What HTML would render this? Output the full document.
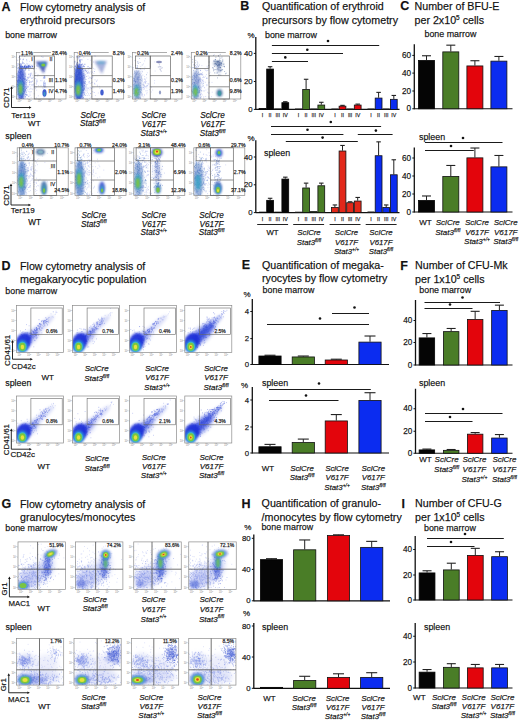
<!DOCTYPE html>
<html><head><meta charset="utf-8"><style>
html,body{margin:0;padding:0;background:#fff;width:520px;height:720px;overflow:hidden}
svg{display:block}
text{font-family:"Liberation Sans",sans-serif;stroke:#111;stroke-width:0.25px;stroke-opacity:0.75}
</style></head><body>
<svg width="520" height="720" viewBox="0 0 520 720">
<defs><filter id="bl" x="-50%" y="-50%" width="200%" height="200%"><feGaussianBlur stdDeviation="0.9"/></filter>
<filter id="f0_4" x="-50%" y="-50%" width="200%" height="200%"><feGaussianBlur stdDeviation="0.4"/></filter>
<filter id="f0_5" x="-50%" y="-50%" width="200%" height="200%"><feGaussianBlur stdDeviation="0.5"/></filter>
<filter id="f0_6" x="-50%" y="-50%" width="200%" height="200%"><feGaussianBlur stdDeviation="0.6"/></filter>
<filter id="f0_7" x="-50%" y="-50%" width="200%" height="200%"><feGaussianBlur stdDeviation="0.7"/></filter>
<filter id="f0_8" x="-50%" y="-50%" width="200%" height="200%"><feGaussianBlur stdDeviation="0.8"/></filter>
<filter id="f0_9" x="-50%" y="-50%" width="200%" height="200%"><feGaussianBlur stdDeviation="0.9"/></filter>
<filter id="f1" x="-50%" y="-50%" width="200%" height="200%"><feGaussianBlur stdDeviation="1"/></filter>
<filter id="f1_2" x="-50%" y="-50%" width="200%" height="200%"><feGaussianBlur stdDeviation="1.2"/></filter>
<filter id="f1_5" x="-50%" y="-50%" width="200%" height="200%"><feGaussianBlur stdDeviation="1.5"/></filter>
<filter id="f2" x="-50%" y="-50%" width="200%" height="200%"><feGaussianBlur stdDeviation="2"/></filter>
<filter id="f2_5" x="-50%" y="-50%" width="200%" height="200%"><feGaussianBlur stdDeviation="2.5"/></filter><clipPath id="c1"><rect x="16.5" y="52.5" width="49.5" height="46.5"/></clipPath>
<clipPath id="c2"><rect x="74.2" y="52.5" width="49.5" height="46.5"/></clipPath>
<clipPath id="c3"><rect x="132.5" y="52.5" width="49.5" height="46.5"/></clipPath>
<clipPath id="c4"><rect x="191.3" y="52.5" width="49.5" height="46.5"/></clipPath>
<clipPath id="c5"><rect x="17.2" y="147.8" width="51" height="47.7"/></clipPath>
<clipPath id="c6"><rect x="75" y="147.8" width="51" height="47.7"/></clipPath>
<clipPath id="c7"><rect x="133.8" y="147.8" width="51" height="47.7"/></clipPath>
<clipPath id="c8"><rect x="193.8" y="147.8" width="51" height="47.7"/></clipPath>
<clipPath id="c9"><rect x="16.4" y="305.5" width="47" height="47"/></clipPath>
<clipPath id="c10"><rect x="72.6" y="305.5" width="47" height="47"/></clipPath>
<clipPath id="c11"><rect x="129.5" y="305.5" width="47" height="47"/></clipPath>
<clipPath id="c12"><rect x="184.8" y="305.5" width="47" height="47"/></clipPath>
<clipPath id="c13"><rect x="16.4" y="396" width="47" height="47"/></clipPath>
<clipPath id="c14"><rect x="72.6" y="396" width="47" height="47"/></clipPath>
<clipPath id="c15"><rect x="129.5" y="396" width="47" height="47"/></clipPath>
<clipPath id="c16"><rect x="184.8" y="396" width="47" height="47"/></clipPath>
<clipPath id="c17"><rect x="18" y="541.9" width="47.5" height="47.7"/></clipPath>
<clipPath id="c18"><rect x="75.4" y="541.9" width="47.5" height="47.7"/></clipPath>
<clipPath id="c19"><rect x="133.75" y="541.9" width="47.5" height="47.7"/></clipPath>
<clipPath id="c20"><rect x="188.75" y="541.9" width="47.5" height="47.7"/></clipPath>
<clipPath id="c21"><rect x="16.5" y="638.5" width="47.2" height="46.6"/></clipPath>
<clipPath id="c22"><rect x="74" y="638.5" width="47.2" height="46.6"/></clipPath>
<clipPath id="c23"><rect x="131.5" y="638.5" width="47.2" height="46.6"/></clipPath>
<clipPath id="c24"><rect x="188.75" y="638.5" width="47.2" height="46.6"/></clipPath></defs>
<rect width="520" height="720" fill="#fff"/>
<text x="1.5" y="10.8" font-size="12.5" text-anchor="start" font-weight="bold" font-style="normal" fill="#111" >A</text>
<text x="20" y="10.5" font-size="10.7" text-anchor="start" font-weight="normal" font-style="normal" fill="#111" >Flow cytometry analysis of</text>
<text x="20" y="24" font-size="10.7" text-anchor="start" font-weight="normal" font-style="normal" fill="#111" >erythroid precursors</text>
<text x="5.2" y="38" font-size="8.9" text-anchor="start" font-weight="normal" font-style="normal" fill="#111" >bone marrow</text>
<g clip-path="url(#c1)"><path d="M20.2 88.4h0M20.3 78.0h0M18.3 79.3h0M24.3 87.3h0M24.0 85.1h0M22.2 84.3h0M16.1 92.8h0M22.5 88.3h0M16.0 60.0h0M18.4 76.1h0M21.9 81.4h0M22.5 73.9h0M21.9 87.0h0M19.1 103.6h0M22.6 97.1h0M19.2 72.7h0M20.0 80.7h0M22.9 85.1h0M19.7 69.9h0M19.5 97.4h0M18.6 85.1h0M22.3 63.2h0M21.1 98.5h0M15.1 77.9h0M20.7 71.7h0M22.5 81.2h0M16.7 92.4h0M23.0 93.9h0M25.2 86.6h0M21.4 65.6h0M22.8 74.3h0M19.7 66.1h0M18.2 75.3h0M24.8 56.4h0M16.7 85.0h0M25.2 89.3h0M15.4 50.3h0M22.1 72.7h0M17.7 94.3h0M24.2 84.0h0M21.7 87.5h0M25.7 89.8h0M22.5 88.9h0M16.4 98.1h0M23.8 88.7h0M15.2 74.0h0M23.5 59.2h0M20.5 94.8h0M17.1 102.3h0M22.6 80.1h0M22.0 90.2h0M21.4 96.4h0M19.1 76.8h0M24.1 82.3h0M18.4 93.9h0M25.3 76.4h0M16.9 80.3h0M20.6 78.2h0M25.1 69.1h0M24.7 66.0h0M18.7 90.0h0M24.3 92.8h0M22.0 83.8h0M21.4 89.2h0M20.5 85.5h0M22.7 82.0h0M23.2 89.1h0M26.9 86.1h0M19.7 77.3h0M21.0 93.6h0M20.0 86.9h0M26.4 49.7h0M17.7 85.1h0M22.2 85.0h0M19.7 90.3h0M21.8 75.4h0M28.1 86.5h0M19.4 80.7h0M20.3 81.2h0M13.0 75.9h0M24.0 67.3h0M20.8 94.0h0M23.5 100.8h0M16.0 77.5h0M20.0 89.9h0M24.2 48.2h0M24.2 63.8h0M23.0 63.2h0M21.5 97.1h0M20.6 84.4h0M23.3 83.8h0M20.7 101.3h0M24.1 78.3h0M29.1 67.5h0M23.7 78.7h0M21.4 90.9h0M21.7 90.0h0M16.5 63.0h0M22.8 69.9h0M18.0 63.5h0M24.7 91.4h0M25.3 70.2h0M21.0 67.6h0M23.3 102.0h0M18.4 101.7h0M23.9 79.8h0M15.2 99.7h0M20.7 74.4h0M22.2 87.2h0M25.4 69.1h0M24.3 100.7h0M25.3 79.7h0M18.8 94.8h0M21.3 83.6h0M25.2 78.7h0M14.2 77.1h0M15.5 92.3h0M21.9 74.3h0M21.0 92.5h0M21.2 98.7h0M20.8 95.1h0M25.4 102.3h0M19.0 93.1h0M15.5 68.3h0M15.2 95.5h0M17.4 81.8h0M20.4 81.6h0M19.3 84.9h0M26.3 82.6h0M22.6 94.6h0M20.4 66.1h0M19.4 95.5h0M16.2 74.5h0M24.0 92.0h0M21.0 92.1h0M21.5 67.1h0M16.4 73.9h0M23.7 74.9h0M18.3 72.3h0M16.5 80.5h0M17.5 86.6h0M14.1 86.1h0M19.1 57.5h0M23.1 78.5h0M14.4 71.0h0M21.9 76.2h0M23.3 91.4h0M23.0 86.1h0M24.9 90.3h0M22.3 55.7h0M23.6 98.5h0M20.1 76.1h0M26.7 59.8h0M22.4 112.5h0M18.3 90.7h0M26.5 80.5h0M22.6 93.4h0M18.3 80.9h0M21.9 92.4h0M20.9 79.5h0M18.0 77.5h0M23.6 83.3h0M18.5 71.4h0M28.8 96.4h0M22.9 49.3h0M22.8 88.1h0M26.0 87.4h0M20.8 88.6h0M15.3 95.0h0M22.0 73.2h0M24.9 104.8h0M16.9 73.6h0M21.9 84.3h0M19.8 69.7h0M27.2 95.1h0M17.5 65.1h0M26.0 94.5h0M26.4 92.2h0M18.4 85.3h0M14.6 72.6h0M20.8 88.6h0M18.9 80.4h0M22.3 86.7h0M22.9 84.6h0M20.0 91.9h0M21.1 71.6h0M19.2 82.0h0M20.7 84.0h0M21.0 84.2h0M20.6 66.1h0M22.2 95.3h0M22.3 79.6h0M22.3 69.8h0M15.4 82.8h0M18.3 91.3h0M17.8 48.9h0M17.9 101.9h0M19.9 64.7h0M18.8 88.6h0M22.5 84.2h0M25.4 90.9h0M20.9 89.5h0M25.9 94.2h0M24.0 68.4h0M20.6 91.2h0M20.1 95.5h0M22.8 93.4h0M20.4 114.1h0M24.6 79.3h0M21.3 114.7h0M20.0 93.0h0M23.9 82.1h0M17.6 84.4h0M22.1 96.2h0M23.3 82.3h0M23.5 88.8h0M21.6 82.7h0M20.3 90.6h0M17.9 74.1h0M21.0 63.6h0M19.7 56.7h0M19.0 89.2h0M22.7 81.3h0M20.3 64.1h0M26.4 88.5h0M24.2 70.9h0M20.5 59.1h0M23.3 93.8h0M15.4 81.3h0M22.9 59.8h0M15.6 68.6h0M19.2 64.3h0M21.1 85.1h0M22.9 90.8h0M25.4 96.7h0M17.1 75.6h0M17.9 68.4h0M20.8 82.1h0M22.4 62.0h0M17.4 81.7h0M20.4 78.1h0M20.8 72.4h0M23.1 86.5h0M20.7 73.5h0M20.5 47.7h0M18.1 82.5h0M16.6 84.5h0M21.4 64.6h0M20.3 78.0h0M22.4 89.7h0M20.9 71.3h0M20.6 81.2h0M23.2 85.7h0M18.9 64.9h0M19.9 72.7h0M17.7 80.5h0M19.6 83.3h0M22.5 76.8h0M27.8 77.9h0M24.2 83.5h0" stroke="#2f4ccc" stroke-width="0.9" stroke-linecap="round" stroke-opacity="0.55" fill="none"/><path d="M33.2 49.8h0M22.0 87.6h0M30.1 117.6h0M28.4 102.4h0M31.1 97.6h0M29.6 81.8h0M29.6 68.5h0M33.6 69.4h0M28.0 114.5h0M25.2 84.3h0M33.5 84.4h0M21.7 87.7h0M30.0 94.2h0M21.9 109.2h0M36.5 84.3h0M28.1 77.8h0M35.0 73.8h0M30.5 77.1h0M22.3 94.3h0M34.5 83.9h0M22.4 95.7h0M26.2 88.5h0M35.6 100.3h0M23.4 116.9h0M26.5 95.3h0M22.6 83.4h0M16.0 109.7h0M34.7 66.5h0M17.5 60.7h0M33.6 77.4h0M26.1 79.5h0M25.8 68.3h0M26.6 63.3h0M26.1 88.4h0M29.3 80.7h0M21.1 86.3h0M23.6 106.5h0M31.1 82.3h0M23.7 73.9h0M20.9 78.9h0M28.3 91.4h0M29.9 114.2h0M22.3 84.2h0M43.3 57.1h0M23.4 86.4h0M27.4 89.9h0M25.1 89.3h0M26.8 95.1h0M15.1 71.3h0M26.5 69.1h0M20.2 93.0h0M22.6 93.1h0M31.0 88.4h0M29.5 82.5h0M18.0 83.6h0M29.2 76.4h0M25.9 94.8h0M21.2 93.2h0M37.7 76.0h0M27.4 81.8h0M35.7 88.6h0M31.9 74.1h0M26.4 83.9h0M15.8 104.7h0M31.9 58.8h0M31.0 82.1h0M29.2 89.3h0M17.5 80.9h0M35.5 75.7h0M20.4 64.4h0M19.2 88.8h0M36.7 90.2h0M28.0 116.2h0M23.4 74.3h0M29.7 91.9h0M20.4 67.2h0M28.2 87.6h0M18.7 81.1h0M23.2 90.6h0M25.8 82.8h0M24.4 99.2h0M34.8 78.7h0M31.6 73.1h0M26.9 94.8h0M35.6 78.5h0M26.1 86.8h0M17.5 84.2h0M22.4 89.3h0M19.7 55.5h0M26.7 87.8h0M23.2 96.8h0M24.9 75.3h0M29.4 61.4h0M22.4 83.7h0M31.6 81.7h0M28.4 74.6h0M28.3 108.0h0M22.4 118.1h0M22.6 84.2h0M27.5 98.7h0M19.1 53.8h0M30.1 95.5h0M30.2 121.9h0M27.7 87.7h0M32.1 89.3h0M36.5 66.2h0M24.2 34.4h0M31.4 78.6h0M32.0 115.0h0M26.5 80.3h0M23.5 71.9h0M22.7 93.2h0M26.7 85.0h0M25.5 97.2h0M29.5 82.0h0M30.5 81.8h0M19.6 105.0h0M29.3 70.2h0M33.0 89.0h0M17.1 107.2h0" stroke="#8a98e6" stroke-width="0.9" stroke-linecap="round" stroke-opacity="0.45" fill="none"/><ellipse cx="21.1" cy="84" rx="4.2" ry="18" fill="#2f4ccc" fill-opacity="0.8" filter="url(#f1)"/><ellipse cx="20.8" cy="88" rx="2.52" ry="8" fill="#3aa2c6" fill-opacity="0.85" filter="url(#f1)"/><ellipse cx="20.5" cy="89" rx="1.68" ry="5" fill="#7cc63c" fill-opacity="0.95" filter="url(#f1)"/><path d="M27.7 67.5h0M27.0 66.7h0M18.3 67.6h0M26.2 66.6h0M27.8 66.9h0M29.4 66.5h0M25.8 65.1h0M23.9 67.3h0M32.7 66.5h0M25.4 68.1h0M24.4 67.4h0M34.4 66.8h0M32.1 66.2h0M27.0 66.7h0M26.6 67.7h0M37.9 66.3h0M23.1 67.2h0M20.7 67.2h0M28.9 66.6h0M28.7 65.6h0M29.8 65.6h0M22.5 66.4h0M24.0 67.5h0M26.4 66.5h0M28.7 68.1h0M26.0 67.1h0M32.2 67.0h0M19.6 68.8h0M37.0 65.2h0M25.8 67.1h0M30.8 67.3h0M24.6 66.0h0M26.5 67.6h0M20.6 66.0h0M25.9 65.3h0M24.7 66.5h0M28.3 66.2h0M21.6 66.5h0M25.8 66.3h0M26.1 67.4h0M31.9 68.2h0M22.1 66.5h0M13.6 68.3h0M22.4 66.8h0M28.6 65.7h0M28.3 66.8h0M16.9 67.0h0M32.0 65.3h0M30.0 67.0h0M28.4 67.2h0M32.5 66.6h0M30.4 66.5h0M29.6 66.1h0M25.5 68.2h0M28.2 66.7h0M20.3 66.2h0M27.0 67.6h0M28.1 67.2h0M25.8 67.9h0M24.0 66.4h0M30.4 66.9h0M24.6 66.3h0M24.7 67.3h0M27.8 65.8h0M28.1 66.9h0M21.0 67.4h0M24.6 66.5h0M30.0 67.9h0M22.6 67.2h0M21.6 68.7h0" stroke="#2f4ccc" stroke-width="0.9" stroke-linecap="round" stroke-opacity="0.6" fill="none"/><path d="M26.0 90.8h0M25.1 87.3h0M42.3 57.1h0M26.4 84.5h0M28.4 74.0h0M41.9 80.7h0M19.1 87.7h0M18.7 90.4h0M25.5 81.3h0M36.6 81.1h0M20.7 64.7h0M36.1 86.7h0M24.1 87.7h0M32.0 85.8h0M15.4 77.3h0M34.4 86.6h0M34.3 57.9h0M30.0 84.4h0M44.3 71.4h0M27.0 80.3h0M34.3 76.0h0M35.9 72.9h0M30.6 75.3h0M29.9 73.8h0M19.4 89.8h0M30.8 75.0h0M30.2 88.9h0M23.1 79.0h0M32.2 84.7h0M27.0 61.0h0M36.5 83.0h0M29.1 77.5h0M30.6 76.2h0M22.9 73.3h0M25.4 74.5h0M22.0 85.7h0M21.1 85.9h0M22.9 83.2h0M37.2 81.8h0M24.6 80.4h0M29.9 64.4h0M25.4 81.5h0M26.2 80.7h0M33.4 86.9h0M34.4 85.3h0M27.3 79.8h0M27.4 77.2h0M27.9 64.5h0M27.0 79.8h0M23.2 79.8h0M32.1 78.5h0M41.5 56.5h0M27.8 63.6h0M34.9 103.9h0M14.0 81.2h0M32.1 77.3h0M32.3 59.8h0M34.1 83.3h0M29.1 74.7h0M32.8 75.6h0M30.3 75.4h0M15.5 79.7h0M30.2 86.8h0M23.7 79.7h0M32.7 81.3h0M36.5 97.9h0M23.5 62.7h0M34.1 93.8h0M34.5 87.3h0M25.3 73.6h0M34.3 71.8h0M18.1 71.0h0M44.0 97.3h0M24.9 73.4h0M30.4 73.3h0M36.9 79.3h0M22.5 91.8h0M25.5 82.0h0M28.9 77.2h0M30.9 73.8h0M17.9 60.1h0M21.4 73.2h0M28.9 80.5h0M32.3 81.1h0M24.2 73.6h0M16.3 78.5h0M31.9 84.8h0M28.3 78.4h0M34.6 80.1h0M33.4 85.2h0M30.3 91.8h0M25.6 76.8h0M24.2 72.8h0M38.3 95.8h0M29.1 85.1h0M36.1 87.3h0M36.2 68.6h0M25.2 84.1h0M37.6 80.9h0M23.8 76.8h0M25.0 72.3h0M38.0 74.4h0M29.1 99.5h0M36.1 83.0h0M25.3 83.7h0M38.7 85.6h0M36.6 80.9h0M32.1 78.2h0M31.6 91.7h0M20.4 79.4h0M30.4 74.9h0M27.2 87.1h0M41.0 85.7h0M31.0 66.0h0M40.6 80.7h0M28.8 69.9h0M28.7 70.1h0M29.4 84.2h0M29.2 82.5h0M23.9 92.9h0" stroke="#8a98e6" stroke-width="0.9" stroke-linecap="round" stroke-opacity="0.5" fill="none"/><polygon points="35.5,61.5 47.5,61.5 43.6,73.5" fill="#2a3fa8" fill-opacity="0.8" filter="url(#f0_9)"/><ellipse cx="43" cy="64.5" rx="3.5" ry="2.2" fill="#3aa2c6" fill-opacity="0.8" filter="url(#f0_9)"/><ellipse cx="43.3" cy="65" rx="2" ry="1.6" fill="#7cc63c" fill-opacity="1" filter="url(#f0_6)"/><path d="M45.1 83.0h0M43.3 78.2h0M43.8 85.2h0M44.9 83.2h0M45.1 86.5h0M44.0 76.1h0M43.6 86.2h0M44.3 81.0h0M43.9 82.1h0M43.0 88.0h0M44.9 83.4h0M43.7 84.1h0M43.9 77.5h0M44.6 87.0h0M44.7 76.1h0M44.3 76.9h0M43.5 83.1h0M45.3 85.0h0M44.8 78.4h0M45.9 87.2h0M44.8 86.8h0M44.3 77.8h0M44.9 85.0h0M44.0 85.2h0M45.1 77.1h0" stroke="#2f4ccc" stroke-width="0.9" stroke-linecap="round" stroke-opacity="0.5" fill="none"/><ellipse cx="44.5" cy="93" rx="2.1" ry="3.8" fill="#2f4ccc" fill-opacity="0.9" filter="url(#f0_7)"/><ellipse cx="44.5" cy="94" rx="1" ry="2" fill="#3aa2c6" fill-opacity="0.8" filter="url(#f0_7)"/></g>
<rect x="16.5" y="52.5" width="49.5" height="46.5" fill="none" stroke="#8a8a8a" stroke-width="0.7" />
<text x="15.3" y="98" font-size="2.6" text-anchor="end" fill="#888" style="stroke:none">10<tspan font-size="1.8" dy="-1">1</tspan></text>
<line x1="15.7" y1="97" x2="16.5" y2="97" stroke="#888" stroke-width="0.4"/>
<text x="15.3" y="88.12" font-size="2.6" text-anchor="end" fill="#888" style="stroke:none">10<tspan font-size="1.8" dy="-1">2</tspan></text>
<line x1="15.7" y1="87.12" x2="16.5" y2="87.12" stroke="#888" stroke-width="0.4"/>
<text x="15.3" y="78.23" font-size="2.6" text-anchor="end" fill="#888" style="stroke:none">10<tspan font-size="1.8" dy="-1">3</tspan></text>
<line x1="15.7" y1="77.23" x2="16.5" y2="77.23" stroke="#888" stroke-width="0.4"/>
<text x="15.3" y="68.35" font-size="2.6" text-anchor="end" fill="#888" style="stroke:none">10<tspan font-size="1.8" dy="-1">4</tspan></text>
<line x1="15.7" y1="67.35" x2="16.5" y2="67.35" stroke="#888" stroke-width="0.4"/>
<text x="15.3" y="58.47" font-size="2.6" text-anchor="end" fill="#888" style="stroke:none">10<tspan font-size="1.8" dy="-1">5</tspan></text>
<line x1="15.7" y1="57.47" x2="16.5" y2="57.47" stroke="#888" stroke-width="0.4"/>
<text x="19.5" y="102.4" font-size="2.6" text-anchor="middle" fill="#888" style="stroke:none">10<tspan font-size="1.8" dy="-1">1</tspan></text>
<line x1="19.5" y1="99" x2="19.5" y2="99.8" stroke="#888" stroke-width="0.4"/>
<text x="29.62" y="102.4" font-size="2.6" text-anchor="middle" fill="#888" style="stroke:none">10<tspan font-size="1.8" dy="-1">2</tspan></text>
<line x1="29.62" y1="99" x2="29.62" y2="99.8" stroke="#888" stroke-width="0.4"/>
<text x="39.73" y="102.4" font-size="2.6" text-anchor="middle" fill="#888" style="stroke:none">10<tspan font-size="1.8" dy="-1">3</tspan></text>
<line x1="39.73" y1="99" x2="39.73" y2="99.8" stroke="#888" stroke-width="0.4"/>
<text x="49.85" y="102.4" font-size="2.6" text-anchor="middle" fill="#888" style="stroke:none">10<tspan font-size="1.8" dy="-1">4</tspan></text>
<line x1="49.85" y1="99" x2="49.85" y2="99.8" stroke="#888" stroke-width="0.4"/>
<text x="59.97" y="102.4" font-size="2.6" text-anchor="middle" fill="#888" style="stroke:none">10<tspan font-size="1.8" dy="-1">5</tspan></text>
<line x1="59.97" y1="99" x2="59.97" y2="99.8" stroke="#888" stroke-width="0.4"/>
<rect x="19.5" y="56" width="14.7" height="12.6" fill="none" stroke="#5a5a5a" stroke-width="0.65" />
<rect x="34.2" y="56" width="20.3" height="43" fill="none" stroke="#5a5a5a" stroke-width="0.65" />
<line x1="34.2" y1="75.6" x2="54.5" y2="75.6" stroke="#5a5a5a" stroke-width="0.65"/>
<line x1="34.2" y1="86.8" x2="54.5" y2="86.8" stroke="#5a5a5a" stroke-width="0.65"/>
<rect x="20.3" y="50" width="13" height="5" fill="#fff" stroke="none" stroke-width="1" />
<rect x="51" y="50" width="16.5" height="5" fill="#fff" stroke="none" stroke-width="1" />
<text x="21" y="54.5" font-size="5.2" text-anchor="start" font-weight="normal" font-style="normal" fill="#222" >1.1%</text>
<text x="66.8" y="54.5" font-size="5.2" text-anchor="end" font-weight="normal" font-style="normal" fill="#222" >28.4%</text>
<text x="66.8" y="81.9" font-size="5.2" text-anchor="end" font-weight="normal" font-style="normal" fill="#222" >1.1%</text>
<text x="66.8" y="93.1" font-size="5.2" text-anchor="end" font-weight="normal" font-style="normal" fill="#222" >4.7%</text>
<text x="32.7" y="60.8" font-size="5.2" text-anchor="end" font-weight="normal" font-style="normal" fill="#333" >I</text>
<text x="52.5" y="60.8" font-size="5.2" text-anchor="end" font-weight="normal" font-style="normal" fill="#333" >II</text>
<text x="53" y="81.9" font-size="5.2" text-anchor="end" font-weight="normal" font-style="normal" fill="#333" >III</text>
<text x="53.5" y="93.3" font-size="5.2" text-anchor="end" font-weight="normal" font-style="normal" fill="#333" >IV</text>
<g clip-path="url(#c2)"><path d="M79.6 92.2h0M78.0 82.3h0M78.6 91.8h0M78.0 68.6h0M74.7 112.0h0M71.6 80.4h0M78.0 78.7h0M75.4 88.4h0M79.2 68.9h0M77.4 65.1h0M80.2 106.9h0M84.4 94.3h0M78.8 81.6h0M80.5 102.5h0M79.0 80.8h0M74.5 81.9h0M79.4 72.9h0M75.3 81.4h0M80.1 72.0h0M81.5 77.2h0M79.9 101.1h0M76.9 81.1h0M77.7 76.9h0M80.0 61.0h0M79.9 62.8h0M76.4 91.6h0M72.7 98.2h0M85.2 95.4h0M81.1 82.4h0M78.1 109.5h0M75.1 80.9h0M80.7 74.5h0M74.4 85.0h0M78.9 58.8h0M76.7 71.2h0M77.7 87.8h0M81.7 64.7h0M78.6 72.9h0M72.9 89.6h0M77.0 77.7h0M71.3 87.5h0M78.9 89.6h0M76.9 100.7h0M79.9 74.6h0M80.2 89.3h0M76.7 95.3h0M80.4 91.1h0M82.4 114.6h0M78.5 74.9h0M80.3 79.6h0M70.9 106.4h0M80.3 60.2h0M76.5 84.5h0M77.6 76.2h0M79.7 93.7h0M82.3 83.8h0M80.1 61.2h0M73.6 80.9h0M76.7 82.7h0M75.8 72.8h0M78.2 52.0h0M74.4 88.4h0M78.7 67.1h0M79.5 102.1h0M83.3 65.3h0M76.5 56.3h0M76.5 63.8h0M75.7 84.3h0M77.6 76.6h0M73.1 92.2h0M77.5 62.8h0M78.7 95.0h0M73.8 86.2h0M74.1 91.8h0M80.8 77.4h0M75.1 62.0h0M75.5 90.9h0M79.7 80.4h0M76.6 78.9h0M80.4 50.0h0M77.0 80.3h0M74.6 73.5h0M77.8 65.4h0M74.3 61.8h0M75.0 79.1h0M81.1 78.1h0M77.2 68.8h0M78.8 74.2h0M82.1 79.8h0M81.4 84.7h0M78.2 82.3h0M75.4 87.8h0M77.6 69.3h0M78.5 90.4h0M78.2 49.5h0M76.2 79.4h0M79.9 68.4h0M79.2 87.8h0M79.8 57.1h0M76.0 69.8h0M76.3 77.4h0M82.0 78.2h0M74.4 62.2h0M80.4 67.3h0M77.4 97.1h0M83.6 98.8h0M74.4 101.5h0M78.3 93.8h0M78.6 95.0h0M78.8 81.9h0M78.2 70.4h0M78.8 92.3h0M74.9 82.8h0M75.2 66.2h0M73.3 104.3h0M79.5 77.4h0M82.4 55.5h0M79.1 73.9h0M81.2 64.6h0M79.3 81.2h0M83.8 75.2h0M78.7 87.2h0M80.4 88.6h0M79.3 68.9h0M83.2 104.6h0M79.3 73.2h0M82.6 69.5h0M79.8 61.6h0M83.7 66.5h0M80.0 73.5h0M77.1 65.7h0M78.5 66.7h0M82.1 69.6h0M78.5 90.7h0M81.4 92.9h0M82.5 86.4h0M81.3 93.2h0M74.2 81.2h0M79.0 79.8h0M80.9 68.4h0M73.7 73.5h0M80.6 70.1h0M70.6 97.5h0M83.3 89.6h0M78.1 78.6h0M74.4 68.2h0M81.7 76.0h0M83.0 79.2h0M71.0 83.7h0M84.4 85.5h0M76.4 72.4h0M80.9 71.3h0M74.3 83.6h0M79.0 71.9h0M75.2 86.5h0M72.3 72.7h0M76.9 105.0h0M75.2 90.0h0M78.1 96.7h0M83.9 78.0h0M79.6 69.5h0M77.4 91.2h0M74.3 71.2h0M78.9 77.3h0M77.4 53.7h0M77.6 79.8h0M78.6 82.4h0M81.7 108.9h0M74.6 68.7h0M80.6 52.7h0M74.9 69.1h0M74.8 66.3h0M74.2 69.6h0M80.0 100.2h0M72.7 86.9h0M80.6 86.0h0M84.8 86.3h0M83.3 71.0h0M74.1 99.2h0M79.8 64.4h0M78.5 92.3h0M75.9 86.5h0M74.0 89.0h0M79.8 79.2h0M77.8 79.4h0M83.6 97.5h0M71.4 67.4h0M78.1 81.7h0M75.0 92.6h0M88.2 66.7h0M75.0 83.1h0M82.9 92.4h0M79.2 88.4h0M79.1 81.1h0M78.0 74.8h0M80.2 79.8h0M80.0 75.9h0M84.5 83.4h0M79.0 102.6h0M79.1 84.9h0M79.6 60.2h0M82.3 64.0h0M83.1 90.5h0M77.7 66.7h0M81.2 76.8h0M84.3 76.3h0M79.3 81.2h0M74.8 61.1h0M81.5 86.5h0M78.4 73.1h0M81.4 69.2h0M81.9 85.7h0M75.2 74.5h0M77.8 74.3h0M79.7 68.9h0M75.6 66.2h0M75.6 87.5h0M80.7 49.8h0M79.7 64.2h0M78.4 85.5h0M84.3 77.6h0M80.2 70.4h0M70.8 58.4h0M81.1 65.3h0M77.3 94.1h0M81.4 72.6h0M76.7 64.4h0M83.9 66.3h0M78.7 81.8h0M78.4 94.9h0M73.0 68.3h0M79.5 78.5h0M82.0 59.9h0M81.9 68.2h0M77.6 106.7h0M80.6 62.1h0M81.6 74.7h0M82.7 89.6h0M79.4 72.5h0M78.7 50.2h0M79.2 99.1h0M76.9 67.6h0M79.5 90.8h0M78.7 57.4h0M77.2 82.4h0M80.9 59.6h0M79.2 98.4h0M84.7 64.3h0M74.6 78.9h0M76.7 76.4h0M79.5 88.9h0M77.7 69.0h0M75.3 75.7h0M76.6 80.2h0M90.7 93.6h0M77.5 85.5h0M74.4 63.7h0M81.4 95.9h0M76.2 94.3h0M79.6 81.4h0M86.0 79.4h0M74.0 82.5h0M78.2 104.1h0M70.8 95.4h0M79.4 56.6h0M81.4 78.7h0M81.1 83.1h0M79.3 86.0h0M83.1 86.3h0M81.5 70.3h0M86.3 71.5h0M83.2 88.0h0M77.2 85.0h0M81.4 78.4h0M73.9 73.5h0M83.9 75.6h0M75.6 90.0h0M83.8 110.1h0M81.3 80.5h0M81.4 83.5h0M74.0 104.0h0M84.4 66.7h0M84.8 87.8h0M77.4 62.4h0M79.9 80.6h0M82.4 98.6h0M83.8 73.6h0M77.2 98.0h0M78.8 74.7h0M77.4 90.2h0M81.7 91.7h0M80.0 89.6h0M82.1 96.7h0M84.5 82.7h0M79.0 84.4h0M81.0 76.9h0M85.4 70.2h0M80.2 76.3h0M77.1 83.0h0M85.0 69.9h0M75.9 70.5h0M75.1 101.9h0M73.6 83.6h0M80.3 88.4h0M84.1 88.3h0M76.8 78.6h0M80.7 73.4h0M76.9 85.1h0M77.8 106.2h0M77.6 88.0h0M75.5 81.7h0M80.2 77.3h0M79.9 80.4h0M83.0 68.9h0M79.7 95.7h0M78.1 91.0h0M79.7 93.1h0M91.6 78.3h0M80.2 78.3h0M76.8 108.4h0M84.2 88.6h0M76.0 116.5h0M85.3 83.4h0M77.6 87.1h0M85.6 81.3h0M76.4 79.6h0M71.3 92.6h0M79.6 98.0h0M80.2 87.4h0M79.4 60.2h0M79.2 86.1h0M83.0 90.5h0M75.8 81.3h0M80.1 98.6h0M77.0 57.6h0M76.6 76.5h0M84.1 89.7h0M73.8 92.6h0" stroke="#2f4ccc" stroke-width="0.9" stroke-linecap="round" stroke-opacity="0.55" fill="none"/><path d="M94.5 92.5h0M78.3 108.1h0M88.8 69.7h0M97.3 86.2h0M72.2 87.5h0M83.8 92.7h0M87.0 70.3h0M87.2 95.5h0M83.7 82.2h0M77.7 80.9h0M81.2 82.2h0M81.8 55.7h0M87.7 73.0h0M82.8 68.5h0M84.2 77.6h0M94.6 56.0h0M77.0 83.6h0M76.9 79.4h0M99.8 88.2h0M84.8 92.5h0M87.8 89.9h0M84.8 79.6h0M91.8 96.4h0M84.6 85.7h0M77.8 71.3h0M75.0 79.6h0M93.9 101.5h0M83.8 78.5h0M89.2 95.4h0M79.3 82.9h0M88.6 93.8h0M89.4 98.4h0M86.4 76.4h0M75.3 71.9h0M90.0 107.4h0M89.7 77.2h0M74.1 96.9h0M78.3 80.6h0M93.9 73.5h0M81.9 92.6h0M80.9 97.0h0M95.0 79.8h0M93.6 68.4h0M85.3 78.9h0M69.2 78.8h0M88.4 78.4h0M76.7 93.1h0M79.3 97.1h0M90.0 89.8h0M83.0 82.9h0M94.4 113.9h0M86.5 47.8h0M76.9 62.5h0M93.5 62.0h0M92.6 87.7h0M83.3 105.8h0M83.1 101.8h0M91.6 73.3h0M84.2 101.4h0M70.7 98.1h0M83.0 95.6h0M82.4 76.8h0M71.8 61.8h0M79.5 82.0h0M77.0 86.9h0M86.0 89.3h0M87.6 92.3h0M80.1 89.9h0M84.3 89.5h0M73.2 74.7h0M78.2 70.4h0M81.8 74.7h0M82.6 66.6h0M76.3 76.8h0M79.1 85.5h0M84.4 93.7h0M78.3 81.8h0M83.4 81.8h0M77.0 107.2h0M84.8 102.3h0M79.3 83.7h0M89.2 82.0h0M84.7 74.2h0M95.3 95.5h0M82.2 85.0h0M79.3 93.6h0M83.9 75.7h0M86.6 121.0h0M84.0 74.2h0M81.3 95.1h0M80.4 64.2h0M90.7 60.2h0M74.4 80.2h0M83.8 57.4h0M73.8 87.1h0M80.8 50.4h0M92.7 105.1h0M94.4 83.7h0M78.2 73.8h0M91.8 78.4h0M75.1 96.1h0M89.9 68.1h0M79.4 94.5h0M74.9 89.4h0M82.6 97.6h0M78.6 77.9h0M79.6 107.0h0M88.3 68.5h0M80.6 86.3h0M83.1 91.0h0M77.2 73.8h0M95.7 100.9h0M79.0 109.2h0M92.2 50.4h0M86.0 98.4h0M84.9 81.8h0M91.6 88.8h0M70.7 83.6h0M85.3 64.3h0M91.4 82.8h0M75.1 80.5h0M79.9 92.2h0M79.6 75.1h0M92.7 75.7h0M81.5 81.9h0M79.9 93.9h0M76.9 75.5h0M95.5 56.1h0M77.8 84.4h0M70.0 47.3h0M80.1 98.6h0M85.7 74.5h0M77.3 121.3h0M87.5 66.8h0M94.0 103.6h0M80.1 56.8h0M96.7 81.1h0M81.1 87.2h0M82.4 100.6h0M80.3 82.7h0M87.7 102.5h0M79.7 74.4h0M92.7 82.2h0M90.2 87.1h0M85.4 70.4h0M84.0 81.7h0M80.3 110.5h0M76.6 71.4h0M86.5 99.8h0M79.7 79.1h0M79.7 68.1h0M92.0 82.6h0M81.6 87.1h0M89.8 104.4h0M86.4 87.3h0M87.7 99.2h0" stroke="#8a98e6" stroke-width="0.9" stroke-linecap="round" stroke-opacity="0.45" fill="none"/><ellipse cx="78.8" cy="83" rx="5.2" ry="19" fill="#2f4ccc" fill-opacity="0.9" filter="url(#f1)"/><ellipse cx="78.5" cy="89" rx="3.12" ry="8" fill="#3aa2c6" fill-opacity="0.85" filter="url(#f1)"/><ellipse cx="78.2" cy="90" rx="2.08" ry="5" fill="#7cc63c" fill-opacity="0.95" filter="url(#f1)"/><path d="M89.7 67.7h0M86.7 76.6h0M96.3 81.3h0M81.8 94.2h0M83.8 84.8h0M85.7 84.6h0M92.5 72.5h0M82.2 88.9h0M84.5 82.2h0M92.1 71.6h0M92.3 77.3h0M82.7 74.8h0M99.3 86.3h0M89.2 73.1h0M94.9 69.1h0M83.3 92.8h0M92.8 77.1h0M90.3 77.7h0M78.6 90.2h0M86.9 88.5h0M90.9 71.9h0M87.2 72.8h0M88.6 88.4h0M92.2 104.6h0M84.1 92.4h0M91.6 88.2h0M81.4 86.7h0M88.8 82.1h0M88.6 71.7h0M86.1 86.5h0M85.1 87.2h0M94.7 83.2h0M84.1 84.9h0M85.3 75.8h0M84.6 98.8h0M90.5 87.8h0M91.6 64.5h0M89.0 87.9h0M85.0 70.4h0M90.0 78.2h0M92.8 76.4h0M86.9 90.9h0M92.4 91.5h0M85.1 101.4h0M81.1 75.0h0M86.2 93.7h0M88.8 99.7h0M91.2 88.4h0M81.4 77.9h0M86.8 70.2h0M81.7 69.2h0M83.8 89.2h0M89.2 83.2h0M89.1 72.9h0M84.5 75.9h0M80.7 76.4h0M81.0 80.0h0M90.7 83.5h0M86.5 85.1h0M85.0 72.0h0M75.2 92.5h0M87.9 59.5h0M88.1 75.9h0M85.8 82.4h0M82.2 66.7h0M82.3 88.3h0M81.0 67.0h0M86.1 99.4h0M80.9 91.3h0M87.2 84.5h0M94.3 71.5h0M85.6 77.2h0M89.5 81.5h0M87.6 88.0h0M84.8 81.9h0M82.8 93.2h0M90.9 97.3h0M77.4 73.2h0M85.8 90.7h0M83.8 71.5h0M97.4 80.1h0M86.8 71.9h0M97.3 85.2h0M84.5 78.1h0M86.1 84.9h0M87.1 73.4h0M94.6 71.5h0M93.9 87.9h0M78.2 90.3h0M88.3 72.8h0M98.3 93.0h0M73.7 90.6h0M82.5 64.7h0M90.1 67.7h0M84.1 81.0h0M84.0 70.0h0M72.3 78.3h0M93.1 92.2h0M95.0 84.2h0M87.6 72.7h0" stroke="#8a98e6" stroke-width="0.9" stroke-linecap="round" stroke-opacity="0.45" fill="none"/><polygon points="94,61 107,61 102,74" fill="#2a3fa8" fill-opacity="0.4" filter="url(#f1)"/><ellipse cx="101" cy="62.5" rx="4" ry="1.5" fill="#3aa2c6" fill-opacity="0.5" filter="url(#f0_8)"/><ellipse cx="102" cy="92.5" rx="1.7" ry="3" fill="#2f4ccc" fill-opacity="0.9" filter="url(#f0_7)"/></g>
<rect x="74.2" y="52.5" width="49.5" height="46.5" fill="none" stroke="#8a8a8a" stroke-width="0.7" />
<text x="73" y="98" font-size="2.6" text-anchor="end" fill="#888" style="stroke:none">10<tspan font-size="1.8" dy="-1">1</tspan></text>
<line x1="73.4" y1="97" x2="74.2" y2="97" stroke="#888" stroke-width="0.4"/>
<text x="73" y="88.12" font-size="2.6" text-anchor="end" fill="#888" style="stroke:none">10<tspan font-size="1.8" dy="-1">2</tspan></text>
<line x1="73.4" y1="87.12" x2="74.2" y2="87.12" stroke="#888" stroke-width="0.4"/>
<text x="73" y="78.23" font-size="2.6" text-anchor="end" fill="#888" style="stroke:none">10<tspan font-size="1.8" dy="-1">3</tspan></text>
<line x1="73.4" y1="77.23" x2="74.2" y2="77.23" stroke="#888" stroke-width="0.4"/>
<text x="73" y="68.35" font-size="2.6" text-anchor="end" fill="#888" style="stroke:none">10<tspan font-size="1.8" dy="-1">4</tspan></text>
<line x1="73.4" y1="67.35" x2="74.2" y2="67.35" stroke="#888" stroke-width="0.4"/>
<text x="73" y="58.47" font-size="2.6" text-anchor="end" fill="#888" style="stroke:none">10<tspan font-size="1.8" dy="-1">5</tspan></text>
<line x1="73.4" y1="57.47" x2="74.2" y2="57.47" stroke="#888" stroke-width="0.4"/>
<text x="77.2" y="102.4" font-size="2.6" text-anchor="middle" fill="#888" style="stroke:none">10<tspan font-size="1.8" dy="-1">1</tspan></text>
<line x1="77.2" y1="99" x2="77.2" y2="99.8" stroke="#888" stroke-width="0.4"/>
<text x="87.32" y="102.4" font-size="2.6" text-anchor="middle" fill="#888" style="stroke:none">10<tspan font-size="1.8" dy="-1">2</tspan></text>
<line x1="87.32" y1="99" x2="87.32" y2="99.8" stroke="#888" stroke-width="0.4"/>
<text x="97.43" y="102.4" font-size="2.6" text-anchor="middle" fill="#888" style="stroke:none">10<tspan font-size="1.8" dy="-1">3</tspan></text>
<line x1="97.43" y1="99" x2="97.43" y2="99.8" stroke="#888" stroke-width="0.4"/>
<text x="107.55" y="102.4" font-size="2.6" text-anchor="middle" fill="#888" style="stroke:none">10<tspan font-size="1.8" dy="-1">4</tspan></text>
<line x1="107.55" y1="99" x2="107.55" y2="99.8" stroke="#888" stroke-width="0.4"/>
<text x="117.67" y="102.4" font-size="2.6" text-anchor="middle" fill="#888" style="stroke:none">10<tspan font-size="1.8" dy="-1">5</tspan></text>
<line x1="117.67" y1="99" x2="117.67" y2="99.8" stroke="#888" stroke-width="0.4"/>
<rect x="77.2" y="56" width="14.7" height="12.6" fill="none" stroke="#5a5a5a" stroke-width="0.65" />
<rect x="91.9" y="56" width="20.3" height="43" fill="none" stroke="#5a5a5a" stroke-width="0.65" />
<line x1="91.9" y1="75.6" x2="112.2" y2="75.6" stroke="#5a5a5a" stroke-width="0.65"/>
<line x1="91.9" y1="86.8" x2="112.2" y2="86.8" stroke="#5a5a5a" stroke-width="0.65"/>
<rect x="78" y="50" width="13" height="5" fill="#fff" stroke="none" stroke-width="1" />
<rect x="108.7" y="50" width="16.5" height="5" fill="#fff" stroke="none" stroke-width="1" />
<text x="78.7" y="54.5" font-size="5.2" text-anchor="start" font-weight="normal" font-style="normal" fill="#222" >0.4%</text>
<text x="124.5" y="54.5" font-size="5.2" text-anchor="end" font-weight="normal" font-style="normal" fill="#222" >8.2%</text>
<text x="124.5" y="81.9" font-size="5.2" text-anchor="end" font-weight="normal" font-style="normal" fill="#222" >0.2%</text>
<text x="124.5" y="93.1" font-size="5.2" text-anchor="end" font-weight="normal" font-style="normal" fill="#222" >1.4%</text>
<g clip-path="url(#c3)"><path d="M129.0 75.5h0M134.4 73.3h0M137.0 87.9h0M135.0 93.0h0M137.8 93.2h0M140.2 97.3h0M135.9 76.8h0M137.2 97.5h0M130.1 92.9h0M135.4 91.6h0M138.3 79.9h0M134.4 80.1h0M138.6 71.1h0M137.1 77.2h0M134.9 70.9h0M131.8 88.6h0M137.8 79.2h0M136.3 94.3h0M137.3 87.8h0M136.6 91.3h0M136.0 72.3h0M139.1 90.5h0M134.1 86.1h0M137.6 87.8h0M146.8 86.4h0M137.0 79.3h0M135.2 53.3h0M135.6 81.9h0M133.6 84.8h0M138.5 97.0h0M144.1 85.3h0M134.3 71.6h0M141.2 77.6h0M137.0 92.4h0M137.5 86.0h0M137.9 62.8h0M136.4 90.9h0M133.1 67.5h0M138.7 81.0h0M138.3 63.4h0M136.9 74.1h0M139.4 103.2h0M135.7 93.7h0M134.1 80.6h0M138.1 76.8h0M140.9 87.7h0M133.0 69.0h0M135.1 60.6h0M140.5 79.6h0M135.2 84.0h0M135.7 98.1h0M141.2 92.3h0M138.8 94.4h0M138.3 83.1h0M140.3 87.0h0M138.8 100.7h0M143.0 84.4h0M140.4 68.5h0M134.7 88.1h0M135.0 72.6h0M134.5 88.8h0M132.7 90.2h0M140.1 62.5h0M138.4 92.1h0M133.2 89.0h0M135.8 90.0h0M139.4 89.0h0M128.9 91.3h0M142.3 71.8h0M144.9 79.4h0M132.8 70.0h0M141.4 90.2h0M135.0 78.0h0M130.0 72.0h0M132.5 86.0h0M136.1 93.8h0M137.6 82.2h0M138.8 99.6h0M135.7 85.5h0M135.4 74.9h0M134.1 78.4h0M133.0 81.3h0M135.8 87.3h0M139.8 105.3h0M135.5 82.4h0M138.6 77.5h0M140.2 91.7h0M137.0 97.0h0M134.9 81.3h0M135.6 81.6h0M132.8 82.8h0M139.8 89.5h0M140.0 89.4h0M139.6 73.3h0M135.8 65.6h0M144.2 106.6h0M136.7 78.9h0M138.5 74.2h0M140.8 109.0h0M132.0 76.5h0M140.6 98.7h0M139.2 86.9h0M136.6 85.4h0M135.2 79.7h0M135.5 100.7h0M131.1 94.5h0M132.4 68.3h0M130.5 74.4h0M138.3 79.1h0M136.9 73.8h0M137.4 67.1h0M137.7 78.9h0M133.4 97.1h0M141.8 78.3h0M141.1 88.1h0M140.2 92.3h0M137.5 78.8h0M141.2 76.4h0M136.9 91.3h0M131.3 91.0h0M135.7 81.3h0M138.5 84.7h0M137.6 77.2h0M134.5 80.9h0M135.8 73.9h0M141.0 102.0h0M132.3 79.9h0M139.7 58.5h0M139.9 84.9h0M139.2 94.7h0M140.9 69.6h0M138.9 85.6h0M139.0 68.6h0M134.2 92.0h0M140.3 102.1h0M132.0 98.1h0M136.0 81.1h0M135.9 90.9h0M140.3 74.8h0M138.8 85.9h0M134.7 93.6h0M134.2 78.8h0M136.8 85.0h0M134.5 79.2h0M140.5 85.6h0M138.0 83.7h0M139.9 97.2h0M136.6 92.9h0M134.5 84.0h0M133.5 78.2h0M146.5 74.7h0M140.9 87.1h0M137.8 61.5h0M137.7 68.3h0M135.0 76.0h0M135.9 103.6h0M142.2 65.0h0M135.9 75.3h0M137.4 65.7h0M132.5 83.1h0M134.6 95.4h0M136.1 86.2h0M135.5 92.4h0M140.6 83.1h0M135.4 90.2h0M137.3 94.3h0M137.2 85.0h0M139.4 75.1h0M133.2 88.9h0M136.4 90.4h0M139.4 87.8h0M135.2 100.8h0M130.0 75.7h0M133.2 105.3h0M135.9 81.7h0M138.8 97.3h0M140.0 83.2h0M137.5 72.3h0M137.8 80.9h0M130.3 86.3h0M136.6 92.5h0M138.9 85.0h0M136.4 101.4h0M137.6 95.1h0M138.3 98.5h0M140.0 71.8h0M138.7 101.2h0M141.2 80.5h0M142.0 93.7h0M139.0 76.8h0M138.3 89.5h0M130.7 78.7h0M132.5 64.5h0M137.7 93.7h0M137.0 67.8h0M133.1 93.5h0M136.4 87.3h0M136.2 85.8h0M135.0 76.8h0M132.8 84.5h0M136.8 96.5h0M144.1 86.2h0M128.4 71.0h0M141.1 89.3h0M136.5 74.1h0M138.5 87.6h0M140.4 98.9h0M141.9 95.0h0" stroke="#5a78c0" stroke-width="0.9" stroke-linecap="round" stroke-opacity="0.55" fill="none"/><path d="M135.9 93.4h0M136.0 77.4h0M138.0 71.5h0M137.7 104.4h0M142.0 106.2h0M143.4 63.9h0M138.7 106.5h0M149.0 84.0h0M141.2 101.3h0M145.5 83.5h0M149.3 86.8h0M136.7 67.7h0M130.7 115.4h0M143.9 107.3h0M143.7 87.6h0M143.9 89.4h0M134.9 85.8h0M148.4 113.6h0M140.2 91.4h0M146.8 104.8h0M145.6 82.4h0M152.7 90.0h0M143.3 122.3h0M134.0 86.1h0M136.5 105.1h0M137.4 88.8h0M144.9 82.5h0M142.3 81.3h0M138.8 75.7h0M143.9 82.6h0M136.8 80.8h0M155.1 71.0h0M139.5 79.5h0M142.4 96.0h0M138.5 89.8h0M145.4 106.7h0M139.3 77.6h0M146.7 85.7h0M139.3 82.8h0M150.4 66.4h0M141.4 107.2h0M144.7 76.6h0M139.1 98.9h0M145.3 81.2h0M139.2 70.2h0M134.9 90.9h0M145.6 80.1h0M146.7 77.9h0M144.7 60.9h0M147.4 109.3h0M147.5 85.7h0M145.4 87.0h0M143.3 85.7h0M145.4 82.1h0M142.3 80.2h0M146.9 102.9h0M147.1 92.3h0M150.8 76.0h0M154.8 61.9h0M146.8 87.9h0M144.9 67.1h0M149.4 89.6h0M143.2 99.5h0M143.5 87.6h0M147.7 85.4h0M144.7 81.5h0M139.3 86.5h0M139.1 89.5h0M141.2 79.3h0M142.0 71.0h0M146.8 93.8h0M129.1 86.7h0M140.1 93.2h0M154.7 80.6h0M141.9 75.8h0M144.6 95.0h0M144.1 87.6h0M136.4 85.3h0M137.2 81.8h0M151.6 87.3h0M138.2 72.8h0M133.7 80.1h0M154.6 83.1h0M141.3 73.3h0M139.9 98.1h0M148.4 83.9h0M137.9 94.7h0M155.9 121.9h0M150.7 86.6h0M146.6 81.6h0M138.0 78.0h0M142.7 94.5h0M151.1 102.4h0M145.3 58.6h0M151.3 92.0h0M138.6 102.5h0" stroke="#8a98e6" stroke-width="0.9" stroke-linecap="round" stroke-opacity="0.45" fill="none"/><ellipse cx="137.1" cy="86" rx="4.5" ry="16" fill="#5a78c0" fill-opacity="0.5" filter="url(#f1)"/><ellipse cx="136.8" cy="91" rx="2.7" ry="6.4" fill="#3aa2c6" fill-opacity="0.85" filter="url(#f1)"/><ellipse cx="136.5" cy="92" rx="1.8" ry="4" fill="#7cc63c" fill-opacity="0.95" filter="url(#f1)"/><path d="M137.7 81.6h0M141.2 83.9h0M140.8 66.4h0M135.7 83.2h0M143.9 83.8h0M136.5 73.2h0M136.4 93.8h0M137.2 90.8h0M136.4 75.2h0M138.5 95.4h0M138.3 82.3h0M138.6 79.4h0M144.8 78.5h0M140.1 73.2h0M138.2 84.9h0M146.7 100.1h0M136.2 82.0h0M133.8 81.2h0M141.2 89.5h0M142.9 75.0h0M136.2 71.0h0M147.3 72.8h0M144.8 86.4h0M144.6 69.6h0M142.7 87.6h0M141.0 88.2h0M136.5 96.7h0M136.6 82.7h0M144.4 88.7h0M147.2 83.7h0M136.7 87.2h0M143.0 69.5h0M144.6 95.0h0M137.7 92.1h0M141.3 92.6h0M138.9 91.4h0M143.7 84.7h0M139.8 82.7h0M143.8 96.9h0M140.5 91.9h0M141.4 101.0h0M145.8 90.9h0M142.7 79.3h0M134.7 91.4h0M138.2 78.1h0M145.2 86.6h0M136.8 94.5h0M139.9 92.8h0M136.6 70.8h0M138.6 91.1h0M133.0 74.3h0M144.8 106.4h0M140.1 75.6h0M139.2 77.1h0M147.1 90.5h0M137.5 91.6h0M132.4 84.4h0M141.0 82.0h0M137.3 78.5h0M133.6 88.1h0" stroke="#8a98e6" stroke-width="0.9" stroke-linecap="round" stroke-opacity="0.4" fill="none"/><ellipse cx="159" cy="62" rx="3" ry="1.2" fill="#404890" fill-opacity="0.6" filter="url(#f0_7)"/><path d="M158.2 67.0h0M158.9 67.0h0M160.0 69.3h0M161.0 66.9h0M160.3 66.6h0M159.3 64.4h0M160.9 70.6h0M160.3 69.7h0M160.1 68.2h0M158.8 62.7h0M161.6 68.2h0M161.2 71.4h0M162.4 67.8h0M159.5 66.2h0" stroke="#5060a8" stroke-width="0.9" stroke-linecap="round" stroke-opacity="0.4" fill="none"/><ellipse cx="160" cy="92.5" rx="1.1" ry="2" fill="#5060a0" fill-opacity="0.6" filter="url(#f0_6)"/></g>
<rect x="132.5" y="52.5" width="49.5" height="46.5" fill="none" stroke="#8a8a8a" stroke-width="0.7" />
<text x="131.3" y="98" font-size="2.6" text-anchor="end" fill="#888" style="stroke:none">10<tspan font-size="1.8" dy="-1">1</tspan></text>
<line x1="131.7" y1="97" x2="132.5" y2="97" stroke="#888" stroke-width="0.4"/>
<text x="131.3" y="88.12" font-size="2.6" text-anchor="end" fill="#888" style="stroke:none">10<tspan font-size="1.8" dy="-1">2</tspan></text>
<line x1="131.7" y1="87.12" x2="132.5" y2="87.12" stroke="#888" stroke-width="0.4"/>
<text x="131.3" y="78.23" font-size="2.6" text-anchor="end" fill="#888" style="stroke:none">10<tspan font-size="1.8" dy="-1">3</tspan></text>
<line x1="131.7" y1="77.23" x2="132.5" y2="77.23" stroke="#888" stroke-width="0.4"/>
<text x="131.3" y="68.35" font-size="2.6" text-anchor="end" fill="#888" style="stroke:none">10<tspan font-size="1.8" dy="-1">4</tspan></text>
<line x1="131.7" y1="67.35" x2="132.5" y2="67.35" stroke="#888" stroke-width="0.4"/>
<text x="131.3" y="58.47" font-size="2.6" text-anchor="end" fill="#888" style="stroke:none">10<tspan font-size="1.8" dy="-1">5</tspan></text>
<line x1="131.7" y1="57.47" x2="132.5" y2="57.47" stroke="#888" stroke-width="0.4"/>
<text x="135.5" y="102.4" font-size="2.6" text-anchor="middle" fill="#888" style="stroke:none">10<tspan font-size="1.8" dy="-1">1</tspan></text>
<line x1="135.5" y1="99" x2="135.5" y2="99.8" stroke="#888" stroke-width="0.4"/>
<text x="145.62" y="102.4" font-size="2.6" text-anchor="middle" fill="#888" style="stroke:none">10<tspan font-size="1.8" dy="-1">2</tspan></text>
<line x1="145.62" y1="99" x2="145.62" y2="99.8" stroke="#888" stroke-width="0.4"/>
<text x="155.73" y="102.4" font-size="2.6" text-anchor="middle" fill="#888" style="stroke:none">10<tspan font-size="1.8" dy="-1">3</tspan></text>
<line x1="155.73" y1="99" x2="155.73" y2="99.8" stroke="#888" stroke-width="0.4"/>
<text x="165.85" y="102.4" font-size="2.6" text-anchor="middle" fill="#888" style="stroke:none">10<tspan font-size="1.8" dy="-1">4</tspan></text>
<line x1="165.85" y1="99" x2="165.85" y2="99.8" stroke="#888" stroke-width="0.4"/>
<text x="175.97" y="102.4" font-size="2.6" text-anchor="middle" fill="#888" style="stroke:none">10<tspan font-size="1.8" dy="-1">5</tspan></text>
<line x1="175.97" y1="99" x2="175.97" y2="99.8" stroke="#888" stroke-width="0.4"/>
<rect x="135.5" y="56" width="14.7" height="12.6" fill="none" stroke="#5a5a5a" stroke-width="0.65" />
<rect x="150.2" y="56" width="20.3" height="43" fill="none" stroke="#5a5a5a" stroke-width="0.65" />
<line x1="150.2" y1="75.6" x2="170.5" y2="75.6" stroke="#5a5a5a" stroke-width="0.65"/>
<line x1="150.2" y1="86.8" x2="170.5" y2="86.8" stroke="#5a5a5a" stroke-width="0.65"/>
<rect x="136.3" y="50" width="13" height="5" fill="#fff" stroke="none" stroke-width="1" />
<rect x="167" y="50" width="16.5" height="5" fill="#fff" stroke="none" stroke-width="1" />
<text x="137" y="54.5" font-size="5.2" text-anchor="start" font-weight="normal" font-style="normal" fill="#222" >0.2%</text>
<text x="182.8" y="54.5" font-size="5.2" text-anchor="end" font-weight="normal" font-style="normal" fill="#222" >2.4%</text>
<text x="182.8" y="81.9" font-size="5.2" text-anchor="end" font-weight="normal" font-style="normal" fill="#222" >0.2%</text>
<text x="182.8" y="93.1" font-size="5.2" text-anchor="end" font-weight="normal" font-style="normal" fill="#222" >1.3%</text>
<g clip-path="url(#c4)"><path d="M195.6 106.2h0M192.3 79.4h0M194.9 85.7h0M193.7 105.2h0M197.8 63.1h0M195.7 91.5h0M199.5 88.5h0M193.3 92.9h0M191.6 85.0h0M192.0 99.0h0M198.0 107.9h0M194.8 82.7h0M194.3 96.7h0M192.4 91.8h0M194.7 92.0h0M196.5 75.1h0M194.4 64.4h0M192.9 77.3h0M198.9 79.2h0M196.6 81.3h0M191.7 90.5h0M201.8 90.8h0M199.6 90.6h0M198.8 106.9h0M190.6 76.5h0M191.1 84.2h0M194.6 75.7h0M197.3 104.7h0M200.1 103.9h0M196.2 89.0h0M200.4 95.0h0M198.9 80.5h0M194.5 76.7h0M199.8 74.5h0M196.4 87.2h0M195.5 80.9h0M197.2 76.0h0M196.3 98.7h0M194.1 97.0h0M199.7 104.3h0M193.1 103.2h0M199.1 100.4h0M198.9 82.6h0M198.8 86.3h0M194.4 77.8h0M194.5 82.6h0M190.8 88.0h0M191.5 91.2h0M200.3 97.8h0M200.9 101.6h0M203.3 83.4h0M193.2 82.5h0M192.8 99.2h0M188.5 84.6h0M198.8 91.1h0M198.6 72.6h0M194.5 82.8h0M197.4 90.9h0M200.6 70.5h0M196.8 109.2h0M200.0 87.1h0M198.6 81.9h0M200.1 78.4h0M198.5 87.1h0M193.5 86.6h0M195.7 77.0h0M196.4 74.8h0M199.5 90.1h0M199.1 92.0h0M196.8 69.4h0M195.0 84.7h0M194.4 83.6h0M194.8 79.3h0M193.2 79.1h0M192.5 95.7h0M196.8 89.9h0M198.4 80.4h0M199.3 65.0h0M194.0 84.8h0M201.2 96.8h0M198.5 92.8h0M194.3 82.7h0M194.0 85.3h0M192.1 81.1h0M194.4 89.5h0M194.1 88.3h0M197.4 89.9h0M198.4 74.4h0M196.2 82.8h0M199.2 79.5h0M196.8 69.9h0M194.9 76.5h0M195.8 77.5h0M195.7 86.8h0M192.8 92.4h0M194.1 106.7h0M199.4 91.4h0M196.2 99.0h0M196.9 66.8h0M198.0 87.2h0M188.5 65.3h0M200.0 88.0h0M193.7 64.8h0M192.7 101.1h0M188.9 90.0h0M203.3 85.8h0M193.1 90.0h0M197.8 88.4h0M195.3 67.2h0M197.5 92.4h0M197.1 89.7h0M196.3 93.9h0M206.5 78.2h0M196.7 71.6h0M190.3 84.3h0M200.2 73.8h0M194.4 78.4h0M191.5 68.7h0M196.1 79.2h0M195.2 73.8h0M200.1 108.8h0M193.4 67.6h0M199.7 99.8h0M202.1 74.7h0M195.6 62.8h0M197.2 69.8h0M190.4 92.3h0M197.2 61.9h0M193.4 111.2h0M188.3 78.7h0M202.0 103.6h0M196.4 75.7h0M197.0 77.1h0M196.9 95.7h0M196.1 97.0h0M199.8 74.7h0M195.0 73.2h0M197.0 64.6h0M192.7 59.6h0M197.3 73.8h0M199.7 92.5h0M197.3 75.3h0M190.8 72.0h0M195.9 83.0h0M195.2 84.1h0M200.2 97.1h0M192.1 91.5h0M193.1 86.7h0M196.5 94.2h0M198.3 71.1h0M195.4 88.6h0M195.2 101.3h0M191.5 89.9h0M196.4 78.7h0M195.4 81.0h0M196.7 77.6h0M194.7 111.9h0M194.3 90.1h0M199.1 74.2h0M198.3 77.1h0M187.9 84.1h0M186.4 82.6h0M198.0 103.6h0M197.8 95.7h0M197.8 84.0h0M199.1 79.8h0M196.7 76.1h0M194.9 88.1h0M189.9 76.8h0M192.7 83.1h0M201.8 73.7h0M195.2 80.2h0M193.4 75.5h0M198.7 81.2h0M193.4 70.6h0M193.1 93.6h0M192.7 62.1h0M192.8 84.1h0M196.9 83.4h0M198.2 69.4h0M192.6 79.7h0M195.8 60.4h0M195.1 65.5h0M198.5 86.2h0M200.9 105.0h0M197.2 80.1h0M192.3 76.3h0M198.8 87.2h0M195.7 68.0h0M194.8 102.6h0M194.8 97.6h0M188.1 98.8h0M192.4 67.7h0M194.4 74.2h0M200.6 79.9h0M194.9 75.6h0M198.0 96.5h0M198.4 66.3h0M194.8 89.0h0M189.4 81.7h0M198.5 99.6h0M197.1 92.5h0M198.3 87.1h0M189.7 103.6h0M197.8 82.3h0M193.0 109.0h0M196.7 93.3h0M194.4 86.0h0" stroke="#5a78c0" stroke-width="0.9" stroke-linecap="round" stroke-opacity="0.55" fill="none"/><path d="M200.9 98.8h0M189.7 107.7h0M200.9 94.6h0M206.8 78.4h0M205.7 70.4h0M202.2 75.1h0M207.1 103.6h0M193.8 89.0h0M196.5 67.2h0M200.4 98.0h0M207.7 78.2h0M199.3 103.5h0M200.7 107.9h0M212.2 92.2h0M196.2 81.1h0M205.7 82.3h0M201.4 90.9h0M191.7 79.6h0M198.6 74.1h0M202.3 80.2h0M198.3 103.2h0M209.6 82.3h0M197.6 65.4h0M190.1 104.7h0M201.0 74.3h0M192.8 100.5h0M199.0 92.6h0M206.4 74.6h0M192.5 83.5h0M203.9 82.0h0M200.1 90.0h0M195.2 93.8h0M206.6 70.8h0M195.9 79.9h0M197.0 81.4h0M207.2 67.3h0M203.1 79.8h0M196.5 67.1h0M188.5 85.9h0M209.3 73.5h0M205.0 69.3h0M203.6 81.3h0M198.6 66.9h0M197.6 79.3h0M208.7 93.1h0M203.5 76.9h0M202.3 94.9h0M208.8 96.7h0M212.0 82.4h0M195.4 101.3h0M211.6 96.7h0M201.1 86.9h0M199.0 80.9h0M201.0 90.4h0M194.1 91.4h0M201.9 82.6h0M202.7 80.5h0M202.7 103.8h0M198.4 95.7h0M197.5 82.3h0M202.4 77.6h0M207.1 66.3h0M199.8 85.3h0M201.6 83.0h0M195.0 85.6h0M209.1 93.0h0M200.0 69.2h0M195.5 95.0h0M197.7 81.1h0M214.6 54.8h0M206.4 55.2h0M192.9 118.9h0M207.5 92.3h0M205.7 96.5h0M197.4 67.7h0M196.0 89.3h0M203.5 98.1h0M200.5 94.2h0M200.7 70.6h0M197.6 89.2h0M200.2 77.9h0M200.5 102.3h0M196.4 53.2h0M201.1 54.8h0M209.7 76.1h0M200.9 81.5h0M201.6 88.0h0M207.6 70.5h0M198.1 78.7h0M199.1 92.0h0M188.8 56.8h0M200.7 89.6h0M203.8 96.7h0M210.0 72.3h0M198.6 87.7h0M204.0 90.6h0" stroke="#8a98e6" stroke-width="0.9" stroke-linecap="round" stroke-opacity="0.45" fill="none"/><ellipse cx="195.9" cy="86" rx="4.5" ry="16" fill="#5a78c0" fill-opacity="0.5" filter="url(#f1)"/><ellipse cx="195.6" cy="91" rx="2.7" ry="6.4" fill="#3aa2c6" fill-opacity="0.85" filter="url(#f1)"/><ellipse cx="195.3" cy="92" rx="1.8" ry="4" fill="#7cc63c" fill-opacity="0.95" filter="url(#f1)"/><path d="M200.8 74.0h0M208.8 82.8h0M201.3 74.2h0M200.9 79.8h0M204.0 91.3h0M197.3 83.7h0M200.0 85.9h0M205.3 76.3h0M210.6 75.5h0M194.0 89.7h0M194.5 94.9h0M201.2 79.9h0M202.8 84.5h0M196.6 79.5h0M207.5 85.0h0M201.0 74.2h0M208.1 89.1h0M198.5 83.3h0M197.5 95.3h0M203.5 77.2h0M198.3 79.3h0M200.4 103.5h0M198.6 86.8h0M198.3 81.5h0M201.4 93.4h0M195.1 77.4h0M198.9 74.7h0M205.9 90.0h0M204.3 87.4h0M195.2 91.9h0M199.3 77.5h0M196.4 72.8h0M197.8 84.9h0M204.5 77.4h0M202.7 86.6h0M202.9 83.5h0M194.5 93.9h0M202.5 72.6h0M199.9 81.5h0M209.1 97.7h0M200.4 81.6h0M202.8 86.0h0M202.6 81.3h0M195.6 65.7h0M194.2 68.6h0M199.8 89.2h0M206.7 85.7h0M208.6 98.7h0M199.4 78.4h0M200.8 79.0h0M198.1 83.7h0M201.9 65.6h0M200.2 83.7h0M203.0 74.8h0M202.0 74.4h0M196.1 75.7h0M200.5 80.6h0M204.7 87.8h0M199.0 92.8h0M206.6 84.7h0" stroke="#8a98e6" stroke-width="0.9" stroke-linecap="round" stroke-opacity="0.4" fill="none"/><path d="M224.5 66.4h0M219.5 59.9h0M221.6 70.0h0M219.0 70.1h0M225.4 73.8h0M214.9 63.7h0M222.7 69.5h0M222.0 57.1h0M220.7 67.8h0M216.1 73.0h0M220.9 70.5h0M223.9 63.9h0M219.4 65.1h0M222.1 70.0h0M214.5 61.5h0M214.6 66.4h0M214.1 60.4h0M222.9 60.9h0M220.2 54.4h0M220.9 58.2h0M223.2 66.4h0M220.2 60.7h0M219.6 62.8h0M221.5 63.1h0M217.3 61.3h0M217.0 69.4h0M217.3 67.0h0M208.8 69.9h0M213.4 55.4h0M218.5 55.5h0M223.8 64.7h0M217.6 68.7h0M217.4 65.5h0M218.9 75.4h0M220.7 62.9h0M218.8 56.4h0M222.8 59.3h0M216.4 64.5h0M219.4 61.1h0M215.7 61.6h0M209.2 62.0h0M220.3 70.2h0M215.4 60.0h0M221.3 63.1h0M222.6 61.1h0M219.5 64.6h0M218.7 69.0h0M218.5 64.5h0M217.6 72.9h0M220.2 64.8h0M213.1 67.9h0M215.9 57.3h0M218.1 61.2h0M218.0 66.2h0M217.1 61.8h0M217.5 77.9h0M215.1 59.8h0M215.4 59.4h0M217.0 61.0h0M219.2 65.7h0M221.3 65.4h0M219.1 66.9h0M208.8 65.5h0M216.9 61.3h0M218.3 61.9h0M220.4 67.5h0M213.5 69.1h0M212.7 67.7h0M224.7 71.5h0M214.4 72.9h0M224.5 66.8h0M219.0 74.7h0M219.7 58.0h0M217.9 65.7h0M220.8 75.1h0M220.8 71.1h0M213.6 61.2h0M218.8 67.5h0M226.2 73.2h0M214.2 69.9h0M215.7 63.5h0M218.6 65.3h0M219.1 62.9h0M221.2 63.9h0M217.7 62.3h0M218.6 61.3h0M215.2 69.5h0M220.0 67.4h0M218.8 61.1h0M213.6 70.8h0" stroke="#2a4a8a" stroke-width="0.9" stroke-linecap="round" stroke-opacity="0.5" fill="none"/><ellipse cx="218" cy="63.5" rx="4.5" ry="2.5" fill="#2a4a8a" fill-opacity="0.55" filter="url(#f0_9)"/><ellipse cx="219" cy="69" rx="2" ry="4" fill="#3a5a9a" fill-opacity="0.4" filter="url(#f0_9)"/><ellipse cx="219.5" cy="93" rx="3" ry="3.8" fill="#2a5a90" fill-opacity="0.8" filter="url(#f0_8)"/><ellipse cx="219.5" cy="93.5" rx="1.8" ry="2.4" fill="#3a9aa0" fill-opacity="0.8" filter="url(#f0_6)"/></g>
<rect x="191.3" y="52.5" width="49.5" height="46.5" fill="none" stroke="#8a8a8a" stroke-width="0.7" />
<text x="190.1" y="98" font-size="2.6" text-anchor="end" fill="#888" style="stroke:none">10<tspan font-size="1.8" dy="-1">1</tspan></text>
<line x1="190.5" y1="97" x2="191.3" y2="97" stroke="#888" stroke-width="0.4"/>
<text x="190.1" y="88.12" font-size="2.6" text-anchor="end" fill="#888" style="stroke:none">10<tspan font-size="1.8" dy="-1">2</tspan></text>
<line x1="190.5" y1="87.12" x2="191.3" y2="87.12" stroke="#888" stroke-width="0.4"/>
<text x="190.1" y="78.23" font-size="2.6" text-anchor="end" fill="#888" style="stroke:none">10<tspan font-size="1.8" dy="-1">3</tspan></text>
<line x1="190.5" y1="77.23" x2="191.3" y2="77.23" stroke="#888" stroke-width="0.4"/>
<text x="190.1" y="68.35" font-size="2.6" text-anchor="end" fill="#888" style="stroke:none">10<tspan font-size="1.8" dy="-1">4</tspan></text>
<line x1="190.5" y1="67.35" x2="191.3" y2="67.35" stroke="#888" stroke-width="0.4"/>
<text x="190.1" y="58.47" font-size="2.6" text-anchor="end" fill="#888" style="stroke:none">10<tspan font-size="1.8" dy="-1">5</tspan></text>
<line x1="190.5" y1="57.47" x2="191.3" y2="57.47" stroke="#888" stroke-width="0.4"/>
<text x="194.3" y="102.4" font-size="2.6" text-anchor="middle" fill="#888" style="stroke:none">10<tspan font-size="1.8" dy="-1">1</tspan></text>
<line x1="194.3" y1="99" x2="194.3" y2="99.8" stroke="#888" stroke-width="0.4"/>
<text x="204.42" y="102.4" font-size="2.6" text-anchor="middle" fill="#888" style="stroke:none">10<tspan font-size="1.8" dy="-1">2</tspan></text>
<line x1="204.42" y1="99" x2="204.42" y2="99.8" stroke="#888" stroke-width="0.4"/>
<text x="214.53" y="102.4" font-size="2.6" text-anchor="middle" fill="#888" style="stroke:none">10<tspan font-size="1.8" dy="-1">3</tspan></text>
<line x1="214.53" y1="99" x2="214.53" y2="99.8" stroke="#888" stroke-width="0.4"/>
<text x="224.65" y="102.4" font-size="2.6" text-anchor="middle" fill="#888" style="stroke:none">10<tspan font-size="1.8" dy="-1">4</tspan></text>
<line x1="224.65" y1="99" x2="224.65" y2="99.8" stroke="#888" stroke-width="0.4"/>
<text x="234.77" y="102.4" font-size="2.6" text-anchor="middle" fill="#888" style="stroke:none">10<tspan font-size="1.8" dy="-1">5</tspan></text>
<line x1="234.77" y1="99" x2="234.77" y2="99.8" stroke="#888" stroke-width="0.4"/>
<rect x="194.3" y="56" width="14.7" height="12.6" fill="none" stroke="#5a5a5a" stroke-width="0.65" />
<rect x="209" y="56" width="20.3" height="43" fill="none" stroke="#5a5a5a" stroke-width="0.65" />
<line x1="209" y1="75.6" x2="229.3" y2="75.6" stroke="#5a5a5a" stroke-width="0.65"/>
<line x1="209" y1="86.8" x2="229.3" y2="86.8" stroke="#5a5a5a" stroke-width="0.65"/>
<rect x="195.1" y="50" width="13" height="5" fill="#fff" stroke="none" stroke-width="1" />
<rect x="225.8" y="50" width="16.5" height="5" fill="#fff" stroke="none" stroke-width="1" />
<text x="195.8" y="54.5" font-size="5.2" text-anchor="start" font-weight="normal" font-style="normal" fill="#222" >0.2%</text>
<text x="241.6" y="54.5" font-size="5.2" text-anchor="end" font-weight="normal" font-style="normal" fill="#222" >8.2%</text>
<text x="241.6" y="81.9" font-size="5.2" text-anchor="end" font-weight="normal" font-style="normal" fill="#222" >0.6%</text>
<text x="241.6" y="93.1" font-size="5.2" text-anchor="end" font-weight="normal" font-style="normal" fill="#222" >9.8%</text>
<text x="0" y="0" font-size="8" text-anchor="middle" fill="#111" transform="translate(9.3,97.7) rotate(-90)">CD71</text>
<line x1="11.5" y1="88.2" x2="11.5" y2="107.5" stroke="#111" stroke-width="0.9"/>
<line x1="11.5" y1="107.5" x2="29.5" y2="107.5" stroke="#111" stroke-width="0.9"/>
<path d="M10.2,88.7 L11.5,86.2 L12.8,88.7 Z" fill="#111"/>
<path d="M29,106.2 L31.5,107.5 L29,108.8 Z" fill="#111"/>
<text x="11.3" y="117.8" font-size="8" text-anchor="start" font-weight="normal" font-style="normal" fill="#111" >Ter119</text>
<text x="34.3" y="125.6" font-size="8" text-anchor="middle" font-weight="normal" font-style="normal" fill="#111" >WT</text>
<text x="92.8" y="117.8" font-size="8.2" text-anchor="middle" font-weight="normal" font-style="italic" fill="#111" >SclCre</text>
<text x="92.8" y="126.4" font-size="8.2" text-anchor="middle" font-style="italic" fill="#111">Stat3<tspan font-size="5.08" dy="-3.12">fl/fl</tspan></text>
<text x="153.8" y="118" font-size="8.2" text-anchor="middle" font-weight="normal" font-style="italic" fill="#111" >SclCre</text>
<text x="153.8" y="127" font-size="8.2" text-anchor="middle" font-weight="normal" font-style="italic" fill="#111" >V617F</text>
<text x="153.8" y="136" font-size="8.2" text-anchor="middle" font-style="italic" fill="#111">Stat3<tspan font-size="5.08" dy="-3.12">+/+</tspan></text>
<text x="212.5" y="118" font-size="8.2" text-anchor="middle" font-weight="normal" font-style="italic" fill="#111" >SclCre</text>
<text x="212.5" y="127" font-size="8.2" text-anchor="middle" font-weight="normal" font-style="italic" fill="#111" >V617F</text>
<text x="212.5" y="136" font-size="8.2" text-anchor="middle" font-style="italic" fill="#111">Stat3<tspan font-size="5.08" dy="-3.12">fl/fl</tspan></text>
<text x="5.3" y="138.8" font-size="8.9" text-anchor="start" font-weight="normal" font-style="normal" fill="#111" >spleen</text>
<g clip-path="url(#c5)"><path d="M22.0 185.6h0M22.3 189.8h0M18.7 191.3h0M15.4 181.7h0M26.1 183.1h0M22.9 168.7h0M25.0 179.6h0M24.3 186.8h0M21.4 171.3h0M24.4 187.2h0M22.8 185.6h0M20.2 179.4h0M24.4 182.2h0M14.4 183.0h0M20.6 175.3h0M22.6 198.6h0M15.8 166.7h0M27.8 170.9h0M27.5 197.3h0M19.4 175.5h0M24.7 200.4h0M22.0 182.4h0M21.0 207.1h0M16.7 182.2h0M24.8 183.6h0M20.8 185.2h0M20.1 166.2h0M28.3 203.2h0M19.7 178.0h0M26.3 178.3h0M21.0 176.7h0M16.6 181.1h0M19.5 174.8h0M17.4 177.1h0M20.7 170.9h0M24.2 146.7h0M21.3 150.8h0M17.1 198.2h0M22.6 185.7h0M16.2 160.5h0M23.6 181.6h0M25.0 180.2h0M23.0 183.7h0M21.7 159.4h0M24.7 172.0h0M21.5 175.1h0M23.9 173.9h0M18.0 179.3h0M25.2 172.1h0M26.1 176.1h0M23.0 201.6h0M25.4 227.1h0M19.5 179.6h0M24.4 174.2h0M19.3 183.7h0M21.4 174.5h0M20.4 182.6h0M21.7 176.8h0M19.8 170.6h0M17.8 181.9h0M21.3 170.0h0M21.8 183.7h0M23.4 175.1h0M24.2 189.3h0M16.0 163.4h0M23.9 180.4h0M23.8 192.3h0M18.6 181.0h0M25.2 164.4h0M26.7 151.3h0M20.8 208.5h0M20.8 179.4h0M23.0 173.8h0M24.3 178.2h0M19.7 210.7h0M24.0 166.9h0M15.7 172.3h0M23.3 158.9h0M20.1 176.5h0M21.9 196.5h0M16.9 164.7h0M28.2 156.8h0M22.1 181.9h0M25.0 166.6h0M23.7 195.6h0M21.6 186.8h0M19.1 189.1h0M21.2 172.3h0M21.5 158.4h0M17.1 180.5h0M21.8 175.2h0M17.0 180.1h0M20.5 158.4h0M25.1 207.4h0M22.2 167.6h0M14.5 191.1h0M22.6 190.2h0M28.3 170.2h0M22.3 198.6h0M18.7 192.1h0M21.9 170.1h0M22.1 186.1h0M21.6 180.6h0M23.8 187.2h0M20.6 179.6h0M15.2 161.3h0M19.1 171.2h0M20.7 163.3h0M23.3 190.6h0M26.4 179.2h0M23.3 187.8h0M26.9 171.7h0M24.0 160.6h0M18.4 161.4h0M23.7 175.2h0M22.0 165.8h0M21.5 201.7h0M16.8 161.6h0M24.7 164.5h0M21.9 179.2h0M16.8 172.4h0M21.5 182.0h0M23.6 177.2h0M21.6 175.9h0M22.0 187.4h0M19.4 138.9h0M23.2 177.8h0M29.3 162.9h0M23.4 186.7h0M19.0 175.4h0M18.6 184.5h0M21.6 181.5h0M23.3 181.0h0M25.4 187.1h0M20.9 167.2h0M23.0 156.2h0M19.7 190.0h0M24.4 205.3h0M20.8 175.4h0M24.4 193.8h0M17.9 191.0h0M22.4 200.6h0M22.1 171.4h0M19.9 172.5h0M20.2 153.8h0M22.3 167.7h0M25.6 187.9h0M20.1 174.1h0M23.2 193.5h0M25.2 188.8h0M21.8 187.3h0M18.3 184.6h0M21.6 173.7h0M21.3 167.7h0M20.6 195.4h0M20.1 159.9h0M23.4 171.8h0M20.0 195.2h0M21.6 184.8h0M22.5 199.6h0M24.0 158.3h0M27.1 170.9h0M20.7 187.8h0M21.5 172.6h0M20.6 173.4h0M25.3 181.8h0M25.9 202.1h0M24.2 166.7h0M22.2 183.4h0M17.9 176.3h0M18.4 193.0h0M16.3 172.8h0M22.6 180.1h0M19.0 187.0h0M21.6 196.8h0M22.2 188.5h0M16.8 180.0h0M22.1 164.3h0M14.9 187.0h0M25.7 169.5h0M24.4 186.0h0M20.0 168.9h0M30.3 185.7h0M23.1 173.2h0M17.4 180.9h0M21.3 181.8h0M21.7 154.2h0M20.5 179.2h0M20.6 180.7h0M22.7 176.0h0M20.4 199.1h0M22.7 181.7h0M23.4 180.4h0M15.9 172.0h0M22.6 184.2h0M22.0 163.1h0M20.9 182.8h0M22.1 212.5h0M23.5 183.9h0M21.3 149.0h0M24.6 168.5h0M25.8 172.1h0M20.9 191.4h0M20.6 155.8h0M23.1 183.3h0M23.1 175.4h0M22.8 165.8h0M21.7 187.2h0M12.3 184.8h0M25.4 198.0h0M20.9 184.4h0M21.6 164.8h0M23.0 189.8h0M24.4 153.1h0M21.3 176.1h0M22.1 158.9h0M28.0 157.6h0M18.9 199.9h0M22.7 167.5h0M19.7 186.6h0M19.9 187.4h0M23.4 183.1h0M24.4 169.6h0M17.4 156.1h0M21.8 167.0h0M26.7 165.4h0M26.8 175.7h0M21.9 152.7h0M21.6 196.4h0M17.3 194.3h0M24.3 189.3h0M18.7 198.1h0M18.3 198.2h0M25.4 154.7h0M26.5 201.1h0M21.5 157.0h0M21.1 173.6h0M24.4 164.8h0M18.9 180.3h0M22.8 154.3h0M23.2 170.3h0M20.4 185.5h0M24.0 184.0h0M27.2 180.9h0M21.9 182.0h0M26.4 186.0h0M22.8 191.0h0M17.1 190.9h0M24.3 173.7h0M17.2 156.2h0M15.1 182.3h0M21.4 165.6h0M24.6 164.6h0M25.0 187.9h0M23.5 162.9h0M18.4 178.4h0M25.1 163.6h0M22.5 189.2h0M16.5 202.4h0M21.2 170.5h0" stroke="#4a78c0" stroke-width="0.9" stroke-linecap="round" stroke-opacity="0.55" fill="none"/><path d="M28.6 176.9h0M21.8 170.3h0M25.9 163.2h0M33.3 189.1h0M31.7 154.8h0M24.6 187.4h0M26.8 151.7h0M29.6 209.9h0M33.6 178.2h0M20.3 195.3h0M30.8 174.6h0M25.5 191.9h0M26.8 169.3h0M20.4 173.8h0M25.6 171.6h0M53.2 160.6h0M17.3 168.9h0M32.6 209.5h0M17.6 170.9h0M31.1 168.4h0M30.8 174.2h0M34.2 181.6h0M37.6 159.6h0M34.1 173.9h0M34.2 171.0h0M32.4 195.9h0M29.3 163.9h0M23.5 172.0h0M26.2 194.7h0M20.5 177.6h0M27.7 179.9h0M22.1 199.4h0M27.2 167.8h0M26.9 197.3h0M30.9 197.4h0M30.5 173.2h0M19.0 166.6h0M27.2 155.0h0M26.0 167.2h0M34.4 149.6h0M40.8 190.8h0M24.8 181.3h0M36.9 190.5h0M25.7 171.4h0M18.9 184.4h0M32.6 178.8h0M27.7 167.7h0M28.3 187.6h0M20.2 190.3h0M26.0 187.5h0M27.7 185.3h0M29.0 191.4h0M23.4 178.7h0M20.8 181.1h0M34.0 176.0h0M33.6 173.2h0M29.8 198.3h0M29.4 186.3h0M35.6 189.5h0M33.2 175.8h0M23.4 191.7h0M21.7 197.7h0M24.5 184.5h0M32.3 164.1h0M38.9 180.2h0M26.4 164.9h0M18.0 154.1h0M22.0 188.4h0M24.9 197.4h0M22.1 157.9h0M30.4 176.3h0M19.4 201.2h0M29.2 159.4h0M24.8 166.6h0M34.3 172.5h0M24.1 184.5h0M36.8 200.5h0M27.6 175.6h0M24.2 194.6h0M21.5 179.4h0M31.6 170.4h0M13.7 172.0h0M22.8 165.7h0M24.3 192.1h0M19.0 162.1h0M26.8 193.6h0M22.9 188.4h0M33.6 169.2h0M26.3 192.5h0M28.7 170.9h0M26.7 176.0h0M27.9 184.0h0M28.4 170.9h0M27.5 184.2h0M26.4 203.6h0M24.7 146.2h0M34.4 172.7h0M29.5 175.9h0M32.9 171.6h0M30.7 202.6h0M30.9 167.4h0M37.4 196.1h0M27.4 158.5h0M28.9 178.4h0M30.1 181.7h0M36.5 182.3h0M25.2 173.6h0M29.2 187.2h0M20.3 164.6h0M32.8 176.3h0M33.6 176.9h0M23.6 186.4h0M29.0 220.0h0M36.6 178.2h0M28.9 187.5h0M30.4 190.6h0M27.0 173.7h0M18.3 174.7h0M33.5 182.4h0M29.2 159.8h0" stroke="#8a98e6" stroke-width="0.9" stroke-linecap="round" stroke-opacity="0.45" fill="none"/><ellipse cx="21.8" cy="179" rx="4.5" ry="19" fill="#4a78c0" fill-opacity="0.7" filter="url(#f1)"/><ellipse cx="21.5" cy="181" rx="2.7" ry="8" fill="#3aa2c6" fill-opacity="0.85" filter="url(#f1)"/><ellipse cx="21.2" cy="182" rx="1.8" ry="5" fill="#7cc63c" fill-opacity="0.95" filter="url(#f1)"/><path d="M14.2 177.4h0M22.9 163.5h0M14.7 187.5h0M37.9 149.4h0M24.4 167.5h0M31.1 180.5h0M27.8 168.9h0M31.9 150.0h0M27.3 169.9h0M30.2 158.2h0M23.6 156.4h0M27.0 157.8h0M44.9 162.5h0M36.7 162.8h0M25.2 180.7h0M26.2 195.8h0M31.2 149.6h0M37.3 136.9h0M25.7 160.3h0M28.3 160.7h0M24.8 165.5h0M33.1 159.2h0M25.5 196.8h0M42.0 183.8h0M28.2 163.2h0M28.6 154.4h0M35.8 161.2h0M13.4 182.3h0M38.4 180.8h0M32.5 175.8h0M38.7 185.9h0M17.5 176.9h0M27.5 189.4h0M26.1 165.6h0M16.8 170.7h0M30.3 187.1h0M26.8 181.4h0M42.7 156.2h0M35.4 169.8h0M16.5 160.5h0M28.4 156.8h0M32.6 160.8h0M35.5 165.8h0M36.6 183.5h0M34.5 184.3h0M47.7 181.8h0M16.9 165.0h0M34.8 182.5h0M24.2 176.4h0M28.7 167.1h0M25.0 170.7h0M36.8 149.6h0M35.6 172.9h0M17.1 173.7h0M27.2 159.1h0M32.1 166.9h0M36.4 186.7h0M31.3 175.3h0M21.7 170.0h0M36.3 193.7h0M15.9 173.4h0M28.0 196.5h0M30.7 195.7h0M13.9 149.2h0M29.3 153.2h0M14.5 165.2h0M25.0 171.9h0M38.9 158.8h0M23.2 152.0h0M28.9 183.3h0M35.9 142.5h0M31.7 166.7h0M24.4 156.0h0M24.5 174.1h0M33.1 180.3h0M22.5 170.4h0M22.0 181.3h0M28.7 154.0h0M35.7 191.3h0M16.0 192.5h0M31.8 169.2h0M12.1 154.5h0M21.4 180.0h0M27.3 172.7h0M29.0 175.9h0M25.9 186.5h0M12.3 158.7h0M25.4 159.5h0M37.4 164.7h0M14.6 163.6h0M24.8 160.1h0M23.3 163.8h0M33.1 168.3h0M30.5 169.3h0M36.9 170.9h0M30.3 183.7h0M37.8 185.4h0M22.8 154.1h0M47.5 153.4h0M23.2 152.9h0M30.2 170.0h0M11.5 184.1h0M24.5 184.4h0M35.2 170.7h0M35.6 160.8h0M28.5 168.3h0M29.3 177.2h0M29.6 165.2h0M33.0 166.1h0M34.2 160.1h0M19.9 198.0h0M19.0 180.4h0M40.0 179.3h0M31.4 169.3h0M27.9 160.5h0M32.0 179.2h0M18.9 144.7h0M50.2 168.5h0M20.7 157.8h0M34.0 186.4h0" stroke="#8a98e6" stroke-width="0.9" stroke-linecap="round" stroke-opacity="0.45" fill="none"/><ellipse cx="40.5" cy="152" rx="4.5" ry="3" fill="#2e5a90" fill-opacity="0.8" filter="url(#f0_9)"/><ellipse cx="40.5" cy="152" rx="2.5" ry="1.8" fill="#8ab8c8" fill-opacity="0.9" filter="url(#f0_7)"/><ellipse cx="44" cy="188" rx="3" ry="7" fill="#3a6aa8" fill-opacity="0.85" filter="url(#f0_9)"/><ellipse cx="44" cy="189.5" rx="2" ry="4.5" fill="#3a9ab0" fill-opacity="0.9" filter="url(#f0_8)"/><ellipse cx="44" cy="190.5" rx="1.2" ry="2.2" fill="#7cc63c" fill-opacity="0.9" filter="url(#f0_6)"/></g>
<rect x="17.2" y="147.8" width="51" height="47.7" fill="none" stroke="#8a8a8a" stroke-width="0.7" />
<text x="16" y="194.5" font-size="2.6" text-anchor="end" fill="#888" style="stroke:none">10<tspan font-size="1.8" dy="-1">1</tspan></text>
<line x1="16.4" y1="193.5" x2="17.2" y2="193.5" stroke="#888" stroke-width="0.4"/>
<text x="16" y="184.34" font-size="2.6" text-anchor="end" fill="#888" style="stroke:none">10<tspan font-size="1.8" dy="-1">2</tspan></text>
<line x1="16.4" y1="183.34" x2="17.2" y2="183.34" stroke="#888" stroke-width="0.4"/>
<text x="16" y="174.17" font-size="2.6" text-anchor="end" fill="#888" style="stroke:none">10<tspan font-size="1.8" dy="-1">3</tspan></text>
<line x1="16.4" y1="173.17" x2="17.2" y2="173.17" stroke="#888" stroke-width="0.4"/>
<text x="16" y="164.01" font-size="2.6" text-anchor="end" fill="#888" style="stroke:none">10<tspan font-size="1.8" dy="-1">4</tspan></text>
<line x1="16.4" y1="163.01" x2="17.2" y2="163.01" stroke="#888" stroke-width="0.4"/>
<text x="16" y="153.85" font-size="2.6" text-anchor="end" fill="#888" style="stroke:none">10<tspan font-size="1.8" dy="-1">5</tspan></text>
<line x1="16.4" y1="152.85" x2="17.2" y2="152.85" stroke="#888" stroke-width="0.4"/>
<text x="20.2" y="198.9" font-size="2.6" text-anchor="middle" fill="#888" style="stroke:none">10<tspan font-size="1.8" dy="-1">1</tspan></text>
<line x1="20.2" y1="195.5" x2="20.2" y2="196.3" stroke="#888" stroke-width="0.4"/>
<text x="30.67" y="198.9" font-size="2.6" text-anchor="middle" fill="#888" style="stroke:none">10<tspan font-size="1.8" dy="-1">2</tspan></text>
<line x1="30.67" y1="195.5" x2="30.67" y2="196.3" stroke="#888" stroke-width="0.4"/>
<text x="41.13" y="198.9" font-size="2.6" text-anchor="middle" fill="#888" style="stroke:none">10<tspan font-size="1.8" dy="-1">3</tspan></text>
<line x1="41.13" y1="195.5" x2="41.13" y2="196.3" stroke="#888" stroke-width="0.4"/>
<text x="51.6" y="198.9" font-size="2.6" text-anchor="middle" fill="#888" style="stroke:none">10<tspan font-size="1.8" dy="-1">4</tspan></text>
<line x1="51.6" y1="195.5" x2="51.6" y2="196.3" stroke="#888" stroke-width="0.4"/>
<text x="62.06" y="198.9" font-size="2.6" text-anchor="middle" fill="#888" style="stroke:none">10<tspan font-size="1.8" dy="-1">5</tspan></text>
<line x1="62.06" y1="195.5" x2="62.06" y2="196.3" stroke="#888" stroke-width="0.4"/>
<rect x="19.5" y="147.8" width="14.4" height="13" fill="none" stroke="#5a5a5a" stroke-width="0.65" />
<rect x="33.9" y="147.8" width="22.8" height="47.7" fill="none" stroke="#5a5a5a" stroke-width="0.65" />
<line x1="33.9" y1="161" x2="56.7" y2="161" stroke="#5a5a5a" stroke-width="0.65"/>
<line x1="33.9" y1="180" x2="56.7" y2="180" stroke="#5a5a5a" stroke-width="0.65"/>
<text x="21.7" y="146.6" font-size="5.2" text-anchor="start" font-weight="normal" font-style="normal" fill="#222" >0.4%</text>
<text x="69" y="146.6" font-size="5.2" text-anchor="end" font-weight="normal" font-style="normal" fill="#222" >10.7%</text>
<text x="69" y="173.8" font-size="5.2" text-anchor="end" font-weight="normal" font-style="normal" fill="#222" >1.1%</text>
<text x="69" y="191.8" font-size="5.2" text-anchor="end" font-weight="normal" font-style="normal" fill="#222" >24.5%</text>
<text x="33.4" y="154.3" font-size="5.2" text-anchor="end" font-weight="normal" font-style="normal" fill="#333" >I</text>
<text x="54.2" y="154.3" font-size="5.2" text-anchor="end" font-weight="normal" font-style="normal" fill="#333" >II</text>
<text x="55.2" y="167.8" font-size="5.2" text-anchor="end" font-weight="normal" font-style="normal" fill="#333" >III</text>
<text x="55.2" y="186.3" font-size="5.2" text-anchor="end" font-weight="normal" font-style="normal" fill="#333" >IV</text>
<g clip-path="url(#c6)"><path d="M76.5 173.0h0M81.6 171.0h0M80.7 183.1h0M82.1 191.3h0M80.1 169.5h0M75.1 176.7h0M76.3 171.9h0M78.9 176.4h0M82.8 182.0h0M80.0 199.3h0M79.8 201.8h0M79.6 182.9h0M76.2 178.9h0M76.6 196.4h0M80.4 196.5h0M81.4 164.4h0M71.9 176.4h0M77.8 171.9h0M80.8 179.3h0M78.8 182.0h0M77.4 165.8h0M78.1 191.9h0M81.8 173.1h0M81.1 186.4h0M76.2 203.1h0M78.5 163.5h0M80.0 180.5h0M84.2 194.9h0M78.3 170.8h0M78.7 173.7h0M76.5 176.5h0M83.9 190.1h0M78.7 161.4h0M82.0 194.2h0M75.0 185.0h0M85.6 192.6h0M81.9 177.2h0M77.7 182.3h0M83.9 187.6h0M82.5 176.5h0M79.0 196.7h0M80.1 190.3h0M78.2 163.9h0M80.2 181.2h0M69.6 166.2h0M80.9 174.1h0M75.6 176.8h0M81.2 195.6h0M73.4 177.7h0M77.5 206.9h0M81.0 163.2h0M81.9 188.9h0M83.1 191.5h0M78.1 160.5h0M80.5 176.4h0M78.2 153.7h0M81.7 184.6h0M83.7 182.8h0M79.0 164.9h0M78.4 165.0h0M78.9 166.6h0M83.1 175.0h0M81.0 177.1h0M78.5 150.7h0M78.2 171.1h0M83.2 161.8h0M82.0 185.6h0M79.4 176.0h0M82.5 180.3h0M87.4 145.4h0M76.4 203.5h0M81.0 151.1h0M72.0 158.5h0M74.5 151.6h0M77.5 173.5h0M75.7 175.2h0M77.8 188.0h0M75.0 175.8h0M80.0 187.6h0M75.5 176.7h0M75.2 186.6h0M81.1 192.1h0M78.6 199.5h0M77.8 154.8h0M77.0 175.9h0M83.1 169.8h0M77.5 184.8h0M75.2 189.1h0M81.1 163.1h0M79.2 167.9h0M76.5 180.7h0M78.4 188.8h0M79.7 155.4h0M80.1 186.4h0M80.6 158.1h0M77.4 160.1h0M78.6 167.0h0M82.4 181.7h0M87.9 183.9h0M74.6 173.9h0M85.4 172.0h0M79.9 189.0h0M84.1 191.9h0M79.2 161.7h0M77.7 184.7h0M74.2 178.7h0M84.7 161.2h0M81.9 166.4h0M76.9 182.5h0M81.6 175.6h0M81.0 186.0h0M85.3 164.8h0M76.3 199.7h0M82.2 168.1h0M81.6 198.4h0M78.3 181.8h0M82.5 168.8h0M75.9 187.7h0M79.5 179.7h0M77.0 185.3h0M82.7 177.9h0M79.7 165.1h0M77.5 160.2h0M79.8 179.5h0M77.4 160.8h0M78.9 185.6h0M84.0 154.0h0M80.0 194.6h0M76.9 171.7h0M82.4 179.7h0M76.7 162.8h0M77.8 176.6h0M80.2 188.2h0M76.7 183.3h0M80.9 173.2h0M82.0 176.2h0M81.1 169.2h0M76.7 170.3h0M85.3 182.6h0M80.5 167.2h0M80.1 162.0h0M80.6 176.6h0M77.7 183.5h0M75.4 160.7h0M81.8 163.0h0M74.9 192.5h0M81.6 183.3h0M79.6 162.7h0M81.0 176.7h0M77.2 179.2h0M81.0 177.1h0M82.2 183.9h0M75.9 183.5h0M78.2 197.1h0M70.0 173.2h0M81.5 190.9h0M76.3 177.5h0M81.0 170.0h0M81.8 168.3h0M77.1 192.8h0M77.0 172.8h0M86.7 193.8h0M78.4 181.8h0M77.2 163.4h0M78.1 187.5h0M81.2 167.0h0M72.2 193.5h0M77.3 187.3h0M82.1 193.7h0M77.6 164.6h0M77.5 182.4h0M80.4 162.8h0M81.1 165.8h0M79.4 173.8h0M81.1 210.2h0M77.4 158.8h0M75.7 177.3h0M80.2 184.8h0M76.3 160.8h0M79.2 196.1h0M82.5 190.8h0M81.4 191.0h0M77.8 192.5h0M82.1 188.4h0M78.2 172.2h0M77.7 195.7h0M75.0 171.7h0M80.3 160.0h0M80.1 191.2h0M81.6 161.9h0M79.6 164.3h0M71.1 188.2h0M81.6 159.6h0M83.1 188.4h0M87.2 183.4h0M84.8 173.3h0M78.8 202.6h0M82.3 199.4h0M78.9 176.7h0M82.3 167.9h0M82.0 159.2h0M72.9 171.6h0M81.6 204.2h0M79.1 179.6h0M78.9 181.2h0M83.7 185.1h0M80.9 182.4h0M78.8 187.4h0M85.9 163.1h0M86.5 147.6h0M73.9 185.7h0M78.0 206.8h0M81.5 157.0h0M79.7 182.8h0M83.3 169.4h0M74.4 159.8h0M82.7 193.2h0M73.7 182.2h0M77.4 179.4h0M82.1 174.1h0M79.3 151.9h0M79.6 197.5h0M77.6 182.8h0M81.2 209.3h0M76.8 188.7h0M78.7 177.0h0M79.6 155.0h0M81.7 168.2h0M80.3 188.9h0M79.0 157.6h0M76.1 186.0h0M83.8 201.5h0M75.6 179.8h0M80.0 168.4h0M79.0 164.8h0M80.1 171.5h0M78.7 195.6h0M76.3 178.4h0M77.4 172.6h0M79.3 177.3h0M80.3 167.3h0M81.6 162.3h0M75.7 165.9h0M83.6 193.3h0M77.8 202.6h0M80.6 157.5h0M80.9 163.9h0M75.7 147.9h0M80.1 182.7h0M76.1 185.3h0M80.9 184.6h0M81.7 167.2h0M80.8 183.8h0M77.6 173.0h0M75.4 179.6h0M75.8 182.8h0M79.8 174.9h0M81.5 173.2h0M85.1 182.4h0M75.7 170.0h0" stroke="#4a78c0" stroke-width="0.9" stroke-linecap="round" stroke-opacity="0.55" fill="none"/><path d="M87.1 204.9h0M81.6 202.0h0M86.1 198.6h0M81.5 167.2h0M82.8 179.7h0M79.3 160.7h0M89.3 194.8h0M84.7 172.0h0M91.4 152.9h0M89.3 182.6h0M89.0 184.8h0M91.0 188.1h0M85.0 191.8h0M79.4 182.5h0M87.3 155.4h0M88.2 186.1h0M90.4 179.7h0M92.2 193.8h0M88.8 129.6h0M85.4 183.0h0M85.3 163.4h0M90.4 172.6h0M84.1 184.5h0M91.8 173.1h0M79.0 184.9h0M86.3 150.5h0M81.3 180.4h0M74.5 196.8h0M77.6 191.2h0M78.8 172.8h0M81.0 173.8h0M73.8 168.3h0M90.0 186.0h0M97.1 150.3h0M93.4 180.8h0M77.2 157.4h0M81.9 180.5h0M82.1 201.8h0M84.4 168.8h0M79.5 161.6h0M84.3 176.3h0M80.0 183.8h0M80.5 171.1h0M91.2 195.3h0M82.6 205.2h0M82.4 196.9h0M86.1 172.0h0M84.7 173.3h0M86.2 177.7h0M84.1 164.6h0M87.6 192.8h0M78.8 178.9h0M90.2 191.9h0M80.1 216.8h0M80.2 189.9h0M87.2 218.6h0M81.2 198.7h0M88.0 165.8h0M85.2 166.7h0M86.4 181.8h0M73.4 188.8h0M86.9 194.7h0M85.4 166.8h0M89.2 194.1h0M72.4 195.2h0M88.5 172.3h0M79.2 173.1h0M91.4 182.5h0M89.4 172.5h0M76.9 166.7h0M97.6 192.3h0M88.9 187.2h0M84.7 176.1h0M82.8 184.6h0M83.9 179.5h0M87.5 187.8h0M87.3 182.2h0M87.5 196.2h0M92.3 200.4h0M81.0 184.8h0M85.7 208.0h0M94.5 186.3h0M96.8 200.0h0M78.2 190.2h0M86.8 173.7h0M93.5 188.2h0M76.8 166.3h0M83.8 196.5h0M87.5 194.0h0M83.4 198.8h0M83.5 190.6h0M83.4 174.0h0M87.2 162.1h0M85.4 186.4h0M77.9 178.0h0M83.9 164.6h0M74.2 195.8h0M82.5 221.3h0M99.2 150.1h0M89.3 174.9h0M88.2 159.8h0M90.9 229.5h0M78.4 156.8h0M82.7 176.8h0M87.4 171.9h0M84.5 200.0h0M87.3 194.9h0M84.4 172.3h0M83.5 173.0h0M76.4 182.4h0M84.3 174.8h0M90.5 215.0h0M80.1 189.1h0M78.5 195.6h0M84.5 157.0h0M78.6 190.4h0M81.1 178.1h0M99.8 166.7h0M88.2 132.1h0M73.8 185.2h0" stroke="#8a98e6" stroke-width="0.9" stroke-linecap="round" stroke-opacity="0.45" fill="none"/><ellipse cx="79.6" cy="179" rx="4.8" ry="19" fill="#4a78c0" fill-opacity="0.7" filter="url(#f1)"/><ellipse cx="79.3" cy="178" rx="2.88" ry="9.6" fill="#3aa2c6" fill-opacity="0.85" filter="url(#f1)"/><ellipse cx="79" cy="179" rx="1.92" ry="6" fill="#7cc63c" fill-opacity="0.95" filter="url(#f1)"/><path d="M86.7 189.7h0M82.4 142.3h0M93.2 148.6h0M84.6 191.0h0M80.0 171.6h0M77.5 185.8h0M93.4 150.7h0M83.9 163.6h0M91.1 182.9h0M87.5 180.6h0M89.2 174.2h0M85.0 161.6h0M89.6 161.2h0M89.5 161.7h0M85.2 182.0h0M93.5 171.0h0M85.2 171.3h0M90.4 161.1h0M103.8 170.1h0M86.7 179.1h0M89.2 170.8h0M83.7 154.7h0M80.7 169.8h0M81.8 200.9h0M71.3 196.0h0M88.7 166.0h0M86.8 168.0h0M82.9 148.8h0M83.0 155.7h0M87.6 163.6h0M80.7 167.7h0M82.3 174.6h0M83.6 154.9h0M87.8 153.4h0M73.2 154.2h0M89.5 155.7h0M78.6 194.4h0M83.8 174.0h0M80.5 186.3h0M95.2 162.8h0M77.4 145.9h0M87.3 157.2h0M74.5 174.8h0M84.6 175.3h0M76.7 155.1h0M86.1 188.2h0M88.9 166.1h0M91.4 180.5h0M77.4 195.3h0M93.6 169.7h0M88.6 153.7h0M94.7 198.4h0M87.3 174.2h0M84.7 170.7h0M78.8 171.5h0M92.9 166.5h0M93.1 153.1h0M81.6 165.4h0M83.3 183.1h0M78.0 180.6h0M79.8 169.6h0M67.5 144.9h0M87.9 180.4h0M89.1 170.4h0M92.9 174.3h0M91.6 154.1h0M99.0 165.2h0M78.1 161.9h0M92.9 170.9h0M85.3 186.7h0M94.0 176.0h0M80.2 179.8h0M83.3 173.1h0M84.5 148.6h0M83.2 166.6h0M74.5 155.8h0M97.8 168.3h0M99.8 177.0h0M83.1 161.7h0M97.5 159.2h0M90.2 164.5h0M80.0 164.6h0M82.6 189.5h0M81.3 162.8h0M70.5 162.6h0M71.9 159.2h0M66.0 154.9h0M93.6 172.4h0M75.3 163.8h0M95.6 166.7h0M76.2 172.3h0M75.3 166.1h0M87.1 169.3h0M79.9 192.2h0M97.5 177.8h0M95.9 173.3h0M87.6 161.6h0M82.3 175.8h0M83.6 155.9h0M81.1 163.4h0M71.1 154.5h0M89.1 140.9h0M86.1 184.5h0M81.1 177.3h0M87.4 163.0h0M74.7 162.6h0M87.2 169.1h0M84.9 183.9h0M89.8 167.2h0M89.8 159.8h0M70.7 161.9h0M91.8 174.2h0M88.1 175.3h0M82.4 187.6h0M82.9 167.0h0M88.6 156.5h0M94.1 187.4h0M88.1 162.4h0M97.9 161.9h0M86.0 170.5h0" stroke="#8a98e6" stroke-width="0.9" stroke-linecap="round" stroke-opacity="0.45" fill="none"/><ellipse cx="99" cy="150" rx="4.5" ry="3" fill="#2f4ccc" fill-opacity="0.85" filter="url(#f0_9)"/><ellipse cx="99" cy="150" rx="3" ry="2" fill="#3aa2c6" fill-opacity="0.9" filter="url(#f0_7)"/><ellipse cx="99" cy="150" rx="1.8" ry="1.2" fill="#7cc63c" fill-opacity="1" filter="url(#f0_5)"/><ellipse cx="102" cy="188" rx="3" ry="6.5" fill="#2f4ccc" fill-opacity="0.85" filter="url(#f0_9)"/><ellipse cx="102" cy="189.5" rx="1.8" ry="3.8" fill="#3aa2c6" fill-opacity="0.9" filter="url(#f0_8)"/><ellipse cx="102" cy="190.5" rx="1.1" ry="2" fill="#7cc63c" fill-opacity="0.9" filter="url(#f0_6)"/></g>
<rect x="75" y="147.8" width="51" height="47.7" fill="none" stroke="#8a8a8a" stroke-width="0.7" />
<text x="73.8" y="194.5" font-size="2.6" text-anchor="end" fill="#888" style="stroke:none">10<tspan font-size="1.8" dy="-1">1</tspan></text>
<line x1="74.2" y1="193.5" x2="75" y2="193.5" stroke="#888" stroke-width="0.4"/>
<text x="73.8" y="184.34" font-size="2.6" text-anchor="end" fill="#888" style="stroke:none">10<tspan font-size="1.8" dy="-1">2</tspan></text>
<line x1="74.2" y1="183.34" x2="75" y2="183.34" stroke="#888" stroke-width="0.4"/>
<text x="73.8" y="174.17" font-size="2.6" text-anchor="end" fill="#888" style="stroke:none">10<tspan font-size="1.8" dy="-1">3</tspan></text>
<line x1="74.2" y1="173.17" x2="75" y2="173.17" stroke="#888" stroke-width="0.4"/>
<text x="73.8" y="164.01" font-size="2.6" text-anchor="end" fill="#888" style="stroke:none">10<tspan font-size="1.8" dy="-1">4</tspan></text>
<line x1="74.2" y1="163.01" x2="75" y2="163.01" stroke="#888" stroke-width="0.4"/>
<text x="73.8" y="153.85" font-size="2.6" text-anchor="end" fill="#888" style="stroke:none">10<tspan font-size="1.8" dy="-1">5</tspan></text>
<line x1="74.2" y1="152.85" x2="75" y2="152.85" stroke="#888" stroke-width="0.4"/>
<text x="78" y="198.9" font-size="2.6" text-anchor="middle" fill="#888" style="stroke:none">10<tspan font-size="1.8" dy="-1">1</tspan></text>
<line x1="78" y1="195.5" x2="78" y2="196.3" stroke="#888" stroke-width="0.4"/>
<text x="88.47" y="198.9" font-size="2.6" text-anchor="middle" fill="#888" style="stroke:none">10<tspan font-size="1.8" dy="-1">2</tspan></text>
<line x1="88.47" y1="195.5" x2="88.47" y2="196.3" stroke="#888" stroke-width="0.4"/>
<text x="98.93" y="198.9" font-size="2.6" text-anchor="middle" fill="#888" style="stroke:none">10<tspan font-size="1.8" dy="-1">3</tspan></text>
<line x1="98.93" y1="195.5" x2="98.93" y2="196.3" stroke="#888" stroke-width="0.4"/>
<text x="109.4" y="198.9" font-size="2.6" text-anchor="middle" fill="#888" style="stroke:none">10<tspan font-size="1.8" dy="-1">4</tspan></text>
<line x1="109.4" y1="195.5" x2="109.4" y2="196.3" stroke="#888" stroke-width="0.4"/>
<text x="119.86" y="198.9" font-size="2.6" text-anchor="middle" fill="#888" style="stroke:none">10<tspan font-size="1.8" dy="-1">5</tspan></text>
<line x1="119.86" y1="195.5" x2="119.86" y2="196.3" stroke="#888" stroke-width="0.4"/>
<rect x="77.3" y="147.8" width="14.4" height="13" fill="none" stroke="#5a5a5a" stroke-width="0.65" />
<rect x="91.7" y="147.8" width="22.8" height="47.7" fill="none" stroke="#5a5a5a" stroke-width="0.65" />
<line x1="91.7" y1="161" x2="114.5" y2="161" stroke="#5a5a5a" stroke-width="0.65"/>
<line x1="91.7" y1="180" x2="114.5" y2="180" stroke="#5a5a5a" stroke-width="0.65"/>
<text x="79.5" y="146.6" font-size="5.2" text-anchor="start" font-weight="normal" font-style="normal" fill="#222" >0.7%</text>
<text x="126.8" y="146.6" font-size="5.2" text-anchor="end" font-weight="normal" font-style="normal" fill="#222" >24.0%</text>
<text x="126.8" y="173.8" font-size="5.2" text-anchor="end" font-weight="normal" font-style="normal" fill="#222" >2.0%</text>
<text x="126.8" y="191.8" font-size="5.2" text-anchor="end" font-weight="normal" font-style="normal" fill="#222" >18.8%</text>
<g clip-path="url(#c7)"><path d="M142.7 160.6h0M143.2 190.4h0M139.0 160.3h0M143.3 146.3h0M135.2 199.1h0M141.0 172.8h0M136.1 160.5h0M140.9 164.7h0M137.9 187.5h0M136.5 176.2h0M143.0 157.6h0M138.6 197.5h0M137.5 172.3h0M139.4 156.9h0M137.7 183.4h0M137.1 199.2h0M132.0 182.8h0M139.2 183.0h0M134.1 199.1h0M139.0 182.2h0M138.3 172.5h0M137.6 173.4h0M138.4 196.6h0M140.8 168.8h0M137.5 179.0h0M136.9 185.9h0M139.6 158.6h0M139.2 162.8h0M137.7 171.8h0M136.1 184.9h0M137.1 198.2h0M139.0 188.9h0M136.9 202.6h0M135.7 167.0h0M132.5 197.5h0M141.9 172.9h0M131.9 167.8h0M138.2 187.7h0M141.6 187.0h0M138.5 170.7h0M128.6 193.9h0M134.9 179.5h0M142.2 155.5h0M137.0 182.5h0M134.5 162.3h0M142.9 169.4h0M136.8 192.2h0M137.4 191.3h0M130.7 183.5h0M144.9 162.0h0M129.3 182.5h0M143.4 199.8h0M133.8 158.3h0M129.1 198.0h0M145.0 181.8h0M139.7 166.9h0M139.5 170.3h0M138.4 163.8h0M136.3 182.4h0M140.1 158.6h0M146.5 196.5h0M138.9 190.0h0M134.4 186.4h0M144.8 158.7h0M136.1 169.1h0M139.3 181.0h0M133.7 176.0h0M128.9 189.7h0M135.5 184.1h0M136.4 181.8h0M142.6 171.7h0M134.7 174.5h0M138.3 189.0h0M134.5 178.6h0M142.8 175.9h0M138.6 182.0h0M140.0 187.8h0M139.8 152.1h0M138.8 199.9h0M134.2 183.6h0M137.3 177.2h0M143.1 185.6h0M137.0 166.6h0M144.0 166.6h0M137.9 182.4h0M133.5 172.0h0M138.5 181.7h0M137.4 178.3h0M137.9 160.4h0M137.6 191.5h0M138.5 186.0h0M141.0 199.1h0M133.0 183.8h0M134.6 196.7h0M134.1 167.6h0M134.8 188.1h0M141.7 209.7h0M136.3 164.3h0M137.3 173.6h0M137.0 185.9h0M138.6 176.3h0M131.7 186.7h0M139.4 158.3h0M137.5 186.7h0M137.5 167.8h0M137.8 166.5h0M138.6 161.6h0M142.4 144.4h0M130.9 203.6h0M145.5 179.6h0M142.6 180.9h0M133.7 191.9h0M137.3 185.9h0M139.2 162.4h0M138.4 163.4h0M144.2 182.9h0M139.1 192.0h0M141.0 178.0h0M135.3 159.5h0M135.8 167.7h0M137.7 159.4h0M139.5 193.0h0M133.7 166.3h0M139.3 188.3h0M137.4 182.7h0M135.0 194.6h0M136.4 174.4h0M138.1 171.8h0M138.3 170.9h0M140.5 183.5h0M135.5 177.1h0M144.5 158.2h0M137.1 198.5h0M136.8 162.8h0M138.0 208.8h0M138.8 177.4h0M136.8 187.7h0M139.5 190.7h0M138.9 176.3h0M139.8 168.7h0M145.8 180.3h0M138.0 186.6h0M140.8 186.1h0M139.9 183.4h0M138.3 194.6h0M135.5 181.6h0M132.3 174.5h0M137.8 166.6h0M143.7 167.0h0M134.6 172.6h0M137.4 183.9h0M141.9 166.6h0M144.8 194.7h0M139.0 175.9h0M137.5 169.1h0M131.8 172.7h0M135.9 189.9h0M137.1 170.9h0M135.7 168.5h0M140.5 177.1h0M138.1 174.5h0M138.0 184.2h0M140.8 190.4h0M141.1 197.9h0M142.3 188.0h0M139.5 173.0h0M139.5 199.0h0M130.3 183.4h0M136.4 188.8h0M141.4 175.0h0M145.5 172.4h0M139.7 193.1h0M139.9 175.7h0M141.8 160.3h0M138.3 160.9h0M145.4 196.7h0M143.2 191.2h0M137.8 167.1h0M136.9 166.1h0M138.3 174.2h0M141.5 173.0h0M139.6 164.6h0M139.4 168.1h0M137.5 177.2h0M136.9 178.3h0M141.6 163.3h0M129.9 193.5h0M146.6 167.6h0M143.0 187.7h0M137.6 161.0h0M146.2 180.8h0M133.9 184.4h0M139.4 168.7h0M146.1 183.2h0M138.2 181.6h0M145.7 208.9h0M138.1 169.4h0M142.8 199.4h0M135.9 163.7h0M140.8 187.6h0M138.6 177.7h0M137.3 180.1h0M139.9 177.9h0M144.7 171.1h0M138.2 174.3h0M136.9 164.2h0M136.3 178.4h0M132.0 176.3h0M143.1 196.9h0M135.9 182.8h0M138.6 192.0h0M135.6 164.9h0M141.5 168.4h0M127.8 175.0h0M138.4 180.2h0M136.9 187.6h0M140.9 187.2h0M146.0 184.1h0M131.1 180.5h0M136.5 158.7h0M138.5 167.3h0M138.0 169.5h0M133.9 172.3h0M138.6 170.5h0M134.7 197.5h0M141.5 145.2h0M140.1 183.9h0M142.7 190.5h0M138.2 159.8h0M139.1 163.1h0M131.0 167.2h0M135.3 163.2h0M134.8 170.2h0M138.5 161.6h0M140.8 187.6h0M135.0 184.4h0M135.2 173.5h0M135.4 186.4h0M131.8 202.3h0M138.8 179.3h0M137.7 165.6h0M133.9 183.3h0M136.6 184.9h0M145.4 180.5h0M141.0 174.1h0M135.3 180.4h0M145.2 187.5h0M139.6 170.0h0M138.1 197.5h0M139.4 164.4h0M136.4 184.0h0M140.4 154.0h0M139.4 173.2h0M129.9 157.7h0M137.5 164.4h0M139.1 181.5h0M138.1 173.3h0M140.2 160.6h0M131.0 182.4h0M142.7 170.8h0" stroke="#4a78c0" stroke-width="0.9" stroke-linecap="round" stroke-opacity="0.55" fill="none"/><path d="M150.3 191.2h0M139.8 185.2h0M152.6 169.9h0M146.9 187.2h0M139.5 195.7h0M140.9 193.8h0M145.3 171.6h0M142.8 167.3h0M157.7 167.9h0M140.0 197.4h0M148.5 189.5h0M137.7 165.6h0M142.9 183.2h0M149.3 193.0h0M146.2 190.8h0M134.3 159.0h0M139.2 178.9h0M139.7 174.1h0M144.5 171.8h0M143.3 195.4h0M146.8 175.3h0M144.9 187.2h0M145.0 192.6h0M135.8 194.9h0M138.2 189.3h0M135.6 195.0h0M149.0 171.3h0M147.8 174.8h0M151.1 177.6h0M141.4 167.2h0M143.4 187.7h0M148.1 171.0h0M141.7 164.8h0M139.8 178.4h0M146.2 191.7h0M140.7 163.6h0M153.2 180.3h0M141.7 182.2h0M143.5 189.9h0M147.2 163.7h0M141.7 189.6h0M142.6 191.3h0M137.8 200.9h0M146.0 158.4h0M150.4 166.1h0M145.2 182.8h0M146.2 189.6h0M132.8 175.3h0M138.3 172.2h0M144.6 220.7h0M143.9 166.8h0M160.1 191.6h0M143.4 207.9h0M150.3 194.1h0M136.0 203.7h0M143.0 186.3h0M147.2 204.7h0M152.3 177.2h0M141.8 169.3h0M143.4 186.1h0M145.6 179.6h0M139.6 171.3h0M146.3 194.2h0M147.9 175.4h0M148.1 197.4h0M139.8 165.6h0M149.0 206.5h0M146.6 185.7h0M144.2 197.3h0M136.3 182.7h0M142.0 149.8h0M142.1 180.8h0M144.4 177.6h0M142.4 187.3h0M135.4 164.9h0M147.3 188.7h0M149.2 162.3h0M150.9 193.8h0M145.5 165.8h0M148.7 197.5h0M142.4 187.0h0M146.9 192.6h0M147.9 190.2h0M136.6 174.2h0M134.9 194.7h0M148.4 186.8h0M154.8 168.3h0M152.8 168.3h0M133.5 174.4h0M141.1 176.8h0M143.7 186.5h0M147.5 171.0h0M137.6 189.8h0M151.4 193.3h0M146.8 155.4h0M147.6 171.4h0M150.0 199.3h0M141.8 167.0h0M141.9 186.9h0M147.1 166.1h0M145.9 167.9h0M140.7 195.6h0M143.5 150.2h0M138.2 197.6h0M134.0 196.3h0M144.3 161.7h0M140.7 188.8h0M151.9 162.9h0M142.9 185.7h0M149.0 215.0h0M154.4 186.4h0M136.3 176.7h0M137.8 176.4h0M141.4 177.8h0M146.2 176.8h0M149.6 196.5h0M136.9 159.8h0M138.9 148.9h0M144.6 180.7h0M144.7 204.9h0" stroke="#8a98e6" stroke-width="0.9" stroke-linecap="round" stroke-opacity="0.45" fill="none"/><ellipse cx="138.4" cy="180" rx="5" ry="18" fill="#4a78c0" fill-opacity="0.55" filter="url(#f1)"/><ellipse cx="138.1" cy="182" rx="3" ry="8" fill="#3aa2c6" fill-opacity="0.85" filter="url(#f1)"/><ellipse cx="137.8" cy="183" rx="2" ry="5" fill="#7cc63c" fill-opacity="0.95" filter="url(#f1)"/><path d="M147.9 168.1h0M143.5 155.4h0M128.2 157.0h0M142.9 151.9h0M137.4 160.9h0M154.9 156.6h0M140.5 153.8h0M142.1 150.8h0M145.0 152.7h0M150.8 151.8h0M134.4 163.1h0M145.9 150.8h0M143.8 159.8h0M151.8 152.4h0M129.4 161.0h0M146.8 165.8h0M140.1 145.5h0M127.3 178.4h0M141.7 158.0h0M145.0 162.2h0M137.4 157.0h0M142.5 168.7h0M156.5 168.3h0M147.7 151.3h0M137.4 162.4h0M137.8 155.6h0M160.3 156.9h0M141.1 145.2h0M146.2 161.9h0M140.9 163.4h0M124.9 170.9h0M151.9 142.6h0M143.9 165.6h0M148.5 160.9h0M151.0 163.4h0M139.7 171.4h0M134.2 156.0h0M139.5 172.4h0M138.9 148.3h0M135.3 161.6h0M142.6 162.2h0M133.5 162.3h0M148.4 174.6h0M152.9 149.2h0M146.3 151.5h0M145.5 165.7h0M141.4 137.0h0M143.6 160.6h0M139.1 165.9h0M140.2 157.8h0M146.5 154.0h0M148.3 156.1h0M141.5 164.7h0M152.1 157.7h0M144.2 157.4h0M132.0 156.5h0M159.4 158.1h0M148.4 164.7h0M151.7 159.9h0M148.2 158.4h0M159.7 163.1h0M142.2 170.2h0M137.1 168.1h0M158.5 152.2h0M146.9 155.7h0M143.6 158.6h0M128.5 169.6h0M142.8 167.7h0M138.5 157.1h0M140.4 148.8h0M156.0 170.1h0M152.7 165.4h0M140.7 163.6h0M164.6 173.1h0M145.4 151.6h0M148.1 139.7h0M150.7 155.6h0M141.7 169.6h0M154.3 158.5h0M136.5 146.5h0M135.5 165.5h0M145.7 155.7h0M144.0 158.6h0M134.1 157.6h0M152.6 174.4h0M138.8 161.9h0M135.0 165.6h0M142.5 160.3h0M152.3 166.9h0M146.6 164.5h0" stroke="#8a98e6" stroke-width="0.9" stroke-linecap="round" stroke-opacity="0.5" fill="none"/><path d="M160.2 180.4h0M160.2 161.2h0M157.4 176.2h0M157.6 172.5h0M158.2 190.0h0M158.7 180.1h0M159.0 170.2h0M156.3 166.2h0M156.9 167.6h0M158.1 183.6h0M153.8 178.1h0M157.0 156.0h0M159.1 169.7h0M155.8 181.9h0M156.2 177.8h0M155.0 162.0h0M160.2 186.3h0M157.8 169.0h0M157.8 183.6h0M154.7 192.7h0M155.4 167.3h0M154.3 166.4h0M156.4 159.2h0M154.9 178.0h0M158.4 178.4h0M156.7 156.5h0M156.7 172.5h0M153.9 187.3h0M155.7 166.0h0M157.3 164.0h0M155.6 167.1h0M159.0 172.9h0M157.9 175.5h0M156.1 183.7h0M152.3 171.8h0M160.5 185.7h0M158.0 179.9h0M156.6 181.8h0M156.9 170.0h0M159.2 173.8h0M161.9 169.3h0M158.0 186.5h0M159.6 171.5h0M158.6 180.2h0M157.9 159.3h0M158.9 182.6h0M157.8 162.5h0M162.5 166.4h0M157.8 166.3h0M160.7 175.1h0M158.7 187.3h0M158.0 182.8h0M158.0 166.9h0M161.7 174.7h0M156.8 170.3h0M156.8 183.4h0M156.6 177.5h0M159.0 163.4h0M155.6 176.3h0M158.4 158.6h0M159.8 160.2h0M156.8 179.8h0M158.9 178.0h0M155.6 162.2h0M159.4 167.3h0M158.6 176.7h0M156.6 164.2h0M155.3 165.1h0M155.6 185.6h0M158.0 173.8h0M160.2 154.6h0M158.1 160.3h0M157.9 178.3h0M158.9 172.3h0M157.4 168.5h0M157.3 165.7h0M156.4 170.7h0M158.6 153.2h0M158.8 172.3h0M156.7 186.8h0M158.5 183.1h0M156.7 172.2h0M155.3 164.4h0M156.4 175.8h0M160.5 157.8h0M158.5 184.9h0M158.6 183.4h0M159.3 159.4h0M154.7 187.0h0M154.9 162.9h0M156.6 163.7h0M158.2 183.8h0M155.6 162.8h0M159.3 171.0h0M156.1 162.1h0M157.7 164.0h0M159.3 165.5h0M157.6 160.4h0M158.3 173.7h0M157.0 174.4h0M157.9 184.4h0M155.2 177.2h0M155.4 169.9h0M160.9 184.1h0M157.0 171.3h0M160.9 188.0h0M155.5 161.8h0M157.5 161.8h0M155.8 180.0h0M156.8 174.4h0M158.4 188.6h0M153.4 178.5h0M157.2 171.0h0M156.0 171.1h0M156.4 158.8h0M155.6 161.6h0M155.7 172.2h0M159.4 159.9h0M157.6 190.6h0M157.2 164.1h0M158.8 182.9h0M156.0 163.5h0M159.3 168.1h0M160.1 174.6h0M158.4 174.4h0M159.2 155.7h0M160.3 176.6h0M156.5 166.9h0M156.9 188.2h0M158.1 187.7h0M158.4 171.9h0M157.4 161.7h0M158.0 166.7h0M160.6 185.3h0M158.2 165.6h0M156.5 186.4h0M156.6 160.3h0M158.8 159.1h0M159.1 186.9h0M158.6 172.3h0M157.6 185.1h0M160.5 172.9h0M161.1 176.9h0M157.2 161.7h0M155.8 171.9h0M159.3 173.7h0M156.3 177.0h0M162.5 185.4h0M155.6 158.7h0M157.1 160.1h0M152.4 159.7h0M157.1 186.4h0M154.3 170.6h0M156.2 166.6h0M156.4 154.9h0M154.1 183.2h0M158.2 161.9h0M157.7 157.0h0M159.0 168.3h0M159.8 180.5h0" stroke="#4a68c0" stroke-width="0.9" stroke-linecap="round" stroke-opacity="0.55" fill="none"/><ellipse cx="157.5" cy="172" rx="3" ry="12" fill="#6a80c8" fill-opacity="0.35" filter="url(#f1_5)"/><ellipse cx="157" cy="152.5" rx="5.5" ry="4.5" fill="#3a5ab8" fill-opacity="0.9" filter="url(#f0_9)"/><ellipse cx="157" cy="152" rx="4" ry="3.2" fill="#7cc63c" fill-opacity="1" filter="url(#f0_7)"/><ellipse cx="157" cy="152" rx="2.4" ry="2" fill="#e8e23a" fill-opacity="1" filter="url(#f0_5)"/><ellipse cx="157" cy="151.5" rx="1.2" ry="1" fill="#e2401c" fill-opacity="1" filter="url(#f0_4)"/><ellipse cx="158" cy="189" rx="3" ry="5" fill="#3a7ab8" fill-opacity="0.8" filter="url(#f0_8)"/><ellipse cx="158" cy="190" rx="1.8" ry="2.8" fill="#7cc63c" fill-opacity="0.9" filter="url(#f0_6)"/></g>
<rect x="133.8" y="147.8" width="51" height="47.7" fill="none" stroke="#8a8a8a" stroke-width="0.7" />
<text x="132.6" y="194.5" font-size="2.6" text-anchor="end" fill="#888" style="stroke:none">10<tspan font-size="1.8" dy="-1">1</tspan></text>
<line x1="133" y1="193.5" x2="133.8" y2="193.5" stroke="#888" stroke-width="0.4"/>
<text x="132.6" y="184.34" font-size="2.6" text-anchor="end" fill="#888" style="stroke:none">10<tspan font-size="1.8" dy="-1">2</tspan></text>
<line x1="133" y1="183.34" x2="133.8" y2="183.34" stroke="#888" stroke-width="0.4"/>
<text x="132.6" y="174.17" font-size="2.6" text-anchor="end" fill="#888" style="stroke:none">10<tspan font-size="1.8" dy="-1">3</tspan></text>
<line x1="133" y1="173.17" x2="133.8" y2="173.17" stroke="#888" stroke-width="0.4"/>
<text x="132.6" y="164.01" font-size="2.6" text-anchor="end" fill="#888" style="stroke:none">10<tspan font-size="1.8" dy="-1">4</tspan></text>
<line x1="133" y1="163.01" x2="133.8" y2="163.01" stroke="#888" stroke-width="0.4"/>
<text x="132.6" y="153.85" font-size="2.6" text-anchor="end" fill="#888" style="stroke:none">10<tspan font-size="1.8" dy="-1">5</tspan></text>
<line x1="133" y1="152.85" x2="133.8" y2="152.85" stroke="#888" stroke-width="0.4"/>
<text x="136.8" y="198.9" font-size="2.6" text-anchor="middle" fill="#888" style="stroke:none">10<tspan font-size="1.8" dy="-1">1</tspan></text>
<line x1="136.8" y1="195.5" x2="136.8" y2="196.3" stroke="#888" stroke-width="0.4"/>
<text x="147.27" y="198.9" font-size="2.6" text-anchor="middle" fill="#888" style="stroke:none">10<tspan font-size="1.8" dy="-1">2</tspan></text>
<line x1="147.27" y1="195.5" x2="147.27" y2="196.3" stroke="#888" stroke-width="0.4"/>
<text x="157.73" y="198.9" font-size="2.6" text-anchor="middle" fill="#888" style="stroke:none">10<tspan font-size="1.8" dy="-1">3</tspan></text>
<line x1="157.73" y1="195.5" x2="157.73" y2="196.3" stroke="#888" stroke-width="0.4"/>
<text x="168.2" y="198.9" font-size="2.6" text-anchor="middle" fill="#888" style="stroke:none">10<tspan font-size="1.8" dy="-1">4</tspan></text>
<line x1="168.2" y1="195.5" x2="168.2" y2="196.3" stroke="#888" stroke-width="0.4"/>
<text x="178.66" y="198.9" font-size="2.6" text-anchor="middle" fill="#888" style="stroke:none">10<tspan font-size="1.8" dy="-1">5</tspan></text>
<line x1="178.66" y1="195.5" x2="178.66" y2="196.3" stroke="#888" stroke-width="0.4"/>
<rect x="136.1" y="147.8" width="14.4" height="13" fill="none" stroke="#5a5a5a" stroke-width="0.65" />
<rect x="150.5" y="147.8" width="22.8" height="47.7" fill="none" stroke="#5a5a5a" stroke-width="0.65" />
<line x1="150.5" y1="161" x2="173.3" y2="161" stroke="#5a5a5a" stroke-width="0.65"/>
<line x1="150.5" y1="180" x2="173.3" y2="180" stroke="#5a5a5a" stroke-width="0.65"/>
<text x="138.3" y="146.6" font-size="5.2" text-anchor="start" font-weight="normal" font-style="normal" fill="#222" >3.1%</text>
<text x="185.6" y="146.6" font-size="5.2" text-anchor="end" font-weight="normal" font-style="normal" fill="#222" >48.4%</text>
<text x="185.6" y="173.8" font-size="5.2" text-anchor="end" font-weight="normal" font-style="normal" fill="#222" >6.9%</text>
<text x="185.6" y="191.8" font-size="5.2" text-anchor="end" font-weight="normal" font-style="normal" fill="#222" >12.3%</text>
<g clip-path="url(#c8)"><path d="M196.8 176.6h0M195.0 171.4h0M195.2 199.0h0M197.7 172.0h0M199.2 180.6h0M197.9 195.9h0M207.3 171.5h0M199.5 173.1h0M199.8 157.4h0M186.9 185.1h0M196.9 174.3h0M198.7 184.5h0M194.5 166.7h0M198.6 176.6h0M207.7 180.1h0M198.1 187.8h0M199.4 173.5h0M200.3 152.1h0M193.9 171.4h0M203.1 178.6h0M193.8 163.8h0M196.6 177.3h0M199.2 196.1h0M199.8 180.9h0M198.3 200.5h0M195.2 174.6h0M202.8 174.3h0M198.6 194.2h0M200.4 168.5h0M194.1 184.6h0M203.3 176.6h0M200.2 193.1h0M196.6 190.9h0M198.1 175.5h0M195.3 177.5h0M193.0 164.4h0M193.5 181.6h0M197.7 187.4h0M194.0 177.0h0M199.3 199.1h0M195.0 178.0h0M198.1 202.0h0M205.0 160.8h0M198.3 182.8h0M197.8 175.9h0M201.6 163.1h0M196.3 189.6h0M197.5 171.2h0M194.2 194.6h0M196.3 162.8h0M200.3 183.3h0M198.3 181.2h0M195.4 165.3h0M202.3 170.7h0M201.7 171.0h0M195.5 176.9h0M190.3 184.6h0M198.1 178.1h0M196.9 184.7h0M195.3 167.5h0M190.4 182.4h0M198.4 172.6h0M203.6 181.7h0M194.1 167.5h0M197.4 178.0h0M192.0 185.2h0M197.5 175.7h0M203.7 197.3h0M196.3 175.9h0M196.2 150.4h0M201.6 164.4h0M198.8 173.0h0M192.1 183.2h0M197.2 183.9h0M201.9 163.3h0M199.6 178.2h0M190.2 167.0h0M193.0 160.6h0M201.9 188.1h0M199.6 188.3h0M200.6 189.3h0M203.2 183.3h0M193.7 156.3h0M198.5 173.0h0M201.3 166.4h0M202.1 172.3h0M203.1 187.6h0M203.0 210.1h0M191.0 171.4h0M195.2 178.5h0M195.4 161.1h0M195.6 180.5h0M193.4 187.6h0M198.6 185.3h0M193.2 179.9h0M200.8 182.1h0M201.0 176.2h0M198.7 167.3h0M201.8 185.5h0M202.4 162.0h0M203.5 183.8h0M195.4 168.0h0M196.1 164.8h0M200.5 195.7h0M200.4 185.9h0M201.0 164.9h0M192.8 176.6h0M194.9 178.6h0M197.6 177.1h0M197.7 180.9h0M205.9 177.3h0M197.1 171.9h0M200.1 169.9h0M200.0 160.8h0M193.8 165.3h0M197.6 201.7h0M192.6 172.4h0M199.7 169.8h0M195.5 184.4h0M204.6 190.0h0M196.7 164.6h0M191.4 170.7h0M201.3 183.0h0M196.6 163.6h0M195.6 178.2h0M199.2 196.5h0M193.8 203.0h0M205.9 158.7h0M197.6 192.9h0M200.9 185.2h0M202.0 184.7h0M204.0 172.3h0M196.5 185.6h0M199.3 176.3h0M202.2 157.5h0M206.1 191.0h0M196.2 168.1h0M194.0 185.8h0M191.4 173.7h0M200.8 171.1h0M204.4 179.2h0M195.2 163.3h0M199.5 180.3h0M201.0 170.9h0M189.0 183.8h0M200.0 194.8h0M202.5 184.1h0M198.2 170.6h0M198.9 144.9h0M201.1 158.2h0M203.6 171.5h0M192.1 171.1h0M200.0 161.4h0M197.2 171.1h0M196.7 187.5h0M202.2 161.0h0M195.5 216.9h0M199.5 179.6h0M197.6 182.5h0M201.4 174.3h0M193.0 194.0h0M193.5 174.3h0M194.7 183.2h0M201.0 175.3h0M194.4 175.7h0M199.5 183.5h0M192.0 177.1h0M197.2 179.8h0M200.0 175.3h0M199.1 175.5h0M197.1 172.3h0M198.1 191.2h0M198.4 164.5h0M195.2 184.3h0M195.5 176.7h0M200.5 175.6h0M201.3 189.8h0M195.0 194.2h0M203.4 182.7h0M193.0 199.7h0M197.1 190.8h0M196.5 192.2h0M197.3 196.4h0M193.6 188.4h0M197.3 191.4h0M193.1 171.0h0M196.2 167.1h0M199.8 181.2h0M199.6 184.4h0M200.4 195.0h0M194.2 201.2h0M198.6 187.4h0M199.1 184.4h0M196.4 162.9h0M198.2 201.0h0M196.6 166.1h0M194.3 166.5h0M196.9 180.0h0M192.7 200.9h0M194.8 190.8h0M203.4 189.5h0M200.5 168.8h0M195.4 188.9h0M198.3 186.6h0M202.0 191.9h0M189.6 176.1h0M205.2 172.0h0M204.6 169.8h0M200.1 179.0h0M205.3 174.1h0M194.7 166.3h0M194.9 183.2h0M201.0 190.6h0M198.0 184.3h0M201.4 166.0h0M200.4 170.6h0M195.8 173.3h0M199.5 170.5h0M195.6 165.2h0M197.6 182.6h0M194.1 179.3h0M199.3 170.3h0M199.5 187.9h0M199.1 169.3h0M197.7 175.6h0M203.1 187.8h0M196.6 178.1h0M190.1 183.1h0M194.8 188.2h0M194.7 185.2h0M205.3 185.0h0M195.5 172.4h0M197.8 185.9h0M204.4 168.2h0M194.9 189.8h0M196.1 175.3h0M203.9 182.3h0M200.7 191.9h0M199.0 178.3h0M200.9 193.7h0M190.1 152.8h0M196.0 165.1h0M207.1 180.6h0M191.4 179.7h0M204.7 184.2h0M195.9 179.3h0M197.2 180.8h0M196.1 173.7h0M197.7 170.6h0M196.5 161.8h0M196.3 148.0h0M196.8 196.3h0M192.4 194.1h0M201.0 158.9h0M196.1 172.2h0M206.0 159.8h0M201.3 174.5h0M200.6 160.9h0M201.7 158.8h0M194.9 181.6h0" stroke="#4a78c0" stroke-width="0.9" stroke-linecap="round" stroke-opacity="0.55" fill="none"/><path d="M206.3 159.9h0M192.0 172.8h0M204.8 180.5h0M201.2 181.4h0M205.2 174.8h0M207.0 173.1h0M210.5 198.0h0M201.1 166.7h0M197.5 169.6h0M210.6 174.6h0M197.3 176.0h0M196.0 191.6h0M210.8 194.3h0M212.9 169.4h0M198.4 176.4h0M206.0 183.6h0M191.8 172.8h0M206.3 173.2h0M203.7 153.9h0M192.0 183.6h0M205.9 192.0h0M194.2 177.9h0M199.0 183.9h0M207.8 169.3h0M200.1 185.0h0M194.5 182.4h0M198.1 196.2h0M202.9 180.1h0M208.6 177.2h0M189.3 169.7h0M204.4 185.0h0M204.8 188.0h0M208.1 166.0h0M208.4 183.0h0M200.1 179.4h0M199.3 209.3h0M199.7 183.6h0M201.4 175.9h0M195.2 177.4h0M210.2 189.6h0M200.2 202.2h0M194.0 159.0h0M200.8 174.3h0M207.5 200.6h0M204.6 175.2h0M199.6 185.9h0M191.9 185.9h0M194.6 171.3h0M204.3 168.4h0M199.5 170.5h0M196.5 182.9h0M202.0 172.4h0M205.7 172.7h0M199.3 205.8h0M209.5 178.7h0M205.4 178.8h0M207.7 177.3h0M213.7 185.3h0M209.1 200.4h0M206.9 180.3h0M202.2 184.7h0M198.4 182.4h0M203.3 163.3h0M215.1 174.0h0M210.2 208.3h0M209.9 168.6h0M200.2 178.5h0M202.0 189.2h0M206.6 198.7h0M199.2 202.0h0M193.7 168.0h0M213.7 194.6h0M195.3 179.0h0M204.5 202.2h0M195.8 192.8h0M201.0 176.0h0M200.7 202.8h0M212.2 182.0h0M194.7 173.6h0M200.5 194.4h0M193.9 183.5h0M210.2 187.6h0M203.3 199.2h0M203.6 189.8h0M205.3 210.4h0M195.7 202.4h0M203.4 168.7h0M203.1 179.4h0M211.5 171.7h0M209.3 191.3h0M194.9 180.7h0M200.6 210.6h0M202.1 176.1h0M209.0 152.8h0M200.6 201.4h0M211.7 157.1h0M214.1 191.7h0M203.9 205.9h0M201.2 165.1h0M212.6 165.0h0M218.9 178.7h0M195.0 169.6h0M200.9 167.2h0M196.7 180.1h0M204.8 190.9h0M210.3 156.9h0M200.8 159.2h0M196.0 178.8h0M203.4 178.5h0M188.9 193.2h0M205.7 195.5h0M207.9 185.2h0M204.5 176.7h0M207.0 155.4h0M206.9 171.8h0M209.1 174.2h0M189.8 190.8h0M195.1 174.0h0M204.3 180.9h0M203.5 186.8h0" stroke="#8a98e6" stroke-width="0.9" stroke-linecap="round" stroke-opacity="0.45" fill="none"/><ellipse cx="198.4" cy="180" rx="5" ry="18" fill="#4a78c0" fill-opacity="0.55" filter="url(#f1)"/><ellipse cx="198.1" cy="182" rx="3" ry="8" fill="#3aa2c6" fill-opacity="0.85" filter="url(#f1)"/><path d="M206.4 161.9h0M214.2 165.2h0M207.9 187.6h0M200.5 183.4h0M215.8 180.4h0M206.1 154.6h0M201.7 159.8h0M208.3 177.7h0M203.4 154.6h0M207.4 176.7h0M202.8 170.3h0M211.4 173.6h0M213.8 188.8h0M212.0 184.4h0M205.7 160.0h0M183.0 160.3h0M198.9 162.0h0M209.4 168.6h0M209.8 167.1h0M198.6 174.9h0M195.6 149.7h0M202.3 162.9h0M215.2 168.8h0M190.4 169.1h0M211.4 180.1h0M206.7 149.7h0M202.8 166.2h0M198.5 171.3h0M198.5 162.4h0M195.6 174.1h0M191.5 156.7h0M202.9 179.4h0M205.4 175.4h0M213.2 148.1h0M208.7 178.1h0M215.5 156.4h0M225.7 164.9h0M203.1 174.2h0M204.0 184.2h0M209.3 170.9h0M193.6 173.1h0M206.0 175.1h0M202.5 174.6h0M206.3 173.9h0M208.4 146.5h0M216.2 175.7h0M209.6 155.5h0M200.0 191.1h0M205.9 171.8h0M208.8 167.6h0M214.1 159.8h0M207.0 171.6h0M201.6 164.6h0M198.7 154.5h0M204.9 183.6h0M207.4 193.6h0M196.7 156.5h0M202.2 167.1h0M213.2 156.3h0M194.7 168.5h0M192.3 171.0h0M198.5 168.0h0M199.2 169.2h0M212.5 170.5h0M211.7 156.1h0M206.1 183.8h0M196.0 162.1h0M195.9 173.6h0M198.5 147.1h0M191.8 167.9h0M202.5 164.5h0M203.7 180.4h0M199.0 181.1h0M197.2 210.4h0M203.3 158.5h0M199.1 144.1h0M209.3 184.2h0M210.6 167.0h0M213.1 154.9h0M202.3 176.1h0M206.5 158.3h0M199.4 180.8h0M202.0 144.8h0M214.3 159.8h0M207.0 180.3h0M208.7 170.3h0M201.7 176.3h0M200.3 171.0h0M199.9 159.9h0M204.2 188.3h0" stroke="#8a98e6" stroke-width="0.9" stroke-linecap="round" stroke-opacity="0.45" fill="none"/><path d="M220.7 166.7h0M218.8 177.1h0M216.9 163.4h0M216.7 182.2h0M216.7 160.3h0M219.5 186.4h0M220.0 158.6h0M217.8 178.6h0M219.5 164.3h0M217.5 160.3h0M218.3 181.3h0M218.5 185.0h0M217.7 166.9h0M214.7 178.2h0M218.1 166.6h0M214.7 177.1h0M217.0 163.8h0M217.5 179.8h0M219.7 177.8h0M217.5 161.3h0M217.9 176.7h0M217.6 174.7h0M219.2 179.5h0M215.1 168.2h0M214.6 174.9h0M219.7 171.2h0M216.5 170.1h0M216.1 166.0h0M214.5 182.7h0M214.2 160.2h0M217.0 179.6h0M215.9 182.2h0M219.1 168.2h0M219.5 166.6h0M215.0 176.9h0M219.5 160.7h0M217.9 174.5h0M217.3 174.1h0M214.2 164.4h0M218.3 174.5h0M220.3 178.9h0M219.2 172.8h0M218.2 175.2h0M217.8 170.4h0M219.4 181.4h0M218.0 163.9h0M216.3 164.7h0M219.4 172.1h0M219.5 175.4h0M219.2 160.1h0M216.4 162.3h0M218.4 171.9h0M217.0 176.4h0M212.6 175.5h0M217.3 159.0h0M220.6 171.7h0M215.5 159.7h0M217.3 182.0h0M215.2 165.0h0M216.7 167.3h0M219.2 168.6h0M217.6 167.9h0M215.7 179.5h0M217.0 162.4h0M218.0 163.9h0M221.4 178.1h0M221.3 158.2h0M219.9 170.6h0M217.7 169.2h0M215.9 176.4h0M219.0 162.3h0M217.2 172.9h0M218.9 172.6h0M220.4 179.3h0M215.7 170.3h0M218.4 161.2h0M218.6 160.9h0M214.3 180.0h0M217.4 180.2h0M215.8 163.2h0M220.3 180.9h0M215.4 167.6h0M219.7 184.4h0M220.1 183.2h0M218.6 175.8h0M217.8 166.5h0M216.9 172.3h0M216.5 160.8h0M218.9 161.8h0M216.6 161.0h0" stroke="#4a68c0" stroke-width="0.9" stroke-linecap="round" stroke-opacity="0.5" fill="none"/><ellipse cx="219" cy="153" rx="3.5" ry="4" fill="#2f4ccc" fill-opacity="0.85" filter="url(#f0_9)"/><ellipse cx="219" cy="153" rx="2.2" ry="2.5" fill="#3aa2c6" fill-opacity="0.9" filter="url(#f0_7)"/><ellipse cx="219" cy="152.5" rx="1.3" ry="1.5" fill="#7cc63c" fill-opacity="1" filter="url(#f0_5)"/><ellipse cx="218" cy="188" rx="4" ry="6.5" fill="#3a5ab8" fill-opacity="0.85" filter="url(#f0_9)"/><ellipse cx="218" cy="189" rx="3" ry="4.5" fill="#3aa2c6" fill-opacity="0.9" filter="url(#f0_8)"/><ellipse cx="218" cy="190" rx="2" ry="3" fill="#7cc63c" fill-opacity="0.95" filter="url(#f0_6)"/><ellipse cx="218" cy="190.5" rx="1" ry="1.5" fill="#e8e23a" fill-opacity="1" filter="url(#f0_4)"/></g>
<rect x="193.8" y="147.8" width="51" height="47.7" fill="none" stroke="#8a8a8a" stroke-width="0.7" />
<text x="192.6" y="194.5" font-size="2.6" text-anchor="end" fill="#888" style="stroke:none">10<tspan font-size="1.8" dy="-1">1</tspan></text>
<line x1="193" y1="193.5" x2="193.8" y2="193.5" stroke="#888" stroke-width="0.4"/>
<text x="192.6" y="184.34" font-size="2.6" text-anchor="end" fill="#888" style="stroke:none">10<tspan font-size="1.8" dy="-1">2</tspan></text>
<line x1="193" y1="183.34" x2="193.8" y2="183.34" stroke="#888" stroke-width="0.4"/>
<text x="192.6" y="174.17" font-size="2.6" text-anchor="end" fill="#888" style="stroke:none">10<tspan font-size="1.8" dy="-1">3</tspan></text>
<line x1="193" y1="173.17" x2="193.8" y2="173.17" stroke="#888" stroke-width="0.4"/>
<text x="192.6" y="164.01" font-size="2.6" text-anchor="end" fill="#888" style="stroke:none">10<tspan font-size="1.8" dy="-1">4</tspan></text>
<line x1="193" y1="163.01" x2="193.8" y2="163.01" stroke="#888" stroke-width="0.4"/>
<text x="192.6" y="153.85" font-size="2.6" text-anchor="end" fill="#888" style="stroke:none">10<tspan font-size="1.8" dy="-1">5</tspan></text>
<line x1="193" y1="152.85" x2="193.8" y2="152.85" stroke="#888" stroke-width="0.4"/>
<text x="196.8" y="198.9" font-size="2.6" text-anchor="middle" fill="#888" style="stroke:none">10<tspan font-size="1.8" dy="-1">1</tspan></text>
<line x1="196.8" y1="195.5" x2="196.8" y2="196.3" stroke="#888" stroke-width="0.4"/>
<text x="207.27" y="198.9" font-size="2.6" text-anchor="middle" fill="#888" style="stroke:none">10<tspan font-size="1.8" dy="-1">2</tspan></text>
<line x1="207.27" y1="195.5" x2="207.27" y2="196.3" stroke="#888" stroke-width="0.4"/>
<text x="217.73" y="198.9" font-size="2.6" text-anchor="middle" fill="#888" style="stroke:none">10<tspan font-size="1.8" dy="-1">3</tspan></text>
<line x1="217.73" y1="195.5" x2="217.73" y2="196.3" stroke="#888" stroke-width="0.4"/>
<text x="228.2" y="198.9" font-size="2.6" text-anchor="middle" fill="#888" style="stroke:none">10<tspan font-size="1.8" dy="-1">4</tspan></text>
<line x1="228.2" y1="195.5" x2="228.2" y2="196.3" stroke="#888" stroke-width="0.4"/>
<text x="238.66" y="198.9" font-size="2.6" text-anchor="middle" fill="#888" style="stroke:none">10<tspan font-size="1.8" dy="-1">5</tspan></text>
<line x1="238.66" y1="195.5" x2="238.66" y2="196.3" stroke="#888" stroke-width="0.4"/>
<rect x="196.1" y="147.8" width="14.4" height="13" fill="none" stroke="#5a5a5a" stroke-width="0.65" />
<rect x="210.5" y="147.8" width="22.8" height="47.7" fill="none" stroke="#5a5a5a" stroke-width="0.65" />
<line x1="210.5" y1="161" x2="233.3" y2="161" stroke="#5a5a5a" stroke-width="0.65"/>
<line x1="210.5" y1="180" x2="233.3" y2="180" stroke="#5a5a5a" stroke-width="0.65"/>
<text x="198.3" y="146.6" font-size="5.2" text-anchor="start" font-weight="normal" font-style="normal" fill="#222" >0.6%</text>
<text x="245.6" y="146.6" font-size="5.2" text-anchor="end" font-weight="normal" font-style="normal" fill="#222" >29.7%</text>
<text x="245.6" y="173.8" font-size="5.2" text-anchor="end" font-weight="normal" font-style="normal" fill="#222" >2.7%</text>
<text x="245.6" y="191.8" font-size="5.2" text-anchor="end" font-weight="normal" font-style="normal" fill="#222" >37.1%</text>
<text x="0" y="0" font-size="8" text-anchor="middle" fill="#111" transform="translate(9.3,195.6) rotate(-90)">CD71</text>
<line x1="11" y1="185.5" x2="11" y2="205" stroke="#111" stroke-width="0.9"/>
<line x1="11" y1="205" x2="29" y2="205" stroke="#111" stroke-width="0.9"/>
<path d="M9.7,186 L11,183.5 L12.3,186 Z" fill="#111"/>
<path d="M28.5,203.7 L31,205 L28.5,206.3 Z" fill="#111"/>
<text x="10.8" y="212.5" font-size="8" text-anchor="start" font-weight="normal" font-style="normal" fill="#111" >Ter119</text>
<text x="34.6" y="225" font-size="8.2" text-anchor="middle" font-weight="normal" font-style="normal" fill="#111" >WT</text>
<text x="93.8" y="218" font-size="8.2" text-anchor="middle" font-weight="normal" font-style="italic" fill="#111" >SclCre</text>
<text x="93.8" y="226.5" font-size="8.2" text-anchor="middle" font-style="italic" fill="#111">Stat3<tspan font-size="5.08" dy="-3.12">fl/fl</tspan></text>
<text x="153.8" y="218" font-size="8.2" text-anchor="middle" font-weight="normal" font-style="italic" fill="#111" >SclCre</text>
<text x="153.8" y="226.6" font-size="8.2" text-anchor="middle" font-weight="normal" font-style="italic" fill="#111" >V617F</text>
<text x="153.8" y="235.2" font-size="8.2" text-anchor="middle" font-style="italic" fill="#111">Stat3<tspan font-size="5.08" dy="-3.12">+/+</tspan></text>
<text x="211.5" y="218" font-size="8.2" text-anchor="middle" font-weight="normal" font-style="italic" fill="#111" >SclCre</text>
<text x="211.5" y="226.6" font-size="8.2" text-anchor="middle" font-weight="normal" font-style="italic" fill="#111" >V617F</text>
<text x="211.5" y="235.2" font-size="8.2" text-anchor="middle" font-style="italic" fill="#111">Stat3<tspan font-size="5.08" dy="-3.12">fl/fl</tspan></text>
<text x="240.3" y="10.3" font-size="12.5" text-anchor="start" font-weight="bold" font-style="normal" fill="#111" >B</text>
<text x="262" y="10" font-size="10.7" text-anchor="start" font-weight="normal" font-style="normal" fill="#111" >Quantification of erythroid</text>
<text x="262" y="23.5" font-size="10.7" text-anchor="start" font-weight="normal" font-style="normal" fill="#111" >precursors by flow cytometry</text>
<text x="247.6" y="37.6" font-size="8" text-anchor="start" font-weight="normal" font-style="normal" fill="#111" >%</text>
<text x="265" y="37.6" font-size="8.9" text-anchor="start" font-weight="normal" font-style="normal" fill="#111" >bone marrow</text>
<line x1="255.8" y1="37" x2="255.8" y2="109.9" stroke="#111" stroke-width="1.3"/>
<line x1="253.8" y1="53.4" x2="255.8" y2="53.4" stroke="#111" stroke-width="1"/>
<text x="252.6" y="55.9" font-size="7.8" text-anchor="end" font-weight="normal" font-style="normal" fill="#111" >40</text>
<line x1="253.8" y1="81.5" x2="255.8" y2="81.5" stroke="#111" stroke-width="1"/>
<text x="252.6" y="84" font-size="7.8" text-anchor="end" font-weight="normal" font-style="normal" fill="#111" >20</text>
<line x1="253.8" y1="109.4" x2="255.8" y2="109.4" stroke="#111" stroke-width="1"/>
<text x="252.6" y="111.9" font-size="7.8" text-anchor="end" font-weight="normal" font-style="normal" fill="#111" >0</text>
<line x1="255.8" y1="109.4" x2="399.5" y2="109.4" stroke="#111" stroke-width="1.2"/>
<rect x="259.1" y="108.41" width="6.8" height="0.99" fill="#050505" stroke="#050505" stroke-width="0.8" />
<line x1="270.1" y1="66.71" x2="270.1" y2="68.67" stroke="#222" stroke-width="1"/>
<line x1="267.85" y1="66.71" x2="272.35" y2="66.71" stroke="#222" stroke-width="1.1"/>
<rect x="266.7" y="69.07" width="6.8" height="40.33" fill="#050505" stroke="#050505" stroke-width="0.8" />
<rect x="274.2" y="108.5" width="7" height="0.9" fill="#050505" stroke="none" stroke-width="1" />
<line x1="285.3" y1="101.73" x2="285.3" y2="102.29" stroke="#222" stroke-width="1"/>
<line x1="283.05" y1="101.73" x2="287.55" y2="101.73" stroke="#222" stroke-width="1.1"/>
<rect x="281.9" y="102.69" width="6.8" height="6.71" fill="#050505" stroke="#050505" stroke-width="0.8" />
<text x="262.5" y="117.3" font-size="5.3" text-anchor="middle" font-weight="normal" font-style="normal" fill="#333" >I</text>
<text x="270.1" y="117.3" font-size="5.3" text-anchor="middle" font-weight="normal" font-style="normal" fill="#333" >II</text>
<text x="277.7" y="117.3" font-size="5.3" text-anchor="middle" font-weight="normal" font-style="normal" fill="#333" >III</text>
<text x="285.3" y="117.3" font-size="5.3" text-anchor="middle" font-weight="normal" font-style="normal" fill="#333" >IV</text>
<rect x="295" y="108.5" width="7" height="0.9" fill="#222" stroke="none" stroke-width="1" />
<line x1="306.1" y1="79.27" x2="306.1" y2="89.03" stroke="#222" stroke-width="1"/>
<line x1="303.85" y1="79.27" x2="308.35" y2="79.27" stroke="#222" stroke-width="1.1"/>
<rect x="302.7" y="89.43" width="6.8" height="19.97" fill="#4a7d27" stroke="#111" stroke-width="0.8" />
<rect x="310.2" y="108.5" width="7" height="0.9" fill="#222" stroke="none" stroke-width="1" />
<line x1="321.3" y1="102.29" x2="321.3" y2="104.66" stroke="#222" stroke-width="1"/>
<line x1="319.05" y1="102.29" x2="323.55" y2="102.29" stroke="#222" stroke-width="1.1"/>
<rect x="317.9" y="105.06" width="6.8" height="4.34" fill="#4a7d27" stroke="#111" stroke-width="0.8" />
<text x="298.5" y="117.3" font-size="5.3" text-anchor="middle" font-weight="normal" font-style="normal" fill="#333" >I</text>
<text x="306.1" y="117.3" font-size="5.3" text-anchor="middle" font-weight="normal" font-style="normal" fill="#333" >II</text>
<text x="313.7" y="117.3" font-size="5.3" text-anchor="middle" font-weight="normal" font-style="normal" fill="#333" >III</text>
<text x="321.3" y="117.3" font-size="5.3" text-anchor="middle" font-weight="normal" font-style="normal" fill="#333" >IV</text>
<rect x="331.4" y="108.5" width="7" height="0.9" fill="#222" stroke="none" stroke-width="1" />
<line x1="342.5" y1="105.35" x2="342.5" y2="105.77" stroke="#222" stroke-width="1"/>
<line x1="340.25" y1="105.35" x2="344.75" y2="105.35" stroke="#222" stroke-width="1.1"/>
<rect x="339.1" y="106.17" width="6.8" height="3.23" fill="#e3050c" stroke="#111" stroke-width="0.8" />
<rect x="346.6" y="108.5" width="7" height="0.9" fill="#222" stroke="none" stroke-width="1" />
<line x1="357.7" y1="104.1" x2="357.7" y2="104.66" stroke="#222" stroke-width="1"/>
<line x1="355.45" y1="104.1" x2="359.95" y2="104.1" stroke="#222" stroke-width="1.1"/>
<rect x="354.3" y="105.06" width="6.8" height="4.34" fill="#e3050c" stroke="#111" stroke-width="0.8" />
<text x="334.9" y="117.3" font-size="5.3" text-anchor="middle" font-weight="normal" font-style="normal" fill="#333" >I</text>
<text x="342.5" y="117.3" font-size="5.3" text-anchor="middle" font-weight="normal" font-style="normal" fill="#333" >II</text>
<text x="350.1" y="117.3" font-size="5.3" text-anchor="middle" font-weight="normal" font-style="normal" fill="#333" >III</text>
<text x="357.7" y="117.3" font-size="5.3" text-anchor="middle" font-weight="normal" font-style="normal" fill="#333" >IV</text>
<rect x="367.5" y="108.5" width="7" height="0.9" fill="#222" stroke="none" stroke-width="1" />
<line x1="378.6" y1="92.38" x2="378.6" y2="97.68" stroke="#222" stroke-width="1"/>
<line x1="376.35" y1="92.38" x2="380.85" y2="92.38" stroke="#222" stroke-width="1.1"/>
<rect x="375.2" y="98.08" width="6.8" height="11.32" fill="#0b2cf0" stroke="#111" stroke-width="0.8" />
<rect x="382.7" y="108.5" width="7" height="0.9" fill="#222" stroke="none" stroke-width="1" />
<line x1="393.8" y1="95.45" x2="393.8" y2="98.94" stroke="#222" stroke-width="1"/>
<line x1="391.55" y1="95.45" x2="396.05" y2="95.45" stroke="#222" stroke-width="1.1"/>
<rect x="390.4" y="99.34" width="6.8" height="10.06" fill="#0b2cf0" stroke="#111" stroke-width="0.8" />
<text x="371" y="117.3" font-size="5.3" text-anchor="middle" font-weight="normal" font-style="normal" fill="#333" >I</text>
<text x="378.6" y="117.3" font-size="5.3" text-anchor="middle" font-weight="normal" font-style="normal" fill="#333" >II</text>
<text x="386.2" y="117.3" font-size="5.3" text-anchor="middle" font-weight="normal" font-style="normal" fill="#333" >III</text>
<text x="393.8" y="117.3" font-size="5.3" text-anchor="middle" font-weight="normal" font-style="normal" fill="#333" >IV</text>
<line x1="271.9" y1="61.5" x2="308" y2="61.5" stroke="#1a1a1a" stroke-width="1.1"/>
<circle cx="285.3" cy="57.4" r="1.3" fill="#111"/>
<line x1="271.9" y1="53.5" x2="343" y2="53.5" stroke="#1a1a1a" stroke-width="1.1"/>
<circle cx="307.3" cy="49.7" r="1.3" fill="#111"/>
<line x1="271.9" y1="45.5" x2="379.2" y2="45.5" stroke="#1a1a1a" stroke-width="1.1"/>
<circle cx="328" cy="41" r="1.3" fill="#111"/>
<text x="247.4" y="140.7" font-size="8" text-anchor="start" font-weight="normal" font-style="normal" fill="#111" >%</text>
<text x="264" y="155.9" font-size="8.9" text-anchor="start" font-weight="normal" font-style="normal" fill="#111" >spleen</text>
<line x1="255.8" y1="140.2" x2="255.8" y2="213.1" stroke="#111" stroke-width="1.3"/>
<line x1="253.8" y1="157" x2="255.8" y2="157" stroke="#111" stroke-width="1"/>
<text x="252.6" y="159.5" font-size="7.8" text-anchor="end" font-weight="normal" font-style="normal" fill="#111" >40</text>
<line x1="253.8" y1="184.8" x2="255.8" y2="184.8" stroke="#111" stroke-width="1"/>
<text x="252.6" y="187.3" font-size="7.8" text-anchor="end" font-weight="normal" font-style="normal" fill="#111" >20</text>
<line x1="253.8" y1="212.6" x2="255.8" y2="212.6" stroke="#111" stroke-width="1"/>
<text x="252.6" y="215.1" font-size="7.8" text-anchor="end" font-weight="normal" font-style="normal" fill="#111" >0</text>
<line x1="255.8" y1="212.6" x2="399.5" y2="212.6" stroke="#111" stroke-width="1.2"/>
<rect x="259" y="211.7" width="7" height="0.9" fill="#050505" stroke="none" stroke-width="1" />
<line x1="270.1" y1="198.28" x2="270.1" y2="199.95" stroke="#222" stroke-width="1"/>
<line x1="267.85" y1="198.28" x2="272.35" y2="198.28" stroke="#222" stroke-width="1.1"/>
<rect x="266.7" y="200.35" width="6.8" height="12.25" fill="#050505" stroke="#050505" stroke-width="0.8" />
<rect x="274.2" y="211.7" width="7" height="0.9" fill="#050505" stroke="none" stroke-width="1" />
<line x1="285.3" y1="177.16" x2="285.3" y2="178.68" stroke="#222" stroke-width="1"/>
<line x1="283.05" y1="177.16" x2="287.55" y2="177.16" stroke="#222" stroke-width="1.1"/>
<rect x="281.9" y="179.08" width="6.8" height="33.52" fill="#050505" stroke="#050505" stroke-width="0.8" />
<text x="262.5" y="221.3" font-size="5.3" text-anchor="middle" font-weight="normal" font-style="normal" fill="#333" >I</text>
<text x="270.1" y="221.3" font-size="5.3" text-anchor="middle" font-weight="normal" font-style="normal" fill="#333" >II</text>
<text x="277.7" y="221.3" font-size="5.3" text-anchor="middle" font-weight="normal" font-style="normal" fill="#333" >III</text>
<text x="285.3" y="221.3" font-size="5.3" text-anchor="middle" font-weight="normal" font-style="normal" fill="#333" >IV</text>
<line x1="257.2" y1="224.5" x2="288.1" y2="224.5" stroke="#222" stroke-width="1"/>
<rect x="295" y="211.7" width="7" height="0.9" fill="#222" stroke="none" stroke-width="1" />
<line x1="306.1" y1="183.13" x2="306.1" y2="187.58" stroke="#222" stroke-width="1"/>
<line x1="303.85" y1="183.13" x2="308.35" y2="183.13" stroke="#222" stroke-width="1.1"/>
<rect x="302.7" y="187.98" width="6.8" height="24.62" fill="#4a7d27" stroke="#111" stroke-width="0.8" />
<rect x="310.3" y="211.61" width="6.8" height="0.99" fill="#4a7d27" stroke="#111" stroke-width="0.8" />
<line x1="321.3" y1="183.13" x2="321.3" y2="185.36" stroke="#222" stroke-width="1"/>
<line x1="319.05" y1="183.13" x2="323.55" y2="183.13" stroke="#222" stroke-width="1.1"/>
<rect x="317.9" y="185.76" width="6.8" height="26.84" fill="#4a7d27" stroke="#111" stroke-width="0.8" />
<text x="298.5" y="221.3" font-size="5.3" text-anchor="middle" font-weight="normal" font-style="normal" fill="#333" >I</text>
<text x="306.1" y="221.3" font-size="5.3" text-anchor="middle" font-weight="normal" font-style="normal" fill="#333" >II</text>
<text x="313.7" y="221.3" font-size="5.3" text-anchor="middle" font-weight="normal" font-style="normal" fill="#333" >III</text>
<text x="321.3" y="221.3" font-size="5.3" text-anchor="middle" font-weight="normal" font-style="normal" fill="#333" >IV</text>
<line x1="293.2" y1="224.5" x2="324.1" y2="224.5" stroke="#222" stroke-width="1"/>
<line x1="334.9" y1="204.95" x2="334.9" y2="207.04" stroke="#222" stroke-width="1"/>
<line x1="332.65" y1="204.95" x2="337.15" y2="204.95" stroke="#222" stroke-width="1.1"/>
<rect x="331.5" y="207.44" width="6.8" height="5.16" fill="#e2281a" stroke="#111" stroke-width="0.8" />
<line x1="342.5" y1="145.46" x2="342.5" y2="150.61" stroke="#222" stroke-width="1"/>
<line x1="340.25" y1="145.46" x2="344.75" y2="145.46" stroke="#222" stroke-width="1.1"/>
<rect x="339.1" y="151.01" width="6.8" height="61.59" fill="#e2281a" stroke="#111" stroke-width="0.8" />
<line x1="350.1" y1="201.76" x2="350.1" y2="202.31" stroke="#222" stroke-width="1"/>
<line x1="347.85" y1="201.76" x2="352.35" y2="201.76" stroke="#222" stroke-width="1.1"/>
<rect x="346.7" y="202.71" width="6.8" height="9.89" fill="#e2281a" stroke="#111" stroke-width="0.8" />
<line x1="357.7" y1="197.45" x2="357.7" y2="200.65" stroke="#222" stroke-width="1"/>
<line x1="355.45" y1="197.45" x2="359.95" y2="197.45" stroke="#222" stroke-width="1.1"/>
<rect x="354.3" y="201.05" width="6.8" height="11.55" fill="#e2281a" stroke="#111" stroke-width="0.8" />
<text x="334.9" y="221.3" font-size="5.3" text-anchor="middle" font-weight="normal" font-style="normal" fill="#333" >I</text>
<text x="342.5" y="221.3" font-size="5.3" text-anchor="middle" font-weight="normal" font-style="normal" fill="#333" >II</text>
<text x="350.1" y="221.3" font-size="5.3" text-anchor="middle" font-weight="normal" font-style="normal" fill="#333" >III</text>
<text x="357.7" y="221.3" font-size="5.3" text-anchor="middle" font-weight="normal" font-style="normal" fill="#333" >IV</text>
<line x1="329.6" y1="224.5" x2="360.5" y2="224.5" stroke="#222" stroke-width="1"/>
<rect x="367.5" y="211.49" width="7" height="1.11" fill="#222" stroke="none" stroke-width="1" />
<line x1="378.6" y1="141.85" x2="378.6" y2="155.33" stroke="#222" stroke-width="1"/>
<line x1="376.35" y1="141.85" x2="380.85" y2="141.85" stroke="#222" stroke-width="1.1"/>
<rect x="375.2" y="155.73" width="6.8" height="56.87" fill="#0b2cf0" stroke="#111" stroke-width="0.8" />
<line x1="386.2" y1="204.95" x2="386.2" y2="207.04" stroke="#222" stroke-width="1"/>
<line x1="383.95" y1="204.95" x2="388.45" y2="204.95" stroke="#222" stroke-width="1.1"/>
<rect x="382.8" y="207.44" width="6.8" height="5.16" fill="#0b2cf0" stroke="#111" stroke-width="0.8" />
<line x1="393.8" y1="159.78" x2="393.8" y2="174.38" stroke="#222" stroke-width="1"/>
<line x1="391.55" y1="159.78" x2="396.05" y2="159.78" stroke="#222" stroke-width="1.1"/>
<rect x="390.4" y="174.78" width="6.8" height="37.82" fill="#0b2cf0" stroke="#111" stroke-width="0.8" />
<text x="371" y="221.3" font-size="5.3" text-anchor="middle" font-weight="normal" font-style="normal" fill="#333" >I</text>
<text x="378.6" y="221.3" font-size="5.3" text-anchor="middle" font-weight="normal" font-style="normal" fill="#333" >II</text>
<text x="386.2" y="221.3" font-size="5.3" text-anchor="middle" font-weight="normal" font-style="normal" fill="#333" >III</text>
<text x="393.8" y="221.3" font-size="5.3" text-anchor="middle" font-weight="normal" font-style="normal" fill="#333" >IV</text>
<line x1="365.7" y1="224.5" x2="396.6" y2="224.5" stroke="#222" stroke-width="1"/>
<line x1="271" y1="126.5" x2="381.1" y2="126.5" stroke="#1a1a1a" stroke-width="1.1"/>
<circle cx="330.8" cy="122" r="1.3" fill="#111"/>
<line x1="271" y1="134.5" x2="343.4" y2="134.5" stroke="#1a1a1a" stroke-width="1.1"/>
<circle cx="307.5" cy="129.8" r="1.3" fill="#111"/>
<line x1="285.8" y1="141.5" x2="357.8" y2="141.5" stroke="#1a1a1a" stroke-width="1.1"/>
<circle cx="322.6" cy="137.6" r="1.3" fill="#111"/>
<line x1="357.8" y1="134.5" x2="392.6" y2="134.5" stroke="#1a1a1a" stroke-width="1.1"/>
<circle cx="375.9" cy="130.6" r="1.3" fill="#111"/>
<text x="272.5" y="235.2" font-size="7.8" text-anchor="middle" font-weight="normal" font-style="normal" fill="#111" >WT</text>
<text x="309" y="235.2" font-size="7.8" text-anchor="middle" font-weight="normal" font-style="italic" fill="#111" >SclCre</text>
<text x="309" y="244.5" font-size="7.8" text-anchor="middle" font-style="italic" fill="#111">Stat3<tspan font-size="4.84" dy="-2.96">fl/fl</tspan></text>
<text x="346.5" y="235.2" font-size="7.8" text-anchor="middle" font-weight="normal" font-style="italic" fill="#111" >SclCre</text>
<text x="346.5" y="244.5" font-size="7.8" text-anchor="middle" font-weight="normal" font-style="italic" fill="#111" >V617F</text>
<text x="346.5" y="253.8" font-size="7.8" text-anchor="middle" font-style="italic" fill="#111">Stat3<tspan font-size="4.84" dy="-2.96">+/+</tspan></text>
<text x="381" y="235.2" font-size="7.8" text-anchor="middle" font-weight="normal" font-style="italic" fill="#111" >SclCre</text>
<text x="381" y="244.5" font-size="7.8" text-anchor="middle" font-weight="normal" font-style="italic" fill="#111" >V617F</text>
<text x="381" y="253.8" font-size="7.8" text-anchor="middle" font-style="italic" fill="#111">Stat3<tspan font-size="4.84" dy="-2.96">fl/fl</tspan></text>
<text x="400.3" y="10.3" font-size="12.5" text-anchor="start" font-weight="bold" font-style="normal" fill="#111" >C</text>
<text x="414.5" y="10" font-size="10.7" text-anchor="start" font-weight="normal" font-style="normal" fill="#111" >Number of BFU-E</text>
<text x="414.5" y="23.5" font-size="10.7" text-anchor="start" font-weight="normal" font-style="normal" fill="#111" >per 2x10<tspan font-size="6.5" dy="-4">5</tspan><tspan dy="4"> cells</tspan></text>
<text x="424.5" y="37" font-size="8.9" text-anchor="start" font-weight="normal" font-style="normal" fill="#111" >bone marrow</text>
<line x1="414.3" y1="44.2" x2="414.3" y2="109.25" stroke="#111" stroke-width="1.3"/>
<line x1="412.3" y1="55.4" x2="414.3" y2="55.4" stroke="#111" stroke-width="1"/>
<text x="411.1" y="57.9" font-size="8.2" text-anchor="end" font-weight="normal" font-style="normal" fill="#111" >60</text>
<line x1="412.3" y1="73.1" x2="414.3" y2="73.1" stroke="#111" stroke-width="1"/>
<text x="411.1" y="75.6" font-size="8.2" text-anchor="end" font-weight="normal" font-style="normal" fill="#111" >40</text>
<line x1="412.3" y1="91" x2="414.3" y2="91" stroke="#111" stroke-width="1"/>
<text x="411.1" y="93.5" font-size="8.2" text-anchor="end" font-weight="normal" font-style="normal" fill="#111" >20</text>
<line x1="412.3" y1="108.75" x2="414.3" y2="108.75" stroke="#111" stroke-width="1"/>
<text x="411.1" y="111.25" font-size="8.2" text-anchor="end" font-weight="normal" font-style="normal" fill="#111" >0</text>
<line x1="414.3" y1="108.75" x2="512.5" y2="108.75" stroke="#111" stroke-width="1.2"/>
<line x1="426.5" y1="55.76" x2="426.5" y2="60.02" stroke="#222" stroke-width="1"/>
<line x1="422" y1="55.76" x2="431" y2="55.76" stroke="#222" stroke-width="1.1"/>
<rect x="418.5" y="60.42" width="16" height="48.33" fill="#050505" stroke="#050505" stroke-width="0.8" />
<line x1="450.8" y1="45.17" x2="450.8" y2="51.49" stroke="#222" stroke-width="1"/>
<line x1="446.3" y1="45.17" x2="455.3" y2="45.17" stroke="#222" stroke-width="1.1"/>
<rect x="442.8" y="51.89" width="16" height="56.86" fill="#4a7d27" stroke="#111" stroke-width="0.8" />
<line x1="474.9" y1="60.73" x2="474.9" y2="65.54" stroke="#222" stroke-width="1"/>
<line x1="470.4" y1="60.73" x2="479.4" y2="60.73" stroke="#222" stroke-width="1.1"/>
<rect x="466.9" y="65.94" width="16" height="42.81" fill="#e3050c" stroke="#111" stroke-width="0.8" />
<line x1="498.9" y1="56.47" x2="498.9" y2="60.73" stroke="#222" stroke-width="1"/>
<line x1="494.4" y1="56.47" x2="503.4" y2="56.47" stroke="#222" stroke-width="1.1"/>
<rect x="490.9" y="61.13" width="16" height="47.62" fill="#0b2cf0" stroke="#111" stroke-width="0.8" />
<text x="419" y="139.5" font-size="8.9" text-anchor="start" font-weight="normal" font-style="normal" fill="#111" >spleen</text>
<line x1="414.3" y1="147.5" x2="414.3" y2="212.5" stroke="#111" stroke-width="1.3"/>
<line x1="412.3" y1="158" x2="414.3" y2="158" stroke="#111" stroke-width="1"/>
<text x="411.1" y="160.5" font-size="8.2" text-anchor="end" font-weight="normal" font-style="normal" fill="#111" >60</text>
<line x1="412.3" y1="176" x2="414.3" y2="176" stroke="#111" stroke-width="1"/>
<text x="411.1" y="178.5" font-size="8.2" text-anchor="end" font-weight="normal" font-style="normal" fill="#111" >40</text>
<line x1="412.3" y1="194" x2="414.3" y2="194" stroke="#111" stroke-width="1"/>
<text x="411.1" y="196.5" font-size="8.2" text-anchor="end" font-weight="normal" font-style="normal" fill="#111" >20</text>
<line x1="412.3" y1="212" x2="414.3" y2="212" stroke="#111" stroke-width="1"/>
<text x="411.1" y="214.5" font-size="8.2" text-anchor="end" font-weight="normal" font-style="normal" fill="#111" >0</text>
<line x1="414.3" y1="212" x2="512.5" y2="212" stroke="#111" stroke-width="1.2"/>
<line x1="426.5" y1="195.98" x2="426.5" y2="200.03" stroke="#222" stroke-width="1"/>
<line x1="422" y1="195.98" x2="431" y2="195.98" stroke="#222" stroke-width="1.1"/>
<rect x="418.5" y="200.43" width="16" height="11.57" fill="#050505" stroke="#050505" stroke-width="0.8" />
<line x1="450.8" y1="165.47" x2="450.8" y2="176" stroke="#222" stroke-width="1"/>
<line x1="446.3" y1="165.47" x2="455.3" y2="165.47" stroke="#222" stroke-width="1.1"/>
<rect x="442.8" y="176.4" width="16" height="35.6" fill="#4a7d27" stroke="#111" stroke-width="0.8" />
<line x1="474.9" y1="148.01" x2="474.9" y2="157.46" stroke="#222" stroke-width="1"/>
<line x1="470.4" y1="148.01" x2="479.4" y2="148.01" stroke="#222" stroke-width="1.1"/>
<rect x="466.9" y="157.86" width="16" height="54.14" fill="#e3050c" stroke="#111" stroke-width="0.8" />
<line x1="498.9" y1="155.48" x2="498.9" y2="166.46" stroke="#222" stroke-width="1"/>
<line x1="494.4" y1="155.48" x2="503.4" y2="155.48" stroke="#222" stroke-width="1.1"/>
<rect x="490.9" y="166.86" width="16" height="45.14" fill="#0b2cf0" stroke="#111" stroke-width="0.8" />
<line x1="425" y1="142.5" x2="502.5" y2="142.5" stroke="#1a1a1a" stroke-width="1.1"/>
<circle cx="463" cy="138" r="1.3" fill="#111"/>
<line x1="425" y1="150.5" x2="473.8" y2="150.5" stroke="#1a1a1a" stroke-width="1.1"/>
<circle cx="451" cy="146" r="1.3" fill="#111"/>
<text x="425.5" y="225.2" font-size="8" text-anchor="middle" font-weight="normal" font-style="normal" fill="#111" >WT</text>
<text x="447.8" y="225.2" font-size="8" text-anchor="middle" font-weight="normal" font-style="italic" fill="#111" >SclCre</text>
<text x="447.8" y="234.6" font-size="8" text-anchor="middle" font-style="italic" fill="#111">Stat3<tspan font-size="4.96" dy="-3.04">fl/fl</tspan></text>
<text x="477" y="225.2" font-size="8" text-anchor="middle" font-weight="normal" font-style="italic" fill="#111" >SclCre</text>
<text x="477" y="234.6" font-size="8" text-anchor="middle" font-weight="normal" font-style="italic" fill="#111" >V617F</text>
<text x="477" y="244" font-size="8" text-anchor="middle" font-style="italic" fill="#111">Stat3<tspan font-size="4.96" dy="-3.04">+/+</tspan></text>
<text x="505.7" y="225.2" font-size="8" text-anchor="middle" font-weight="normal" font-style="italic" fill="#111" >SclCre</text>
<text x="505.7" y="234.6" font-size="8" text-anchor="middle" font-weight="normal" font-style="italic" fill="#111" >V617F</text>
<text x="505.7" y="244" font-size="8" text-anchor="middle" font-style="italic" fill="#111">Stat3<tspan font-size="4.96" dy="-3.04">fl/fl</tspan></text>
<text x="1.5" y="269.8" font-size="12.5" text-anchor="start" font-weight="bold" font-style="normal" fill="#111" >D</text>
<text x="20" y="269.5" font-size="10.7" text-anchor="start" font-weight="normal" font-style="normal" fill="#111" >Flow cytometry analysis of</text>
<text x="20" y="283" font-size="10.7" text-anchor="start" font-weight="normal" font-style="normal" fill="#111" >megakaryocytic population</text>
<text x="5.3" y="293.7" font-size="8.9" text-anchor="start" font-weight="normal" font-style="normal" fill="#111" >bone marrow</text>
<g clip-path="url(#c9)"><ellipse cx="40.4" cy="327.5" rx="18" ry="3.6" fill="#8e9cec" fill-opacity="0.35" filter="url(#f1_5)" transform="rotate(-42 40.4 327.5)"/><path d="M44.3 324.2h0M45.3 322.3h0M46.3 319.3h0M39.7 328.9h0M39.5 329.4h0M37.3 329.3h0M48.5 317.7h0M52.2 316.8h0M24.4 341.2h0M56.2 312.3h0M42.5 328.0h0M42.8 328.2h0M27.2 341.6h0M57.0 312.4h0M48.4 320.3h0M26.1 342.1h0M53.3 317.2h0M55.2 314.5h0M26.1 340.1h0M29.3 340.0h0M44.0 325.0h0M29.4 338.5h0M43.5 326.5h0M31.8 336.1h0M43.6 321.8h0M48.3 318.1h0M46.5 321.3h0M41.8 328.6h0M39.8 326.9h0M53.6 311.9h0M56.0 311.2h0M29.0 338.2h0M55.8 313.0h0M53.1 311.7h0M44.0 324.1h0M47.8 319.4h0M42.6 325.7h0M51.0 313.8h0M49.4 317.5h0M37.4 330.3h0" stroke="#5a6ee0" stroke-width="0.9" stroke-linecap="round" stroke-opacity="0.3" fill="none"/><path d="M31.5 334.7h0M27.6 334.1h0M36.0 337.9h0M29.1 333.1h0M36.4 337.2h0M24.8 345.1h0M29.9 335.2h0M32.9 334.7h0M27.7 342.3h0M22.4 336.4h0M27.9 339.2h0M23.0 331.7h0M26.7 332.8h0M29.0 336.8h0M29.1 338.2h0M22.7 335.5h0M29.3 343.5h0M29.8 337.5h0M38.5 335.1h0M35.0 340.6h0M22.2 337.2h0M32.3 331.5h0M35.5 334.8h0M30.5 336.2h0M30.3 333.6h0M36.2 333.3h0M36.6 335.7h0M23.7 341.4h0M28.8 335.8h0M22.1 335.9h0M27.5 333.0h0M22.0 332.5h0M22.8 342.6h0M32.3 334.8h0M22.7 336.6h0M30.5 334.1h0M27.3 342.4h0M26.7 335.1h0M34.3 336.7h0M27.8 332.4h0M33.3 338.3h0M26.4 336.6h0M35.0 336.7h0M27.2 337.8h0M28.5 342.0h0M26.6 335.0h0M24.4 337.9h0M21.4 334.5h0M20.1 336.6h0M26.9 336.0h0M25.2 332.7h0M29.1 325.8h0M22.6 345.3h0M29.3 344.7h0M37.7 337.8h0M23.2 339.3h0M23.6 337.6h0M29.4 345.1h0M27.2 336.3h0M26.9 349.0h0M27.5 341.6h0M24.1 335.2h0M41.9 332.9h0M30.9 340.1h0M31.0 342.3h0M26.8 344.8h0M29.8 336.2h0M30.8 337.9h0M27.4 340.0h0M24.1 339.5h0M26.5 324.6h0M33.6 336.8h0M26.7 335.4h0M20.4 330.9h0M30.5 335.7h0M33.8 346.8h0M25.6 329.5h0M34.7 340.3h0M36.5 338.7h0M29.6 333.3h0" stroke="#5a6ee0" stroke-width="0.9" stroke-linecap="round" stroke-opacity="0.45" fill="none"/><ellipse cx="30.6" cy="337.3" rx="10.4" ry="4.6" fill="#3048dc" fill-opacity="0.45" filter="url(#f2)" transform="rotate(-42 30.6 337.3)"/><path d="M23.8 337.7h0M37.1 329.7h0M43.8 323.7h0M31.0 338.2h0M33.2 335.3h0M42.9 320.5h0M30.7 335.2h0M45.8 317.7h0M46.1 321.7h0M36.0 330.9h0M36.0 330.9h0M44.9 323.1h0M23.0 345.3h0M38.3 325.7h0M27.7 338.9h0M32.2 330.9h0M33.5 331.9h0M40.5 324.4h0M39.8 326.6h0M35.8 332.2h0M40.4 325.8h0M33.6 332.8h0M36.9 330.2h0M39.0 319.7h0M39.8 323.5h0M36.0 335.5h0M43.5 321.3h0M33.9 331.4h0M30.8 332.9h0M41.7 327.9h0M28.5 337.7h0M35.1 328.1h0M30.3 334.9h0M39.3 324.8h0M46.3 319.7h0M41.8 321.6h0M43.9 322.6h0M44.1 321.4h0M41.6 324.8h0M31.6 336.1h0M47.5 324.9h0M39.7 323.7h0M31.3 333.1h0M31.7 334.3h0M31.3 335.6h0M33.6 332.0h0M23.2 345.0h0M27.1 338.7h0M30.1 335.7h0M40.7 324.1h0M26.2 341.0h0M36.4 327.7h0M48.6 322.0h0M35.0 330.6h0M43.9 321.9h0M36.3 329.6h0M44.8 325.8h0M31.2 336.5h0M26.5 342.9h0M45.7 322.1h0M31.7 333.4h0M39.4 327.8h0M37.0 328.7h0M25.2 341.8h0M44.4 320.4h0M34.1 333.9h0M34.7 332.6h0M39.6 323.8h0M34.6 329.7h0M33.9 332.8h0M31.6 330.0h0M30.5 335.9h0M27.3 340.7h0M27.2 339.2h0M37.2 328.8h0M36.0 334.0h0M39.5 328.4h0M29.5 339.2h0M44.0 321.0h0M35.0 334.2h0M46.7 321.5h0M29.5 337.7h0M37.4 332.6h0M36.5 328.7h0M40.7 326.9h0M41.1 330.3h0M38.7 326.3h0M23.5 340.7h0M29.0 342.1h0M35.2 330.6h0M47.0 318.9h0M34.7 329.7h0M41.6 321.0h0M28.0 337.4h0M40.1 329.8h0M36.0 335.4h0M36.5 327.5h0M38.6 328.3h0M32.9 337.5h0M30.1 338.4h0M26.5 338.9h0M36.6 332.5h0M30.4 337.7h0M26.9 340.4h0M35.9 334.6h0M43.4 323.0h0M47.6 321.5h0M37.7 325.7h0M27.0 336.5h0M45.1 320.6h0M36.6 329.9h0M31.1 337.6h0M28.7 339.5h0M34.6 334.7h0M35.1 334.0h0M32.4 336.0h0M45.7 320.6h0M46.7 323.2h0M36.9 332.2h0M35.9 333.0h0" stroke="#3a50d8" stroke-width="0.9" stroke-linecap="round" stroke-opacity="0.5" fill="none"/><ellipse cx="23.4" cy="342" rx="7.5" ry="9.5" fill="#1b2fd8" fill-opacity="0.95" filter="url(#f1)" transform="rotate(25 23.4 342)"/><ellipse cx="22.4" cy="346.5" rx="5.6" ry="6.4" fill="#2a8ee0" fill-opacity="0.95" filter="url(#f0_8)"/><ellipse cx="22.4" cy="346.8" rx="4.2" ry="5" fill="#3cc0c0" fill-opacity="0.95" filter="url(#f0_7)"/><ellipse cx="22.4" cy="346.8" rx="3.2" ry="4" fill="#7cc63c" fill-opacity="1" filter="url(#f0_6)"/><ellipse cx="22.4" cy="347" rx="1.7" ry="2.3" fill="#e8e23a" fill-opacity="1" filter="url(#f0_5)"/></g>
<rect x="16.4" y="305.5" width="47" height="47" fill="none" stroke="#8a8a8a" stroke-width="0.7" />
<text x="15.2" y="351.5" font-size="2.6" text-anchor="end" fill="#888" style="stroke:none">10<tspan font-size="1.8" dy="-1">1</tspan></text>
<line x1="15.6" y1="350.5" x2="16.4" y2="350.5" stroke="#888" stroke-width="0.4"/>
<text x="15.2" y="341.5" font-size="2.6" text-anchor="end" fill="#888" style="stroke:none">10<tspan font-size="1.8" dy="-1">2</tspan></text>
<line x1="15.6" y1="340.5" x2="16.4" y2="340.5" stroke="#888" stroke-width="0.4"/>
<text x="15.2" y="331.5" font-size="2.6" text-anchor="end" fill="#888" style="stroke:none">10<tspan font-size="1.8" dy="-1">3</tspan></text>
<line x1="15.6" y1="330.5" x2="16.4" y2="330.5" stroke="#888" stroke-width="0.4"/>
<text x="15.2" y="321.5" font-size="2.6" text-anchor="end" fill="#888" style="stroke:none">10<tspan font-size="1.8" dy="-1">4</tspan></text>
<line x1="15.6" y1="320.5" x2="16.4" y2="320.5" stroke="#888" stroke-width="0.4"/>
<text x="15.2" y="311.5" font-size="2.6" text-anchor="end" fill="#888" style="stroke:none">10<tspan font-size="1.8" dy="-1">5</tspan></text>
<line x1="15.6" y1="310.5" x2="16.4" y2="310.5" stroke="#888" stroke-width="0.4"/>
<text x="19.4" y="355.9" font-size="2.6" text-anchor="middle" fill="#888" style="stroke:none">10<tspan font-size="1.8" dy="-1">1</tspan></text>
<line x1="19.4" y1="352.5" x2="19.4" y2="353.3" stroke="#888" stroke-width="0.4"/>
<text x="28.93" y="355.9" font-size="2.6" text-anchor="middle" fill="#888" style="stroke:none">10<tspan font-size="1.8" dy="-1">2</tspan></text>
<line x1="28.93" y1="352.5" x2="28.93" y2="353.3" stroke="#888" stroke-width="0.4"/>
<text x="38.47" y="355.9" font-size="2.6" text-anchor="middle" fill="#888" style="stroke:none">10<tspan font-size="1.8" dy="-1">3</tspan></text>
<line x1="38.47" y1="352.5" x2="38.47" y2="353.3" stroke="#888" stroke-width="0.4"/>
<text x="48" y="355.9" font-size="2.6" text-anchor="middle" fill="#888" style="stroke:none">10<tspan font-size="1.8" dy="-1">4</tspan></text>
<line x1="48" y1="352.5" x2="48" y2="353.3" stroke="#888" stroke-width="0.4"/>
<text x="57.54" y="355.9" font-size="2.6" text-anchor="middle" fill="#888" style="stroke:none">10<tspan font-size="1.8" dy="-1">5</tspan></text>
<line x1="57.54" y1="352.5" x2="57.54" y2="353.3" stroke="#888" stroke-width="0.4"/>
<rect x="30.9" y="308" width="31.3" height="26.3" fill="none" stroke="#666" stroke-width="0.6" />
<text x="57.4" y="332.8" font-size="5" text-anchor="end" font-weight="normal" font-style="normal" fill="#222" >0.6%</text>
<g clip-path="url(#c10)"><ellipse cx="96.6" cy="327.5" rx="18" ry="3.6" fill="#8e9cec" fill-opacity="0.35" filter="url(#f1_5)" transform="rotate(-42 96.6 327.5)"/><path d="M112.0 312.7h0M102.8 318.9h0M81.5 338.8h0M88.0 336.0h0M100.5 326.7h0M96.6 329.0h0M95.4 329.9h0M102.2 321.2h0M93.6 332.0h0M101.5 319.0h0M105.1 315.4h0M87.3 337.1h0M85.4 340.3h0M92.1 331.9h0M93.6 326.9h0M92.6 331.1h0M101.8 323.5h0M104.5 318.9h0M88.1 334.4h0M100.8 323.3h0M108.3 315.0h0M91.8 327.3h0M109.9 313.4h0M110.2 314.6h0M102.7 323.8h0M104.3 323.4h0M110.5 308.5h0M104.0 317.9h0M110.5 312.8h0M92.8 329.1h0M86.1 336.7h0M98.0 328.5h0M88.8 334.9h0M100.6 321.9h0M99.3 322.1h0M84.9 336.3h0M100.8 324.1h0M110.3 315.6h0M97.4 326.1h0M85.7 337.1h0M90.2 332.9h0M85.2 337.1h0M87.5 336.1h0M89.3 331.7h0M100.0 322.5h0M99.9 324.7h0M104.4 323.4h0M87.3 341.3h0M92.6 328.7h0M84.6 339.0h0" stroke="#5a6ee0" stroke-width="0.9" stroke-linecap="round" stroke-opacity="0.3" fill="none"/><path d="M83.9 328.8h0M83.5 334.5h0M73.8 340.2h0M86.7 341.6h0M72.4 326.6h0M92.2 338.7h0M78.6 339.0h0M85.8 335.6h0M81.0 335.0h0M84.9 329.6h0M82.1 338.9h0M85.3 329.8h0M77.0 334.3h0M88.2 336.3h0M81.2 329.1h0M83.5 348.2h0M79.7 349.0h0M72.9 330.9h0M91.1 331.7h0M80.8 341.5h0M76.9 332.8h0M75.3 342.9h0M85.9 343.4h0M86.5 339.9h0M84.2 339.0h0M78.3 334.5h0M77.5 342.9h0M77.3 335.3h0M88.4 339.8h0M87.5 337.9h0M86.2 335.3h0M80.6 334.7h0M79.9 328.5h0M90.8 326.1h0M89.5 336.4h0M93.1 336.9h0M83.8 341.9h0M75.0 336.1h0M93.2 343.6h0M81.4 331.6h0M80.5 340.2h0M78.0 341.9h0M77.2 340.3h0M86.1 336.0h0M96.4 338.9h0M87.8 346.1h0M81.7 339.5h0M89.9 337.9h0M83.2 336.5h0M88.7 337.8h0M90.7 331.8h0M84.4 342.6h0M77.8 341.4h0M83.6 342.1h0M80.9 337.4h0M77.1 341.1h0M82.9 337.5h0M80.8 342.8h0M85.2 342.4h0M80.2 335.8h0M88.8 346.8h0M94.6 341.9h0M89.9 341.1h0M79.7 336.1h0M77.3 330.1h0M83.9 339.1h0M87.8 347.3h0M77.8 332.6h0M81.2 340.3h0M82.2 331.5h0M87.1 336.0h0M80.4 343.9h0M89.3 334.4h0M85.2 335.2h0M81.7 334.1h0M83.1 333.6h0M86.1 341.2h0M83.3 329.7h0M89.0 334.8h0M92.9 341.1h0" stroke="#5a6ee0" stroke-width="0.9" stroke-linecap="round" stroke-opacity="0.45" fill="none"/><ellipse cx="86.8" cy="337.3" rx="10.4" ry="4.6" fill="#3048dc" fill-opacity="0.45" filter="url(#f2)" transform="rotate(-42 86.8 337.3)"/><path d="M85.9 335.5h0M91.5 333.1h0M93.9 326.4h0M93.9 323.2h0M79.0 344.6h0M82.4 341.5h0M93.2 331.1h0M90.6 333.3h0M94.8 327.0h0M102.9 320.9h0M85.6 338.1h0M102.2 323.1h0M94.3 330.0h0M92.5 331.0h0M92.5 332.6h0M97.1 324.5h0M96.9 328.7h0M96.9 328.1h0M99.3 324.9h0M86.7 334.7h0M90.4 334.1h0M101.7 321.1h0M89.7 333.6h0M96.4 329.0h0M87.8 336.2h0M100.2 320.0h0M95.0 329.2h0M96.7 322.8h0M84.8 338.1h0M94.0 330.5h0M90.1 335.3h0M96.3 322.2h0M92.9 329.4h0M99.7 320.3h0M94.8 332.4h0M97.4 322.6h0M99.9 324.4h0M84.9 336.5h0M95.3 327.9h0M86.2 341.0h0M90.5 332.4h0M86.3 341.0h0M80.9 344.0h0M93.6 332.0h0M95.4 328.1h0M88.2 337.2h0M88.1 338.9h0M86.6 334.0h0M100.2 324.7h0M97.9 321.5h0M90.8 331.5h0M86.5 335.1h0M83.3 336.3h0M96.6 327.9h0M98.7 326.5h0M94.2 326.8h0M80.7 342.2h0M91.3 328.7h0M85.7 340.4h0M100.8 324.9h0M88.2 332.1h0M91.2 333.1h0M90.7 331.4h0M98.7 324.9h0M85.3 341.5h0M84.9 338.1h0M96.3 323.7h0M85.6 340.9h0M82.0 339.6h0M102.1 319.0h0M97.5 323.6h0M81.3 339.8h0M92.8 328.2h0M100.2 322.1h0M101.8 317.3h0M101.4 320.2h0M89.9 331.8h0M97.9 328.9h0M84.6 341.4h0M85.5 336.6h0M88.4 333.9h0M102.1 322.4h0M85.8 340.0h0M93.0 324.5h0M101.8 318.7h0M90.9 334.5h0M96.7 326.4h0M94.3 329.2h0M82.0 341.3h0M97.0 324.9h0M99.4 324.1h0M101.5 321.8h0M93.7 329.9h0M90.9 331.6h0M94.4 325.0h0M90.1 335.4h0M90.5 335.9h0M89.7 331.2h0M83.9 343.7h0M82.8 341.1h0M102.9 319.0h0M85.7 336.4h0M89.8 327.6h0M94.4 325.3h0M90.0 330.8h0M103.2 320.9h0M94.5 331.3h0M101.2 324.0h0M85.9 336.1h0M93.8 328.8h0M97.9 323.2h0M84.9 335.2h0M85.6 339.7h0M92.3 329.8h0M95.2 327.6h0M82.0 338.5h0M85.4 337.1h0M98.5 319.1h0M95.9 330.0h0M92.3 330.5h0" stroke="#3a50d8" stroke-width="0.9" stroke-linecap="round" stroke-opacity="0.5" fill="none"/><ellipse cx="79.6" cy="342" rx="7.5" ry="9.5" fill="#1b2fd8" fill-opacity="0.95" filter="url(#f1)" transform="rotate(25 79.6 342)"/><ellipse cx="78.6" cy="346.5" rx="5.6" ry="6.4" fill="#2a8ee0" fill-opacity="0.95" filter="url(#f0_8)"/><ellipse cx="78.6" cy="346.8" rx="4.2" ry="5" fill="#3cc0c0" fill-opacity="0.95" filter="url(#f0_7)"/><ellipse cx="78.6" cy="346.8" rx="3.2" ry="4" fill="#7cc63c" fill-opacity="1" filter="url(#f0_6)"/><ellipse cx="78.6" cy="347" rx="1.7" ry="2.3" fill="#e8e23a" fill-opacity="1" filter="url(#f0_5)"/></g>
<rect x="72.6" y="305.5" width="47" height="47" fill="none" stroke="#8a8a8a" stroke-width="0.7" />
<text x="71.4" y="351.5" font-size="2.6" text-anchor="end" fill="#888" style="stroke:none">10<tspan font-size="1.8" dy="-1">1</tspan></text>
<line x1="71.8" y1="350.5" x2="72.6" y2="350.5" stroke="#888" stroke-width="0.4"/>
<text x="71.4" y="341.5" font-size="2.6" text-anchor="end" fill="#888" style="stroke:none">10<tspan font-size="1.8" dy="-1">2</tspan></text>
<line x1="71.8" y1="340.5" x2="72.6" y2="340.5" stroke="#888" stroke-width="0.4"/>
<text x="71.4" y="331.5" font-size="2.6" text-anchor="end" fill="#888" style="stroke:none">10<tspan font-size="1.8" dy="-1">3</tspan></text>
<line x1="71.8" y1="330.5" x2="72.6" y2="330.5" stroke="#888" stroke-width="0.4"/>
<text x="71.4" y="321.5" font-size="2.6" text-anchor="end" fill="#888" style="stroke:none">10<tspan font-size="1.8" dy="-1">4</tspan></text>
<line x1="71.8" y1="320.5" x2="72.6" y2="320.5" stroke="#888" stroke-width="0.4"/>
<text x="71.4" y="311.5" font-size="2.6" text-anchor="end" fill="#888" style="stroke:none">10<tspan font-size="1.8" dy="-1">5</tspan></text>
<line x1="71.8" y1="310.5" x2="72.6" y2="310.5" stroke="#888" stroke-width="0.4"/>
<text x="75.6" y="355.9" font-size="2.6" text-anchor="middle" fill="#888" style="stroke:none">10<tspan font-size="1.8" dy="-1">1</tspan></text>
<line x1="75.6" y1="352.5" x2="75.6" y2="353.3" stroke="#888" stroke-width="0.4"/>
<text x="85.13" y="355.9" font-size="2.6" text-anchor="middle" fill="#888" style="stroke:none">10<tspan font-size="1.8" dy="-1">2</tspan></text>
<line x1="85.13" y1="352.5" x2="85.13" y2="353.3" stroke="#888" stroke-width="0.4"/>
<text x="94.67" y="355.9" font-size="2.6" text-anchor="middle" fill="#888" style="stroke:none">10<tspan font-size="1.8" dy="-1">3</tspan></text>
<line x1="94.67" y1="352.5" x2="94.67" y2="353.3" stroke="#888" stroke-width="0.4"/>
<text x="104.2" y="355.9" font-size="2.6" text-anchor="middle" fill="#888" style="stroke:none">10<tspan font-size="1.8" dy="-1">4</tspan></text>
<line x1="104.2" y1="352.5" x2="104.2" y2="353.3" stroke="#888" stroke-width="0.4"/>
<text x="113.74" y="355.9" font-size="2.6" text-anchor="middle" fill="#888" style="stroke:none">10<tspan font-size="1.8" dy="-1">5</tspan></text>
<line x1="113.74" y1="352.5" x2="113.74" y2="353.3" stroke="#888" stroke-width="0.4"/>
<rect x="87.1" y="308" width="31.3" height="26.3" fill="none" stroke="#666" stroke-width="0.6" />
<text x="113.6" y="332.8" font-size="5" text-anchor="end" font-weight="normal" font-style="normal" fill="#222" >0.7%</text>
<g clip-path="url(#c11)"><ellipse cx="153.5" cy="327.5" rx="18" ry="3.6" fill="#8e9cec" fill-opacity="0.32" filter="url(#f1_5)" transform="rotate(-42 153.5 327.5)"/><path d="M161.7 317.9h0M169.6 311.8h0M168.4 313.6h0M144.5 337.3h0M143.1 339.3h0M138.1 340.1h0M160.4 321.7h0M147.7 335.4h0M149.0 333.4h0M149.3 330.2h0M153.0 327.4h0M164.7 316.5h0M141.4 341.3h0M154.0 326.6h0M144.3 334.1h0M143.0 336.5h0M163.4 316.1h0M152.8 328.6h0M158.9 321.8h0M149.8 331.2h0M161.5 318.9h0M166.1 316.1h0M141.3 336.0h0M141.3 339.6h0M163.0 317.2h0M141.2 341.3h0M149.3 331.5h0M167.9 314.9h0M164.0 317.4h0M137.5 340.5h0M145.0 337.0h0M144.4 333.7h0M152.7 330.1h0M149.3 333.9h0M155.7 325.7h0" stroke="#5a6ee0" stroke-width="0.9" stroke-linecap="round" stroke-opacity="0.25" fill="none"/><path d="M139.7 326.5h0M137.5 342.8h0M142.5 343.0h0M137.8 335.4h0M136.6 333.7h0M143.9 338.2h0M139.1 339.0h0M135.1 335.6h0M134.1 330.1h0M134.8 332.1h0M149.1 344.2h0M147.5 334.6h0M144.5 331.9h0M138.8 338.7h0M133.7 338.5h0M144.4 327.3h0M129.5 336.1h0M140.8 338.2h0M135.9 340.3h0M142.0 333.9h0M149.4 338.8h0M145.0 346.6h0M139.0 336.4h0M133.0 336.4h0M143.6 349.8h0M144.2 338.5h0M135.3 333.3h0M132.4 330.7h0M142.0 339.0h0M137.0 336.4h0M137.5 340.5h0M144.5 334.7h0M139.2 331.5h0M139.1 348.3h0M141.4 341.7h0M144.2 344.8h0M139.8 333.0h0M146.5 342.0h0M138.2 342.9h0M141.4 337.3h0M150.4 340.1h0M142.9 335.9h0M142.4 342.7h0M143.6 333.8h0M143.6 336.9h0M142.9 336.5h0M130.8 329.5h0M139.5 326.6h0M134.1 347.5h0M144.8 335.2h0M143.0 326.4h0M142.6 342.4h0M142.3 331.0h0M146.1 334.9h0M138.6 338.5h0M139.9 347.6h0M140.7 348.1h0M143.6 331.4h0M141.4 337.8h0M148.4 343.8h0M153.9 334.2h0M139.3 349.0h0M137.0 339.3h0M149.3 332.5h0M139.7 333.8h0M144.0 339.5h0M141.2 340.8h0M137.6 335.6h0M143.7 347.5h0M141.2 337.8h0M147.8 337.9h0M147.8 338.7h0M147.1 338.4h0M136.9 333.3h0M143.5 346.8h0M150.5 335.9h0M153.6 332.0h0M137.3 342.1h0M134.0 342.0h0M143.3 340.6h0" stroke="#5a6ee0" stroke-width="0.9" stroke-linecap="round" stroke-opacity="0.45" fill="none"/><ellipse cx="143.3" cy="337.7" rx="9.6" ry="4.4" fill="#3048dc" fill-opacity="0.4" filter="url(#f2)" transform="rotate(-42 143.3 337.7)"/><path d="M143.3 331.5h0M146.3 335.5h0M158.2 323.4h0M151.4 328.1h0M154.4 327.8h0M148.9 331.7h0M152.7 324.1h0M145.7 333.0h0M144.1 339.0h0M141.0 340.6h0M142.4 336.5h0M147.7 330.4h0M150.2 328.8h0M148.2 331.9h0M143.2 339.0h0M136.8 343.4h0M140.1 339.2h0M149.0 329.6h0M153.7 328.4h0M143.3 335.8h0M146.4 339.0h0M140.1 343.9h0M137.4 343.1h0M153.2 323.5h0M145.4 336.3h0M137.4 345.3h0M158.1 322.7h0M155.9 321.4h0M140.0 342.1h0M152.6 329.3h0M156.6 323.9h0M144.8 332.1h0M151.3 327.7h0M148.2 329.3h0M147.4 329.7h0M146.0 332.0h0M151.9 329.1h0M150.9 331.2h0M149.4 331.0h0M145.3 334.2h0M141.3 337.6h0M138.6 339.2h0M141.8 339.2h0M147.2 330.9h0M150.1 329.1h0M135.5 342.1h0M152.0 326.9h0M139.0 338.4h0M147.1 334.6h0M153.2 325.1h0M156.8 322.4h0M143.7 337.2h0M139.1 342.8h0M151.2 332.5h0M149.2 331.1h0M152.1 328.9h0M157.8 321.4h0M138.1 343.8h0M146.8 334.0h0M156.0 321.7h0M148.4 331.7h0M151.7 331.4h0M156.4 323.8h0M148.1 332.5h0M162.9 319.8h0M155.4 321.8h0M154.6 323.0h0M154.8 325.7h0M153.2 327.9h0M144.2 340.8h0M160.2 318.1h0M153.3 324.2h0M149.7 331.8h0M143.8 336.9h0M143.0 340.5h0M156.9 323.7h0M139.1 339.0h0M155.5 325.7h0M151.5 329.4h0M153.1 324.4h0M148.8 329.6h0M139.3 339.0h0M147.4 330.5h0M154.0 323.5h0M139.8 342.0h0M154.6 324.2h0M152.3 330.6h0M144.2 336.2h0M154.6 323.2h0M154.8 328.0h0M151.0 327.1h0M158.7 318.4h0M149.4 328.9h0M145.0 333.7h0M158.1 318.8h0M145.6 332.1h0M158.2 319.5h0M146.0 337.5h0M146.5 333.5h0M149.3 330.9h0" stroke="#3a50d8" stroke-width="0.9" stroke-linecap="round" stroke-opacity="0.5" fill="none"/><ellipse cx="136.5" cy="342" rx="7.5" ry="9.5" fill="#1b2fd8" fill-opacity="0.95" filter="url(#f1)" transform="rotate(25 136.5 342)"/><ellipse cx="135.5" cy="346.5" rx="5.6" ry="6.4" fill="#2a8ee0" fill-opacity="0.95" filter="url(#f0_8)"/><ellipse cx="135.5" cy="346.8" rx="4.2" ry="5" fill="#3cc0c0" fill-opacity="0.95" filter="url(#f0_7)"/><ellipse cx="135.5" cy="346.8" rx="3.2" ry="4" fill="#7cc63c" fill-opacity="1" filter="url(#f0_6)"/><ellipse cx="135.5" cy="347" rx="1.7" ry="2.3" fill="#e8e23a" fill-opacity="1" filter="url(#f0_5)"/></g>
<rect x="129.5" y="305.5" width="47" height="47" fill="none" stroke="#8a8a8a" stroke-width="0.7" />
<text x="128.3" y="351.5" font-size="2.6" text-anchor="end" fill="#888" style="stroke:none">10<tspan font-size="1.8" dy="-1">1</tspan></text>
<line x1="128.7" y1="350.5" x2="129.5" y2="350.5" stroke="#888" stroke-width="0.4"/>
<text x="128.3" y="341.5" font-size="2.6" text-anchor="end" fill="#888" style="stroke:none">10<tspan font-size="1.8" dy="-1">2</tspan></text>
<line x1="128.7" y1="340.5" x2="129.5" y2="340.5" stroke="#888" stroke-width="0.4"/>
<text x="128.3" y="331.5" font-size="2.6" text-anchor="end" fill="#888" style="stroke:none">10<tspan font-size="1.8" dy="-1">3</tspan></text>
<line x1="128.7" y1="330.5" x2="129.5" y2="330.5" stroke="#888" stroke-width="0.4"/>
<text x="128.3" y="321.5" font-size="2.6" text-anchor="end" fill="#888" style="stroke:none">10<tspan font-size="1.8" dy="-1">4</tspan></text>
<line x1="128.7" y1="320.5" x2="129.5" y2="320.5" stroke="#888" stroke-width="0.4"/>
<text x="128.3" y="311.5" font-size="2.6" text-anchor="end" fill="#888" style="stroke:none">10<tspan font-size="1.8" dy="-1">5</tspan></text>
<line x1="128.7" y1="310.5" x2="129.5" y2="310.5" stroke="#888" stroke-width="0.4"/>
<text x="132.5" y="355.9" font-size="2.6" text-anchor="middle" fill="#888" style="stroke:none">10<tspan font-size="1.8" dy="-1">1</tspan></text>
<line x1="132.5" y1="352.5" x2="132.5" y2="353.3" stroke="#888" stroke-width="0.4"/>
<text x="142.03" y="355.9" font-size="2.6" text-anchor="middle" fill="#888" style="stroke:none">10<tspan font-size="1.8" dy="-1">2</tspan></text>
<line x1="142.03" y1="352.5" x2="142.03" y2="353.3" stroke="#888" stroke-width="0.4"/>
<text x="151.57" y="355.9" font-size="2.6" text-anchor="middle" fill="#888" style="stroke:none">10<tspan font-size="1.8" dy="-1">3</tspan></text>
<line x1="151.57" y1="352.5" x2="151.57" y2="353.3" stroke="#888" stroke-width="0.4"/>
<text x="161.1" y="355.9" font-size="2.6" text-anchor="middle" fill="#888" style="stroke:none">10<tspan font-size="1.8" dy="-1">4</tspan></text>
<line x1="161.1" y1="352.5" x2="161.1" y2="353.3" stroke="#888" stroke-width="0.4"/>
<text x="170.64" y="355.9" font-size="2.6" text-anchor="middle" fill="#888" style="stroke:none">10<tspan font-size="1.8" dy="-1">5</tspan></text>
<line x1="170.64" y1="352.5" x2="170.64" y2="353.3" stroke="#888" stroke-width="0.4"/>
<rect x="144" y="308" width="31.3" height="26.3" fill="none" stroke="#666" stroke-width="0.6" />
<text x="170.5" y="332.8" font-size="5" text-anchor="end" font-weight="normal" font-style="normal" fill="#222" >0.4%</text>
<g clip-path="url(#c12)"><ellipse cx="208.8" cy="327.5" rx="18" ry="3.6" fill="#8e9cec" fill-opacity="0.6" filter="url(#f1_5)" transform="rotate(-42 208.8 327.5)"/><path d="M217.0 317.3h0M212.3 325.6h0M213.5 323.6h0M206.3 329.9h0M203.9 330.7h0M200.7 334.9h0M219.0 318.9h0M201.7 332.7h0M205.3 330.3h0M199.9 334.1h0M196.0 339.3h0M223.4 312.7h0M223.7 310.9h0M206.3 330.3h0M208.1 326.9h0M209.4 328.8h0M203.3 329.2h0M206.0 329.7h0M198.7 333.5h0M200.9 336.9h0M203.3 330.1h0M202.6 333.2h0M207.3 327.6h0M196.3 338.2h0M197.0 336.2h0M208.2 325.7h0M207.8 328.7h0M192.2 340.4h0M204.7 330.7h0M202.0 331.7h0M201.1 332.6h0M197.7 336.0h0M226.9 310.3h0M203.7 335.2h0M196.8 337.5h0M216.2 320.5h0M219.3 315.3h0M224.1 311.4h0M214.6 321.3h0M203.7 333.2h0M203.2 335.8h0M203.3 329.2h0M216.6 323.8h0M223.3 312.6h0M219.3 316.3h0M205.0 328.6h0M223.8 310.7h0M222.6 314.5h0M194.0 340.9h0M208.8 326.7h0M213.7 321.5h0M201.6 332.6h0M193.3 343.9h0M202.0 334.6h0M221.7 313.7h0M214.9 321.6h0M204.9 329.8h0M195.6 339.5h0M195.9 340.1h0M201.0 332.0h0M201.5 332.8h0M213.2 325.3h0M194.6 341.1h0M211.5 326.2h0M200.6 331.8h0M221.4 315.9h0M210.2 325.9h0M210.0 326.2h0M216.2 320.7h0M201.7 332.0h0M203.3 332.2h0M197.3 338.3h0M206.0 329.3h0M223.6 316.8h0M205.7 327.6h0M194.4 338.7h0M218.1 315.9h0M196.5 338.5h0M195.1 339.7h0M211.2 325.3h0M221.8 311.5h0M210.2 322.3h0M195.1 340.2h0M210.0 325.4h0M200.7 337.4h0M215.0 320.4h0M217.8 321.2h0M201.0 334.2h0M222.3 313.9h0M200.8 335.5h0M203.4 331.1h0M200.9 332.8h0M199.4 335.6h0M199.6 335.1h0M205.2 332.0h0M224.1 313.5h0M212.8 326.6h0M193.6 340.7h0M201.2 336.4h0M225.8 311.4h0M221.5 314.1h0M221.2 318.0h0M199.2 336.6h0M210.4 327.4h0M213.9 317.5h0M210.9 325.1h0M214.5 317.8h0M201.9 332.0h0M200.0 335.6h0M213.7 322.1h0M216.7 319.1h0M207.4 331.8h0M220.4 317.2h0M195.0 338.7h0M193.4 342.1h0M198.8 338.2h0M196.8 338.5h0M200.4 337.2h0M204.0 331.0h0M204.3 330.8h0" stroke="#5a6ee0" stroke-width="0.9" stroke-linecap="round" stroke-opacity="0.45" fill="none"/><path d="M187.2 337.4h0M194.6 336.1h0M195.4 336.0h0M197.2 338.0h0M193.7 336.9h0M196.3 340.0h0M199.0 335.8h0M192.7 329.4h0M190.5 339.6h0M192.2 345.5h0M196.0 335.6h0M196.0 334.9h0M193.6 337.9h0M189.5 338.2h0M196.3 333.1h0M202.0 339.3h0M202.2 334.3h0M190.6 331.7h0M188.9 328.2h0M204.7 335.2h0M197.8 334.9h0M196.1 345.3h0M188.1 332.7h0M197.5 333.1h0M200.3 343.9h0M201.3 341.3h0M196.0 342.5h0M192.8 331.7h0M195.5 336.3h0M202.9 332.7h0M202.5 333.7h0M190.5 329.2h0M196.6 330.4h0M197.9 337.8h0M194.8 328.0h0M194.2 339.7h0M187.9 341.0h0M196.9 334.9h0M197.8 340.8h0M196.7 333.7h0M200.7 334.2h0M198.6 342.4h0M203.4 345.4h0M201.9 338.3h0M195.8 338.5h0M199.4 352.3h0M200.1 333.5h0M204.4 329.7h0M201.8 331.2h0M191.3 335.1h0M195.4 330.9h0M199.9 337.0h0M203.5 332.5h0M187.7 340.9h0M195.7 342.4h0M185.1 331.4h0M197.3 347.2h0M190.6 328.1h0M194.5 344.5h0M204.7 330.8h0M193.7 328.4h0M192.6 332.8h0M198.9 343.2h0M208.8 335.8h0M200.9 338.6h0M197.4 347.1h0M200.3 345.3h0M198.3 341.8h0M199.3 337.1h0M193.3 335.5h0M196.9 335.6h0M195.1 334.0h0M201.1 336.3h0M196.2 336.4h0M203.4 334.9h0M203.9 333.3h0M204.5 340.5h0M194.3 339.8h0M202.5 332.8h0M195.7 339.1h0" stroke="#5a6ee0" stroke-width="0.9" stroke-linecap="round" stroke-opacity="0.45" fill="none"/><ellipse cx="201.8" cy="334.5" rx="16" ry="6" fill="#3048dc" fill-opacity="0.8" filter="url(#f2)" transform="rotate(-42 201.8 334.5)"/><path d="M209.1 328.7h0M196.2 346.7h0M201.1 336.9h0M210.0 320.0h0M209.7 333.3h0M211.2 321.0h0M194.4 349.5h0M199.1 339.5h0M194.8 337.6h0M205.9 337.3h0M210.8 322.0h0M213.3 320.0h0M213.8 318.1h0M208.9 319.7h0M194.6 348.0h0M193.5 344.2h0M209.0 333.5h0M204.1 326.2h0M215.2 322.8h0M206.8 330.6h0M198.6 333.8h0M208.1 329.2h0M209.5 324.7h0M197.8 344.3h0M206.5 322.0h0M197.6 337.9h0M198.7 333.7h0M211.0 327.6h0M208.6 331.4h0M203.0 334.3h0M209.1 323.8h0M209.2 318.3h0M208.2 321.3h0M196.5 340.9h0M193.3 342.4h0M206.3 327.9h0M213.5 320.3h0M206.1 330.4h0M197.8 338.6h0M195.5 337.3h0M212.4 323.1h0M209.7 324.9h0M205.6 326.2h0M199.7 343.0h0M214.8 322.3h0M204.0 334.4h0M203.7 332.9h0M202.6 331.9h0M206.1 327.0h0M205.1 332.9h0M213.7 322.9h0M205.0 329.2h0M198.6 329.7h0M201.8 336.4h0M204.9 342.3h0M206.0 327.0h0M205.2 337.2h0M197.9 336.2h0M215.3 322.6h0M203.6 330.5h0M194.7 339.0h0M198.9 334.6h0M206.1 329.9h0M210.7 320.1h0M207.8 332.0h0M212.0 319.6h0M207.2 329.2h0M213.7 323.5h0M200.2 329.5h0M214.0 321.7h0M200.2 339.4h0M198.9 340.1h0M209.8 334.1h0M198.4 335.6h0M201.2 339.8h0M194.8 334.6h0M200.2 340.7h0M198.9 334.8h0M199.9 342.9h0M205.1 324.3h0M206.3 337.5h0M202.3 331.3h0M204.1 334.1h0M213.4 327.1h0M199.0 339.5h0M199.6 331.6h0M215.1 327.7h0M203.2 330.1h0M201.8 334.7h0M204.0 325.5h0M213.4 312.7h0M198.6 341.1h0M213.6 321.4h0M203.8 332.9h0M197.7 341.8h0M199.5 335.7h0M191.6 345.6h0M187.5 343.0h0M212.8 325.8h0M204.7 331.8h0M207.0 327.4h0M195.9 336.6h0M205.7 335.0h0M203.8 323.5h0M195.8 339.4h0M198.9 338.1h0M205.6 334.4h0M197.0 340.0h0M201.1 334.4h0M198.9 338.0h0M207.2 318.0h0M207.3 327.5h0M197.2 335.7h0M201.6 340.0h0M213.4 331.4h0M205.0 332.5h0M210.3 325.5h0M199.3 339.4h0M195.8 339.2h0M207.5 329.9h0M202.5 334.3h0M199.3 341.5h0M187.6 343.1h0M205.3 331.6h0M201.8 334.1h0M197.5 341.3h0M203.4 338.1h0M192.6 338.4h0M203.4 326.4h0M202.9 333.6h0M206.4 328.7h0M197.3 347.2h0M206.5 327.4h0M199.2 343.7h0M192.3 333.7h0M196.3 335.8h0M216.0 320.7h0M198.3 338.3h0M207.1 319.7h0M214.5 328.4h0M199.9 339.1h0M217.3 318.6h0M205.8 327.1h0M211.1 323.6h0M207.9 329.5h0M213.2 325.9h0M208.2 319.2h0M206.3 325.7h0M204.6 328.2h0M217.1 318.1h0M199.2 331.3h0M211.7 326.4h0M200.0 332.9h0M194.2 344.4h0M206.2 326.6h0M191.0 339.5h0M201.9 335.9h0M199.0 335.2h0M206.4 325.7h0M196.1 331.5h0M214.3 323.4h0M196.1 343.9h0M212.1 324.2h0M194.8 341.2h0M195.8 335.2h0M195.5 345.7h0M204.5 326.8h0M199.4 335.8h0M211.3 326.7h0M199.0 343.5h0M193.0 341.1h0M206.6 331.7h0M209.9 322.2h0M211.1 323.8h0M214.7 313.9h0M197.3 335.7h0M191.4 346.8h0M196.8 342.8h0M214.5 317.1h0M211.3 323.9h0M193.1 343.9h0M206.2 324.8h0M201.6 333.8h0M186.8 344.4h0M215.4 319.6h0M203.4 331.4h0M194.6 343.1h0M207.0 317.0h0M192.4 337.2h0M204.1 343.2h0M211.9 325.3h0M208.8 330.5h0M199.0 341.8h0M204.9 330.3h0M204.0 336.6h0M192.6 346.4h0M205.1 324.3h0M194.1 331.4h0M196.2 339.0h0M193.9 333.8h0M197.6 342.8h0M188.2 338.2h0M191.6 343.8h0M190.3 335.7h0M198.8 330.6h0M214.3 322.3h0M200.2 337.2h0M215.4 326.5h0M196.4 341.8h0M197.0 337.0h0M209.9 322.7h0M200.1 335.2h0M192.7 348.2h0M209.1 321.3h0M202.7 335.7h0M212.1 318.0h0M202.1 330.8h0M196.2 336.2h0M211.6 325.3h0M199.2 337.7h0M206.7 332.2h0M204.6 332.6h0M201.3 331.9h0M192.7 344.7h0M193.4 339.8h0M204.4 330.2h0M199.6 326.7h0M210.3 323.2h0M199.7 333.5h0M204.4 331.4h0M210.4 324.6h0M212.1 327.4h0M200.4 344.8h0M196.3 338.9h0M207.4 320.9h0M196.6 337.5h0M204.7 325.6h0M202.9 336.4h0M195.5 346.9h0M215.5 318.3h0M209.8 321.9h0M202.5 323.8h0M210.0 327.7h0M199.0 334.3h0M203.8 337.4h0M201.6 332.5h0M195.3 336.4h0M191.7 343.5h0M218.2 322.0h0M209.7 335.4h0M203.7 328.1h0M195.8 340.5h0M194.2 338.7h0M210.8 326.8h0M203.3 328.5h0M199.4 340.6h0M201.8 332.3h0M200.2 333.3h0M200.2 341.4h0M199.1 339.2h0" stroke="#3a50d8" stroke-width="0.9" stroke-linecap="round" stroke-opacity="0.5" fill="none"/><ellipse cx="191.8" cy="342" rx="7.5" ry="9.5" fill="#1b2fd8" fill-opacity="0.95" filter="url(#f1)" transform="rotate(25 191.8 342)"/><ellipse cx="190.8" cy="346.5" rx="5.6" ry="6.4" fill="#2a8ee0" fill-opacity="0.95" filter="url(#f0_8)"/><ellipse cx="190.8" cy="346.8" rx="4.2" ry="5" fill="#3cc0c0" fill-opacity="0.95" filter="url(#f0_7)"/><ellipse cx="190.8" cy="346.8" rx="3.2" ry="4" fill="#7cc63c" fill-opacity="1" filter="url(#f0_6)"/><ellipse cx="190.8" cy="347" rx="1.7" ry="2.3" fill="#e8e23a" fill-opacity="1" filter="url(#f0_5)"/><ellipse cx="190.8" cy="347" rx="0.8" ry="1.1" fill="#e2401c" fill-opacity="1" filter="url(#f0_4)"/></g>
<rect x="184.8" y="305.5" width="47" height="47" fill="none" stroke="#8a8a8a" stroke-width="0.7" />
<text x="183.6" y="351.5" font-size="2.6" text-anchor="end" fill="#888" style="stroke:none">10<tspan font-size="1.8" dy="-1">1</tspan></text>
<line x1="184" y1="350.5" x2="184.8" y2="350.5" stroke="#888" stroke-width="0.4"/>
<text x="183.6" y="341.5" font-size="2.6" text-anchor="end" fill="#888" style="stroke:none">10<tspan font-size="1.8" dy="-1">2</tspan></text>
<line x1="184" y1="340.5" x2="184.8" y2="340.5" stroke="#888" stroke-width="0.4"/>
<text x="183.6" y="331.5" font-size="2.6" text-anchor="end" fill="#888" style="stroke:none">10<tspan font-size="1.8" dy="-1">3</tspan></text>
<line x1="184" y1="330.5" x2="184.8" y2="330.5" stroke="#888" stroke-width="0.4"/>
<text x="183.6" y="321.5" font-size="2.6" text-anchor="end" fill="#888" style="stroke:none">10<tspan font-size="1.8" dy="-1">4</tspan></text>
<line x1="184" y1="320.5" x2="184.8" y2="320.5" stroke="#888" stroke-width="0.4"/>
<text x="183.6" y="311.5" font-size="2.6" text-anchor="end" fill="#888" style="stroke:none">10<tspan font-size="1.8" dy="-1">5</tspan></text>
<line x1="184" y1="310.5" x2="184.8" y2="310.5" stroke="#888" stroke-width="0.4"/>
<text x="187.8" y="355.9" font-size="2.6" text-anchor="middle" fill="#888" style="stroke:none">10<tspan font-size="1.8" dy="-1">1</tspan></text>
<line x1="187.8" y1="352.5" x2="187.8" y2="353.3" stroke="#888" stroke-width="0.4"/>
<text x="197.33" y="355.9" font-size="2.6" text-anchor="middle" fill="#888" style="stroke:none">10<tspan font-size="1.8" dy="-1">2</tspan></text>
<line x1="197.33" y1="352.5" x2="197.33" y2="353.3" stroke="#888" stroke-width="0.4"/>
<text x="206.87" y="355.9" font-size="2.6" text-anchor="middle" fill="#888" style="stroke:none">10<tspan font-size="1.8" dy="-1">3</tspan></text>
<line x1="206.87" y1="352.5" x2="206.87" y2="353.3" stroke="#888" stroke-width="0.4"/>
<text x="216.4" y="355.9" font-size="2.6" text-anchor="middle" fill="#888" style="stroke:none">10<tspan font-size="1.8" dy="-1">4</tspan></text>
<line x1="216.4" y1="352.5" x2="216.4" y2="353.3" stroke="#888" stroke-width="0.4"/>
<text x="225.94" y="355.9" font-size="2.6" text-anchor="middle" fill="#888" style="stroke:none">10<tspan font-size="1.8" dy="-1">5</tspan></text>
<line x1="225.94" y1="352.5" x2="225.94" y2="353.3" stroke="#888" stroke-width="0.4"/>
<rect x="199.3" y="308" width="31.3" height="26.3" fill="none" stroke="#666" stroke-width="0.6" />
<text x="225.8" y="332.8" font-size="5" text-anchor="end" font-weight="normal" font-style="normal" fill="#222" >2.5%</text>
<text x="0" y="0" font-size="7.9" text-anchor="middle" fill="#111" transform="translate(9.5,350.4) rotate(-90)">CD41/61</text>
<line x1="12.5" y1="341.9" x2="12.5" y2="359.2" stroke="#111" stroke-width="0.9"/>
<line x1="12.5" y1="359.2" x2="30.8" y2="359.2" stroke="#111" stroke-width="0.9"/>
<path d="M11.2,342.4 L12.5,339.9 L13.8,342.4 Z" fill="#111"/>
<path d="M30.3,357.9 L32.8,359.2 L30.3,360.5 Z" fill="#111"/>
<text x="11.5" y="369.2" font-size="7.9" text-anchor="start" font-weight="normal" font-style="normal" fill="#111" >CD42c</text>
<text x="47.7" y="380" font-size="8" text-anchor="middle" font-weight="normal" font-style="normal" fill="#111" >WT</text>
<text x="96.7" y="370.8" font-size="8" text-anchor="middle" font-weight="normal" font-style="italic" fill="#111" >SclCre</text>
<text x="96.7" y="380.7" font-size="8" text-anchor="middle" font-style="italic" fill="#111">Stat3<tspan font-size="4.96" dy="-3.04">fl/fl</tspan></text>
<text x="157" y="370.7" font-size="8" text-anchor="middle" font-weight="normal" font-style="italic" fill="#111" >SclCre</text>
<text x="157" y="380.2" font-size="8" text-anchor="middle" font-weight="normal" font-style="italic" fill="#111" >V617F</text>
<text x="157" y="389.7" font-size="8" text-anchor="middle" font-style="italic" fill="#111">Stat3<tspan font-size="4.96" dy="-3.04">+/+</tspan></text>
<text x="216" y="370.7" font-size="8" text-anchor="middle" font-weight="normal" font-style="italic" fill="#111" >SclCre</text>
<text x="216" y="380.2" font-size="8" text-anchor="middle" font-weight="normal" font-style="italic" fill="#111" >V617F</text>
<text x="216" y="389.7" font-size="8" text-anchor="middle" font-style="italic" fill="#111">Stat3<tspan font-size="4.96" dy="-3.04">fl/fl</tspan></text>
<text x="5.2" y="386.3" font-size="8.9" text-anchor="start" font-weight="normal" font-style="normal" fill="#111" >spleen</text>
<g clip-path="url(#c13)"><ellipse cx="40.4" cy="418" rx="18" ry="3.6" fill="#8e9cec" fill-opacity="0.34" filter="url(#f1_5)" transform="rotate(-42 40.4 418)"/><path d="M32.5 423.1h0M45.5 412.1h0M55.2 405.7h0M33.1 426.6h0M38.0 418.6h0M26.9 430.0h0M40.6 416.9h0M34.0 425.6h0M41.8 416.3h0M38.6 418.4h0M30.0 427.5h0M30.7 427.6h0M53.3 403.9h0M25.3 430.8h0M27.2 428.8h0M36.1 419.6h0M28.9 430.6h0M43.3 413.5h0M35.8 420.4h0M42.0 417.9h0M42.4 417.7h0M53.4 407.7h0M46.2 411.1h0M46.2 411.5h0M27.4 427.2h0M49.8 409.6h0M47.0 414.9h0M53.5 403.4h0M43.0 413.9h0M43.2 410.8h0M48.7 407.3h0M51.4 404.1h0M36.3 423.7h0M33.2 425.2h0M52.7 405.9h0M41.5 418.4h0M45.4 414.1h0M27.3 428.7h0M34.5 421.3h0M50.4 406.5h0" stroke="#5a6ee0" stroke-width="0.9" stroke-linecap="round" stroke-opacity="0.3" fill="none"/><path d="M29.0 426.9h0M28.5 429.2h0M34.3 426.1h0M36.6 415.2h0M37.4 433.8h0M36.1 429.0h0M29.7 423.3h0M35.0 422.6h0M24.3 428.1h0M29.5 429.7h0M22.5 426.4h0M30.7 433.7h0M32.1 430.0h0M27.0 425.5h0M25.7 427.6h0M30.9 425.7h0M38.6 423.3h0M32.4 427.1h0M27.6 426.3h0M36.0 426.7h0M31.1 428.6h0M32.0 430.8h0M36.5 424.6h0M24.2 436.1h0M34.7 428.4h0M26.9 429.3h0M34.8 424.4h0M35.5 427.8h0M26.5 426.2h0M17.9 429.6h0M21.7 425.4h0M23.8 429.2h0M31.9 428.3h0M29.3 430.0h0M36.3 430.8h0M36.1 427.8h0M30.1 425.0h0M31.3 424.0h0M30.7 425.1h0M26.5 433.8h0M29.0 431.8h0M27.1 419.3h0M35.6 427.2h0M25.1 432.5h0M22.7 424.6h0M34.0 424.8h0M33.9 426.6h0M27.3 428.4h0M25.8 433.1h0M33.8 428.4h0M31.3 430.6h0M36.7 420.6h0M33.4 432.4h0M26.7 428.1h0M26.6 433.9h0M22.6 430.9h0M34.7 430.8h0M25.9 425.9h0M17.8 423.2h0M33.8 423.6h0M20.1 426.9h0M20.9 430.2h0M24.0 432.6h0M27.7 421.4h0M24.5 425.0h0M24.1 433.9h0M23.3 429.8h0M25.4 430.9h0M21.2 420.7h0M30.9 434.8h0M21.4 426.6h0M25.8 423.7h0M33.1 428.3h0M21.4 427.1h0M35.0 424.7h0M25.7 424.2h0M29.1 425.5h0M32.8 424.2h0M21.1 430.2h0M12.5 423.6h0" stroke="#5a6ee0" stroke-width="0.9" stroke-linecap="round" stroke-opacity="0.45" fill="none"/><ellipse cx="30.4" cy="428" rx="10" ry="4.5" fill="#3048dc" fill-opacity="0.42" filter="url(#f2)" transform="rotate(-42 30.4 428)"/><path d="M28.9 431.9h0M30.1 433.9h0M35.7 422.7h0M29.4 429.4h0M45.7 409.2h0M29.9 430.9h0M27.8 430.3h0M44.6 410.9h0M23.6 433.3h0M44.3 415.9h0M32.6 423.8h0M43.7 411.0h0M30.3 428.4h0M29.8 429.4h0M22.8 433.8h0M27.5 429.2h0M42.2 418.9h0M32.0 427.0h0M29.8 430.1h0M44.7 411.8h0M41.5 416.2h0M43.1 413.9h0M28.3 425.5h0M32.8 422.8h0M28.3 430.4h0M30.1 427.4h0M32.9 424.3h0M44.0 409.4h0M29.5 432.1h0M48.6 410.9h0M30.6 430.1h0M28.1 429.3h0M31.8 428.6h0M43.2 416.6h0M26.5 431.7h0M24.9 431.8h0M46.4 410.8h0M34.8 420.6h0M33.2 422.3h0M36.9 419.7h0M41.4 415.3h0M26.3 434.0h0M40.9 412.3h0M41.4 415.8h0M33.6 425.1h0M41.8 411.6h0M38.8 416.4h0M45.9 409.3h0M47.6 412.4h0M36.2 421.5h0M37.8 419.4h0M45.1 412.4h0M35.2 420.9h0M26.6 434.7h0M44.6 413.3h0M36.8 422.6h0M37.7 420.0h0M42.7 419.4h0M28.1 427.2h0M27.4 429.4h0M27.9 430.0h0M41.8 416.7h0M32.4 424.3h0M40.4 415.6h0M34.4 426.6h0M25.1 433.2h0M43.4 415.7h0M42.9 415.8h0M27.4 428.8h0M24.6 430.8h0M24.2 431.8h0M42.7 413.0h0M44.9 415.0h0M31.7 427.3h0M45.0 416.4h0M28.1 430.2h0M36.9 417.7h0M45.4 416.5h0M37.3 419.3h0M46.0 408.4h0M30.6 427.5h0M48.0 408.6h0M41.7 419.1h0M40.6 417.2h0M27.1 434.1h0M40.8 414.2h0M45.7 412.4h0M33.9 425.9h0M42.7 412.6h0M36.4 421.8h0M37.7 423.6h0M42.4 413.9h0M29.5 425.7h0M39.4 418.5h0M28.1 428.8h0M33.0 423.6h0M39.8 416.7h0M37.1 420.1h0M40.0 409.8h0M24.4 433.5h0M40.4 418.0h0M40.9 418.5h0M31.6 428.3h0M38.8 421.1h0M29.0 433.3h0M49.4 410.1h0M39.0 415.4h0M39.8 419.8h0M34.5 425.3h0M34.9 420.7h0" stroke="#3a50d8" stroke-width="0.9" stroke-linecap="round" stroke-opacity="0.5" fill="none"/><ellipse cx="23.4" cy="432.5" rx="7.5" ry="9.5" fill="#1b2fd8" fill-opacity="0.95" filter="url(#f1)" transform="rotate(25 23.4 432.5)"/><ellipse cx="22.4" cy="437" rx="5.6" ry="6.4" fill="#2a8ee0" fill-opacity="0.95" filter="url(#f0_8)"/><ellipse cx="22.4" cy="437.3" rx="4.2" ry="5" fill="#3cc0c0" fill-opacity="0.95" filter="url(#f0_7)"/><ellipse cx="22.4" cy="437.3" rx="3.2" ry="4" fill="#7cc63c" fill-opacity="1" filter="url(#f0_6)"/><ellipse cx="22.4" cy="437.5" rx="1.7" ry="2.3" fill="#e8e23a" fill-opacity="1" filter="url(#f0_5)"/></g>
<rect x="16.4" y="396" width="47" height="47" fill="none" stroke="#8a8a8a" stroke-width="0.7" />
<text x="15.2" y="442" font-size="2.6" text-anchor="end" fill="#888" style="stroke:none">10<tspan font-size="1.8" dy="-1">1</tspan></text>
<line x1="15.6" y1="441" x2="16.4" y2="441" stroke="#888" stroke-width="0.4"/>
<text x="15.2" y="432" font-size="2.6" text-anchor="end" fill="#888" style="stroke:none">10<tspan font-size="1.8" dy="-1">2</tspan></text>
<line x1="15.6" y1="431" x2="16.4" y2="431" stroke="#888" stroke-width="0.4"/>
<text x="15.2" y="422" font-size="2.6" text-anchor="end" fill="#888" style="stroke:none">10<tspan font-size="1.8" dy="-1">3</tspan></text>
<line x1="15.6" y1="421" x2="16.4" y2="421" stroke="#888" stroke-width="0.4"/>
<text x="15.2" y="412" font-size="2.6" text-anchor="end" fill="#888" style="stroke:none">10<tspan font-size="1.8" dy="-1">4</tspan></text>
<line x1="15.6" y1="411" x2="16.4" y2="411" stroke="#888" stroke-width="0.4"/>
<text x="15.2" y="402" font-size="2.6" text-anchor="end" fill="#888" style="stroke:none">10<tspan font-size="1.8" dy="-1">5</tspan></text>
<line x1="15.6" y1="401" x2="16.4" y2="401" stroke="#888" stroke-width="0.4"/>
<text x="19.4" y="446.4" font-size="2.6" text-anchor="middle" fill="#888" style="stroke:none">10<tspan font-size="1.8" dy="-1">1</tspan></text>
<line x1="19.4" y1="443" x2="19.4" y2="443.8" stroke="#888" stroke-width="0.4"/>
<text x="28.93" y="446.4" font-size="2.6" text-anchor="middle" fill="#888" style="stroke:none">10<tspan font-size="1.8" dy="-1">2</tspan></text>
<line x1="28.93" y1="443" x2="28.93" y2="443.8" stroke="#888" stroke-width="0.4"/>
<text x="38.47" y="446.4" font-size="2.6" text-anchor="middle" fill="#888" style="stroke:none">10<tspan font-size="1.8" dy="-1">3</tspan></text>
<line x1="38.47" y1="443" x2="38.47" y2="443.8" stroke="#888" stroke-width="0.4"/>
<text x="48" y="446.4" font-size="2.6" text-anchor="middle" fill="#888" style="stroke:none">10<tspan font-size="1.8" dy="-1">4</tspan></text>
<line x1="48" y1="443" x2="48" y2="443.8" stroke="#888" stroke-width="0.4"/>
<text x="57.54" y="446.4" font-size="2.6" text-anchor="middle" fill="#888" style="stroke:none">10<tspan font-size="1.8" dy="-1">5</tspan></text>
<line x1="57.54" y1="443" x2="57.54" y2="443.8" stroke="#888" stroke-width="0.4"/>
<rect x="30.9" y="398.5" width="31.3" height="26.3" fill="none" stroke="#666" stroke-width="0.6" />
<text x="57.4" y="423.3" font-size="5" text-anchor="end" font-weight="normal" font-style="normal" fill="#222" >0.8%</text>
<g clip-path="url(#c14)"><ellipse cx="96.6" cy="418" rx="18" ry="3.6" fill="#8e9cec" fill-opacity="0.35" filter="url(#f1_5)" transform="rotate(-42 96.6 418)"/><path d="M102.2 414.2h0M83.2 427.6h0M101.7 412.0h0M111.5 403.0h0M82.6 429.3h0M93.2 420.8h0M85.0 426.5h0M95.0 417.5h0M86.4 428.8h0M100.8 410.4h0M92.9 419.6h0M90.8 425.7h0M110.1 405.9h0M106.3 406.8h0M91.5 422.3h0M96.4 417.4h0M85.8 430.9h0M106.6 408.8h0M113.4 404.4h0M101.3 412.9h0M84.9 427.0h0M83.9 430.4h0M94.4 417.8h0M101.6 415.9h0M99.1 417.2h0M85.6 427.2h0M105.5 410.3h0M111.0 402.3h0M100.5 414.2h0M102.6 412.7h0M103.1 411.6h0M105.1 409.9h0M84.2 431.8h0M110.5 404.8h0M82.1 431.2h0M87.8 425.7h0M102.4 414.5h0M86.9 431.8h0M88.0 424.6h0M112.0 401.8h0M101.6 410.4h0M93.7 420.0h0M95.7 414.8h0M105.8 409.9h0M99.7 414.4h0M111.7 402.4h0M89.2 427.7h0M83.1 426.6h0M104.5 408.4h0M102.8 411.0h0" stroke="#5a6ee0" stroke-width="0.9" stroke-linecap="round" stroke-opacity="0.3" fill="none"/><path d="M85.3 433.1h0M76.0 421.9h0M81.3 425.9h0M84.2 425.2h0M85.1 428.4h0M78.8 425.0h0M78.4 429.4h0M85.9 431.2h0M80.2 425.4h0M73.5 428.1h0M76.5 429.7h0M90.0 430.2h0M87.7 429.1h0M86.5 432.6h0M90.9 437.8h0M83.3 432.0h0M88.9 430.1h0M85.9 421.9h0M90.0 423.7h0M81.3 423.9h0M87.4 423.3h0M86.9 430.7h0M85.1 426.3h0M87.6 434.4h0M82.3 422.9h0M81.6 423.7h0M83.4 427.2h0M73.1 435.1h0M80.5 425.9h0M74.8 418.4h0M79.5 429.1h0M88.8 419.2h0M85.7 435.3h0M83.2 432.5h0M86.2 423.5h0M89.6 425.0h0M86.4 426.1h0M83.5 428.7h0M91.2 419.8h0M79.0 428.5h0M89.5 427.1h0M83.7 430.6h0M92.5 423.6h0M76.6 426.6h0M88.4 421.6h0M90.2 432.6h0M88.5 423.9h0M78.1 431.2h0M85.9 431.3h0M77.9 413.7h0M90.2 432.8h0M83.2 428.0h0M86.9 431.6h0M83.7 425.5h0M79.7 433.0h0M85.1 411.5h0M86.3 425.2h0M78.2 425.5h0M78.2 425.8h0M81.9 430.5h0M79.5 419.2h0M81.6 421.3h0M88.3 427.0h0M76.3 423.8h0M84.5 427.8h0M75.4 427.4h0M86.1 432.8h0M90.1 427.4h0M78.1 426.2h0M87.8 423.5h0M90.9 423.3h0M79.0 432.0h0M84.1 429.5h0M83.1 428.1h0M81.7 437.2h0M87.9 427.4h0M87.0 432.0h0M82.0 428.8h0M85.6 425.3h0M80.7 427.0h0" stroke="#5a6ee0" stroke-width="0.9" stroke-linecap="round" stroke-opacity="0.45" fill="none"/><ellipse cx="86.8" cy="427.8" rx="10.4" ry="4.6" fill="#3048dc" fill-opacity="0.45" filter="url(#f2)" transform="rotate(-42 86.8 427.8)"/><path d="M96.2 419.7h0M100.3 413.8h0M83.4 430.2h0M86.7 427.6h0M91.1 420.1h0M83.0 432.7h0M102.5 410.5h0M80.9 432.1h0M102.7 411.2h0M98.2 412.4h0M88.9 424.6h0M91.5 418.9h0M95.5 415.9h0M93.3 419.8h0M85.4 431.1h0M98.9 410.1h0M95.3 419.7h0M93.4 418.4h0M95.2 418.5h0M82.5 431.0h0M83.2 431.3h0M94.5 419.5h0M89.3 427.5h0M89.9 422.8h0M89.0 421.4h0M88.6 428.3h0M94.0 420.6h0M91.7 424.7h0M88.5 427.1h0M98.8 417.2h0M98.8 407.3h0M86.0 429.8h0M86.4 429.4h0M92.7 419.4h0M81.7 430.8h0M89.6 427.8h0M83.5 432.1h0M101.5 413.7h0M100.3 412.1h0M81.9 433.5h0M84.1 432.3h0M80.8 435.8h0M82.8 428.0h0M80.7 431.6h0M83.5 431.5h0M84.9 431.1h0M94.7 419.1h0M95.9 416.1h0M80.1 432.6h0M89.6 424.2h0M82.4 428.7h0M94.8 419.8h0M96.2 418.9h0M85.5 427.6h0M82.9 430.7h0M85.8 427.8h0M88.8 423.7h0M90.2 427.3h0M101.2 414.0h0M92.3 419.8h0M96.5 412.5h0M100.5 409.1h0M86.9 428.4h0M97.4 413.8h0M96.0 411.9h0M94.8 416.9h0M100.0 410.5h0M88.5 424.2h0M86.4 426.5h0M84.8 432.4h0M91.3 422.4h0M91.6 421.0h0M86.8 425.4h0M81.7 434.4h0M100.3 414.3h0M92.1 418.4h0M87.3 426.8h0M97.1 415.9h0M84.2 429.1h0M88.6 426.8h0M91.8 422.0h0M101.3 413.7h0M88.3 427.4h0M89.8 422.3h0M90.8 423.6h0M91.1 426.0h0M101.3 414.8h0M88.5 425.1h0M86.0 429.3h0M100.1 413.8h0M97.6 416.8h0M86.5 428.3h0M94.1 418.0h0M90.9 420.5h0M93.0 421.0h0M87.6 428.3h0M81.8 435.5h0M95.3 421.5h0M83.7 428.0h0M98.5 415.6h0M93.3 416.3h0M97.0 415.5h0M94.7 412.6h0M85.4 424.1h0M97.0 414.9h0M83.1 432.4h0M80.9 432.5h0M84.5 431.3h0M97.5 416.4h0M83.8 430.3h0M100.6 411.1h0M88.9 427.0h0M89.1 424.5h0M88.9 429.5h0M91.8 422.0h0M95.3 418.1h0M96.5 417.1h0M84.1 434.2h0M86.9 425.0h0M96.1 417.6h0" stroke="#3a50d8" stroke-width="0.9" stroke-linecap="round" stroke-opacity="0.5" fill="none"/><ellipse cx="79.6" cy="432.5" rx="7.5" ry="9.5" fill="#1b2fd8" fill-opacity="0.95" filter="url(#f1)" transform="rotate(25 79.6 432.5)"/><ellipse cx="78.6" cy="437" rx="5.6" ry="6.4" fill="#2a8ee0" fill-opacity="0.95" filter="url(#f0_8)"/><ellipse cx="78.6" cy="437.3" rx="4.2" ry="5" fill="#3cc0c0" fill-opacity="0.95" filter="url(#f0_7)"/><ellipse cx="78.6" cy="437.3" rx="3.2" ry="4" fill="#7cc63c" fill-opacity="1" filter="url(#f0_6)"/><ellipse cx="78.6" cy="437.5" rx="1.7" ry="2.3" fill="#e8e23a" fill-opacity="1" filter="url(#f0_5)"/></g>
<rect x="72.6" y="396" width="47" height="47" fill="none" stroke="#8a8a8a" stroke-width="0.7" />
<text x="71.4" y="442" font-size="2.6" text-anchor="end" fill="#888" style="stroke:none">10<tspan font-size="1.8" dy="-1">1</tspan></text>
<line x1="71.8" y1="441" x2="72.6" y2="441" stroke="#888" stroke-width="0.4"/>
<text x="71.4" y="432" font-size="2.6" text-anchor="end" fill="#888" style="stroke:none">10<tspan font-size="1.8" dy="-1">2</tspan></text>
<line x1="71.8" y1="431" x2="72.6" y2="431" stroke="#888" stroke-width="0.4"/>
<text x="71.4" y="422" font-size="2.6" text-anchor="end" fill="#888" style="stroke:none">10<tspan font-size="1.8" dy="-1">3</tspan></text>
<line x1="71.8" y1="421" x2="72.6" y2="421" stroke="#888" stroke-width="0.4"/>
<text x="71.4" y="412" font-size="2.6" text-anchor="end" fill="#888" style="stroke:none">10<tspan font-size="1.8" dy="-1">4</tspan></text>
<line x1="71.8" y1="411" x2="72.6" y2="411" stroke="#888" stroke-width="0.4"/>
<text x="71.4" y="402" font-size="2.6" text-anchor="end" fill="#888" style="stroke:none">10<tspan font-size="1.8" dy="-1">5</tspan></text>
<line x1="71.8" y1="401" x2="72.6" y2="401" stroke="#888" stroke-width="0.4"/>
<text x="75.6" y="446.4" font-size="2.6" text-anchor="middle" fill="#888" style="stroke:none">10<tspan font-size="1.8" dy="-1">1</tspan></text>
<line x1="75.6" y1="443" x2="75.6" y2="443.8" stroke="#888" stroke-width="0.4"/>
<text x="85.13" y="446.4" font-size="2.6" text-anchor="middle" fill="#888" style="stroke:none">10<tspan font-size="1.8" dy="-1">2</tspan></text>
<line x1="85.13" y1="443" x2="85.13" y2="443.8" stroke="#888" stroke-width="0.4"/>
<text x="94.67" y="446.4" font-size="2.6" text-anchor="middle" fill="#888" style="stroke:none">10<tspan font-size="1.8" dy="-1">3</tspan></text>
<line x1="94.67" y1="443" x2="94.67" y2="443.8" stroke="#888" stroke-width="0.4"/>
<text x="104.2" y="446.4" font-size="2.6" text-anchor="middle" fill="#888" style="stroke:none">10<tspan font-size="1.8" dy="-1">4</tspan></text>
<line x1="104.2" y1="443" x2="104.2" y2="443.8" stroke="#888" stroke-width="0.4"/>
<text x="113.74" y="446.4" font-size="2.6" text-anchor="middle" fill="#888" style="stroke:none">10<tspan font-size="1.8" dy="-1">5</tspan></text>
<line x1="113.74" y1="443" x2="113.74" y2="443.8" stroke="#888" stroke-width="0.4"/>
<rect x="87.1" y="398.5" width="31.3" height="26.3" fill="none" stroke="#666" stroke-width="0.6" />
<text x="113.6" y="423.3" font-size="5" text-anchor="end" font-weight="normal" font-style="normal" fill="#222" >0.6%</text>
<g clip-path="url(#c15)"><ellipse cx="153.5" cy="418" rx="18" ry="3.6" fill="#8e9cec" fill-opacity="0.41" filter="url(#f1_5)" transform="rotate(-42 153.5 418)"/><path d="M159.2 412.9h0M150.1 418.2h0M158.8 411.6h0M157.8 414.8h0M158.9 413.2h0M147.3 425.2h0M145.2 425.6h0M162.6 411.5h0M161.0 408.8h0M147.7 425.1h0M136.7 431.3h0M141.4 428.4h0M143.7 429.2h0M144.4 427.5h0M168.0 403.5h0M156.0 415.0h0M146.1 424.3h0M167.9 404.4h0M168.4 404.1h0M152.7 418.9h0M157.8 414.1h0M138.1 432.5h0M152.8 419.4h0M144.9 426.1h0M159.2 411.5h0M144.2 425.2h0M163.8 410.1h0M140.4 428.9h0M165.3 405.6h0M163.6 409.3h0M157.7 411.8h0M160.6 412.6h0M142.8 430.5h0M152.5 422.3h0M146.0 422.9h0M146.4 426.4h0M165.3 408.0h0M167.5 404.4h0M143.8 427.6h0M161.6 411.4h0M149.5 421.0h0M161.9 410.1h0M150.9 418.8h0M165.7 406.6h0M154.1 419.2h0M152.8 419.8h0M170.2 400.0h0M150.0 420.0h0M152.5 419.8h0M142.5 426.8h0M156.9 412.8h0M163.6 406.3h0M162.4 410.1h0M156.9 413.4h0M140.7 428.8h0M162.0 408.7h0M163.7 403.3h0M156.0 415.0h0M141.8 426.4h0M152.9 421.6h0M141.4 429.2h0M159.6 410.3h0M148.8 423.7h0M146.1 423.4h0M141.9 427.4h0M167.1 404.1h0M161.8 409.7h0M159.2 413.6h0M147.9 423.0h0M154.6 415.0h0" stroke="#5a6ee0" stroke-width="0.9" stroke-linecap="round" stroke-opacity="0.4" fill="none"/><path d="M137.1 430.6h0M139.4 430.5h0M134.4 426.0h0M151.7 429.7h0M141.2 433.7h0M143.0 435.3h0M136.0 431.7h0M136.5 431.3h0M153.6 435.3h0M137.5 430.0h0M143.9 424.6h0M142.8 422.9h0M146.4 432.4h0M140.9 431.3h0M153.2 427.2h0M132.6 429.6h0M139.5 424.3h0M146.0 432.8h0M144.5 435.8h0M138.6 426.0h0M143.7 415.1h0M128.4 429.7h0M140.6 428.3h0M137.0 429.1h0M146.8 425.0h0M144.4 427.3h0M140.9 428.6h0M149.0 430.5h0M145.0 428.7h0M131.2 432.5h0M141.5 428.5h0M139.2 420.6h0M148.9 436.8h0M149.3 419.2h0M144.3 422.4h0M140.7 425.5h0M138.6 424.3h0M139.3 431.7h0M149.5 432.4h0M141.6 427.3h0M140.4 427.9h0M138.6 427.2h0M145.7 426.9h0M137.6 427.4h0M142.0 427.6h0M140.3 431.4h0M141.4 423.2h0M144.4 424.6h0M145.4 431.9h0M144.0 429.5h0M135.0 427.1h0M142.2 431.1h0M136.1 427.3h0M134.1 428.9h0M142.0 428.6h0M149.7 431.5h0M140.7 425.2h0M139.4 431.8h0M146.1 425.6h0M141.0 425.9h0M145.0 428.9h0M138.1 423.8h0M148.0 421.3h0M132.7 413.3h0M151.5 425.4h0M145.8 430.7h0M145.7 433.4h0M139.3 427.9h0M146.4 430.7h0M137.9 424.4h0M134.5 429.3h0M139.0 420.6h0M138.9 429.6h0M142.5 426.9h0M142.4 431.1h0M135.7 424.1h0M146.4 431.5h0M134.7 424.5h0M148.7 431.6h0M140.9 432.9h0" stroke="#5a6ee0" stroke-width="0.9" stroke-linecap="round" stroke-opacity="0.45" fill="none"/><ellipse cx="144.3" cy="427.2" rx="11.6" ry="4.9" fill="#3048dc" fill-opacity="0.53" filter="url(#f2)" transform="rotate(-42 144.3 427.2)"/><path d="M141.7 428.8h0M154.5 414.4h0M147.1 424.8h0M157.1 414.6h0M138.9 427.2h0M134.8 437.1h0M141.0 433.2h0M155.6 413.7h0M154.9 415.0h0M144.0 420.4h0M145.6 424.4h0M155.0 420.0h0M158.7 411.1h0M146.4 429.0h0M152.3 411.8h0M143.1 430.3h0M148.8 427.2h0M153.7 417.3h0M141.5 428.9h0M155.3 415.1h0M138.4 432.5h0M146.9 419.5h0M145.3 425.2h0M153.1 418.6h0M154.7 411.4h0M148.2 417.2h0M138.9 434.2h0M156.8 417.4h0M138.2 433.6h0M149.6 416.3h0M151.0 418.9h0M147.2 423.5h0M141.5 431.1h0M154.8 413.3h0M150.6 420.9h0M143.0 428.4h0M157.4 414.3h0M136.6 429.2h0M154.5 413.8h0M146.3 427.0h0M140.9 430.9h0M145.0 430.5h0M138.6 429.9h0M150.0 420.4h0M158.0 415.8h0M156.3 415.0h0M155.2 414.7h0M158.3 413.4h0M155.9 413.0h0M147.1 421.5h0M144.9 427.4h0M150.9 419.6h0M142.0 427.7h0M144.4 426.1h0M143.3 427.9h0M151.6 419.7h0M144.5 427.5h0M157.2 409.6h0M156.5 412.9h0M136.9 433.7h0M138.7 432.3h0M139.6 428.0h0M157.6 412.6h0M139.0 433.0h0M139.3 435.5h0M149.4 421.8h0M141.2 434.3h0M159.1 409.1h0M143.2 426.5h0M144.0 427.6h0M162.1 412.1h0M145.4 423.7h0M141.7 431.3h0M153.7 414.6h0M146.9 422.1h0M149.2 422.4h0M159.1 409.3h0M157.0 410.0h0M141.0 428.4h0M148.8 424.5h0M156.9 409.5h0M149.6 417.0h0M144.4 429.7h0M159.5 410.1h0M143.5 426.6h0M149.5 417.2h0M140.2 433.9h0M151.8 419.2h0M137.0 431.2h0M135.9 435.4h0M147.1 424.6h0M151.9 415.6h0M152.7 415.7h0M146.2 424.9h0M152.3 415.9h0M144.5 427.4h0M148.3 427.8h0M156.8 414.4h0M146.0 427.5h0M155.7 411.4h0M158.5 412.1h0M141.6 426.3h0M135.3 431.2h0M154.1 410.3h0M145.3 422.4h0M140.1 427.9h0M142.9 426.9h0M153.2 419.9h0M137.9 432.5h0M159.0 414.6h0M145.7 426.3h0M140.0 429.3h0M153.9 414.7h0M150.8 421.3h0M139.4 433.4h0M139.2 431.2h0M147.9 418.8h0M147.3 420.0h0M140.6 430.9h0M158.9 410.8h0M152.0 412.1h0M156.6 413.7h0M148.7 423.4h0M147.3 425.6h0M154.9 413.4h0M160.1 411.3h0M147.0 426.4h0M155.2 414.0h0M151.4 417.5h0M143.3 426.6h0M141.1 433.1h0M138.3 431.8h0M143.6 429.0h0M150.2 417.7h0M150.1 415.3h0M153.6 416.1h0M147.9 427.9h0M142.7 429.3h0M140.5 429.2h0M143.0 426.3h0M147.2 418.7h0M157.3 409.4h0M146.3 425.0h0M148.4 417.6h0M154.4 415.9h0M154.5 415.8h0M155.4 415.4h0M151.6 412.0h0M150.6 420.6h0M157.2 413.6h0" stroke="#3a50d8" stroke-width="0.9" stroke-linecap="round" stroke-opacity="0.5" fill="none"/><ellipse cx="136.5" cy="432.5" rx="7.5" ry="9.5" fill="#1b2fd8" fill-opacity="0.95" filter="url(#f1)" transform="rotate(25 136.5 432.5)"/><ellipse cx="135.5" cy="437" rx="5.6" ry="6.4" fill="#2a8ee0" fill-opacity="0.95" filter="url(#f0_8)"/><ellipse cx="135.5" cy="437.3" rx="4.2" ry="5" fill="#3cc0c0" fill-opacity="0.95" filter="url(#f0_7)"/><ellipse cx="135.5" cy="437.3" rx="3.2" ry="4" fill="#7cc63c" fill-opacity="1" filter="url(#f0_6)"/><ellipse cx="135.5" cy="437.5" rx="1.7" ry="2.3" fill="#e8e23a" fill-opacity="1" filter="url(#f0_5)"/></g>
<rect x="129.5" y="396" width="47" height="47" fill="none" stroke="#8a8a8a" stroke-width="0.7" />
<text x="128.3" y="442" font-size="2.6" text-anchor="end" fill="#888" style="stroke:none">10<tspan font-size="1.8" dy="-1">1</tspan></text>
<line x1="128.7" y1="441" x2="129.5" y2="441" stroke="#888" stroke-width="0.4"/>
<text x="128.3" y="432" font-size="2.6" text-anchor="end" fill="#888" style="stroke:none">10<tspan font-size="1.8" dy="-1">2</tspan></text>
<line x1="128.7" y1="431" x2="129.5" y2="431" stroke="#888" stroke-width="0.4"/>
<text x="128.3" y="422" font-size="2.6" text-anchor="end" fill="#888" style="stroke:none">10<tspan font-size="1.8" dy="-1">3</tspan></text>
<line x1="128.7" y1="421" x2="129.5" y2="421" stroke="#888" stroke-width="0.4"/>
<text x="128.3" y="412" font-size="2.6" text-anchor="end" fill="#888" style="stroke:none">10<tspan font-size="1.8" dy="-1">4</tspan></text>
<line x1="128.7" y1="411" x2="129.5" y2="411" stroke="#888" stroke-width="0.4"/>
<text x="128.3" y="402" font-size="2.6" text-anchor="end" fill="#888" style="stroke:none">10<tspan font-size="1.8" dy="-1">5</tspan></text>
<line x1="128.7" y1="401" x2="129.5" y2="401" stroke="#888" stroke-width="0.4"/>
<text x="132.5" y="446.4" font-size="2.6" text-anchor="middle" fill="#888" style="stroke:none">10<tspan font-size="1.8" dy="-1">1</tspan></text>
<line x1="132.5" y1="443" x2="132.5" y2="443.8" stroke="#888" stroke-width="0.4"/>
<text x="142.03" y="446.4" font-size="2.6" text-anchor="middle" fill="#888" style="stroke:none">10<tspan font-size="1.8" dy="-1">2</tspan></text>
<line x1="142.03" y1="443" x2="142.03" y2="443.8" stroke="#888" stroke-width="0.4"/>
<text x="151.57" y="446.4" font-size="2.6" text-anchor="middle" fill="#888" style="stroke:none">10<tspan font-size="1.8" dy="-1">3</tspan></text>
<line x1="151.57" y1="443" x2="151.57" y2="443.8" stroke="#888" stroke-width="0.4"/>
<text x="161.1" y="446.4" font-size="2.6" text-anchor="middle" fill="#888" style="stroke:none">10<tspan font-size="1.8" dy="-1">4</tspan></text>
<line x1="161.1" y1="443" x2="161.1" y2="443.8" stroke="#888" stroke-width="0.4"/>
<text x="170.64" y="446.4" font-size="2.6" text-anchor="middle" fill="#888" style="stroke:none">10<tspan font-size="1.8" dy="-1">5</tspan></text>
<line x1="170.64" y1="443" x2="170.64" y2="443.8" stroke="#888" stroke-width="0.4"/>
<rect x="144" y="398.5" width="31.3" height="26.3" fill="none" stroke="#666" stroke-width="0.6" />
<text x="170.5" y="423.3" font-size="5" text-anchor="end" font-weight="normal" font-style="normal" fill="#222" >2.1%</text>
<g clip-path="url(#c16)"><ellipse cx="208.8" cy="418" rx="18" ry="3.6" fill="#8e9cec" fill-opacity="0.56" filter="url(#f1_5)" transform="rotate(-42 208.8 418)"/><path d="M209.8 414.5h0M195.7 428.7h0M205.2 421.5h0M218.5 409.6h0M216.4 407.5h0M217.8 411.6h0M195.1 431.9h0M210.4 417.8h0M197.5 428.8h0M197.4 428.3h0M201.1 425.1h0M222.6 405.1h0M206.9 418.4h0M206.7 418.5h0M206.3 419.1h0M192.5 430.3h0M207.8 418.0h0M197.8 427.4h0M220.9 404.8h0M216.3 407.9h0M201.5 423.0h0M224.6 403.4h0M217.8 410.8h0M221.2 408.3h0M202.6 424.5h0M217.1 407.7h0M215.3 410.7h0M218.8 405.8h0M220.8 407.6h0M217.1 410.8h0M209.1 416.2h0M221.3 408.3h0M203.8 424.3h0M197.0 428.3h0M210.4 421.9h0M198.6 426.3h0M216.4 413.6h0M206.5 421.5h0M211.7 414.9h0M204.7 419.9h0M220.4 408.0h0M209.7 416.6h0M212.6 414.9h0M208.0 419.4h0M222.9 401.4h0M220.3 403.5h0M209.2 415.3h0M194.1 431.8h0M215.6 413.8h0M208.9 420.9h0M202.5 423.8h0M209.0 416.0h0M203.9 421.3h0M205.0 422.5h0M202.1 423.0h0M200.4 427.1h0M197.9 427.8h0M214.3 413.3h0M198.7 427.9h0M205.8 417.3h0M196.5 430.1h0M207.2 420.2h0M194.5 430.2h0M200.3 426.1h0M203.2 424.3h0M210.2 413.5h0M204.1 423.9h0M203.8 423.9h0M221.5 402.4h0M193.2 430.1h0M220.6 405.6h0M226.6 402.6h0M211.2 416.5h0M218.6 410.5h0M196.8 428.8h0M204.7 423.5h0M196.7 431.5h0M200.6 422.0h0M214.8 410.2h0M203.0 428.5h0M221.0 407.1h0M196.8 432.0h0M197.6 428.2h0M218.7 410.0h0M209.2 413.8h0M194.2 428.5h0M210.2 418.7h0M207.0 421.3h0M218.2 407.7h0M195.9 431.8h0M194.4 430.4h0M219.8 409.0h0M202.2 425.3h0M210.4 415.6h0M223.8 403.2h0M201.3 424.9h0M197.7 428.7h0M217.3 409.6h0M215.6 410.8h0M207.5 422.5h0M208.9 417.0h0M212.4 412.8h0M203.7 424.9h0M206.9 420.8h0M204.9 423.7h0M198.9 428.6h0M224.2 401.5h0M221.1 406.2h0M217.4 406.9h0M220.9 403.2h0M222.3 404.1h0M193.8 430.3h0M221.9 405.5h0M199.7 425.9h0M197.9 429.5h0M208.1 420.6h0M218.1 407.8h0M217.8 407.4h0M201.5 421.4h0M201.3 424.8h0M213.5 414.9h0M201.6 428.2h0M206.1 421.6h0M210.1 414.6h0M219.5 409.2h0M202.5 424.8h0M219.5 407.8h0M199.7 427.8h0M206.5 419.8h0M208.5 416.7h0M204.8 421.1h0M201.7 422.1h0M203.6 424.8h0M201.9 427.4h0M217.5 409.6h0M218.8 407.4h0M194.7 432.2h0M206.6 418.5h0M202.0 425.5h0M197.5 428.7h0M220.1 408.3h0M213.3 415.1h0M218.8 409.8h0M215.1 409.8h0M209.0 415.4h0M216.6 407.7h0M207.7 419.6h0M202.6 422.9h0M204.4 424.0h0M200.2 425.5h0M204.8 418.8h0M208.4 419.3h0M210.8 415.9h0M216.9 412.0h0M201.6 426.8h0M206.6 420.5h0M216.6 409.8h0M214.1 413.5h0M212.4 414.7h0M223.9 403.7h0M208.4 418.7h0M193.6 429.4h0M220.3 407.5h0M208.4 418.4h0M199.5 428.1h0M198.5 428.1h0M214.9 410.0h0M220.0 408.2h0M223.4 404.3h0M208.4 418.0h0M220.3 405.1h0M205.3 419.0h0M210.4 417.1h0M210.1 418.1h0M216.8 408.7h0M210.4 414.9h0M220.1 406.1h0M209.9 415.6h0M199.3 426.5h0M207.9 419.6h0M206.5 419.9h0M201.5 422.4h0M192.0 432.7h0M219.1 407.7h0M208.7 417.5h0M217.7 408.0h0M218.5 408.0h0M211.2 416.9h0M200.0 424.4h0M195.7 426.7h0M219.2 407.4h0M207.2 417.8h0M224.6 402.9h0M198.2 428.4h0M200.8 423.4h0M201.1 425.6h0M194.5 431.0h0M217.5 408.2h0M198.8 425.7h0M199.2 423.1h0" stroke="#5a6ee0" stroke-width="0.9" stroke-linecap="round" stroke-opacity="0.55" fill="none"/><path d="M194.5 430.8h0M196.6 421.0h0M196.4 428.3h0M193.3 435.0h0M199.0 433.3h0M197.4 423.4h0M202.1 433.3h0M194.1 421.7h0M200.8 425.4h0M191.3 427.7h0M199.6 424.5h0M197.1 432.8h0M200.5 420.6h0M200.3 436.5h0M201.3 427.6h0M198.7 420.5h0M194.1 425.6h0M206.9 428.1h0M192.2 436.1h0M202.8 420.2h0M195.9 420.0h0M201.9 417.2h0M205.8 423.0h0M191.9 438.1h0M199.5 429.7h0M201.0 423.3h0M201.1 426.7h0M199.4 429.2h0M203.5 421.9h0M190.2 431.2h0M208.2 430.7h0M196.1 431.3h0M191.1 428.5h0M188.9 428.6h0M200.4 436.2h0M194.5 432.5h0M203.3 423.1h0M195.6 419.2h0M192.7 430.1h0M187.2 426.6h0M200.4 434.9h0M184.9 429.9h0M194.0 417.1h0M192.0 430.9h0M196.8 431.4h0M195.5 431.2h0M192.2 423.4h0M196.1 419.7h0M202.8 426.9h0M192.2 423.9h0M192.3 428.6h0M195.1 432.2h0M191.4 427.7h0M189.7 425.8h0M203.4 427.5h0M201.2 427.8h0M191.7 423.8h0M191.5 429.7h0M198.0 442.1h0M204.9 432.1h0M192.2 428.6h0M192.6 439.3h0M193.4 433.6h0M190.4 431.7h0M191.0 425.8h0M197.7 428.7h0M196.6 427.7h0M192.8 427.5h0M196.6 423.6h0M199.6 428.9h0M193.3 434.3h0M194.2 418.9h0M202.9 426.2h0M203.9 430.1h0M192.6 433.4h0M199.1 432.5h0M197.1 435.5h0M201.3 426.4h0M189.7 427.8h0M197.2 423.3h0" stroke="#5a6ee0" stroke-width="0.9" stroke-linecap="round" stroke-opacity="0.45" fill="none"/><ellipse cx="201.4" cy="425.4" rx="15.2" ry="5.8" fill="#3048dc" fill-opacity="0.75" filter="url(#f2)" transform="rotate(-42 201.4 425.4)"/><path d="M197.3 425.6h0M201.3 419.5h0M213.1 412.2h0M206.2 420.9h0M195.1 434.4h0M209.3 413.7h0M213.6 411.2h0M201.4 423.7h0M215.1 413.8h0M201.5 422.4h0M202.2 420.7h0M210.0 421.2h0M210.8 411.9h0M201.0 424.4h0M193.2 429.2h0M208.7 417.4h0M211.6 421.2h0M197.0 430.0h0M207.7 418.8h0M207.5 419.1h0M198.8 433.6h0M210.8 416.2h0M204.0 421.5h0M221.3 410.9h0M202.5 422.3h0M204.8 416.5h0M213.4 420.6h0M195.5 429.4h0M207.3 423.9h0M209.6 422.2h0M203.2 422.5h0M201.2 425.8h0M197.9 433.4h0M208.3 426.3h0M204.5 418.5h0M204.5 422.4h0M206.4 420.6h0M215.6 415.3h0M195.3 432.3h0M216.1 409.8h0M206.4 424.2h0M212.5 412.3h0M218.1 409.1h0M192.4 429.7h0M192.4 434.1h0M192.1 428.2h0M201.2 428.1h0M195.7 427.7h0M214.9 412.3h0M205.4 419.4h0M200.4 429.6h0M195.4 425.0h0M205.3 425.0h0M195.6 437.8h0M198.2 429.4h0M198.7 434.3h0M212.2 415.0h0M198.7 424.0h0M201.8 420.9h0M193.4 427.4h0M187.9 436.1h0M202.4 412.9h0M196.0 430.1h0M207.7 409.5h0M204.9 421.9h0M194.8 427.4h0M210.0 420.1h0M203.9 420.1h0M207.7 423.5h0M208.0 417.0h0M199.2 416.2h0M210.3 411.4h0M193.1 430.9h0M205.1 412.6h0M191.6 432.9h0M200.1 431.1h0M201.5 422.6h0M204.1 419.6h0M199.9 429.4h0M197.3 431.8h0M217.7 412.8h0M210.1 413.4h0M205.8 421.0h0M210.9 409.5h0M204.2 418.6h0M197.9 429.9h0M192.8 433.3h0M206.2 420.2h0M197.6 430.8h0M208.9 413.7h0M203.4 425.2h0M196.5 429.8h0M214.6 408.2h0M206.3 421.1h0M208.5 414.3h0M205.7 417.6h0M187.9 431.6h0M199.2 425.1h0M213.9 411.4h0M208.4 413.8h0M214.4 413.5h0M197.5 427.1h0M196.0 425.7h0M202.2 422.2h0M204.0 423.0h0M192.9 426.3h0M195.5 427.0h0M197.5 429.9h0M210.7 417.8h0M205.2 425.3h0M203.9 426.8h0M209.3 417.9h0M207.3 412.8h0M192.6 435.9h0M198.0 435.9h0M193.3 430.6h0M202.7 422.7h0M201.7 429.7h0M206.1 426.3h0M196.2 425.2h0M208.5 411.3h0M211.7 411.5h0M212.4 409.8h0M204.3 419.7h0M205.5 422.6h0M206.9 419.2h0M198.0 424.2h0M200.8 432.7h0M198.6 432.5h0M192.4 433.8h0M208.6 412.3h0M208.5 423.4h0M217.2 411.5h0M214.1 409.4h0M213.9 411.3h0M218.7 409.7h0M211.9 415.9h0M186.7 432.9h0M206.0 417.7h0M195.4 429.9h0M201.0 421.0h0M203.0 421.4h0M206.8 417.4h0M205.8 417.6h0M195.8 431.5h0M213.1 413.6h0M200.9 432.3h0M210.8 427.2h0M217.2 414.1h0M216.1 412.3h0M194.3 433.0h0M208.1 420.5h0M212.9 414.8h0M217.6 407.4h0M193.9 432.2h0M211.4 413.3h0M210.1 418.1h0M192.5 432.6h0M203.0 421.0h0M201.3 426.1h0M191.3 432.0h0M213.1 414.0h0M193.4 430.2h0M207.6 420.8h0M208.4 415.1h0M203.8 425.8h0M197.1 430.9h0M212.9 413.8h0M193.0 432.1h0M213.0 409.5h0M190.6 429.3h0M198.0 426.0h0M215.5 410.5h0M208.2 413.2h0M206.9 419.8h0M204.6 420.5h0M214.2 419.5h0M191.0 432.9h0M204.6 414.3h0M212.2 414.2h0M191.5 429.1h0M202.4 427.8h0M204.2 428.8h0M203.5 422.0h0M204.2 429.5h0M201.9 422.7h0M199.2 426.3h0M200.5 428.1h0M201.6 422.1h0M200.1 434.1h0M213.2 409.5h0M196.7 430.0h0M199.8 428.2h0M201.2 410.0h0M203.8 428.7h0M209.9 414.1h0M214.3 417.1h0M204.5 415.8h0M200.1 424.2h0M207.6 417.3h0M203.7 421.7h0M214.0 417.3h0M196.1 436.9h0M201.4 426.7h0M211.7 409.5h0M213.7 412.5h0M210.6 411.7h0M200.7 422.7h0M203.8 425.6h0M209.4 409.9h0M195.7 429.2h0M210.7 415.5h0M207.5 420.9h0M212.5 412.9h0M211.0 418.8h0M191.4 434.5h0M199.8 420.5h0M214.4 411.9h0M198.3 427.0h0M212.5 409.8h0M206.5 420.6h0M216.8 420.5h0M197.2 435.1h0M216.5 417.6h0M206.5 424.2h0M195.5 425.3h0M216.1 411.3h0M206.9 412.2h0M204.6 414.1h0M214.6 412.8h0M203.5 418.4h0M204.5 424.9h0M205.9 415.4h0M195.9 434.6h0M209.0 420.0h0M196.1 433.7h0M199.0 426.3h0M189.9 434.0h0M193.3 433.3h0M205.7 421.3h0" stroke="#3a50d8" stroke-width="0.9" stroke-linecap="round" stroke-opacity="0.5" fill="none"/><ellipse cx="191.8" cy="432.5" rx="7.5" ry="9.5" fill="#1b2fd8" fill-opacity="0.95" filter="url(#f1)" transform="rotate(25 191.8 432.5)"/><ellipse cx="190.8" cy="437" rx="5.6" ry="6.4" fill="#2a8ee0" fill-opacity="0.95" filter="url(#f0_8)"/><ellipse cx="190.8" cy="437.3" rx="4.2" ry="5" fill="#3cc0c0" fill-opacity="0.95" filter="url(#f0_7)"/><ellipse cx="190.8" cy="437.3" rx="3.2" ry="4" fill="#7cc63c" fill-opacity="1" filter="url(#f0_6)"/><ellipse cx="190.8" cy="437.5" rx="1.7" ry="2.3" fill="#e8e23a" fill-opacity="1" filter="url(#f0_5)"/><ellipse cx="190.8" cy="437.5" rx="0.8" ry="1.1" fill="#e2401c" fill-opacity="1" filter="url(#f0_4)"/></g>
<rect x="184.8" y="396" width="47" height="47" fill="none" stroke="#8a8a8a" stroke-width="0.7" />
<text x="183.6" y="442" font-size="2.6" text-anchor="end" fill="#888" style="stroke:none">10<tspan font-size="1.8" dy="-1">1</tspan></text>
<line x1="184" y1="441" x2="184.8" y2="441" stroke="#888" stroke-width="0.4"/>
<text x="183.6" y="432" font-size="2.6" text-anchor="end" fill="#888" style="stroke:none">10<tspan font-size="1.8" dy="-1">2</tspan></text>
<line x1="184" y1="431" x2="184.8" y2="431" stroke="#888" stroke-width="0.4"/>
<text x="183.6" y="422" font-size="2.6" text-anchor="end" fill="#888" style="stroke:none">10<tspan font-size="1.8" dy="-1">3</tspan></text>
<line x1="184" y1="421" x2="184.8" y2="421" stroke="#888" stroke-width="0.4"/>
<text x="183.6" y="412" font-size="2.6" text-anchor="end" fill="#888" style="stroke:none">10<tspan font-size="1.8" dy="-1">4</tspan></text>
<line x1="184" y1="411" x2="184.8" y2="411" stroke="#888" stroke-width="0.4"/>
<text x="183.6" y="402" font-size="2.6" text-anchor="end" fill="#888" style="stroke:none">10<tspan font-size="1.8" dy="-1">5</tspan></text>
<line x1="184" y1="401" x2="184.8" y2="401" stroke="#888" stroke-width="0.4"/>
<text x="187.8" y="446.4" font-size="2.6" text-anchor="middle" fill="#888" style="stroke:none">10<tspan font-size="1.8" dy="-1">1</tspan></text>
<line x1="187.8" y1="443" x2="187.8" y2="443.8" stroke="#888" stroke-width="0.4"/>
<text x="197.33" y="446.4" font-size="2.6" text-anchor="middle" fill="#888" style="stroke:none">10<tspan font-size="1.8" dy="-1">2</tspan></text>
<line x1="197.33" y1="443" x2="197.33" y2="443.8" stroke="#888" stroke-width="0.4"/>
<text x="206.87" y="446.4" font-size="2.6" text-anchor="middle" fill="#888" style="stroke:none">10<tspan font-size="1.8" dy="-1">3</tspan></text>
<line x1="206.87" y1="443" x2="206.87" y2="443.8" stroke="#888" stroke-width="0.4"/>
<text x="216.4" y="446.4" font-size="2.6" text-anchor="middle" fill="#888" style="stroke:none">10<tspan font-size="1.8" dy="-1">4</tspan></text>
<line x1="216.4" y1="443" x2="216.4" y2="443.8" stroke="#888" stroke-width="0.4"/>
<text x="225.94" y="446.4" font-size="2.6" text-anchor="middle" fill="#888" style="stroke:none">10<tspan font-size="1.8" dy="-1">5</tspan></text>
<line x1="225.94" y1="443" x2="225.94" y2="443.8" stroke="#888" stroke-width="0.4"/>
<rect x="199.3" y="398.5" width="31.3" height="26.3" fill="none" stroke="#666" stroke-width="0.6" />
<text x="225.8" y="423.3" font-size="5" text-anchor="end" font-weight="normal" font-style="normal" fill="#222" >4.3%</text>
<text x="0" y="0" font-size="7.9" text-anchor="middle" fill="#111" transform="translate(9.3,439.6) rotate(-90)">CD41/61</text>
<line x1="11.3" y1="430.5" x2="11.3" y2="449.2" stroke="#111" stroke-width="0.9"/>
<line x1="11.3" y1="449.2" x2="29.8" y2="449.2" stroke="#111" stroke-width="0.9"/>
<path d="M10,431 L11.3,428.5 L12.6,431 Z" fill="#111"/>
<path d="M29.3,447.9 L31.8,449.2 L29.3,450.5 Z" fill="#111"/>
<text x="10.4" y="457" font-size="8.1" text-anchor="start" font-weight="normal" font-style="normal" fill="#111" >CD42c</text>
<text x="43.8" y="469.2" font-size="8" text-anchor="middle" font-weight="normal" font-style="normal" fill="#111" >WT</text>
<text x="97" y="461" font-size="8" text-anchor="middle" font-weight="normal" font-style="italic" fill="#111" >SclCre</text>
<text x="97" y="471.2" font-size="8" text-anchor="middle" font-style="italic" fill="#111">Stat3<tspan font-size="4.96" dy="-3.04">fl/fl</tspan></text>
<text x="153.8" y="460" font-size="8" text-anchor="middle" font-weight="normal" font-style="italic" fill="#111" >SclCre</text>
<text x="153.8" y="468.8" font-size="8" text-anchor="middle" font-weight="normal" font-style="italic" fill="#111" >V617F</text>
<text x="153.8" y="477.6" font-size="8" text-anchor="middle" font-style="italic" fill="#111">Stat3<tspan font-size="4.96" dy="-3.04">+/+</tspan></text>
<text x="211.5" y="460" font-size="8" text-anchor="middle" font-weight="normal" font-style="italic" fill="#111" >SclCre</text>
<text x="211.5" y="468.8" font-size="8" text-anchor="middle" font-weight="normal" font-style="italic" fill="#111" >V617F</text>
<text x="211.5" y="477.6" font-size="8" text-anchor="middle" font-style="italic" fill="#111">Stat3<tspan font-size="4.96" dy="-3.04">fl/fl</tspan></text>
<text x="241.8" y="269.1" font-size="12.5" text-anchor="start" font-weight="bold" font-style="normal" fill="#111" >E</text>
<text x="262" y="268.8" font-size="10.7" text-anchor="start" font-weight="normal" font-style="normal" fill="#111" >Quantification of megaka-</text>
<text x="262" y="282.3" font-size="10.7" text-anchor="start" font-weight="normal" font-style="normal" fill="#111" >ryocytes by flow cytometry</text>
<text x="262.6" y="293" font-size="8.9" text-anchor="start" font-weight="normal" font-style="normal" fill="#111" >bone marrow</text>
<text x="243.4" y="297" font-size="8" text-anchor="start" font-weight="normal" font-style="normal" fill="#111" >%</text>
<line x1="252.3" y1="299" x2="252.3" y2="365" stroke="#111" stroke-width="1.3"/>
<line x1="250.3" y1="311.5" x2="252.3" y2="311.5" stroke="#111" stroke-width="1"/>
<text x="249.1" y="314" font-size="7.8" text-anchor="end" font-weight="normal" font-style="normal" fill="#111" >4</text>
<line x1="250.3" y1="338.6" x2="252.3" y2="338.6" stroke="#111" stroke-width="1"/>
<text x="249.1" y="341.1" font-size="7.8" text-anchor="end" font-weight="normal" font-style="normal" fill="#111" >2</text>
<line x1="250.3" y1="364.5" x2="252.3" y2="364.5" stroke="#111" stroke-width="1"/>
<text x="249.1" y="367" font-size="7.8" text-anchor="end" font-weight="normal" font-style="normal" fill="#111" >0</text>
<line x1="252.3" y1="364.5" x2="389" y2="364.5" stroke="#111" stroke-width="1.2"/>
<line x1="270" y1="355.23" x2="270" y2="355.62" stroke="#222" stroke-width="1"/>
<line x1="264.5" y1="355.23" x2="275.5" y2="355.23" stroke="#222" stroke-width="1.1"/>
<rect x="258.9" y="356.02" width="22.2" height="8.48" fill="#050505" stroke="#050505" stroke-width="0.8" />
<line x1="303.3" y1="356.02" x2="303.3" y2="356.55" stroke="#222" stroke-width="1"/>
<line x1="297.8" y1="356.02" x2="308.8" y2="356.02" stroke="#222" stroke-width="1.1"/>
<rect x="292.2" y="356.95" width="22.2" height="7.55" fill="#4a7d27" stroke="#111" stroke-width="0.8" />
<line x1="336.3" y1="359.2" x2="336.3" y2="359.6" stroke="#222" stroke-width="1"/>
<line x1="330.8" y1="359.2" x2="341.8" y2="359.2" stroke="#222" stroke-width="1.1"/>
<rect x="325.2" y="360" width="22.2" height="4.5" fill="#e3050c" stroke="#111" stroke-width="0.8" />
<line x1="370" y1="336.01" x2="370" y2="341.71" stroke="#222" stroke-width="1"/>
<line x1="364.5" y1="336.01" x2="375.5" y2="336.01" stroke="#222" stroke-width="1.1"/>
<rect x="358.9" y="342.11" width="22.2" height="22.39" fill="#0b2cf0" stroke="#111" stroke-width="0.8" />
<line x1="267" y1="324.5" x2="369" y2="324.5" stroke="#1a1a1a" stroke-width="1.1"/>
<circle cx="320" cy="318.5" r="1.3" fill="#111"/>
<line x1="332" y1="313.5" x2="369" y2="313.5" stroke="#1a1a1a" stroke-width="1.1"/>
<circle cx="354.5" cy="307.5" r="1.3" fill="#111"/>
<text x="241" y="387.7" font-size="8" text-anchor="start" font-weight="normal" font-style="normal" fill="#111" >%</text>
<text x="262" y="386.3" font-size="8.9" text-anchor="start" font-weight="normal" font-style="normal" fill="#111" >spleen</text>
<line x1="252.3" y1="387" x2="252.3" y2="453.5" stroke="#111" stroke-width="1.3"/>
<line x1="250.3" y1="400" x2="252.3" y2="400" stroke="#111" stroke-width="1"/>
<text x="249.1" y="402.5" font-size="7.8" text-anchor="end" font-weight="normal" font-style="normal" fill="#111" >4</text>
<line x1="250.3" y1="427" x2="252.3" y2="427" stroke="#111" stroke-width="1"/>
<text x="249.1" y="429.5" font-size="7.8" text-anchor="end" font-weight="normal" font-style="normal" fill="#111" >2</text>
<line x1="250.3" y1="453" x2="252.3" y2="453" stroke="#111" stroke-width="1"/>
<text x="249.1" y="455.5" font-size="7.8" text-anchor="end" font-weight="normal" font-style="normal" fill="#111" >0</text>
<line x1="252.3" y1="453" x2="389" y2="453" stroke="#111" stroke-width="1.2"/>
<line x1="270" y1="444.39" x2="270" y2="446.38" stroke="#222" stroke-width="1"/>
<line x1="264.5" y1="444.39" x2="275.5" y2="444.39" stroke="#222" stroke-width="1.1"/>
<rect x="258.9" y="446.77" width="22.2" height="6.22" fill="#050505" stroke="#050505" stroke-width="0.8" />
<line x1="303.3" y1="439.09" x2="303.3" y2="442.13" stroke="#222" stroke-width="1"/>
<line x1="297.8" y1="439.09" x2="308.8" y2="439.09" stroke="#222" stroke-width="1.1"/>
<rect x="292.2" y="442.53" width="22.2" height="10.47" fill="#4a7d27" stroke="#111" stroke-width="0.8" />
<line x1="336.3" y1="414.57" x2="336.3" y2="420.54" stroke="#222" stroke-width="1"/>
<line x1="330.8" y1="414.57" x2="341.8" y2="414.57" stroke="#222" stroke-width="1.1"/>
<rect x="325.2" y="420.94" width="22.2" height="32.06" fill="#e3050c" stroke="#111" stroke-width="0.8" />
<line x1="370" y1="392.71" x2="370" y2="400" stroke="#222" stroke-width="1"/>
<line x1="364.5" y1="392.71" x2="375.5" y2="392.71" stroke="#222" stroke-width="1.1"/>
<rect x="358.9" y="400.4" width="22.2" height="52.6" fill="#0b2cf0" stroke="#111" stroke-width="0.8" />
<line x1="269" y1="389.5" x2="370.8" y2="389.5" stroke="#1a1a1a" stroke-width="1.1"/>
<circle cx="319" cy="383.5" r="1.3" fill="#111"/>
<line x1="269" y1="400.5" x2="338.5" y2="400.5" stroke="#1a1a1a" stroke-width="1.1"/>
<circle cx="306" cy="395.5" r="1.3" fill="#111"/>
<text x="267.9" y="471" font-size="7.9" text-anchor="middle" font-weight="normal" font-style="normal" fill="#111" >WT</text>
<text x="302" y="471" font-size="7.9" text-anchor="middle" font-weight="normal" font-style="italic" fill="#111" >SclCre</text>
<text x="302" y="480.4" font-size="7.9" text-anchor="middle" font-style="italic" fill="#111">Stat3<tspan font-size="4.9" dy="-3">fl/fl</tspan></text>
<text x="337" y="471" font-size="7.9" text-anchor="middle" font-weight="normal" font-style="italic" fill="#111" >SclCre</text>
<text x="337" y="480.4" font-size="7.9" text-anchor="middle" font-weight="normal" font-style="italic" fill="#111" >V617F</text>
<text x="337" y="489.8" font-size="7.9" text-anchor="middle" font-style="italic" fill="#111">Stat3<tspan font-size="4.9" dy="-3">+/+</tspan></text>
<text x="373.3" y="471" font-size="7.9" text-anchor="middle" font-weight="normal" font-style="italic" fill="#111" >SclCre</text>
<text x="373.3" y="480.4" font-size="7.9" text-anchor="middle" font-weight="normal" font-style="italic" fill="#111" >V617F</text>
<text x="373.3" y="489.8" font-size="7.9" text-anchor="middle" font-style="italic" fill="#111">Stat3<tspan font-size="4.9" dy="-3">fl/fl</tspan></text>
<text x="400.3" y="269.5" font-size="12.5" text-anchor="start" font-weight="bold" font-style="normal" fill="#111" >F</text>
<text x="415" y="269.2" font-size="10.7" text-anchor="start" font-weight="normal" font-style="normal" fill="#111" >Number of CFU-Mk</text>
<text x="415" y="282.7" font-size="10.7" text-anchor="start" font-weight="normal" font-style="normal" fill="#111" >per 1x10<tspan font-size="6.5" dy="-4">5</tspan><tspan dy="4"> cells</tspan></text>
<text x="419.3" y="293.2" font-size="8.9" text-anchor="start" font-weight="normal" font-style="normal" fill="#111" >bone marrow</text>
<line x1="415.5" y1="300" x2="415.5" y2="365.5" stroke="#111" stroke-width="1.3"/>
<line x1="413.5" y1="320.5" x2="415.5" y2="320.5" stroke="#111" stroke-width="1"/>
<text x="412.3" y="323" font-size="8.2" text-anchor="end" font-weight="normal" font-style="normal" fill="#111" >40</text>
<line x1="413.5" y1="342.5" x2="415.5" y2="342.5" stroke="#111" stroke-width="1"/>
<text x="412.3" y="345" font-size="8.2" text-anchor="end" font-weight="normal" font-style="normal" fill="#111" >20</text>
<line x1="413.5" y1="365" x2="415.5" y2="365" stroke="#111" stroke-width="1"/>
<text x="412.3" y="367.5" font-size="8.2" text-anchor="end" font-weight="normal" font-style="normal" fill="#111" >0</text>
<line x1="415.5" y1="365" x2="512.5" y2="365" stroke="#111" stroke-width="1.2"/>
<line x1="426.9" y1="333.54" x2="426.9" y2="337.5" stroke="#222" stroke-width="1"/>
<line x1="422.4" y1="333.54" x2="431.4" y2="333.54" stroke="#222" stroke-width="1.1"/>
<rect x="419.15" y="337.9" width="15.5" height="27.1" fill="#050505" stroke="#050505" stroke-width="0.8" />
<line x1="451.15" y1="328.48" x2="451.15" y2="331.23" stroke="#222" stroke-width="1"/>
<line x1="446.65" y1="328.48" x2="455.65" y2="328.48" stroke="#222" stroke-width="1.1"/>
<rect x="443.4" y="331.63" width="15.5" height="33.37" fill="#4a7d27" stroke="#111" stroke-width="0.8" />
<line x1="475.15" y1="311.32" x2="475.15" y2="319.02" stroke="#222" stroke-width="1"/>
<line x1="470.65" y1="311.32" x2="479.65" y2="311.32" stroke="#222" stroke-width="1.1"/>
<rect x="467.4" y="319.42" width="15.5" height="45.58" fill="#e3050c" stroke="#111" stroke-width="0.8" />
<line x1="499.4" y1="305.16" x2="499.4" y2="310" stroke="#222" stroke-width="1"/>
<line x1="494.9" y1="305.16" x2="503.9" y2="305.16" stroke="#222" stroke-width="1.1"/>
<rect x="491.65" y="310.4" width="15.5" height="54.6" fill="#0b2cf0" stroke="#111" stroke-width="0.8" />
<line x1="424.5" y1="302.5" x2="500" y2="302.5" stroke="#1a1a1a" stroke-width="1.1"/>
<circle cx="462.5" cy="297.5" r="1.3" fill="#111"/>
<line x1="424.5" y1="308.5" x2="472.5" y2="308.5" stroke="#1a1a1a" stroke-width="1.1"/>
<circle cx="450" cy="304.5" r="1.3" fill="#111"/>
<text x="419" y="386.3" font-size="8.9" text-anchor="start" font-weight="normal" font-style="normal" fill="#111" >spleen</text>
<line x1="415.5" y1="388.75" x2="415.5" y2="453.75" stroke="#111" stroke-width="1.3"/>
<line x1="413.5" y1="408.75" x2="415.5" y2="408.75" stroke="#111" stroke-width="1"/>
<text x="412.3" y="411.25" font-size="8.2" text-anchor="end" font-weight="normal" font-style="normal" fill="#111" >40</text>
<line x1="413.5" y1="431.25" x2="415.5" y2="431.25" stroke="#111" stroke-width="1"/>
<text x="412.3" y="433.75" font-size="8.2" text-anchor="end" font-weight="normal" font-style="normal" fill="#111" >20</text>
<line x1="413.5" y1="453.25" x2="415.5" y2="453.25" stroke="#111" stroke-width="1"/>
<text x="412.3" y="455.75" font-size="8.2" text-anchor="end" font-weight="normal" font-style="normal" fill="#111" >0</text>
<line x1="415.5" y1="453.25" x2="512.5" y2="453.25" stroke="#111" stroke-width="1.2"/>
<line x1="426.9" y1="449.07" x2="426.9" y2="449.51" stroke="#222" stroke-width="1"/>
<line x1="422.4" y1="449.07" x2="431.4" y2="449.07" stroke="#222" stroke-width="1.1"/>
<rect x="419.15" y="449.91" width="15.5" height="3.34" fill="#050505" stroke="#050505" stroke-width="0.8" />
<line x1="451.15" y1="449.51" x2="451.15" y2="449.95" stroke="#222" stroke-width="1"/>
<line x1="446.65" y1="449.51" x2="455.65" y2="449.51" stroke="#222" stroke-width="1.1"/>
<rect x="443.4" y="450.35" width="15.5" height="2.9" fill="#4a7d27" stroke="#111" stroke-width="0.8" />
<line x1="475.15" y1="432.57" x2="475.15" y2="433.78" stroke="#222" stroke-width="1"/>
<line x1="470.65" y1="432.57" x2="479.65" y2="432.57" stroke="#222" stroke-width="1.1"/>
<rect x="467.4" y="434.18" width="15.5" height="19.07" fill="#e3050c" stroke="#111" stroke-width="0.8" />
<line x1="499.4" y1="434.55" x2="499.4" y2="437.63" stroke="#222" stroke-width="1"/>
<line x1="494.9" y1="434.55" x2="503.9" y2="434.55" stroke="#222" stroke-width="1.1"/>
<rect x="491.65" y="438.03" width="15.5" height="15.22" fill="#0b2cf0" stroke="#111" stroke-width="0.8" />
<line x1="425" y1="413.5" x2="502.5" y2="413.5" stroke="#1a1a1a" stroke-width="1.1"/>
<circle cx="463" cy="409" r="1.3" fill="#111"/>
<line x1="425" y1="421.5" x2="472.5" y2="421.5" stroke="#1a1a1a" stroke-width="1.1"/>
<circle cx="450" cy="417" r="1.3" fill="#111"/>
<text x="425.5" y="462" font-size="8" text-anchor="middle" font-weight="normal" font-style="normal" fill="#111" >WT</text>
<text x="446.6" y="462" font-size="8" text-anchor="middle" font-weight="normal" font-style="italic" fill="#111" >SclCre</text>
<text x="446.6" y="471.9" font-size="8" text-anchor="middle" font-style="italic" fill="#111">Stat3<tspan font-size="4.96" dy="-3.04">fl/fl</tspan></text>
<text x="474.4" y="462" font-size="8" text-anchor="middle" font-weight="normal" font-style="italic" fill="#111" >SclCre</text>
<text x="474.4" y="471.9" font-size="8" text-anchor="middle" font-weight="normal" font-style="italic" fill="#111" >V617F</text>
<text x="474.4" y="481.8" font-size="8" text-anchor="middle" font-style="italic" fill="#111">Stat3<tspan font-size="4.96" dy="-3.04">+/+</tspan></text>
<text x="504.4" y="462" font-size="8" text-anchor="middle" font-weight="normal" font-style="italic" fill="#111" >SclCre</text>
<text x="504.4" y="471.9" font-size="8" text-anchor="middle" font-weight="normal" font-style="italic" fill="#111" >V617F</text>
<text x="504.4" y="481.8" font-size="8" text-anchor="middle" font-style="italic" fill="#111">Stat3<tspan font-size="4.96" dy="-3.04">fl/fl</tspan></text>
<text x="1.5" y="508" font-size="12.5" text-anchor="start" font-weight="bold" font-style="normal" fill="#111" >G</text>
<text x="20" y="507.7" font-size="10.7" text-anchor="start" font-weight="normal" font-style="normal" fill="#111" >Flow cytometry analysis of</text>
<text x="20" y="521.2" font-size="10.7" text-anchor="start" font-weight="normal" font-style="normal" fill="#111" >granulocytes/monocytes</text>
<text x="5.3" y="530.5" font-size="8.9" text-anchor="start" font-weight="normal" font-style="normal" fill="#111" >bone marrow</text>
<g clip-path="url(#c17)"><ellipse cx="34" cy="575.9" rx="17" ry="10" fill="#aab4ee" fill-opacity="0.4" filter="url(#f2_5)" transform="rotate(-35 34 575.9)"/><ellipse cx="47" cy="565.9" rx="7" ry="12" fill="#8a9ae8" fill-opacity="0.35" filter="url(#f2_5)" transform="rotate(10 47 565.9)"/><path d="M36.0 573.0h0M29.8 572.4h0M17.1 570.3h0M31.4 574.7h0M29.8 572.4h0M37.5 575.6h0M33.3 573.2h0M41.1 576.2h0M33.6 594.5h0M33.6 564.6h0M24.1 579.5h0M18.5 565.3h0M28.9 564.4h0M39.3 580.4h0M27.2 586.6h0M24.0 567.6h0M37.7 577.1h0M27.9 585.2h0M28.7 582.1h0M31.8 586.2h0M34.6 573.2h0M42.9 574.1h0M44.9 566.9h0M30.4 559.2h0M34.4 587.6h0M26.5 580.7h0M28.0 588.4h0M32.8 579.8h0M39.4 564.9h0M35.9 578.0h0M41.1 577.2h0M35.1 576.5h0M21.4 573.0h0M28.4 566.4h0M29.5 573.2h0M45.6 575.0h0M31.0 577.7h0M35.9 564.2h0M14.9 589.5h0M22.7 569.9h0M40.0 579.3h0M23.0 582.9h0M20.2 589.9h0M27.2 579.6h0M29.9 592.2h0M21.7 576.2h0M48.4 560.8h0M25.7 579.2h0M28.1 580.5h0M39.9 568.0h0M24.3 587.4h0M46.8 555.8h0M34.6 584.9h0M24.1 570.1h0M20.2 575.4h0M20.1 582.6h0M24.0 581.1h0M16.5 584.0h0M35.7 584.5h0M32.3 595.2h0M38.3 577.4h0M43.8 574.2h0M31.3 590.0h0M26.0 577.0h0M32.1 578.5h0M28.0 585.0h0M48.6 573.9h0M17.3 573.3h0M18.0 566.9h0M21.1 585.4h0M31.3 582.6h0M29.0 585.1h0M26.5 587.3h0M37.6 578.7h0M17.3 568.3h0M32.2 568.7h0M28.5 575.7h0M41.9 571.6h0M31.1 573.3h0M23.5 580.5h0M38.3 565.7h0M42.9 594.7h0M31.3 581.1h0M21.0 573.8h0M32.7 576.3h0M41.9 570.0h0M27.9 581.2h0M29.4 575.1h0M29.0 580.2h0M13.4 597.6h0M36.4 568.7h0M22.2 568.1h0M33.8 562.3h0M51.1 572.7h0M17.9 593.3h0M30.0 580.9h0M28.4 575.0h0M47.7 561.4h0M32.2 571.2h0M27.1 576.5h0M14.2 581.9h0M31.8 581.4h0M24.9 582.9h0M26.0 583.1h0M41.6 581.9h0M17.6 577.6h0M21.1 592.4h0M31.7 566.9h0M16.9 587.5h0M21.4 580.3h0M27.2 575.9h0M26.2 577.1h0M43.9 570.1h0M34.5 580.8h0M24.3 568.4h0M22.4 581.6h0M31.4 585.1h0M33.2 577.9h0M30.2 578.8h0M30.4 582.3h0M22.6 585.5h0M44.0 576.3h0M34.9 567.7h0M30.9 565.7h0M38.6 577.4h0M39.3 585.9h0M23.7 583.4h0M43.4 594.5h0M29.1 581.3h0M24.6 582.0h0M35.2 588.5h0M28.8 577.5h0M34.3 575.7h0M47.9 559.6h0M15.3 573.1h0M36.0 577.2h0M33.7 565.1h0M35.2 581.3h0M44.2 583.5h0M24.7 571.2h0M20.3 573.2h0M29.2 586.9h0M44.3 577.6h0M35.2 575.7h0M18.9 581.2h0M23.8 564.4h0M22.8 588.7h0M20.1 587.7h0M18.3 576.5h0M34.4 573.9h0M21.7 577.1h0M44.5 582.2h0M31.8 581.5h0M40.3 587.5h0M27.7 570.2h0M21.6 577.5h0M27.5 577.1h0M24.7 596.6h0M24.0 588.2h0M22.6 570.9h0M19.9 568.5h0M15.9 570.6h0M28.0 582.5h0M14.6 580.5h0M29.1 577.0h0M11.4 580.8h0M35.8 586.0h0M27.5 586.8h0M30.7 569.9h0M34.6 584.7h0M32.1 576.8h0M27.9 582.3h0M14.4 579.4h0M18.9 573.0h0M31.8 586.7h0M29.9 569.8h0M53.6 579.6h0M6.6 576.3h0M23.7 572.3h0M39.2 593.7h0M30.9 566.6h0M37.6 577.8h0M26.5 578.6h0M20.0 578.6h0M33.1 586.4h0M47.5 572.1h0M33.3 570.9h0M31.1 586.1h0M35.7 574.7h0M45.7 584.0h0M40.7 577.7h0M41.7 575.9h0M37.6 577.4h0M30.0 564.9h0M38.6 581.6h0M24.6 577.6h0M35.3 582.1h0M12.0 588.7h0M21.1 591.9h0M40.0 578.2h0M31.9 579.3h0M26.5 588.9h0M24.2 572.9h0M28.0 564.6h0M39.1 567.8h0M43.3 584.5h0M47.7 572.4h0M27.4 573.5h0M37.0 570.1h0M27.2 558.9h0M30.5 578.7h0M47.5 570.5h0M38.5 581.5h0M37.8 568.4h0M-0.4 573.3h0M38.5 578.4h0M42.8 594.0h0M23.9 573.9h0M43.5 564.0h0M8.0 579.2h0M33.0 589.0h0M36.5 576.8h0M25.1 562.6h0M34.7 572.3h0M26.7 579.6h0M12.1 576.4h0M24.6 592.8h0M29.0 586.0h0M21.4 564.6h0M37.9 574.3h0M18.2 585.5h0M34.6 563.5h0M28.0 592.9h0M31.1 566.3h0M22.7 588.1h0M43.4 582.5h0M16.7 583.7h0M22.8 573.0h0M25.7 585.6h0M34.6 581.7h0M26.2 573.0h0M39.6 572.2h0M27.6 581.5h0M28.5 584.9h0M35.1 582.2h0M50.6 572.7h0M48.7 566.8h0M23.1 557.2h0M24.1 570.7h0M36.4 587.2h0M50.7 572.8h0M39.6 575.6h0M13.6 543.7h0M26.9 561.5h0M37.8 569.6h0M35.9 571.7h0M34.4 569.4h0M33.7 591.6h0M33.4 566.0h0M23.1 578.1h0M37.3 567.1h0M22.0 564.0h0M45.8 579.4h0M33.0 573.5h0M47.2 581.7h0M29.2 586.9h0M35.3 574.8h0M26.8 577.1h0M42.4 565.6h0M15.3 582.5h0M39.5 588.8h0M35.2 564.9h0M37.4 578.4h0M21.1 564.1h0M16.3 577.6h0M18.6 579.9h0M28.7 582.2h0M37.9 569.6h0M26.7 583.0h0M24.3 585.3h0M35.4 584.3h0M24.7 583.4h0M28.2 578.8h0M35.7 572.5h0M29.7 557.7h0M23.9 582.1h0M20.4 559.9h0M17.3 574.6h0M36.1 581.4h0M17.4 580.3h0M19.2 585.9h0M33.6 571.9h0M25.9 576.4h0M24.9 586.5h0M32.8 572.4h0M34.1 565.8h0M31.5 574.3h0M25.0 576.5h0M32.1 565.1h0M33.3 601.1h0M37.1 572.2h0M33.2 590.5h0M20.5 590.5h0M26.9 592.4h0M22.8 585.5h0M25.0 587.2h0M38.0 579.8h0M22.7 585.5h0M33.4 568.2h0M35.0 575.6h0M29.0 569.0h0M31.9 584.0h0M22.7 583.6h0M14.1 577.9h0M32.4 569.2h0M31.4 566.3h0M46.5 580.2h0M39.6 569.4h0M10.3 576.3h0M41.8 575.7h0M40.2 580.3h0M33.0 585.6h0M24.9 573.6h0M39.6 580.7h0M25.4 568.2h0M43.0 550.6h0M38.0 575.8h0M18.8 580.3h0M34.2 595.6h0M32.6 556.5h0M22.0 583.2h0M25.9 576.5h0M29.3 588.7h0M32.9 575.7h0M24.5 585.2h0M24.1 580.4h0M33.7 583.1h0M36.8 579.3h0M47.1 583.4h0M23.6 569.6h0M24.1 587.8h0M20.6 589.8h0M33.7 572.2h0M21.5 576.2h0M36.6 576.4h0M36.2 578.4h0M41.7 573.0h0M28.9 567.8h0M27.3 568.9h0M17.1 575.2h0M35.9 558.7h0M19.2 565.6h0M33.2 581.6h0M32.8 575.5h0M23.5 578.5h0M22.7 575.1h0M33.5 574.9h0M40.3 559.2h0M16.5 585.1h0M25.2 573.2h0M25.4 576.5h0M28.7 579.9h0M37.9 592.1h0M12.0 576.1h0M22.5 578.7h0M21.5 577.5h0M32.4 576.7h0M32.0 582.3h0M21.1 576.6h0M38.9 584.6h0M38.4 570.2h0M24.4 585.0h0M30.1 579.4h0M27.1 584.4h0M31.5 568.9h0M33.2 574.1h0M27.8 581.6h0M31.3 572.3h0M20.1 573.3h0M28.9 567.3h0M24.8 595.9h0M24.6 577.5h0M19.6 574.4h0M32.1 578.3h0M15.7 577.3h0M21.8 585.9h0M29.2 589.9h0M33.1 567.5h0M38.1 573.0h0M29.1 577.8h0M19.1 586.5h0M31.3 568.6h0M18.4 580.7h0M40.3 580.3h0M32.7 573.6h0M39.3 581.4h0M23.3 572.0h0M11.8 586.4h0M55.3 576.0h0M33.7 583.2h0M28.2 594.4h0M21.5 570.2h0M43.7 584.4h0M36.4 576.1h0M29.6 578.2h0M33.6 572.1h0M38.8 591.2h0M25.6 569.3h0M31.1 597.0h0M21.9 587.9h0M24.3 570.9h0M39.2 575.6h0M29.7 582.7h0M39.6 578.9h0M43.2 571.5h0M25.6 582.6h0M35.5 563.0h0M27.4 582.6h0M28.7 591.6h0M16.6 578.7h0" stroke="#6f82e4" stroke-width="0.9" stroke-linecap="round" stroke-opacity="0.5" fill="none"/><ellipse cx="30" cy="578" rx="10" ry="8" fill="#9aa6ea" fill-opacity="0.3" filter="url(#f2)"/><path d="M30.5 545.7h0M37.4 564.3h0M35.3 557.4h0M49.7 552.4h0M33.0 548.1h0M53.2 547.2h0M59.5 553.9h0M39.5 584.8h0M28.0 581.1h0M25.3 559.5h0M46.3 569.2h0M43.8 568.9h0M57.8 545.6h0M32.2 575.7h0M23.5 556.7h0M67.6 581.4h0M45.8 566.1h0M38.2 554.4h0M30.2 553.2h0M25.6 566.8h0M44.8 553.8h0M41.5 549.1h0M44.3 561.2h0M39.2 567.5h0M54.8 567.7h0M32.7 567.1h0M44.5 571.6h0M51.9 555.2h0M26.5 572.8h0M27.2 570.7h0M70.8 580.3h0M23.4 555.2h0M44.5 561.8h0M47.9 568.2h0M43.8 571.9h0M22.3 579.1h0M24.0 554.5h0M12.7 565.2h0M44.6 560.7h0M26.5 538.8h0M46.4 551.2h0M35.9 568.1h0M39.3 570.2h0M58.8 573.8h0M28.5 564.7h0M37.4 554.8h0M47.5 560.5h0M42.7 573.0h0M63.9 557.9h0M48.2 591.3h0M58.2 568.9h0M31.7 567.2h0M33.0 560.2h0M20.4 561.8h0M17.2 577.2h0M46.0 560.3h0M40.4 566.7h0M37.2 568.8h0M38.0 570.8h0M30.8 566.1h0M59.2 555.4h0M30.9 576.7h0M43.7 567.2h0M42.2 560.3h0M34.0 571.5h0M42.1 573.1h0M45.2 592.5h0M41.1 582.4h0M41.8 592.7h0M51.3 556.2h0M58.2 558.5h0M51.6 556.2h0M44.2 567.3h0M56.4 539.3h0M18.1 577.3h0M48.7 559.2h0M41.2 544.2h0M35.7 557.4h0M50.2 568.5h0M38.3 579.5h0M32.7 574.7h0M37.4 571.0h0M36.7 582.5h0M35.1 589.9h0M49.2 555.4h0M35.0 581.7h0M56.9 550.8h0M42.0 573.1h0M67.3 573.6h0M37.8 576.8h0M41.0 555.1h0M39.6 562.8h0M37.7 566.6h0M44.2 556.1h0M47.9 546.4h0M47.8 571.5h0M45.0 547.5h0M34.4 568.1h0M45.5 574.7h0M22.6 565.9h0M52.5 551.5h0M26.2 560.0h0M37.0 562.5h0M54.5 569.1h0M18.2 575.2h0M41.2 576.0h0M39.8 582.5h0M41.8 559.8h0M26.4 576.9h0M38.5 544.5h0M49.8 581.5h0M16.1 572.6h0M47.6 586.6h0M54.2 556.7h0M45.4 574.7h0M23.2 583.2h0M45.8 576.0h0M29.9 575.8h0M39.6 562.0h0M40.5 569.9h0" stroke="#9aa6ea" stroke-width="0.9" stroke-linecap="round" stroke-opacity="0.45" fill="none"/><path d="M45.2 563.8h0M50.4 577.8h0M50.0 559.3h0M44.5 572.3h0M46.9 567.7h0M50.4 567.6h0M44.1 557.3h0M47.1 572.6h0M48.2 573.8h0M45.5 556.4h0M46.6 560.7h0M51.6 572.2h0M49.9 566.3h0M47.9 567.6h0M44.1 567.6h0M47.6 569.9h0M48.0 561.2h0M49.2 574.6h0M49.4 566.3h0M48.6 554.7h0M49.6 558.6h0M45.3 568.4h0M49.6 561.7h0M47.0 567.0h0M48.0 553.1h0M44.7 580.4h0M47.7 574.7h0M43.4 576.3h0M48.1 570.7h0M48.1 564.3h0M48.8 563.5h0M44.9 564.9h0M44.3 568.7h0M48.6 560.3h0M50.0 568.0h0M49.2 565.2h0M50.3 560.9h0M48.2 554.6h0M49.1 570.9h0M48.4 566.3h0M45.9 568.0h0M46.6 568.2h0M49.2 568.4h0M47.9 563.6h0M45.9 564.5h0M49.1 560.9h0M47.6 559.3h0M47.4 566.1h0M49.5 559.8h0M47.8 557.9h0M49.8 566.5h0M45.4 576.8h0M45.7 570.0h0M49.0 564.5h0M48.8 559.4h0M47.9 572.6h0M44.0 574.5h0M44.2 562.8h0M48.8 565.0h0M41.9 572.1h0M47.8 558.7h0M47.8 560.3h0M46.1 561.6h0M51.0 557.6h0M48.8 564.9h0M50.9 561.2h0M48.1 568.8h0M46.6 572.9h0M49.7 564.6h0M48.3 573.1h0M46.9 557.9h0M47.1 575.2h0M45.9 562.0h0M48.2 577.6h0M42.7 572.5h0M48.7 558.1h0M48.7 575.4h0M47.6 571.4h0M51.0 564.1h0M48.2 561.6h0M46.1 563.8h0M46.3 554.9h0M47.4 571.3h0M48.3 556.8h0M46.3 560.5h0M48.7 573.1h0M49.3 569.8h0M47.8 576.1h0M47.4 552.1h0M46.8 567.5h0M44.4 566.3h0M48.6 564.9h0M49.3 572.4h0M42.9 576.2h0M48.2 567.3h0M50.4 566.1h0M46.7 579.1h0M45.5 559.3h0M49.4 559.5h0M45.9 568.8h0M54.5 558.1h0M44.5 567.3h0M51.8 565.3h0M46.7 563.3h0M49.3 562.5h0M45.5 564.8h0M46.7 567.3h0M44.6 561.7h0M49.1 556.9h0M47.7 572.9h0M46.7 574.3h0M45.9 565.0h0M45.2 570.5h0M46.0 578.8h0M45.7 556.9h0M47.0 567.8h0M50.7 570.9h0M49.2 567.1h0M45.7 577.9h0M45.2 568.2h0M44.6 572.5h0M48.6 563.0h0M50.2 559.9h0M47.3 561.6h0M47.0 566.0h0M46.0 567.6h0M50.8 555.4h0M45.5 575.4h0M47.4 561.0h0M48.9 555.8h0M45.2 559.0h0M45.1 575.0h0M46.6 555.4h0M46.0 578.6h0M46.9 566.1h0M49.8 566.0h0M47.0 570.7h0M52.3 562.2h0M45.9 574.8h0M45.9 579.9h0M45.0 579.8h0M49.3 562.8h0M47.8 557.9h0M48.4 565.0h0M47.1 559.9h0M48.3 569.0h0M50.7 571.6h0M45.0 580.3h0M52.5 559.5h0M45.2 572.6h0M52.2 556.6h0M48.6 570.6h0M40.6 558.9h0M48.9 566.4h0M46.1 565.2h0M52.6 563.3h0M46.6 567.6h0M47.8 569.7h0M46.4 578.1h0M46.0 558.5h0M51.8 560.0h0M48.9 557.6h0M50.6 572.9h0M47.6 562.9h0M46.6 567.8h0M48.3 565.2h0M44.0 580.5h0M43.9 572.4h0M42.3 578.7h0M44.2 573.2h0M52.0 558.0h0M49.0 559.5h0M50.5 570.9h0M45.1 572.8h0M48.2 575.0h0M47.7 560.5h0M40.8 578.5h0M45.8 559.2h0M47.5 562.5h0M51.0 554.9h0M48.3 562.2h0M43.8 562.9h0M44.2 569.6h0M45.2 577.5h0M48.5 569.1h0M45.7 570.9h0M53.2 555.3h0M44.8 569.1h0M51.4 577.0h0M44.3 566.1h0M45.5 561.2h0M45.6 561.6h0M44.0 576.9h0M47.9 568.1h0M52.1 553.6h0M46.5 575.7h0M45.9 558.7h0M50.6 574.4h0M48.2 568.9h0M49.7 565.6h0M46.1 565.3h0M49.2 573.3h0M48.4 561.6h0M45.8 572.7h0M49.9 556.5h0M50.5 578.4h0M46.6 570.2h0M45.4 571.4h0M52.0 570.3h0M45.7 567.7h0M43.0 560.5h0M45.6 575.0h0M44.9 566.0h0M48.5 564.2h0M49.6 561.1h0M49.5 560.4h0M46.7 558.5h0M50.3 566.9h0M49.4 554.8h0M47.7 568.4h0" stroke="#4a62d6" stroke-width="0.9" stroke-linecap="round" stroke-opacity="0.55" fill="none"/><ellipse cx="47.5" cy="566" rx="3.5" ry="9" fill="#4a62d6" fill-opacity="0.45" filter="url(#f1_5)"/><ellipse cx="23" cy="585.5" rx="6.4" ry="4.8" fill="#4a62d6" fill-opacity="0.55" filter="url(#f1)"/><ellipse cx="23" cy="585.5" rx="4.6" ry="3.45" fill="#3aa2c6" fill-opacity="0.85" filter="url(#f0_8)"/><ellipse cx="23" cy="585.5" rx="3.4" ry="2.55" fill="#7cc63c" fill-opacity="0.95" filter="url(#f0_6)"/><ellipse cx="50.5" cy="554" rx="7.36" ry="4.16" fill="#4a62d6" fill-opacity="0.55" filter="url(#f1)" transform="rotate(-25 50.5 554)"/><ellipse cx="50.5" cy="554" rx="5.29" ry="2.99" fill="#3aa2c6" fill-opacity="0.85" filter="url(#f0_8)" transform="rotate(-25 50.5 554)"/><ellipse cx="50.5" cy="554" rx="3.91" ry="2.21" fill="#7cc63c" fill-opacity="0.95" filter="url(#f0_6)" transform="rotate(-25 50.5 554)"/><ellipse cx="50.5" cy="554" rx="2.3" ry="1.3" fill="#e8e23a" fill-opacity="1" filter="url(#f0_5)" transform="rotate(-25 50.5 554)"/></g>
<rect x="18" y="541.9" width="47.5" height="47.7" fill="none" stroke="#8a8a8a" stroke-width="0.7" />
<text x="16.8" y="588.6" font-size="2.6" text-anchor="end" fill="#888" style="stroke:none">10<tspan font-size="1.8" dy="-1">1</tspan></text>
<line x1="17.2" y1="587.6" x2="18" y2="587.6" stroke="#888" stroke-width="0.4"/>
<text x="16.8" y="578.44" font-size="2.6" text-anchor="end" fill="#888" style="stroke:none">10<tspan font-size="1.8" dy="-1">2</tspan></text>
<line x1="17.2" y1="577.44" x2="18" y2="577.44" stroke="#888" stroke-width="0.4"/>
<text x="16.8" y="568.27" font-size="2.6" text-anchor="end" fill="#888" style="stroke:none">10<tspan font-size="1.8" dy="-1">3</tspan></text>
<line x1="17.2" y1="567.27" x2="18" y2="567.27" stroke="#888" stroke-width="0.4"/>
<text x="16.8" y="558.11" font-size="2.6" text-anchor="end" fill="#888" style="stroke:none">10<tspan font-size="1.8" dy="-1">4</tspan></text>
<line x1="17.2" y1="557.11" x2="18" y2="557.11" stroke="#888" stroke-width="0.4"/>
<text x="16.8" y="547.95" font-size="2.6" text-anchor="end" fill="#888" style="stroke:none">10<tspan font-size="1.8" dy="-1">5</tspan></text>
<line x1="17.2" y1="546.95" x2="18" y2="546.95" stroke="#888" stroke-width="0.4"/>
<text x="21" y="593" font-size="2.6" text-anchor="middle" fill="#888" style="stroke:none">10<tspan font-size="1.8" dy="-1">1</tspan></text>
<line x1="21" y1="589.6" x2="21" y2="590.4" stroke="#888" stroke-width="0.4"/>
<text x="30.65" y="593" font-size="2.6" text-anchor="middle" fill="#888" style="stroke:none">10<tspan font-size="1.8" dy="-1">2</tspan></text>
<line x1="30.65" y1="589.6" x2="30.65" y2="590.4" stroke="#888" stroke-width="0.4"/>
<text x="40.3" y="593" font-size="2.6" text-anchor="middle" fill="#888" style="stroke:none">10<tspan font-size="1.8" dy="-1">3</tspan></text>
<line x1="40.3" y1="589.6" x2="40.3" y2="590.4" stroke="#888" stroke-width="0.4"/>
<text x="49.95" y="593" font-size="2.6" text-anchor="middle" fill="#888" style="stroke:none">10<tspan font-size="1.8" dy="-1">4</tspan></text>
<line x1="49.95" y1="589.6" x2="49.95" y2="590.4" stroke="#888" stroke-width="0.4"/>
<text x="59.6" y="593" font-size="2.6" text-anchor="middle" fill="#888" style="stroke:none">10<tspan font-size="1.8" dy="-1">5</tspan></text>
<line x1="59.6" y1="589.6" x2="59.6" y2="590.4" stroke="#888" stroke-width="0.4"/>
<line x1="37.6" y1="541.9" x2="37.6" y2="589.6" stroke="#444" stroke-width="0.75"/>
<line x1="18" y1="569.2" x2="65.5" y2="569.2" stroke="#444" stroke-width="0.75"/>
<text x="63.5" y="546.7" font-size="5" text-anchor="end" font-weight="normal" font-style="normal" fill="#222" >51.9%</text>
<g clip-path="url(#c18)"><ellipse cx="91.4" cy="575.9" rx="17" ry="10" fill="#aab4ee" fill-opacity="0.4" filter="url(#f2_5)" transform="rotate(-35 91.4 575.9)"/><ellipse cx="104.4" cy="565.9" rx="7" ry="12" fill="#8a9ae8" fill-opacity="0.35" filter="url(#f2_5)" transform="rotate(10 104.4 565.9)"/><path d="M65.9 574.1h0M75.2 585.2h0M86.9 571.4h0M96.8 586.7h0M106.4 581.6h0M74.6 580.2h0M93.0 586.7h0M73.8 583.3h0M92.2 582.6h0M71.0 575.5h0M84.9 577.4h0M94.4 576.1h0M69.0 561.5h0M90.4 572.5h0M85.6 588.5h0M81.2 579.0h0M72.7 569.2h0M91.4 589.0h0M80.0 577.7h0M89.0 575.6h0M86.7 575.9h0M91.5 574.9h0M81.6 567.8h0M78.9 566.8h0M84.7 587.5h0M74.1 572.1h0M78.9 583.1h0M83.2 576.5h0M77.2 577.0h0M82.8 572.5h0M99.0 583.3h0M84.5 581.8h0M107.2 584.3h0M81.1 578.9h0M96.6 583.0h0M83.5 580.0h0M75.7 576.5h0M82.2 577.1h0M98.6 579.4h0M96.7 579.1h0M72.1 589.3h0M81.0 578.2h0M96.2 590.7h0M87.5 589.7h0M81.4 584.5h0M77.6 587.3h0M80.8 584.6h0M74.9 591.1h0M101.1 577.0h0M86.6 571.2h0M84.2 567.2h0M92.7 578.5h0M96.8 579.1h0M83.9 572.3h0M91.9 578.1h0M75.0 566.8h0M94.9 578.3h0M85.4 574.6h0M81.1 579.0h0M87.8 569.2h0M108.9 586.7h0M68.4 579.7h0M96.4 573.7h0M73.4 583.5h0M80.3 579.1h0M101.3 579.1h0M98.3 572.6h0M69.2 575.9h0M82.4 584.7h0M90.1 562.8h0M75.7 575.5h0M79.3 573.8h0M83.0 580.4h0M72.1 571.4h0M77.6 588.9h0M84.4 566.9h0M90.5 586.7h0M71.1 569.1h0M90.2 579.5h0M91.6 592.3h0M92.1 587.3h0M81.5 590.6h0M79.6 581.8h0M67.4 575.7h0M93.3 571.5h0M81.7 561.3h0M82.8 568.3h0M86.6 575.1h0M79.7 576.3h0M82.2 579.0h0M83.6 588.4h0M95.8 558.4h0M98.4 577.3h0M89.3 571.6h0M91.6 583.7h0M80.8 569.8h0M90.8 582.6h0M77.7 561.5h0M75.8 582.3h0M97.7 571.0h0M80.8 570.1h0M89.3 572.5h0M101.5 583.8h0M84.2 575.7h0M95.3 575.7h0M82.5 579.9h0M95.7 590.6h0M82.9 569.0h0M77.7 577.6h0M91.9 557.5h0M92.0 582.3h0M87.9 566.9h0M87.0 574.8h0M77.5 583.9h0M97.5 580.5h0M91.4 587.1h0M86.4 575.5h0M99.8 573.9h0M83.4 581.7h0M82.3 571.2h0M96.1 578.8h0M79.8 574.2h0M91.5 585.6h0M88.0 588.3h0M86.1 591.9h0M94.5 569.6h0M85.4 581.6h0M86.1 570.9h0M90.5 578.4h0M72.7 568.5h0M82.7 586.4h0M85.9 580.4h0M94.9 577.1h0M86.4 578.3h0M94.5 573.6h0M89.7 573.0h0M87.0 587.8h0M79.2 582.8h0M87.0 580.7h0M91.0 579.6h0M90.8 593.6h0M80.1 570.2h0M93.0 582.1h0M104.2 573.9h0M92.8 574.5h0M82.0 574.1h0M79.1 571.3h0M83.5 577.6h0M86.8 585.5h0M78.3 578.2h0M78.5 585.6h0M78.2 576.1h0M79.3 587.6h0M75.6 569.7h0M82.9 576.1h0M78.1 588.0h0M81.4 562.1h0M84.6 568.3h0M80.5 574.9h0M78.3 575.5h0M82.8 583.9h0M108.7 573.3h0M82.3 588.0h0M101.4 585.2h0M84.0 594.5h0M87.1 588.6h0M81.5 569.0h0M98.2 571.8h0M77.1 580.0h0M78.1 584.3h0M87.0 577.3h0M81.4 590.7h0M98.5 588.1h0M74.8 592.3h0M87.3 592.7h0M91.0 573.5h0M71.7 573.5h0M97.0 575.3h0M100.9 568.6h0M92.0 578.0h0M74.0 582.0h0M82.8 576.6h0M68.0 570.8h0M80.5 577.7h0M79.0 595.4h0M82.7 580.6h0M83.4 589.2h0M91.4 587.0h0M72.8 580.2h0M85.0 584.1h0M80.4 580.1h0M77.6 576.1h0M89.4 574.9h0M78.9 577.8h0M89.1 582.3h0M75.9 575.5h0M76.0 570.8h0M107.2 588.7h0M92.5 576.6h0M93.8 591.4h0M97.1 584.8h0M77.5 598.3h0M92.9 585.9h0M89.3 582.0h0M82.7 565.2h0M101.9 599.9h0M90.4 584.4h0M86.1 585.1h0M84.9 578.3h0M91.7 565.2h0M98.5 575.8h0M91.0 583.9h0M100.3 592.6h0M74.7 571.2h0M87.6 565.7h0M91.6 578.0h0M79.2 585.8h0M77.9 573.0h0M86.0 586.0h0M84.4 576.2h0M87.8 576.0h0M69.7 586.4h0M90.3 587.9h0M87.1 582.8h0M71.3 567.9h0M69.0 588.5h0M79.9 589.7h0M89.8 575.3h0M85.1 572.5h0M82.0 581.7h0M91.9 575.0h0M72.0 588.2h0M76.1 584.8h0M72.5 571.6h0M68.3 584.3h0M89.8 604.1h0M102.5 580.0h0M67.7 577.1h0M88.1 581.9h0M87.2 570.8h0M83.1 594.3h0M81.0 575.8h0M75.2 573.9h0M96.4 581.9h0M81.3 576.0h0M93.0 574.3h0M78.7 576.4h0M63.1 588.2h0M78.6 585.1h0M85.6 587.2h0M81.0 598.9h0M90.6 577.2h0M88.5 562.2h0M75.6 562.4h0M83.3 596.5h0M88.7 567.2h0M72.0 582.0h0M91.3 577.3h0M98.6 580.9h0M103.7 585.8h0M104.1 557.6h0M92.4 585.3h0M98.9 583.8h0M89.3 581.6h0M87.5 583.6h0M100.0 566.0h0M81.7 567.2h0M80.5 581.2h0M87.3 582.1h0M92.2 582.5h0M82.7 578.0h0M76.2 575.4h0M84.8 582.0h0M71.6 587.9h0M85.0 566.4h0M84.2 583.6h0M86.5 575.6h0M77.7 580.8h0M87.0 581.4h0M82.2 588.9h0M69.5 578.9h0M71.1 563.3h0M87.2 585.7h0M83.0 582.6h0M84.0 588.3h0M80.3 583.3h0M88.5 566.3h0M95.9 574.3h0M75.4 573.7h0M93.1 575.7h0M92.5 571.4h0M87.8 565.1h0M83.0 589.4h0M80.8 580.4h0M69.4 592.3h0M83.5 582.6h0M82.1 570.7h0M82.4 576.3h0M76.3 577.7h0M76.8 575.0h0M60.4 571.1h0M88.2 580.7h0M83.3 582.3h0M100.6 581.8h0M86.5 578.3h0M88.4 584.1h0M65.8 595.8h0M93.9 582.8h0M80.1 578.1h0M78.7 589.7h0M79.4 566.0h0M83.4 572.1h0M87.1 580.1h0M77.9 566.7h0M82.4 568.6h0M83.6 580.4h0M81.8 580.2h0M81.8 592.1h0M69.7 570.3h0M95.2 569.2h0M90.8 577.2h0M85.3 567.7h0M81.7 577.7h0M66.5 579.1h0M81.3 561.0h0M86.6 576.1h0M71.9 588.0h0M84.1 569.9h0M77.4 581.2h0M80.3 584.5h0M74.2 580.9h0M89.1 583.0h0M78.0 571.3h0M75.1 579.6h0M67.0 601.0h0M82.7 588.4h0M82.3 589.3h0M82.8 586.9h0M93.8 581.2h0M74.1 582.2h0M86.4 576.4h0M83.1 584.4h0M67.0 583.2h0M99.1 573.6h0M95.7 575.2h0M82.4 576.1h0M84.8 572.8h0M79.8 577.1h0M77.0 578.4h0M93.9 572.3h0M86.7 572.9h0M75.0 578.7h0M82.5 586.7h0M91.1 579.6h0M79.4 589.5h0M73.6 572.8h0M91.3 582.0h0M90.4 577.1h0M91.3 588.0h0M68.3 583.0h0M93.4 570.7h0M76.7 581.7h0M90.4 578.7h0M70.8 580.5h0M84.1 575.8h0M93.9 562.0h0M85.9 574.1h0M90.0 576.3h0M99.9 580.2h0M80.3 566.0h0M82.6 578.4h0M98.6 581.7h0M86.6 571.6h0M86.8 571.2h0M72.8 582.3h0M81.1 568.3h0M94.9 588.4h0M88.9 565.9h0M77.7 571.2h0M87.2 605.4h0M92.9 577.9h0M77.7 567.9h0M78.7 580.1h0M82.9 582.7h0M89.6 569.9h0M92.2 579.0h0M98.9 577.7h0M81.9 577.8h0M95.7 582.8h0M95.2 586.9h0M87.9 597.0h0M84.3 577.0h0M94.7 569.7h0M87.8 586.6h0M77.4 563.9h0M72.8 587.6h0M106.7 571.8h0M73.8 568.9h0M98.7 584.7h0M91.0 573.1h0" stroke="#6f82e4" stroke-width="0.9" stroke-linecap="round" stroke-opacity="0.5" fill="none"/><ellipse cx="87" cy="578" rx="10" ry="8" fill="#9aa6ea" fill-opacity="0.3" filter="url(#f2)"/><path d="M101.5 556.0h0M100.4 555.7h0M79.2 559.3h0M98.7 568.4h0M87.6 575.4h0M75.4 541.5h0M100.8 562.8h0M93.5 559.2h0M100.0 567.2h0M109.9 553.5h0M79.4 563.0h0M91.0 561.0h0M69.0 568.9h0M113.5 568.8h0M108.3 571.6h0M97.1 569.2h0M106.7 569.9h0M101.6 563.9h0M85.4 568.7h0M89.4 571.3h0M68.3 585.3h0M109.4 582.4h0M98.7 552.2h0M89.5 550.8h0M98.9 564.8h0M96.1 542.8h0M76.8 538.7h0M110.6 570.5h0M94.9 560.3h0M73.4 560.1h0M89.4 554.7h0M106.0 540.7h0M96.2 574.0h0M103.7 546.9h0M61.6 580.8h0M111.0 562.6h0M91.2 568.5h0M106.9 566.0h0M90.4 567.1h0M98.9 588.7h0M94.7 553.7h0M116.9 582.2h0M111.8 553.5h0M87.6 548.4h0M93.0 580.2h0M105.6 565.1h0M97.3 570.3h0M93.0 552.2h0M86.4 584.1h0M83.6 551.1h0M101.3 560.6h0M90.6 566.4h0M93.1 545.1h0M105.8 567.2h0M114.9 574.6h0M87.9 559.4h0M86.3 538.5h0M103.4 556.6h0M106.4 566.7h0M93.4 583.7h0M83.7 585.3h0M90.4 590.0h0M108.5 558.5h0M115.6 569.6h0M99.0 559.9h0M94.3 559.8h0M90.9 574.0h0M104.6 579.3h0M109.1 563.8h0M103.8 561.7h0M101.8 572.1h0M99.5 555.3h0M81.0 584.9h0M85.6 557.4h0M99.6 560.2h0M100.0 580.8h0M76.8 565.8h0M102.1 548.2h0M103.7 582.1h0M95.5 570.4h0M91.6 576.3h0M89.0 564.8h0M87.2 556.2h0M108.7 564.1h0M105.7 546.0h0M81.0 554.1h0M117.6 578.5h0M121.4 559.5h0M102.3 569.1h0M92.0 571.8h0M94.8 570.4h0M74.1 552.4h0M83.4 584.6h0M105.5 553.4h0M101.0 558.1h0M81.8 553.9h0M130.3 565.8h0M94.0 579.5h0M98.4 551.7h0M120.5 590.8h0M104.5 554.8h0M94.4 566.1h0M82.1 595.9h0M95.3 558.2h0M92.0 560.9h0M65.4 566.4h0M109.0 567.4h0M100.3 563.9h0M74.5 571.7h0M103.2 552.6h0M81.8 557.9h0M79.5 535.5h0M90.4 557.8h0M96.5 578.8h0M84.4 546.5h0M93.9 572.7h0M112.1 575.9h0M96.7 565.3h0M74.7 572.9h0M104.4 563.9h0" stroke="#9aa6ea" stroke-width="0.9" stroke-linecap="round" stroke-opacity="0.45" fill="none"/><path d="M105.9 564.5h0M106.1 557.0h0M104.7 569.9h0M102.4 577.0h0M104.3 574.1h0M109.0 577.6h0M101.3 579.4h0M102.9 568.5h0M102.8 574.6h0M104.4 564.7h0M101.4 575.2h0M107.1 573.5h0M108.8 575.7h0M110.7 567.5h0M107.7 559.6h0M105.1 559.3h0M104.6 560.5h0M101.5 568.5h0M101.3 570.8h0M106.0 565.6h0M103.8 553.7h0M103.5 560.1h0M101.3 570.7h0M102.3 574.2h0M103.2 564.1h0M103.2 576.1h0M106.1 578.3h0M104.7 564.4h0M105.9 571.3h0M105.0 564.3h0M105.8 570.6h0M108.6 564.6h0M105.8 566.5h0M109.7 569.2h0M102.3 559.6h0M102.8 568.0h0M106.2 572.5h0M102.0 563.4h0M106.0 568.1h0M105.7 557.8h0M106.1 575.7h0M103.2 575.6h0M105.3 556.3h0M103.7 563.9h0M104.7 565.2h0M103.5 560.5h0M104.2 570.4h0M102.3 576.7h0M106.9 568.3h0M104.0 576.5h0M104.4 575.1h0M104.9 562.1h0M103.8 577.9h0M104.9 571.0h0M106.8 560.9h0M110.5 565.5h0M103.7 575.9h0M105.3 565.0h0M103.7 574.0h0M104.4 568.1h0M102.7 575.7h0M104.3 560.1h0M100.2 565.1h0M101.1 560.8h0M102.0 571.6h0M105.4 555.5h0M106.3 557.4h0M103.9 563.7h0M104.8 563.0h0M99.4 574.2h0M105.0 579.3h0M104.2 566.8h0M106.7 560.2h0M103.0 560.2h0M109.6 570.0h0M104.0 575.7h0M100.4 573.6h0M107.2 555.9h0M104.1 568.4h0M104.9 572.0h0M108.4 573.6h0M103.8 568.4h0M104.2 569.9h0M104.0 577.9h0M99.8 573.9h0M107.1 558.5h0M102.6 574.2h0M107.1 565.6h0M106.8 556.7h0M103.1 564.7h0M105.9 577.3h0M100.2 567.5h0M103.1 565.0h0M103.5 564.7h0M108.5 557.7h0M106.6 556.7h0M105.3 563.3h0M105.1 567.8h0M107.9 562.2h0M101.2 573.3h0M106.1 568.1h0M105.6 574.1h0M103.3 560.8h0M105.1 569.3h0M106.9 559.4h0M103.2 572.7h0M110.2 568.6h0M105.0 558.1h0M102.8 577.8h0M102.3 576.7h0M103.8 554.4h0M106.2 572.0h0M105.7 562.9h0M108.0 557.6h0M103.7 571.2h0M104.9 576.7h0M103.3 582.2h0M106.6 563.6h0M106.1 572.6h0M102.8 568.4h0M103.3 577.3h0M103.3 570.2h0M102.8 574.7h0M104.7 577.6h0M106.8 579.8h0M109.3 565.6h0M103.8 573.2h0M104.5 569.9h0M103.8 559.0h0M105.3 560.2h0M104.0 560.5h0M106.0 571.3h0M103.8 559.1h0M103.9 558.4h0M102.9 570.9h0M100.4 574.9h0M104.3 574.9h0M101.5 562.1h0M105.3 559.1h0M107.0 572.3h0M102.8 569.7h0M106.5 564.3h0M103.2 569.1h0M101.5 562.7h0M105.3 560.8h0M108.8 576.4h0M106.6 577.5h0M106.0 577.6h0M107.6 556.8h0M104.8 569.1h0M107.1 572.3h0M104.7 573.3h0M102.1 570.2h0M107.8 559.2h0M105.5 574.0h0M102.9 583.4h0M105.8 562.4h0M105.6 570.6h0M107.0 577.0h0M102.2 574.7h0M104.9 569.8h0M104.2 561.4h0M103.7 562.7h0M101.9 559.4h0M105.2 566.3h0M104.8 574.8h0M104.0 557.2h0M107.6 559.7h0M103.1 564.8h0M110.5 557.8h0M108.0 565.1h0M109.7 569.6h0M103.7 557.8h0M103.8 572.6h0M107.8 565.1h0M101.3 571.8h0M102.0 567.4h0M104.5 558.8h0M107.5 565.9h0M108.0 563.1h0M103.6 557.4h0M101.7 562.1h0M107.1 571.0h0M101.5 556.1h0M105.8 563.1h0M105.0 572.4h0M103.7 561.0h0M106.4 575.1h0M103.8 559.3h0M104.7 575.4h0M104.2 557.9h0M105.6 559.2h0M104.8 575.7h0M108.9 562.8h0M98.2 571.5h0M103.0 575.7h0M109.9 572.7h0M103.8 572.3h0M105.5 568.6h0M101.7 568.7h0" stroke="#4a62d6" stroke-width="0.9" stroke-linecap="round" stroke-opacity="0.55" fill="none"/><ellipse cx="104.5" cy="566" rx="3.5" ry="9" fill="#4a62d6" fill-opacity="0.45" filter="url(#f1_5)"/><ellipse cx="81" cy="584" rx="5" ry="4" fill="#4a62d6" fill-opacity="0.55" filter="url(#f1_2)"/><ellipse cx="105.5" cy="562" rx="2" ry="6" fill="#3aa2c6" fill-opacity="0.8" filter="url(#f0_8)"/><ellipse cx="105.5" cy="563" rx="1.3" ry="5" fill="#7cc63c" fill-opacity="0.7" filter="url(#f0_8)"/><ellipse cx="105.8" cy="555" rx="5.28" ry="5.6" fill="#4a62d6" fill-opacity="0.55" filter="url(#f1)"/><ellipse cx="105.8" cy="555" rx="3.79" ry="4.02" fill="#3aa2c6" fill-opacity="0.85" filter="url(#f0_8)"/><ellipse cx="105.8" cy="555" rx="2.8" ry="2.98" fill="#7cc63c" fill-opacity="0.95" filter="url(#f0_6)"/><ellipse cx="105.8" cy="555" rx="1.65" ry="1.75" fill="#e8e23a" fill-opacity="1" filter="url(#f0_5)"/><ellipse cx="105.8" cy="555" rx="0.82" ry="0.88" fill="#e2401c" fill-opacity="1" filter="url(#f0_4)"/></g>
<rect x="75.4" y="541.9" width="47.5" height="47.7" fill="none" stroke="#8a8a8a" stroke-width="0.7" />
<text x="74.2" y="588.6" font-size="2.6" text-anchor="end" fill="#888" style="stroke:none">10<tspan font-size="1.8" dy="-1">1</tspan></text>
<line x1="74.6" y1="587.6" x2="75.4" y2="587.6" stroke="#888" stroke-width="0.4"/>
<text x="74.2" y="578.44" font-size="2.6" text-anchor="end" fill="#888" style="stroke:none">10<tspan font-size="1.8" dy="-1">2</tspan></text>
<line x1="74.6" y1="577.44" x2="75.4" y2="577.44" stroke="#888" stroke-width="0.4"/>
<text x="74.2" y="568.27" font-size="2.6" text-anchor="end" fill="#888" style="stroke:none">10<tspan font-size="1.8" dy="-1">3</tspan></text>
<line x1="74.6" y1="567.27" x2="75.4" y2="567.27" stroke="#888" stroke-width="0.4"/>
<text x="74.2" y="558.11" font-size="2.6" text-anchor="end" fill="#888" style="stroke:none">10<tspan font-size="1.8" dy="-1">4</tspan></text>
<line x1="74.6" y1="557.11" x2="75.4" y2="557.11" stroke="#888" stroke-width="0.4"/>
<text x="74.2" y="547.95" font-size="2.6" text-anchor="end" fill="#888" style="stroke:none">10<tspan font-size="1.8" dy="-1">5</tspan></text>
<line x1="74.6" y1="546.95" x2="75.4" y2="546.95" stroke="#888" stroke-width="0.4"/>
<text x="78.4" y="593" font-size="2.6" text-anchor="middle" fill="#888" style="stroke:none">10<tspan font-size="1.8" dy="-1">1</tspan></text>
<line x1="78.4" y1="589.6" x2="78.4" y2="590.4" stroke="#888" stroke-width="0.4"/>
<text x="88.05" y="593" font-size="2.6" text-anchor="middle" fill="#888" style="stroke:none">10<tspan font-size="1.8" dy="-1">2</tspan></text>
<line x1="88.05" y1="589.6" x2="88.05" y2="590.4" stroke="#888" stroke-width="0.4"/>
<text x="97.7" y="593" font-size="2.6" text-anchor="middle" fill="#888" style="stroke:none">10<tspan font-size="1.8" dy="-1">3</tspan></text>
<line x1="97.7" y1="589.6" x2="97.7" y2="590.4" stroke="#888" stroke-width="0.4"/>
<text x="107.35" y="593" font-size="2.6" text-anchor="middle" fill="#888" style="stroke:none">10<tspan font-size="1.8" dy="-1">4</tspan></text>
<line x1="107.35" y1="589.6" x2="107.35" y2="590.4" stroke="#888" stroke-width="0.4"/>
<text x="117" y="593" font-size="2.6" text-anchor="middle" fill="#888" style="stroke:none">10<tspan font-size="1.8" dy="-1">5</tspan></text>
<line x1="117" y1="589.6" x2="117" y2="590.4" stroke="#888" stroke-width="0.4"/>
<line x1="95.6" y1="541.9" x2="95.6" y2="589.6" stroke="#444" stroke-width="0.75"/>
<line x1="75.4" y1="569.2" x2="122.9" y2="569.2" stroke="#444" stroke-width="0.75"/>
<text x="120.9" y="546.7" font-size="5" text-anchor="end" font-weight="normal" font-style="normal" fill="#222" >74.2%</text>
<g clip-path="url(#c19)"><ellipse cx="149.75" cy="575.9" rx="17" ry="10" fill="#aab4ee" fill-opacity="0.4" filter="url(#f2_5)" transform="rotate(-35 149.75 575.9)"/><ellipse cx="162.75" cy="565.9" rx="7" ry="12" fill="#8a9ae8" fill-opacity="0.35" filter="url(#f2_5)" transform="rotate(10 162.75 565.9)"/><path d="M132.1 583.5h0M144.1 572.6h0M129.0 572.2h0M150.8 577.3h0M138.8 585.6h0M144.3 578.5h0M136.1 566.8h0M139.8 580.2h0M140.2 580.3h0M141.6 575.9h0M143.5 580.6h0M123.8 577.7h0M142.1 574.3h0M152.7 587.0h0M154.3 583.6h0M148.0 578.8h0M150.7 572.6h0M142.8 580.3h0M142.6 567.9h0M143.1 574.5h0M138.1 582.7h0M153.6 578.5h0M133.6 576.4h0M142.2 569.4h0M138.4 578.9h0M138.6 581.3h0M132.1 582.9h0M137.6 578.7h0M144.1 573.7h0M153.3 563.6h0M145.7 582.8h0M141.7 577.2h0M133.6 577.3h0M145.4 573.0h0M144.0 574.8h0M134.7 577.0h0M136.8 584.6h0M136.8 588.7h0M143.7 577.5h0M137.2 581.1h0M134.6 565.4h0M147.7 561.1h0M154.1 573.4h0M158.1 579.5h0M158.6 566.1h0M139.8 579.7h0M138.8 578.2h0M142.4 582.8h0M156.7 560.6h0M149.5 568.5h0M158.6 566.0h0M136.3 581.6h0M142.3 583.0h0M147.2 571.6h0M129.1 586.7h0M141.9 576.7h0M141.0 575.5h0M137.2 578.0h0M146.1 567.8h0M129.5 582.0h0M151.7 573.3h0M142.3 573.7h0M147.5 577.0h0M138.8 571.6h0M147.8 580.5h0M139.9 580.7h0M115.7 574.1h0M145.4 561.6h0M138.5 579.4h0M155.3 580.6h0M132.6 584.5h0M141.3 584.1h0M131.1 564.7h0M129.3 582.2h0M154.6 579.5h0M145.4 576.7h0M145.6 569.6h0M155.0 583.8h0M152.6 576.9h0M151.5 585.2h0M166.7 586.0h0M137.0 571.3h0M151.8 581.5h0M148.8 578.0h0M136.5 578.7h0M130.6 579.8h0M164.6 583.3h0M136.0 570.8h0M165.8 582.7h0M139.1 582.1h0M140.9 569.3h0M145.2 581.6h0M155.7 567.8h0M157.3 575.7h0M125.7 585.3h0M152.9 581.8h0M151.4 570.6h0M148.6 564.8h0M137.9 597.4h0M159.0 580.7h0M148.5 578.3h0M149.7 579.2h0M135.4 574.8h0M126.4 570.8h0M142.4 580.5h0M164.4 564.9h0M163.2 574.3h0M140.0 577.0h0M164.0 569.1h0M140.4 581.9h0M152.6 580.7h0M145.0 585.3h0M134.9 589.9h0M139.4 580.6h0M135.4 572.8h0M153.0 582.1h0M142.2 583.9h0M173.5 558.5h0M125.0 579.1h0M128.2 585.6h0M136.3 577.6h0M136.3 593.8h0M158.0 564.4h0M150.0 575.2h0M157.4 580.2h0M137.1 574.2h0M144.4 590.9h0M144.8 573.5h0M140.3 584.3h0M141.1 591.3h0M152.1 578.8h0M144.9 575.1h0M122.2 586.8h0M157.9 576.1h0M146.5 567.1h0M142.1 579.1h0M143.2 578.1h0M153.1 583.2h0M151.2 573.1h0M139.2 577.7h0M129.2 566.4h0M147.0 577.7h0M144.7 586.9h0M124.2 580.8h0M141.8 567.4h0M150.1 588.7h0M130.3 578.0h0M152.9 578.0h0M139.8 585.3h0M128.1 577.3h0M138.0 577.1h0M132.3 579.1h0M155.4 581.2h0M132.0 573.7h0M137.0 566.1h0M150.7 581.6h0M142.3 589.2h0M150.6 573.1h0M144.3 576.6h0M143.9 588.0h0M155.6 570.2h0M162.1 565.2h0M141.5 596.7h0M150.3 586.9h0M145.3 581.7h0M137.9 589.2h0M142.1 573.6h0M130.3 594.8h0M130.2 569.8h0M148.5 578.0h0M160.0 582.7h0M147.1 571.6h0M149.0 566.5h0M137.0 588.5h0M146.5 568.7h0M138.1 576.7h0M146.9 579.3h0M151.5 554.5h0M150.7 563.1h0M139.8 578.8h0M153.7 572.9h0M131.7 571.3h0M146.4 596.6h0M132.6 573.8h0M137.5 586.6h0M149.2 576.5h0M146.8 590.1h0M141.4 569.0h0M144.3 568.2h0M146.1 584.6h0M140.7 585.1h0M155.2 592.2h0M140.8 582.4h0M151.5 584.2h0M152.8 581.7h0M150.5 585.0h0M148.6 582.4h0M146.7 577.4h0M127.3 577.3h0M144.4 573.6h0M140.0 587.7h0M141.7 560.2h0M139.2 576.9h0M155.4 580.3h0M148.9 573.7h0M138.9 565.5h0M149.9 578.1h0M137.6 578.4h0M154.3 585.2h0M151.4 586.9h0M146.3 577.9h0M144.1 581.7h0M128.5 580.1h0M144.4 571.0h0M139.0 587.0h0M140.5 577.2h0M157.8 570.4h0M143.7 574.6h0M139.4 576.5h0M149.1 575.8h0M152.7 583.7h0M134.3 578.4h0M142.4 567.8h0M127.8 585.8h0M146.8 587.4h0M158.4 583.9h0M147.5 587.9h0M142.9 574.9h0M153.0 583.0h0M139.4 574.7h0M132.5 594.2h0M140.7 574.1h0M138.6 573.9h0M145.2 578.2h0M151.3 558.5h0M145.3 590.9h0M144.5 573.3h0M162.3 573.9h0M150.4 579.8h0M142.8 570.1h0M145.5 579.5h0M160.7 566.1h0M130.0 582.2h0M130.4 555.8h0M141.0 586.8h0M127.4 566.2h0M157.6 571.0h0M136.0 576.6h0M158.7 576.4h0M151.2 576.6h0M134.3 579.9h0M127.6 585.9h0M129.4 578.9h0M124.5 577.1h0M147.8 572.1h0M161.7 577.8h0M148.0 566.4h0M139.4 579.6h0M150.9 582.4h0M131.3 566.3h0M133.8 586.6h0M128.0 568.3h0M145.1 577.4h0M143.4 571.4h0M147.1 576.9h0M142.3 579.6h0M141.9 576.3h0M154.3 583.3h0M144.7 578.9h0M156.4 567.4h0M126.5 578.1h0M128.4 569.5h0M146.0 579.4h0M140.8 571.9h0M130.6 572.3h0M136.5 577.5h0M152.4 575.5h0M133.7 581.1h0M155.0 580.2h0M139.9 574.8h0M141.0 569.7h0M152.3 575.4h0M161.4 587.2h0M139.5 597.7h0M139.6 571.7h0M127.9 577.8h0M147.5 575.0h0M142.9 581.4h0M136.8 577.4h0M141.5 589.5h0M150.0 577.0h0M134.6 576.7h0M136.7 575.0h0M147.1 584.1h0M153.1 573.3h0M145.6 577.5h0M151.6 594.8h0M153.1 584.8h0M146.2 581.8h0M126.0 580.4h0M142.6 577.5h0M150.5 602.1h0M146.4 568.5h0M140.5 584.2h0M150.3 579.3h0M148.9 571.7h0M157.5 561.9h0M140.9 572.0h0M139.8 579.6h0M145.0 585.4h0M161.1 581.8h0M135.6 578.0h0M137.0 571.8h0M140.3 585.2h0M136.8 580.4h0M137.2 584.6h0M154.4 566.8h0M150.6 571.2h0M147.0 577.2h0M151.6 568.2h0M161.1 580.6h0M138.2 587.7h0M156.2 581.9h0M139.5 571.7h0M136.0 590.3h0M144.5 577.7h0M140.7 587.3h0M140.8 584.5h0M128.0 571.9h0M147.0 570.5h0M161.2 562.1h0M147.5 582.0h0M148.0 577.4h0M143.0 605.2h0M146.4 573.1h0M119.7 592.3h0M143.8 591.8h0M143.8 586.4h0M156.2 573.6h0M123.3 587.0h0M161.3 566.4h0M139.5 577.3h0M141.7 582.6h0M143.0 582.5h0M136.7 565.8h0M160.4 579.9h0M147.6 569.0h0M148.1 577.6h0M148.4 578.9h0M153.4 588.7h0M140.8 575.0h0M150.6 566.8h0M137.6 575.1h0M125.1 592.8h0M141.6 576.3h0M133.4 582.2h0M139.9 568.8h0M147.1 589.8h0M130.6 577.7h0M163.5 576.4h0M137.6 590.3h0M146.1 585.1h0M158.8 583.0h0M146.9 592.8h0M130.5 569.2h0M142.0 573.2h0M142.5 563.4h0M129.5 583.5h0M142.3 581.2h0M140.5 577.8h0M130.4 591.6h0M153.4 567.6h0M140.0 580.7h0M140.2 577.6h0M145.9 563.7h0M150.7 581.6h0M135.3 576.5h0M143.2 575.9h0M144.4 566.2h0M144.6 581.2h0" stroke="#6f82e4" stroke-width="0.9" stroke-linecap="round" stroke-opacity="0.5" fill="none"/><ellipse cx="145" cy="578" rx="10" ry="8" fill="#9aa6ea" fill-opacity="0.3" filter="url(#f2)"/><path d="M156.6 570.2h0M145.2 566.6h0M163.6 565.9h0M154.6 565.7h0M158.4 550.1h0M151.3 574.9h0M141.2 571.6h0M146.5 560.1h0M138.6 554.5h0M166.1 548.1h0M153.7 549.2h0M176.2 573.2h0M142.5 551.8h0M148.7 568.9h0M171.9 581.9h0M140.3 567.7h0M163.1 556.7h0M146.3 575.7h0M135.4 565.4h0M151.1 561.6h0M152.3 546.1h0M161.8 559.7h0M175.5 588.0h0M146.5 587.5h0M169.0 555.6h0M148.9 579.0h0M143.3 561.0h0M121.9 548.6h0M138.0 556.7h0M143.3 568.0h0M155.0 560.7h0M135.6 567.8h0M159.4 564.4h0M168.5 559.7h0M162.1 568.1h0M167.8 583.9h0M138.1 544.0h0M164.3 568.7h0M156.1 559.9h0M143.0 579.0h0M157.6 558.8h0M152.6 568.4h0M136.4 557.7h0M158.1 566.7h0M135.5 568.6h0M175.8 572.2h0M136.2 559.7h0M144.6 556.0h0M142.1 558.3h0M150.9 550.6h0M163.0 568.8h0M175.3 574.8h0M163.5 571.0h0M150.7 552.6h0M160.0 566.2h0M144.2 569.8h0M155.9 557.6h0M169.3 559.4h0M153.5 577.4h0M145.8 561.5h0M157.5 561.3h0M146.0 552.0h0M154.8 560.7h0M161.9 576.8h0M151.8 574.1h0M143.6 583.7h0M145.4 563.6h0M147.6 559.4h0M161.5 565.1h0M141.5 574.1h0M152.5 571.8h0M154.6 559.8h0M130.5 561.7h0M141.5 579.2h0M149.4 582.2h0M179.5 578.6h0M180.5 554.4h0M146.1 553.1h0M136.0 550.3h0M162.7 556.0h0M148.1 571.8h0M147.1 583.1h0M166.2 573.4h0M171.9 571.3h0M154.3 577.9h0M164.5 549.6h0M165.2 577.0h0M125.2 588.8h0M154.0 581.5h0M138.1 567.6h0M143.8 555.6h0M155.3 548.5h0M151.8 573.2h0M143.1 552.7h0M158.8 575.8h0M162.9 559.0h0M147.3 581.0h0M162.5 569.0h0M154.8 563.4h0M159.3 573.4h0M152.6 568.4h0M135.6 563.7h0M171.0 567.8h0M135.8 560.0h0M153.1 581.9h0M177.5 564.9h0M150.3 566.8h0M138.9 580.5h0M137.9 573.7h0M146.7 553.4h0M156.0 584.5h0M137.7 567.8h0M143.8 577.6h0M134.6 550.7h0M147.5 550.5h0M163.7 548.2h0M152.8 559.6h0M163.8 559.2h0M149.8 584.8h0M159.7 579.8h0" stroke="#9aa6ea" stroke-width="0.9" stroke-linecap="round" stroke-opacity="0.45" fill="none"/><path d="M159.0 554.5h0M156.2 572.8h0M157.8 562.3h0M165.7 560.9h0M162.5 570.2h0M156.5 573.2h0M161.7 565.3h0M156.1 578.9h0M160.1 581.8h0M160.0 559.7h0M160.1 576.5h0M160.2 563.1h0M159.9 563.5h0M160.6 570.6h0M161.6 578.5h0M157.4 561.9h0M163.1 567.2h0M163.3 561.7h0M161.2 555.4h0M166.9 561.3h0M162.3 567.4h0M161.2 562.5h0M156.8 570.7h0M160.9 566.5h0M158.8 568.5h0M158.6 576.3h0M163.4 559.6h0M157.7 578.0h0M162.3 559.9h0M161.9 562.8h0M158.0 584.0h0M156.2 579.1h0M158.2 571.8h0M163.4 572.5h0M163.4 568.1h0M159.1 567.0h0M162.5 565.1h0M161.3 567.7h0M164.9 582.5h0M157.4 566.7h0M162.7 574.1h0M160.2 570.9h0M165.3 571.3h0M160.2 562.9h0M160.5 576.6h0M159.3 561.0h0M160.4 563.8h0M165.6 564.9h0M158.9 558.6h0M161.5 554.5h0M160.9 575.0h0M164.1 571.1h0M160.4 556.4h0M157.8 563.8h0M160.4 568.9h0M159.9 565.7h0M160.7 563.0h0M159.6 572.4h0M157.3 563.1h0M161.9 580.6h0M161.7 571.4h0M160.6 562.1h0M156.8 563.4h0M160.9 578.5h0M158.2 558.0h0M155.3 559.6h0M158.5 568.8h0M163.5 570.6h0M159.6 562.2h0M159.5 571.6h0M159.9 575.3h0M161.4 569.1h0M162.6 554.7h0M160.6 556.9h0M160.0 572.0h0M154.8 561.0h0M156.4 572.2h0M159.7 574.8h0M161.0 578.3h0M159.9 561.7h0M162.9 570.0h0M156.7 570.3h0M162.7 554.1h0M155.5 572.7h0M160.8 575.0h0M160.2 574.7h0M163.4 573.2h0M159.5 569.0h0M159.4 576.6h0M161.6 560.6h0M159.6 571.4h0M162.3 570.7h0M158.0 558.8h0M163.4 569.4h0M158.8 579.2h0M162.5 572.4h0M160.8 568.9h0M162.4 574.4h0M157.6 561.4h0M159.1 574.8h0M160.3 575.0h0M162.3 558.7h0M159.5 554.6h0M163.6 557.5h0M161.4 581.0h0M159.4 576.7h0M159.0 580.7h0M159.5 573.2h0M162.3 569.0h0M160.9 573.8h0M160.4 574.0h0M163.2 567.6h0M159.6 576.8h0M159.0 576.7h0M165.6 566.7h0M162.0 556.5h0M159.4 556.0h0M159.7 571.5h0M163.1 565.0h0M158.1 576.3h0M157.3 559.9h0M158.7 560.3h0M163.8 562.9h0M161.9 578.6h0M162.4 566.9h0M155.8 562.9h0M161.7 569.7h0M157.0 562.8h0M160.9 564.1h0M165.3 574.4h0M163.4 555.1h0M162.6 574.1h0M160.2 573.1h0M159.4 567.7h0M161.2 563.8h0M161.3 561.1h0M156.9 563.8h0M165.0 558.2h0M163.0 569.4h0M163.3 559.7h0M163.5 563.5h0M161.9 570.5h0M159.9 565.4h0M164.2 563.6h0M162.4 575.8h0M161.5 562.5h0M154.1 570.1h0M161.1 570.2h0M154.3 573.1h0M157.0 573.7h0M158.5 571.1h0M159.7 575.5h0M154.6 569.4h0M160.5 564.7h0M159.5 559.7h0M166.1 571.3h0M161.4 578.6h0M161.7 574.7h0M157.0 561.2h0M159.9 575.8h0M160.2 560.1h0M161.4 561.0h0M156.8 566.2h0M159.7 578.8h0M162.1 574.0h0M158.9 556.7h0M160.8 578.0h0M165.4 559.2h0M161.5 573.0h0M164.2 569.3h0M158.2 568.7h0M155.2 577.4h0M153.5 568.4h0M160.0 572.3h0M160.9 569.1h0M159.0 559.3h0M158.5 579.2h0M157.0 568.0h0M161.4 578.7h0M160.3 557.5h0M162.7 562.4h0M160.0 570.5h0M155.7 569.2h0M165.9 561.3h0M160.0 570.8h0M161.8 569.9h0M162.4 575.8h0M164.3 564.5h0M162.8 567.3h0M163.1 572.2h0M159.1 563.9h0M161.9 579.5h0M165.2 567.0h0M162.4 578.6h0M162.7 573.2h0M161.0 570.0h0M162.8 566.4h0M160.1 571.7h0M157.8 578.0h0M161.2 571.8h0M164.6 573.1h0M162.5 560.0h0M159.7 569.2h0M161.6 573.2h0M162.0 567.5h0M158.6 576.7h0M158.8 570.0h0M159.4 572.3h0M158.6 579.2h0M161.1 570.2h0M160.1 559.3h0M154.8 563.3h0M160.9 572.7h0M157.4 556.4h0M160.8 559.6h0M161.2 568.0h0M157.8 577.8h0M165.7 568.6h0M154.8 576.6h0M157.3 573.6h0M162.2 566.3h0M166.3 562.9h0M163.6 561.2h0M159.9 563.6h0M160.4 569.9h0M156.1 564.7h0M162.0 559.8h0M158.4 566.8h0M157.6 561.8h0M157.3 578.9h0M155.9 559.8h0M161.1 561.5h0M158.6 564.9h0M163.7 565.7h0M160.3 579.0h0M164.2 569.5h0M160.0 561.5h0M161.8 581.8h0M157.4 581.3h0M158.7 556.2h0" stroke="#4a62d6" stroke-width="0.9" stroke-linecap="round" stroke-opacity="0.55" fill="none"/><ellipse cx="160.5" cy="567" rx="4" ry="10" fill="#4a62d6" fill-opacity="0.5" filter="url(#f1_5)"/><ellipse cx="140" cy="584" rx="4" ry="3" fill="#4a62d6" fill-opacity="0.45" filter="url(#f1_2)"/><ellipse cx="160.5" cy="562" rx="2.5" ry="7" fill="#3aa2c6" fill-opacity="0.85" filter="url(#f0_8)"/><ellipse cx="160.5" cy="562" rx="1.6" ry="6" fill="#7cc63c" fill-opacity="0.8" filter="url(#f0_8)"/><ellipse cx="163.5" cy="554.5" rx="7.36" ry="5.12" fill="#4a62d6" fill-opacity="0.55" filter="url(#f1)" transform="rotate(-20 163.5 554.5)"/><ellipse cx="163.5" cy="554.5" rx="5.29" ry="3.68" fill="#3aa2c6" fill-opacity="0.85" filter="url(#f0_8)" transform="rotate(-20 163.5 554.5)"/><ellipse cx="163.5" cy="554.5" rx="3.91" ry="2.72" fill="#7cc63c" fill-opacity="0.95" filter="url(#f0_6)" transform="rotate(-20 163.5 554.5)"/><ellipse cx="163.5" cy="554.5" rx="2.3" ry="1.6" fill="#e8e23a" fill-opacity="1" filter="url(#f0_5)" transform="rotate(-20 163.5 554.5)"/><ellipse cx="163.5" cy="554.5" rx="1.15" ry="0.8" fill="#e2401c" fill-opacity="1" filter="url(#f0_4)" transform="rotate(-20 163.5 554.5)"/></g>
<rect x="133.75" y="541.9" width="47.5" height="47.7" fill="none" stroke="#8a8a8a" stroke-width="0.7" />
<text x="132.55" y="588.6" font-size="2.6" text-anchor="end" fill="#888" style="stroke:none">10<tspan font-size="1.8" dy="-1">1</tspan></text>
<line x1="132.95" y1="587.6" x2="133.75" y2="587.6" stroke="#888" stroke-width="0.4"/>
<text x="132.55" y="578.44" font-size="2.6" text-anchor="end" fill="#888" style="stroke:none">10<tspan font-size="1.8" dy="-1">2</tspan></text>
<line x1="132.95" y1="577.44" x2="133.75" y2="577.44" stroke="#888" stroke-width="0.4"/>
<text x="132.55" y="568.27" font-size="2.6" text-anchor="end" fill="#888" style="stroke:none">10<tspan font-size="1.8" dy="-1">3</tspan></text>
<line x1="132.95" y1="567.27" x2="133.75" y2="567.27" stroke="#888" stroke-width="0.4"/>
<text x="132.55" y="558.11" font-size="2.6" text-anchor="end" fill="#888" style="stroke:none">10<tspan font-size="1.8" dy="-1">4</tspan></text>
<line x1="132.95" y1="557.11" x2="133.75" y2="557.11" stroke="#888" stroke-width="0.4"/>
<text x="132.55" y="547.95" font-size="2.6" text-anchor="end" fill="#888" style="stroke:none">10<tspan font-size="1.8" dy="-1">5</tspan></text>
<line x1="132.95" y1="546.95" x2="133.75" y2="546.95" stroke="#888" stroke-width="0.4"/>
<text x="136.75" y="593" font-size="2.6" text-anchor="middle" fill="#888" style="stroke:none">10<tspan font-size="1.8" dy="-1">1</tspan></text>
<line x1="136.75" y1="589.6" x2="136.75" y2="590.4" stroke="#888" stroke-width="0.4"/>
<text x="146.4" y="593" font-size="2.6" text-anchor="middle" fill="#888" style="stroke:none">10<tspan font-size="1.8" dy="-1">2</tspan></text>
<line x1="146.4" y1="589.6" x2="146.4" y2="590.4" stroke="#888" stroke-width="0.4"/>
<text x="156.05" y="593" font-size="2.6" text-anchor="middle" fill="#888" style="stroke:none">10<tspan font-size="1.8" dy="-1">3</tspan></text>
<line x1="156.05" y1="589.6" x2="156.05" y2="590.4" stroke="#888" stroke-width="0.4"/>
<text x="165.7" y="593" font-size="2.6" text-anchor="middle" fill="#888" style="stroke:none">10<tspan font-size="1.8" dy="-1">4</tspan></text>
<line x1="165.7" y1="589.6" x2="165.7" y2="590.4" stroke="#888" stroke-width="0.4"/>
<text x="175.35" y="593" font-size="2.6" text-anchor="middle" fill="#888" style="stroke:none">10<tspan font-size="1.8" dy="-1">5</tspan></text>
<line x1="175.35" y1="589.6" x2="175.35" y2="590.4" stroke="#888" stroke-width="0.4"/>
<line x1="152" y1="541.9" x2="152" y2="589.6" stroke="#444" stroke-width="0.75"/>
<line x1="133.75" y1="569.2" x2="181.25" y2="569.2" stroke="#444" stroke-width="0.75"/>
<text x="179.25" y="546.7" font-size="5" text-anchor="end" font-weight="normal" font-style="normal" fill="#222" >83.6%</text>
<g clip-path="url(#c20)"><ellipse cx="204.75" cy="575.9" rx="17" ry="10" fill="#aab4ee" fill-opacity="0.4" filter="url(#f2_5)" transform="rotate(-35 204.75 575.9)"/><ellipse cx="217.75" cy="565.9" rx="7" ry="12" fill="#8a9ae8" fill-opacity="0.35" filter="url(#f2_5)" transform="rotate(10 217.75 565.9)"/><path d="M200.6 565.0h0M190.5 555.3h0M206.2 578.9h0M182.9 566.6h0M191.4 590.6h0M202.1 569.5h0M193.2 565.4h0M189.2 564.8h0M213.9 583.4h0M209.4 581.5h0M191.0 585.6h0M202.0 572.5h0M183.0 577.7h0M186.8 575.8h0M179.4 563.9h0M206.4 582.2h0M199.0 575.9h0M199.5 570.6h0M204.7 590.2h0M192.3 566.1h0M197.8 564.7h0M215.5 577.2h0M201.5 579.4h0M193.2 572.2h0M188.0 593.3h0M198.4 586.3h0M211.2 575.7h0M193.1 574.9h0M201.0 570.3h0M206.3 576.0h0M190.8 583.4h0M210.6 571.1h0M196.0 576.6h0M202.5 584.0h0M196.6 570.8h0M192.3 584.7h0M214.4 579.3h0M190.3 597.5h0M208.1 572.3h0M186.3 570.8h0M224.5 587.6h0M188.7 571.9h0M194.4 567.9h0M203.0 569.4h0M195.6 582.4h0M195.5 585.5h0M193.0 587.0h0M191.7 573.3h0M184.5 580.5h0M203.9 578.0h0M210.7 582.9h0M200.9 565.0h0M196.1 580.7h0M186.9 589.3h0M200.7 589.6h0M186.5 591.9h0M210.2 579.0h0M194.6 590.5h0M188.8 576.2h0M207.9 577.2h0M190.3 568.9h0M193.3 587.8h0M222.6 570.2h0M186.7 582.8h0M196.1 574.6h0M196.4 588.3h0M204.7 572.0h0M202.4 568.3h0M207.9 562.0h0M193.8 585.0h0M213.3 581.9h0M179.8 576.3h0M206.2 582.9h0M201.2 573.4h0M180.2 574.1h0M199.1 572.6h0M189.9 580.9h0M194.7 579.3h0M207.5 572.3h0M206.8 569.0h0M205.7 581.0h0M202.3 583.6h0M199.7 564.2h0M213.1 579.6h0M199.6 578.3h0M201.3 576.1h0M185.5 568.6h0M213.9 582.7h0M187.9 590.5h0M200.3 569.1h0M190.7 572.7h0M208.2 583.8h0M195.4 576.0h0M191.3 578.8h0M188.3 584.8h0M196.9 585.3h0M212.0 580.3h0M205.7 553.8h0M189.3 579.8h0M189.8 586.4h0M194.8 576.5h0M178.5 583.2h0M193.1 588.1h0M202.4 577.4h0M205.7 575.8h0M190.3 577.5h0M195.6 586.4h0M191.5 569.4h0M210.1 584.9h0M194.4 578.9h0M183.0 591.0h0M192.8 560.8h0M196.6 581.9h0M203.8 579.8h0M200.0 576.6h0M197.1 576.0h0M220.5 578.5h0M199.1 561.6h0M197.5 582.3h0M204.3 565.6h0M197.2 590.4h0M196.0 576.3h0M203.3 577.2h0M192.9 572.8h0M182.0 579.3h0M203.0 582.7h0M190.9 581.2h0M188.2 565.0h0M203.6 567.8h0M185.1 575.3h0M194.8 590.1h0M207.2 594.4h0M199.5 564.9h0M186.1 580.1h0M185.3 581.3h0M207.4 582.6h0M182.4 586.8h0M213.6 586.1h0M219.4 571.5h0M196.6 584.7h0M207.0 589.7h0M196.4 572.4h0M196.0 572.2h0M198.7 575.2h0M204.9 572.3h0M206.3 571.7h0M209.0 587.6h0M197.6 576.2h0M201.0 581.5h0M188.5 583.5h0M180.9 568.6h0M186.9 579.5h0M190.2 559.1h0M207.7 573.3h0M194.8 580.6h0M201.1 582.6h0M186.1 580.4h0M206.7 583.9h0M211.3 566.4h0M208.9 566.4h0M187.6 579.5h0M219.3 587.5h0M196.6 578.6h0M207.9 568.1h0M194.6 573.2h0M208.8 582.4h0M200.8 587.6h0M195.6 570.7h0M206.2 563.3h0M200.4 577.8h0M183.2 579.5h0M190.0 588.8h0M204.9 585.1h0M206.9 577.9h0M208.1 582.8h0M203.1 586.5h0M216.0 564.5h0M193.7 566.3h0M186.5 583.5h0M189.0 576.3h0M192.8 585.7h0M212.6 578.9h0M191.6 573.4h0M196.2 565.0h0M186.8 579.5h0M200.2 579.3h0M201.0 572.1h0M196.9 569.9h0M200.1 562.0h0M202.7 579.8h0M194.2 579.2h0M207.3 578.5h0M215.5 587.6h0M199.0 576.4h0M187.2 569.4h0M199.8 578.9h0M201.2 591.3h0M201.8 581.1h0M195.9 569.3h0M193.8 577.2h0M204.5 583.4h0M188.8 577.1h0M204.9 566.6h0M195.8 566.4h0M191.7 587.1h0M201.4 595.2h0M188.7 585.2h0M196.5 565.3h0M199.8 579.8h0M195.6 587.6h0M195.2 583.8h0M198.0 573.8h0M201.5 586.4h0M211.1 587.4h0M182.7 567.4h0M195.7 587.4h0M180.9 579.1h0M187.3 584.2h0M207.4 575.8h0M210.4 583.9h0M196.7 589.5h0M217.3 577.3h0M200.4 580.7h0M205.5 574.8h0M196.1 587.4h0M197.0 588.6h0M200.6 591.6h0M211.5 568.9h0M204.4 576.1h0M192.7 585.0h0M207.7 582.2h0M208.1 591.0h0M201.4 583.0h0M202.6 590.0h0M190.3 577.5h0M187.3 573.7h0M201.4 575.3h0M191.4 576.2h0M208.4 594.6h0M199.4 572.3h0M200.0 573.2h0M201.2 583.6h0M215.7 572.2h0M197.0 571.5h0M208.0 570.6h0M210.0 592.5h0M182.8 586.8h0M218.9 579.0h0M197.7 594.2h0M196.3 577.4h0M190.1 583.3h0M210.2 572.0h0M205.8 582.2h0M212.5 577.4h0M191.4 580.0h0M202.5 576.0h0M189.8 583.3h0M183.9 569.0h0M197.2 567.4h0M202.8 565.4h0M196.6 581.5h0M210.5 571.5h0M200.8 587.7h0M191.0 581.2h0M208.5 587.1h0M197.7 581.1h0M191.9 582.6h0M202.2 574.1h0M219.9 583.4h0M190.8 578.5h0M202.7 569.9h0M190.1 584.2h0M197.7 577.7h0M207.7 576.1h0M184.9 569.3h0M196.9 576.7h0M194.8 571.2h0M182.4 576.2h0M202.1 580.4h0M203.9 601.7h0M187.7 573.3h0M199.8 559.0h0M204.6 577.4h0M227.0 577.5h0M197.3 578.3h0M196.2 572.9h0M208.2 580.9h0M201.2 576.1h0M181.1 574.5h0M177.9 573.2h0M201.5 576.1h0M199.0 590.8h0M203.3 586.2h0M195.3 575.6h0M185.6 590.0h0M208.5 577.6h0M202.4 580.2h0M210.6 582.3h0M197.4 569.8h0M176.0 559.5h0M196.0 587.7h0M191.8 576.3h0M203.8 591.0h0M176.9 577.0h0M193.7 584.7h0M194.6 564.2h0M176.8 564.8h0M194.4 569.6h0M185.7 594.0h0M184.5 575.7h0M209.1 578.1h0M179.7 578.2h0M197.9 588.9h0M190.7 565.8h0M194.5 569.2h0M199.9 583.3h0M197.4 577.7h0M187.0 567.0h0M200.8 589.3h0M205.4 597.5h0M189.0 561.0h0M197.6 580.2h0M190.4 562.9h0M210.4 562.9h0M202.7 584.8h0M210.1 577.6h0M206.6 576.1h0M204.8 588.7h0M197.8 564.1h0M202.0 554.0h0M210.8 573.1h0M193.0 586.0h0M206.1 582.0h0M192.8 583.8h0M199.3 575.2h0M190.8 581.9h0M191.1 588.5h0M181.6 570.0h0M199.7 564.4h0M215.0 566.8h0M192.4 574.7h0M199.6 589.2h0M194.1 573.9h0M209.8 577.9h0M205.1 578.4h0M193.3 573.1h0M189.0 571.7h0M199.6 577.6h0M205.2 578.9h0M201.8 571.0h0M183.1 586.2h0M214.4 575.7h0M206.0 570.9h0M189.7 581.1h0M205.9 582.6h0M208.2 578.7h0M196.7 578.8h0M189.9 575.1h0M182.8 568.6h0M205.1 573.6h0M177.2 568.8h0M205.2 577.5h0M197.2 582.7h0M208.6 575.6h0M200.2 594.0h0M203.5 573.7h0M190.4 574.3h0M208.6 561.5h0M203.8 574.6h0M203.8 579.5h0M183.5 574.1h0M179.8 576.8h0M191.0 585.3h0M181.3 580.3h0M189.1 574.0h0M182.4 592.8h0M195.9 578.6h0M219.0 564.1h0M197.1 570.5h0M195.5 574.7h0M202.7 584.0h0M198.6 587.5h0M195.0 567.7h0M182.4 584.8h0M194.8 581.8h0M204.6 570.7h0M209.9 583.9h0M213.1 583.7h0M187.5 582.6h0M199.2 566.5h0M206.0 576.0h0M201.8 591.2h0M210.0 574.7h0M204.7 586.3h0M199.5 586.7h0M203.3 574.4h0M210.9 576.1h0M193.6 575.0h0M181.6 586.5h0M186.9 563.4h0" stroke="#6f82e4" stroke-width="0.9" stroke-linecap="round" stroke-opacity="0.5" fill="none"/><ellipse cx="200" cy="578" rx="10" ry="8" fill="#9aa6ea" fill-opacity="0.3" filter="url(#f2)"/><path d="M212.1 538.6h0M204.5 574.0h0M212.2 569.5h0M204.5 553.5h0M211.5 574.4h0M207.3 576.7h0M178.5 554.0h0M175.9 559.8h0M210.0 549.7h0M201.3 563.9h0M198.0 562.2h0M219.8 565.1h0M220.8 570.3h0M201.7 565.9h0M219.3 558.2h0M200.0 579.8h0M218.2 572.8h0M201.6 562.8h0M212.8 570.0h0M218.7 551.8h0M218.9 552.9h0M196.3 559.2h0M201.5 577.6h0M222.7 590.5h0M199.6 566.9h0M224.1 544.3h0M217.9 587.8h0M220.0 556.2h0M207.0 566.8h0M199.7 552.5h0M222.2 554.5h0M221.0 552.0h0M198.4 537.5h0M177.4 587.5h0M200.2 560.3h0M218.4 547.6h0M208.0 578.7h0M217.9 582.8h0M206.4 546.7h0M208.2 571.4h0M195.4 561.2h0M207.7 591.5h0M200.0 555.5h0M205.7 557.3h0M208.6 558.7h0M192.9 556.5h0M184.6 585.4h0M224.9 563.6h0M210.7 573.3h0M212.0 554.2h0M197.3 574.8h0M204.8 570.1h0M203.2 575.6h0M206.2 568.0h0M215.1 540.6h0M219.2 581.1h0M202.2 545.4h0M212.9 554.3h0M195.9 583.9h0M206.7 552.0h0M192.3 569.7h0M212.2 569.8h0M194.2 556.7h0M207.8 560.3h0M208.9 560.9h0M207.4 567.2h0M215.9 580.6h0M207.5 540.4h0M225.5 546.7h0M211.1 579.5h0M215.7 581.0h0M208.2 591.7h0M214.5 545.1h0M216.9 561.1h0M221.3 556.5h0M218.4 549.4h0M204.7 563.7h0M222.0 555.2h0M212.1 578.5h0M186.1 583.8h0M207.0 567.6h0M231.8 564.3h0M216.9 580.2h0M226.0 579.9h0M200.7 569.6h0M190.6 550.1h0M204.4 561.3h0M201.2 555.7h0M228.8 549.1h0M214.5 549.7h0M211.9 554.7h0M187.4 540.5h0M222.3 580.0h0M204.6 562.9h0M212.2 546.2h0M215.8 601.3h0M202.6 544.9h0M201.0 565.1h0M204.2 586.1h0M215.7 558.0h0M210.9 559.5h0M198.5 583.6h0M205.9 558.0h0M225.4 561.6h0M220.3 532.8h0M216.5 551.3h0M203.3 575.9h0M229.4 537.0h0M224.3 561.3h0M202.2 577.7h0M206.5 558.1h0M205.3 562.2h0M201.8 578.2h0M228.2 553.9h0M200.0 563.3h0M198.7 566.1h0M209.9 564.9h0M199.1 568.6h0M192.6 560.3h0M206.2 565.5h0" stroke="#9aa6ea" stroke-width="0.9" stroke-linecap="round" stroke-opacity="0.45" fill="none"/><path d="M216.0 581.5h0M217.2 569.3h0M221.4 557.9h0M218.2 565.6h0M218.1 567.7h0M219.8 575.5h0M214.2 569.1h0M215.8 572.7h0M215.2 577.3h0M216.6 565.3h0M217.0 564.1h0M216.3 567.3h0M221.6 579.0h0M219.4 573.6h0M220.8 561.9h0M210.4 566.6h0M218.2 575.6h0M215.8 560.7h0M217.8 571.8h0M216.3 574.1h0M216.4 562.4h0M214.7 557.1h0M217.6 567.3h0M216.7 564.7h0M216.5 571.4h0M218.4 574.9h0M214.4 566.1h0M215.8 578.4h0M215.0 575.0h0M215.0 571.3h0M220.6 565.2h0M216.9 578.2h0M222.0 577.2h0M215.3 566.7h0M219.7 569.9h0M220.0 563.8h0M216.2 568.9h0M217.0 570.9h0M217.2 557.3h0M215.0 570.4h0M220.5 560.2h0M217.2 577.6h0M216.9 570.5h0M213.1 565.9h0M216.6 562.2h0M215.5 561.2h0M217.9 563.4h0M218.3 558.3h0M217.5 568.7h0M219.8 566.6h0M215.6 578.5h0M218.8 576.5h0M216.7 571.3h0M220.1 567.7h0M219.7 570.2h0M217.7 564.7h0M213.5 569.2h0M215.4 567.5h0M219.7 556.0h0M217.6 570.0h0M218.7 571.9h0M222.2 580.8h0M214.2 580.4h0M215.2 560.4h0M222.5 560.7h0M214.4 559.1h0M216.6 566.6h0M219.9 568.2h0M217.2 568.8h0M218.4 559.6h0M216.1 577.7h0M217.3 579.0h0M217.8 576.4h0M214.2 578.6h0M218.9 556.6h0M215.7 576.2h0M219.3 574.9h0M216.6 559.8h0M220.1 567.9h0M215.8 579.1h0M215.2 563.3h0M213.7 564.5h0M216.7 566.7h0M218.4 581.1h0M218.8 561.9h0M224.1 560.4h0M213.8 562.4h0M218.2 574.6h0M215.8 564.0h0M216.1 564.7h0M216.6 575.8h0M215.3 572.1h0M215.7 577.3h0M219.4 572.8h0M215.3 562.1h0M218.9 565.5h0M222.2 572.2h0M217.4 559.7h0M218.1 570.9h0M217.1 558.1h0M214.8 568.1h0M221.1 575.0h0M221.1 569.9h0M216.6 560.6h0M213.9 573.0h0M219.2 561.9h0M217.1 577.9h0M219.6 556.0h0M215.6 574.1h0M216.7 574.0h0M220.1 561.5h0M216.2 580.3h0M214.8 570.0h0M217.2 576.2h0M216.4 569.4h0M217.7 567.6h0M215.4 567.3h0M219.4 567.4h0M215.2 578.3h0M218.3 560.4h0M214.2 571.2h0M220.7 562.4h0M218.7 562.2h0M217.7 577.0h0M213.7 564.1h0M216.3 560.5h0M215.7 571.7h0M217.1 569.0h0M214.9 557.2h0M219.6 581.0h0M217.4 570.0h0M214.9 557.5h0M217.0 568.3h0M216.4 563.4h0M219.4 576.2h0M219.2 567.8h0M214.8 566.6h0M215.1 574.1h0M216.8 572.7h0M214.7 578.4h0M217.0 563.1h0M214.3 565.5h0M219.9 567.0h0M220.4 574.8h0M217.0 564.5h0M217.7 568.5h0M219.2 571.8h0M216.8 560.2h0M220.2 560.8h0M217.1 575.9h0M216.9 570.9h0M216.5 558.8h0M217.8 559.0h0M219.6 562.7h0M215.2 571.7h0M217.7 567.7h0M219.3 560.2h0M220.5 564.0h0M216.0 567.1h0M218.1 574.7h0M212.8 570.7h0M217.6 568.3h0M217.4 562.2h0M218.3 562.0h0M214.1 579.6h0M223.2 570.3h0M219.6 563.8h0M213.2 579.6h0M217.4 565.2h0M220.2 561.4h0M220.3 578.4h0M218.4 574.1h0M215.7 572.2h0M212.9 563.7h0M216.2 571.7h0M218.7 561.2h0M218.2 564.4h0M220.4 580.4h0M218.1 567.2h0M217.1 572.2h0M215.6 571.7h0M218.7 562.9h0M219.0 569.6h0M219.0 561.2h0M218.3 578.1h0M217.4 565.7h0M216.6 561.6h0M215.0 570.5h0M218.3 565.4h0M220.4 583.6h0M213.2 559.1h0M221.1 572.3h0M221.1 573.1h0M222.7 576.2h0M216.2 578.7h0M216.6 568.9h0M214.8 571.0h0M218.5 584.1h0M216.9 578.6h0M218.2 570.7h0M218.2 570.3h0M217.3 555.0h0M220.0 576.8h0M218.2 571.9h0M214.6 573.8h0M211.5 573.5h0M219.9 556.8h0M212.6 563.1h0M217.0 568.3h0M218.4 561.8h0M218.4 561.2h0M219.3 569.6h0M218.3 554.8h0M216.6 579.2h0M216.6 566.1h0M215.7 575.8h0M218.4 566.2h0M220.0 576.5h0M219.3 556.4h0M216.5 556.3h0" stroke="#4a62d6" stroke-width="0.9" stroke-linecap="round" stroke-opacity="0.55" fill="none"/><ellipse cx="217.5" cy="567" rx="4" ry="10" fill="#4a62d6" fill-opacity="0.45" filter="url(#f1_5)"/><ellipse cx="194.5" cy="584.5" rx="5" ry="4" fill="#4a62d6" fill-opacity="0.6" filter="url(#f1_2)"/><ellipse cx="218" cy="562" rx="2.5" ry="6.5" fill="#3aa2c6" fill-opacity="0.85" filter="url(#f0_8)"/><ellipse cx="218" cy="562" rx="1.5" ry="5.5" fill="#7cc63c" fill-opacity="0.8" filter="url(#f0_8)"/><ellipse cx="220" cy="554" rx="8" ry="4.48" fill="#4a62d6" fill-opacity="0.55" filter="url(#f1)" transform="rotate(-10 220 554)"/><ellipse cx="220" cy="554" rx="5.75" ry="3.22" fill="#3aa2c6" fill-opacity="0.85" filter="url(#f0_8)" transform="rotate(-10 220 554)"/><ellipse cx="220" cy="554" rx="4.25" ry="2.38" fill="#7cc63c" fill-opacity="0.95" filter="url(#f0_6)" transform="rotate(-10 220 554)"/><ellipse cx="220" cy="554" rx="2.5" ry="1.4" fill="#e8e23a" fill-opacity="1" filter="url(#f0_5)" transform="rotate(-10 220 554)"/><ellipse cx="220" cy="554" rx="1.25" ry="0.7" fill="#e2401c" fill-opacity="1" filter="url(#f0_4)" transform="rotate(-10 220 554)"/></g>
<rect x="188.75" y="541.9" width="47.5" height="47.7" fill="none" stroke="#8a8a8a" stroke-width="0.7" />
<text x="187.55" y="588.6" font-size="2.6" text-anchor="end" fill="#888" style="stroke:none">10<tspan font-size="1.8" dy="-1">1</tspan></text>
<line x1="187.95" y1="587.6" x2="188.75" y2="587.6" stroke="#888" stroke-width="0.4"/>
<text x="187.55" y="578.44" font-size="2.6" text-anchor="end" fill="#888" style="stroke:none">10<tspan font-size="1.8" dy="-1">2</tspan></text>
<line x1="187.95" y1="577.44" x2="188.75" y2="577.44" stroke="#888" stroke-width="0.4"/>
<text x="187.55" y="568.27" font-size="2.6" text-anchor="end" fill="#888" style="stroke:none">10<tspan font-size="1.8" dy="-1">3</tspan></text>
<line x1="187.95" y1="567.27" x2="188.75" y2="567.27" stroke="#888" stroke-width="0.4"/>
<text x="187.55" y="558.11" font-size="2.6" text-anchor="end" fill="#888" style="stroke:none">10<tspan font-size="1.8" dy="-1">4</tspan></text>
<line x1="187.95" y1="557.11" x2="188.75" y2="557.11" stroke="#888" stroke-width="0.4"/>
<text x="187.55" y="547.95" font-size="2.6" text-anchor="end" fill="#888" style="stroke:none">10<tspan font-size="1.8" dy="-1">5</tspan></text>
<line x1="187.95" y1="546.95" x2="188.75" y2="546.95" stroke="#888" stroke-width="0.4"/>
<text x="191.75" y="593" font-size="2.6" text-anchor="middle" fill="#888" style="stroke:none">10<tspan font-size="1.8" dy="-1">1</tspan></text>
<line x1="191.75" y1="589.6" x2="191.75" y2="590.4" stroke="#888" stroke-width="0.4"/>
<text x="201.4" y="593" font-size="2.6" text-anchor="middle" fill="#888" style="stroke:none">10<tspan font-size="1.8" dy="-1">2</tspan></text>
<line x1="201.4" y1="589.6" x2="201.4" y2="590.4" stroke="#888" stroke-width="0.4"/>
<text x="211.05" y="593" font-size="2.6" text-anchor="middle" fill="#888" style="stroke:none">10<tspan font-size="1.8" dy="-1">3</tspan></text>
<line x1="211.05" y1="589.6" x2="211.05" y2="590.4" stroke="#888" stroke-width="0.4"/>
<text x="220.7" y="593" font-size="2.6" text-anchor="middle" fill="#888" style="stroke:none">10<tspan font-size="1.8" dy="-1">4</tspan></text>
<line x1="220.7" y1="589.6" x2="220.7" y2="590.4" stroke="#888" stroke-width="0.4"/>
<text x="230.35" y="593" font-size="2.6" text-anchor="middle" fill="#888" style="stroke:none">10<tspan font-size="1.8" dy="-1">5</tspan></text>
<line x1="230.35" y1="589.6" x2="230.35" y2="590.4" stroke="#888" stroke-width="0.4"/>
<line x1="208" y1="541.9" x2="208" y2="589.6" stroke="#444" stroke-width="0.75"/>
<line x1="188.75" y1="569.2" x2="236.25" y2="569.2" stroke="#444" stroke-width="0.75"/>
<text x="234.25" y="546.7" font-size="5" text-anchor="end" font-weight="normal" font-style="normal" fill="#222" >72.1%</text>
<text x="0" y="0" font-size="7.8" text-anchor="middle" fill="#111" transform="translate(6.6,589) rotate(-90)">Gr1</text>
<line x1="9.4" y1="578.4" x2="9.4" y2="596.9" stroke="#111" stroke-width="0.9"/>
<line x1="9.4" y1="596.9" x2="27.9" y2="596.9" stroke="#111" stroke-width="0.9"/>
<path d="M8.1,578.9 L9.4,576.4 L10.7,578.9 Z" fill="#111"/>
<path d="M27.4,595.6 L29.9,596.9 L27.4,598.2 Z" fill="#111"/>
<text x="8.5" y="605.6" font-size="7.8" text-anchor="start" font-weight="normal" font-style="normal" fill="#111" >MAC1</text>
<text x="43.8" y="611.3" font-size="8" text-anchor="middle" font-weight="normal" font-style="normal" fill="#111" >WT</text>
<text x="95" y="602" font-size="8" text-anchor="middle" font-weight="normal" font-style="italic" fill="#111" >SclCre</text>
<text x="95" y="611" font-size="8" text-anchor="middle" font-style="italic" fill="#111">Stat3<tspan font-size="4.96" dy="-3.04">fl/fl</tspan></text>
<text x="153.5" y="602.3" font-size="8" text-anchor="middle" font-weight="normal" font-style="italic" fill="#111" >SclCre</text>
<text x="153.5" y="611.9" font-size="8" text-anchor="middle" font-weight="normal" font-style="italic" fill="#111" >V617F</text>
<text x="153.5" y="621.5" font-size="8" text-anchor="middle" font-style="italic" fill="#111">Stat3<tspan font-size="4.96" dy="-3.04">+/+</tspan></text>
<text x="211.5" y="602.3" font-size="8" text-anchor="middle" font-weight="normal" font-style="italic" fill="#111" >SclCre</text>
<text x="211.5" y="611.9" font-size="8" text-anchor="middle" font-weight="normal" font-style="italic" fill="#111" >V617F</text>
<text x="211.5" y="621.5" font-size="8" text-anchor="middle" font-style="italic" fill="#111">Stat3<tspan font-size="4.96" dy="-3.04">fl/fl</tspan></text>
<text x="5.6" y="630" font-size="8.9" text-anchor="start" font-weight="normal" font-style="normal" fill="#111" >spleen</text>
<g clip-path="url(#c21)"><ellipse cx="38.5" cy="676.5" rx="22" ry="7" fill="#aab4ee" fill-opacity="0.4" filter="url(#f2_5)"/><ellipse cx="26.5" cy="660.5" rx="9" ry="7" fill="#aab4ee" fill-opacity="0.35" filter="url(#f2_5)"/><ellipse cx="46.5" cy="663.5" rx="12" ry="9" fill="#c0c8f2" fill-opacity="0.3" filter="url(#f2_5)"/><path d="M21.8 660.2h0M28.9 658.2h0M20.5 660.8h0M22.9 666.3h0M24.2 666.9h0M24.5 650.2h0M23.1 656.4h0M24.1 657.2h0M28.7 659.8h0M22.2 669.7h0M22.4 659.1h0M22.3 664.1h0M25.3 661.2h0M30.0 658.5h0M27.8 664.5h0M25.6 658.9h0M23.3 665.6h0M10.2 667.3h0M19.3 664.9h0M26.8 662.8h0M26.7 659.0h0M32.4 661.3h0M28.3 660.2h0M22.4 665.5h0M19.1 660.9h0M19.8 654.4h0M29.1 661.1h0M14.7 660.7h0M36.0 665.4h0M22.9 662.5h0M22.6 662.0h0M23.4 661.8h0M21.7 664.6h0M18.0 653.9h0M15.5 658.2h0M24.6 663.4h0M28.1 654.6h0M16.1 663.6h0M33.1 663.6h0M23.4 665.3h0M32.5 665.2h0M25.1 659.8h0M21.3 659.2h0M17.9 662.5h0M29.3 659.8h0M28.0 663.8h0M23.4 660.8h0M31.7 657.9h0M20.5 659.3h0M20.2 663.4h0M27.2 659.9h0M27.3 653.6h0M24.6 670.9h0M29.0 656.8h0M28.6 658.3h0M27.2 663.9h0M16.8 668.7h0M17.0 659.2h0M27.6 663.6h0M25.2 659.7h0M28.2 662.6h0M22.4 665.7h0M32.1 658.6h0M22.1 656.7h0M18.0 661.8h0M29.0 655.1h0M22.9 662.4h0M21.1 664.7h0M27.2 660.8h0M30.1 662.6h0M29.8 663.6h0M22.8 667.4h0M20.7 662.7h0M22.5 657.7h0M17.6 665.9h0M31.0 665.7h0M14.1 663.8h0M24.7 663.6h0M25.5 663.6h0M26.5 665.6h0M24.9 658.9h0M12.9 662.4h0M13.4 658.7h0M24.0 660.6h0M20.3 668.4h0M16.9 666.1h0M22.6 660.6h0M24.5 663.0h0M15.3 663.2h0M23.3 661.0h0M24.2 660.6h0M29.7 657.4h0M20.2 663.2h0M23.1 664.9h0M9.6 660.1h0M24.5 668.5h0M29.3 657.2h0M29.6 657.6h0M25.7 659.6h0M17.0 664.5h0M27.0 659.8h0M19.8 657.9h0M23.4 665.7h0M21.8 660.8h0M22.1 656.0h0M22.2 658.5h0M30.2 661.8h0M30.6 660.8h0M25.0 666.9h0M26.4 661.4h0M26.6 662.5h0M29.9 658.6h0M21.8 657.4h0M30.3 663.8h0M22.6 663.4h0M33.8 664.4h0M23.7 657.2h0M27.0 671.9h0M30.1 659.8h0M16.2 665.1h0M19.8 659.4h0M35.1 659.4h0M22.9 672.0h0M32.8 651.4h0M28.1 660.1h0M25.0 658.6h0M25.7 663.8h0M22.6 664.4h0M27.9 656.3h0M33.2 661.7h0M28.5 667.0h0M24.0 671.0h0M19.6 656.7h0M22.3 668.7h0M32.3 664.5h0M19.2 659.5h0M23.1 661.5h0M18.3 661.2h0M21.7 662.9h0M19.2 658.8h0M24.8 663.8h0M24.5 661.8h0M23.3 658.5h0M21.9 657.5h0M26.8 662.7h0M23.3 657.5h0M22.0 660.4h0M29.3 659.6h0M25.1 658.3h0M27.4 659.9h0M19.8 653.2h0M22.4 659.6h0M29.9 655.9h0M21.0 656.0h0M28.0 662.1h0M22.2 663.5h0M24.8 659.0h0M23.8 663.5h0M28.7 668.2h0M25.5 661.3h0M24.5 657.7h0M23.2 663.3h0M22.1 659.8h0M17.6 663.5h0M29.4 661.0h0M24.9 661.8h0M24.3 660.1h0M29.0 670.2h0M29.1 662.3h0M22.2 656.0h0M29.2 660.2h0M26.9 658.9h0M11.6 669.5h0M18.0 663.5h0M29.9 654.3h0M24.9 660.6h0M16.3 668.1h0M21.6 663.1h0M24.2 668.7h0M19.5 659.4h0" stroke="#6f82e4" stroke-width="0.9" stroke-linecap="round" stroke-opacity="0.5" fill="none"/><path d="M41.2 682.9h0M38.1 684.7h0M50.8 681.7h0M23.0 676.2h0M20.2 678.1h0M48.1 686.6h0M40.3 683.6h0M33.9 678.9h0M46.2 673.3h0M36.0 676.5h0M40.9 682.4h0M40.3 685.6h0M39.2 685.1h0M40.7 671.8h0M37.8 676.4h0M34.1 670.3h0M35.4 678.6h0M25.8 679.1h0M47.1 680.3h0M45.6 676.4h0M57.0 676.3h0M24.6 680.8h0M44.6 685.3h0M46.3 683.9h0M21.2 680.8h0M31.5 671.3h0M54.5 675.2h0M45.2 683.5h0M34.7 676.0h0M52.7 680.0h0M39.9 680.6h0M41.8 682.5h0M40.0 684.0h0M37.7 674.5h0M29.3 682.3h0M28.2 680.9h0M46.4 677.4h0M37.7 674.9h0M24.4 682.0h0M40.4 675.6h0M33.3 677.2h0M34.4 677.4h0M32.5 689.1h0M32.5 674.6h0M33.6 685.0h0M35.7 682.7h0M34.3 678.3h0M53.9 681.1h0M31.8 682.9h0M22.7 674.0h0M34.8 678.3h0M39.0 675.0h0M42.7 679.2h0M35.2 681.3h0M34.1 684.2h0M28.4 681.2h0M36.3 670.8h0M27.2 678.0h0M42.8 674.8h0M31.6 678.0h0M22.2 677.8h0M48.4 683.8h0M26.6 676.9h0M30.0 671.3h0M62.4 676.9h0M41.2 677.9h0M34.6 673.8h0M26.1 679.3h0M30.2 682.7h0M31.9 681.5h0M43.4 675.1h0M51.0 679.1h0M64.7 677.7h0M49.0 682.9h0M21.2 673.6h0M21.7 683.3h0M37.9 683.8h0M25.7 683.0h0M37.4 682.4h0M44.6 680.4h0M52.7 674.3h0M33.7 684.1h0M26.4 682.9h0M38.2 681.2h0M11.5 676.4h0M45.3 675.2h0M46.4 682.8h0M5.6 680.4h0M25.3 675.7h0M20.1 681.2h0M51.5 690.2h0M53.6 678.1h0M19.9 684.3h0M46.2 680.2h0M22.6 675.1h0M35.0 686.1h0M54.4 676.1h0M18.3 679.5h0M46.6 676.9h0M38.9 683.6h0M19.2 687.4h0M53.3 680.3h0M40.9 682.2h0M29.8 683.0h0M38.6 676.9h0M36.7 678.8h0M32.5 682.9h0M46.3 683.8h0M32.7 682.7h0M34.7 686.8h0M25.9 684.2h0M31.8 673.0h0M45.8 674.6h0M28.1 679.7h0M42.3 679.5h0M42.1 681.1h0M19.6 685.0h0M53.4 677.6h0M45.4 678.8h0M28.5 678.8h0M16.3 677.4h0M45.0 684.1h0M42.9 681.0h0M30.6 683.9h0M58.5 681.4h0M56.8 680.5h0M35.1 683.6h0M39.1 679.1h0M31.8 680.5h0M37.4 673.5h0M43.0 686.9h0M41.7 681.9h0M43.6 683.6h0M46.1 678.7h0M25.4 681.9h0M42.5 677.8h0M34.9 681.9h0M55.0 677.6h0M27.7 680.0h0M29.1 678.0h0M27.5 684.8h0M42.7 680.7h0M55.1 692.9h0M44.3 683.5h0M27.4 682.4h0M31.2 674.0h0M42.2 677.7h0M53.6 679.0h0M34.9 676.6h0M36.1 679.7h0M44.8 677.0h0M30.0 675.8h0M30.5 678.4h0M36.2 677.4h0M47.6 677.1h0M40.5 679.5h0M41.9 680.4h0M33.2 680.0h0M32.2 679.5h0M50.3 683.4h0M52.5 676.7h0M50.8 681.8h0M44.9 679.0h0M56.8 676.5h0M40.5 674.7h0M34.8 681.6h0M40.5 681.1h0M52.0 675.9h0M19.1 684.1h0M21.6 678.8h0M62.9 682.9h0M36.4 683.8h0M28.8 683.0h0M33.6 677.3h0M27.3 677.7h0M40.6 687.3h0M48.1 683.8h0M36.5 686.9h0M36.8 685.8h0M24.7 682.5h0M26.5 678.8h0M35.9 672.8h0M42.0 680.4h0M19.4 679.6h0M36.7 673.8h0M30.8 684.1h0M33.4 679.3h0M36.6 679.2h0M26.2 679.5h0M16.8 680.7h0M34.6 674.7h0M21.6 680.9h0M33.0 677.5h0M31.9 680.9h0M48.9 678.3h0M17.3 676.5h0M27.7 681.7h0M49.8 681.5h0M28.7 683.8h0M33.1 675.3h0M35.8 688.1h0M37.5 677.3h0M45.8 676.9h0M50.1 682.9h0M23.8 678.4h0M33.9 676.9h0M41.7 679.1h0M56.1 681.1h0M48.0 683.9h0M42.6 683.3h0M30.5 684.0h0M48.4 684.3h0M31.9 677.8h0M50.3 679.7h0M65.2 682.1h0M25.6 682.6h0M40.5 672.6h0M31.6 671.4h0M66.1 675.4h0M29.0 678.7h0M29.3 684.8h0M35.1 674.4h0M46.1 681.4h0M22.7 683.7h0M23.6 676.5h0M53.6 678.1h0M38.4 676.8h0M34.7 672.0h0M34.6 676.9h0M47.8 678.3h0M28.8 678.1h0M17.4 681.6h0M18.8 675.1h0M40.6 678.8h0M59.6 674.5h0M41.5 687.1h0M31.0 674.9h0M48.8 687.4h0M29.6 683.3h0M45.1 680.5h0M46.7 678.9h0M44.8 679.0h0M36.1 675.7h0M37.4 679.6h0M28.2 677.1h0M33.8 685.5h0M43.0 682.6h0M52.0 682.8h0M55.8 685.6h0M45.7 679.6h0M39.4 679.7h0M30.0 673.9h0M42.4 674.7h0M45.4 686.9h0M39.1 676.3h0M31.1 682.4h0M37.0 678.3h0M40.8 675.4h0M27.0 681.6h0M30.2 682.5h0M32.8 680.3h0M36.3 685.0h0M35.0 680.3h0M25.9 680.6h0M36.2 681.2h0M16.3 682.5h0M38.8 681.2h0M42.2 684.0h0M27.6 678.0h0M40.6 674.2h0M61.6 672.1h0M43.7 678.1h0M44.8 685.9h0M58.1 677.2h0M38.7 677.0h0M23.3 680.5h0M31.3 675.2h0M34.4 677.6h0M25.8 680.8h0M43.7 681.5h0M30.6 676.5h0M13.5 682.7h0M48.4 676.6h0M23.4 675.3h0M52.9 679.2h0M33.3 680.3h0M38.1 678.8h0M36.1 682.5h0M48.0 675.7h0M36.5 679.7h0M39.9 689.3h0M45.2 682.9h0M36.9 682.2h0M50.9 684.8h0M29.2 680.7h0M41.7 675.8h0M34.3 678.2h0M47.4 680.2h0M59.2 682.1h0M33.4 681.1h0M39.0 676.9h0M41.9 674.6h0M40.0 678.2h0M39.0 677.3h0M56.4 677.4h0M46.4 680.3h0M50.4 677.4h0M24.5 682.7h0M49.1 682.6h0M-2.9 686.6h0M53.5 680.1h0M28.4 682.0h0M19.7 678.8h0M44.5 685.4h0M33.7 679.2h0M23.5 679.5h0M30.6 680.1h0M30.0 681.8h0M36.9 677.4h0M44.1 682.1h0" stroke="#6f82e4" stroke-width="0.9" stroke-linecap="round" stroke-opacity="0.5" fill="none"/><path d="M54.0 653.3h0M58.2 656.0h0M54.4 661.6h0M53.1 649.0h0M52.5 654.8h0M48.2 661.3h0M58.5 650.3h0M56.4 649.1h0M54.9 653.1h0M61.0 646.9h0M53.0 646.7h0M53.1 652.8h0M55.0 658.0h0M51.5 651.9h0M60.7 654.2h0M51.2 654.1h0M50.7 650.6h0M52.9 648.2h0M61.9 652.5h0M55.9 653.0h0M54.6 650.9h0M56.6 652.3h0M51.7 657.5h0M60.8 655.7h0M57.0 652.8h0M55.4 656.8h0M55.1 659.1h0M60.5 654.9h0M55.8 650.8h0M53.3 651.5h0M53.6 650.6h0M56.4 655.3h0M54.4 660.3h0M56.0 653.8h0M55.7 651.7h0M57.9 650.5h0M54.8 661.6h0M56.1 650.0h0M50.6 658.4h0M47.7 660.4h0M60.1 652.2h0M56.0 652.2h0M51.3 655.7h0M52.3 656.3h0M56.2 651.6h0M55.3 654.2h0M54.3 653.2h0M59.7 651.2h0M55.6 658.0h0M56.5 652.4h0M50.6 653.0h0M47.4 652.3h0M54.9 659.0h0M57.4 658.0h0M56.8 654.9h0M48.8 651.8h0M54.1 653.7h0M50.2 648.2h0M55.7 653.0h0M55.0 653.2h0M54.1 649.6h0M58.3 655.5h0M54.9 660.6h0M52.2 657.2h0M54.7 654.1h0M58.3 654.0h0M54.9 649.5h0M56.1 655.5h0M53.3 649.6h0M58.7 654.6h0" stroke="#6f82e4" stroke-width="0.9" stroke-linecap="round" stroke-opacity="0.45" fill="none"/><path d="M50.6 664.4h0M69.6 653.6h0M44.7 666.4h0M38.2 663.1h0M42.5 673.1h0M36.2 655.3h0M48.0 674.4h0M19.2 667.3h0M55.5 670.9h0M28.2 667.7h0M39.6 654.8h0M31.2 662.0h0M30.4 677.6h0M11.0 655.5h0M25.3 676.9h0M33.8 662.6h0M32.0 679.8h0M61.1 667.3h0M21.9 662.5h0M11.4 673.8h0M32.2 675.5h0M27.1 658.1h0M5.9 667.5h0M49.2 644.8h0M20.6 664.3h0M49.0 682.7h0M57.1 667.7h0M15.5 657.3h0M41.8 665.2h0M24.1 664.3h0M36.9 686.2h0M30.6 670.5h0M38.9 672.2h0M25.7 679.0h0M53.1 669.9h0M20.3 655.0h0M32.2 663.9h0M23.1 663.9h0M13.9 663.3h0M16.8 667.7h0M1.6 658.0h0M29.1 651.4h0M28.9 663.1h0M52.4 671.5h0M29.3 672.7h0M34.0 672.6h0M29.0 667.6h0M30.4 673.9h0M58.4 680.1h0M53.8 663.6h0M56.3 662.3h0M34.6 656.7h0M47.5 649.9h0M33.7 671.5h0M19.7 669.6h0M20.3 662.0h0M39.5 678.2h0M62.9 655.7h0M12.3 658.1h0M37.8 664.0h0M17.3 656.8h0M37.7 665.4h0M62.1 654.0h0M27.1 697.5h0M18.2 675.3h0M27.8 666.1h0M51.3 659.7h0M31.4 665.3h0M35.3 681.0h0M54.2 658.9h0M52.0 650.8h0M25.6 658.3h0M26.3 666.5h0M38.4 656.5h0M40.0 658.8h0M41.9 667.6h0M19.6 656.4h0M47.9 664.2h0M38.7 661.8h0M55.7 669.2h0M25.3 666.9h0M20.1 661.1h0M29.9 655.3h0M23.1 674.9h0M22.7 662.8h0M18.2 676.6h0M21.9 671.9h0M43.3 669.9h0M28.1 644.4h0M22.7 662.7h0M15.2 654.0h0M39.1 664.8h0M48.8 669.1h0M52.0 667.5h0M32.8 666.6h0M46.6 673.8h0M43.6 660.5h0M20.7 674.3h0M48.9 655.5h0M35.3 655.8h0M36.0 684.8h0M30.1 661.0h0M34.0 660.7h0M40.0 650.2h0M44.9 657.8h0M35.3 688.2h0M51.4 666.7h0M32.9 669.5h0M47.3 696.3h0M61.5 678.7h0M24.0 678.6h0M32.6 666.6h0M30.1 661.7h0M42.6 666.8h0M44.9 660.2h0M23.1 661.1h0M31.3 668.4h0M59.7 666.3h0M31.5 688.5h0M59.5 673.5h0" stroke="#a0aaee" stroke-width="0.9" stroke-linecap="round" stroke-opacity="0.45" fill="none"/><ellipse cx="24" cy="661" rx="5" ry="4" fill="#4a62d6" fill-opacity="0.25" filter="url(#f1_5)"/><ellipse cx="34" cy="680" rx="12" ry="4" fill="#4a62d6" fill-opacity="0.35" filter="url(#f1_5)"/><ellipse cx="25" cy="680" rx="8.1" ry="6" fill="#4a62d6" fill-opacity="0.55" filter="url(#f1)"/><ellipse cx="25" cy="680" rx="6.21" ry="4.6" fill="#3aa2c6" fill-opacity="0.85" filter="url(#f0_8)"/><ellipse cx="25" cy="680" rx="4.59" ry="3.4" fill="#7cc63c" fill-opacity="0.95" filter="url(#f0_6)"/><ellipse cx="25" cy="680" rx="2.7" ry="2" fill="#e8e23a" fill-opacity="1" filter="url(#f0_5)"/></g>
<rect x="16.5" y="638.5" width="47.2" height="46.6" fill="none" stroke="#8a8a8a" stroke-width="0.7" />
<text x="15.3" y="684.1" font-size="2.6" text-anchor="end" fill="#888" style="stroke:none">10<tspan font-size="1.8" dy="-1">1</tspan></text>
<line x1="15.7" y1="683.1" x2="16.5" y2="683.1" stroke="#888" stroke-width="0.4"/>
<text x="15.3" y="674.19" font-size="2.6" text-anchor="end" fill="#888" style="stroke:none">10<tspan font-size="1.8" dy="-1">2</tspan></text>
<line x1="15.7" y1="673.19" x2="16.5" y2="673.19" stroke="#888" stroke-width="0.4"/>
<text x="15.3" y="664.29" font-size="2.6" text-anchor="end" fill="#888" style="stroke:none">10<tspan font-size="1.8" dy="-1">3</tspan></text>
<line x1="15.7" y1="663.29" x2="16.5" y2="663.29" stroke="#888" stroke-width="0.4"/>
<text x="15.3" y="654.38" font-size="2.6" text-anchor="end" fill="#888" style="stroke:none">10<tspan font-size="1.8" dy="-1">4</tspan></text>
<line x1="15.7" y1="653.38" x2="16.5" y2="653.38" stroke="#888" stroke-width="0.4"/>
<text x="15.3" y="644.47" font-size="2.6" text-anchor="end" fill="#888" style="stroke:none">10<tspan font-size="1.8" dy="-1">5</tspan></text>
<line x1="15.7" y1="643.47" x2="16.5" y2="643.47" stroke="#888" stroke-width="0.4"/>
<text x="19.5" y="688.5" font-size="2.6" text-anchor="middle" fill="#888" style="stroke:none">10<tspan font-size="1.8" dy="-1">1</tspan></text>
<line x1="19.5" y1="685.1" x2="19.5" y2="685.9" stroke="#888" stroke-width="0.4"/>
<text x="29.08" y="688.5" font-size="2.6" text-anchor="middle" fill="#888" style="stroke:none">10<tspan font-size="1.8" dy="-1">2</tspan></text>
<line x1="29.08" y1="685.1" x2="29.08" y2="685.9" stroke="#888" stroke-width="0.4"/>
<text x="38.66" y="688.5" font-size="2.6" text-anchor="middle" fill="#888" style="stroke:none">10<tspan font-size="1.8" dy="-1">3</tspan></text>
<line x1="38.66" y1="685.1" x2="38.66" y2="685.9" stroke="#888" stroke-width="0.4"/>
<text x="48.24" y="688.5" font-size="2.6" text-anchor="middle" fill="#888" style="stroke:none">10<tspan font-size="1.8" dy="-1">4</tspan></text>
<line x1="48.24" y1="685.1" x2="48.24" y2="685.9" stroke="#888" stroke-width="0.4"/>
<text x="57.83" y="688.5" font-size="2.6" text-anchor="middle" fill="#888" style="stroke:none">10<tspan font-size="1.8" dy="-1">5</tspan></text>
<line x1="57.83" y1="685.1" x2="57.83" y2="685.9" stroke="#888" stroke-width="0.4"/>
<line x1="39.5" y1="638.5" x2="39.5" y2="685.1" stroke="#444" stroke-width="0.75"/>
<line x1="16.5" y1="669.8" x2="63.7" y2="669.8" stroke="#444" stroke-width="0.75"/>
<text x="61.7" y="643.3" font-size="5" text-anchor="end" font-weight="normal" font-style="normal" fill="#222" >1.7%</text>
<g clip-path="url(#c22)"><ellipse cx="96" cy="676.5" rx="22" ry="7" fill="#aab4ee" fill-opacity="0.4" filter="url(#f2_5)"/><ellipse cx="84" cy="660.5" rx="9" ry="7" fill="#aab4ee" fill-opacity="0.35" filter="url(#f2_5)"/><ellipse cx="104" cy="663.5" rx="12" ry="9" fill="#c0c8f2" fill-opacity="0.3" filter="url(#f2_5)"/><path d="M86.7 654.3h0M80.2 660.9h0M82.0 653.7h0M83.4 667.8h0M88.7 662.0h0M84.5 661.0h0M71.7 663.0h0M86.6 655.6h0M93.2 663.9h0M84.5 666.4h0M77.3 660.7h0M74.8 664.6h0M84.3 669.6h0M85.7 659.4h0M72.2 659.8h0M80.3 660.8h0M79.5 659.8h0M82.7 658.7h0M78.0 660.1h0M74.7 652.4h0M81.7 657.3h0M74.8 660.4h0M82.1 665.7h0M79.2 660.9h0M81.0 658.6h0M75.5 653.7h0M73.0 656.9h0M77.5 659.0h0M72.9 662.0h0M83.7 656.3h0M78.4 659.3h0M84.9 665.4h0M84.8 663.6h0M88.0 663.5h0M82.9 663.0h0M86.6 661.6h0M86.8 658.9h0M76.6 660.8h0M84.6 668.7h0M81.0 657.1h0M73.3 657.5h0M80.3 659.4h0M83.5 661.1h0M79.0 670.4h0M79.2 659.9h0M75.8 658.5h0M83.2 654.4h0M80.3 658.1h0M82.2 663.2h0M81.4 664.5h0M79.3 662.2h0M77.3 654.8h0M76.9 659.8h0M84.3 667.9h0M83.9 663.3h0M77.7 667.3h0M78.8 660.5h0M91.2 664.4h0M92.5 658.7h0M83.9 656.3h0M83.7 658.5h0M88.3 663.0h0M73.6 659.5h0M78.1 661.3h0M86.9 656.4h0M80.8 663.5h0M77.5 659.3h0M78.7 664.9h0M85.6 656.7h0M87.1 667.1h0M80.3 662.2h0M84.8 663.6h0M92.6 661.4h0M80.5 661.8h0M81.5 654.1h0M86.1 662.1h0M77.9 657.7h0M74.3 661.6h0M83.3 661.5h0M86.6 660.0h0M76.4 661.2h0M89.5 666.1h0M81.9 668.1h0M77.4 658.8h0M80.1 668.7h0M67.7 662.1h0M82.2 657.5h0M83.9 653.5h0M83.1 657.3h0M78.4 662.0h0M81.4 659.0h0M82.0 658.2h0M88.2 662.2h0M83.4 666.2h0M91.0 655.3h0M82.6 656.4h0M85.1 658.8h0M78.6 659.9h0M87.5 657.3h0M83.7 659.9h0M80.4 661.4h0M90.5 659.3h0M83.0 662.4h0M74.5 659.9h0M84.6 662.3h0M82.4 657.2h0M80.2 663.1h0M78.4 664.5h0M83.9 667.0h0M74.2 660.9h0M74.3 656.7h0M91.5 663.7h0M83.7 656.9h0M82.1 662.8h0M88.4 653.3h0M81.5 656.5h0M92.5 667.0h0M82.2 659.8h0M89.0 667.2h0M80.0 664.5h0M83.5 661.8h0M74.9 668.8h0M81.5 656.9h0M75.4 666.7h0M83.3 664.6h0M82.6 655.7h0M81.0 657.9h0M76.7 661.5h0M78.4 662.2h0M82.7 659.0h0M77.6 660.0h0M87.0 665.0h0M87.8 657.7h0M77.7 661.8h0M81.8 663.4h0M84.0 655.5h0M83.1 666.7h0M81.4 660.7h0M82.2 655.0h0M85.4 662.5h0M86.1 658.9h0M78.5 656.9h0M81.3 660.8h0M84.7 657.3h0M78.3 656.5h0M79.5 664.2h0M86.2 661.0h0M87.4 662.6h0M79.8 663.4h0M75.8 658.2h0M83.0 661.0h0M78.8 659.7h0M76.8 658.0h0M95.1 663.2h0M86.6 665.5h0M74.5 663.8h0M78.4 655.5h0M79.3 661.4h0M87.2 665.1h0M82.7 665.7h0" stroke="#6f82e4" stroke-width="0.9" stroke-linecap="round" stroke-opacity="0.5" fill="none"/><path d="M72.5 679.5h0M103.0 689.3h0M77.3 670.4h0M93.5 678.9h0M102.0 679.1h0M85.0 678.2h0M99.1 689.4h0M62.4 675.4h0M93.5 678.1h0M78.2 678.1h0M89.1 680.4h0M102.3 678.4h0M102.8 677.0h0M89.2 681.1h0M91.1 682.6h0M105.4 677.6h0M120.6 682.5h0M88.8 675.4h0M94.0 680.0h0M103.3 681.2h0M103.2 674.2h0M89.1 679.6h0M104.9 679.4h0M98.7 676.1h0M109.3 680.2h0M80.4 678.8h0M92.9 680.5h0M118.5 675.3h0M111.3 675.2h0M94.7 675.6h0M95.1 684.1h0M115.9 683.3h0M94.3 683.1h0M78.3 679.3h0M87.5 671.8h0M92.3 675.0h0M109.6 676.4h0M109.6 679.0h0M108.2 682.3h0M111.7 676.4h0M80.7 680.6h0M123.5 684.6h0M96.7 684.0h0M95.7 680.7h0M110.3 681.1h0M94.5 680.3h0M109.6 684.8h0M113.8 681.7h0M84.5 683.2h0M92.5 676.8h0M94.7 677.1h0M81.1 680.2h0M85.2 683.3h0M99.8 675.1h0M101.1 681.4h0M82.4 683.0h0M91.3 678.8h0M104.3 671.6h0M89.7 682.6h0M100.4 685.4h0M102.6 680.2h0M109.5 679.3h0M105.2 670.0h0M79.0 684.0h0M108.6 681.9h0M108.0 673.3h0M101.2 674.8h0M89.8 676.8h0M108.5 676.8h0M107.2 682.8h0M100.1 681.5h0M110.1 680.8h0M104.5 681.9h0M76.7 687.2h0M102.3 679.6h0M103.4 676.3h0M94.1 675.4h0M94.5 684.1h0M80.8 676.0h0M102.2 677.4h0M126.5 676.5h0M109.5 680.1h0M101.5 684.0h0M119.0 685.1h0M104.1 679.5h0M105.5 683.2h0M95.5 676.6h0M85.4 674.4h0M100.4 684.1h0M102.6 679.1h0M83.3 681.7h0M129.0 686.0h0M95.3 685.4h0M96.3 679.9h0M97.5 674.8h0M114.9 678.2h0M97.7 680.9h0M103.2 676.9h0M88.2 678.9h0M85.1 676.7h0M104.9 678.8h0M103.5 678.9h0M100.5 677.4h0M114.1 677.7h0M101.8 686.9h0M114.3 677.3h0M88.3 681.0h0M99.5 684.8h0M91.2 682.2h0M94.3 677.7h0M113.4 685.6h0M103.6 681.2h0M92.0 686.9h0M85.7 684.4h0M89.0 682.4h0M98.1 678.6h0M94.0 680.9h0M91.2 677.3h0M112.5 677.0h0M97.6 675.6h0M81.9 678.0h0M121.8 680.7h0M105.1 683.2h0M84.4 676.4h0M95.4 683.9h0M98.3 675.4h0M95.3 673.8h0M99.7 674.8h0M85.5 672.8h0M86.9 677.6h0M106.1 678.3h0M93.3 677.9h0M97.2 678.4h0M82.1 678.9h0M103.1 673.6h0M73.5 683.0h0M94.4 676.6h0M78.3 678.8h0M108.6 677.5h0M98.2 688.7h0M104.3 679.4h0M82.6 684.7h0M107.8 678.7h0M105.5 682.1h0M115.3 683.5h0M97.6 682.9h0M93.8 675.9h0M92.4 678.2h0M110.3 680.3h0M102.6 676.9h0M105.1 677.8h0M78.5 682.4h0M99.0 685.4h0M116.1 679.9h0M80.6 671.6h0M96.7 674.7h0M112.0 681.9h0M82.4 672.5h0M113.9 684.2h0M108.3 685.8h0M102.4 677.2h0M98.8 680.1h0M89.1 679.5h0M63.3 675.5h0M93.4 671.1h0M98.5 677.4h0M125.2 685.5h0M107.1 679.2h0M72.8 675.5h0M91.9 683.7h0M71.4 679.2h0M110.6 682.2h0M84.2 679.3h0M100.7 684.1h0M90.8 678.9h0M94.1 675.4h0M89.0 682.7h0M90.9 677.8h0M87.3 676.7h0M104.7 681.1h0M101.1 680.6h0M96.8 682.5h0M87.6 678.6h0M82.6 684.8h0M105.0 680.2h0M101.2 682.6h0M104.7 682.3h0M96.2 679.5h0M107.9 682.7h0M100.8 684.3h0M87.1 680.0h0M83.1 684.3h0M104.2 680.1h0M91.0 679.4h0M65.6 683.1h0M103.7 682.1h0M86.7 678.4h0M90.4 679.6h0M88.2 676.5h0M118.0 677.4h0M98.8 681.5h0M111.3 684.8h0M92.2 682.4h0M106.6 681.3h0M72.2 672.8h0M87.4 686.7h0M108.0 679.4h0M97.4 680.9h0M96.1 682.8h0M86.9 678.1h0M93.5 674.9h0M81.3 676.7h0M81.3 683.2h0M108.1 681.8h0M83.3 681.2h0M97.3 674.5h0M109.3 681.6h0M104.1 671.6h0M84.8 688.1h0M85.2 686.4h0M101.2 677.6h0M86.7 676.4h0M90.4 670.7h0M112.7 689.8h0M98.3 680.1h0M88.7 679.3h0M89.5 684.3h0M86.6 679.3h0M113.4 685.5h0M88.0 672.9h0M117.8 676.6h0M91.9 680.0h0M105.2 678.0h0M91.6 678.2h0M82.1 683.8h0M90.4 680.6h0M87.5 683.2h0M118.9 677.3h0M96.6 679.7h0M113.5 677.8h0M109.4 681.0h0M106.7 677.9h0M86.8 678.7h0M106.6 679.4h0M105.3 686.0h0M77.4 675.7h0M88.7 677.3h0M102.2 675.5h0M85.5 679.4h0M95.3 680.3h0M95.5 673.7h0M89.4 681.7h0M99.4 681.5h0M82.6 677.2h0M74.8 678.8h0M84.2 682.4h0M92.0 684.4h0M121.2 681.0h0M100.8 675.1h0M89.5 670.4h0M87.7 689.0h0M103.3 685.0h0M93.1 678.8h0M97.5 678.1h0M101.6 682.4h0M79.7 671.7h0M92.9 679.1h0M78.4 682.6h0M111.8 682.0h0M78.9 680.6h0M84.3 683.8h0M99.6 681.3h0M106.0 682.3h0M126.5 674.4h0M97.3 683.2h0M104.9 669.4h0M108.5 678.0h0M83.5 686.7h0M93.8 682.9h0M102.6 682.2h0M108.4 681.2h0M111.0 679.9h0M85.0 685.5h0M96.5 682.9h0M78.4 669.9h0M97.2 680.9h0M113.8 674.9h0M85.5 680.9h0M110.1 681.0h0M102.0 683.2h0M121.3 685.7h0M92.4 673.6h0M75.1 678.7h0M84.8 680.3h0M93.8 670.8h0M107.3 682.4h0M85.5 674.7h0M112.9 680.9h0M92.8 676.0h0M87.6 686.1h0" stroke="#6f82e4" stroke-width="0.9" stroke-linecap="round" stroke-opacity="0.45" fill="none"/><path d="M111.0 653.8h0M112.3 653.0h0M109.0 660.0h0M114.2 657.8h0M110.0 652.9h0M121.8 653.6h0M112.2 646.9h0M111.3 656.6h0M112.1 650.7h0M118.3 661.9h0M113.5 667.2h0M112.4 651.9h0M107.6 649.0h0M110.9 665.9h0M109.4 653.5h0M114.5 656.2h0M104.9 652.9h0M109.1 653.2h0M106.1 651.7h0M112.7 648.1h0M114.4 655.7h0M117.0 648.0h0M108.6 653.9h0M114.1 650.9h0M107.3 653.7h0M118.2 649.2h0M116.0 647.6h0M116.5 647.0h0M118.0 653.4h0M118.3 651.7h0M108.3 649.0h0M109.8 655.1h0M111.3 656.6h0M113.3 651.4h0M111.7 652.4h0M115.8 660.3h0M111.9 654.0h0M117.9 660.7h0M110.3 647.9h0M111.5 659.9h0M112.1 658.5h0M113.2 656.8h0M115.6 653.3h0M111.3 654.2h0M123.3 648.9h0M117.0 652.7h0M108.5 653.3h0M117.3 647.7h0M109.4 657.6h0M108.4 659.7h0M118.3 650.5h0M114.5 659.7h0M117.5 643.9h0M108.0 654.3h0M118.4 661.6h0M115.4 653.3h0M110.4 657.4h0M114.0 663.6h0M121.6 657.9h0M110.7 653.5h0M118.3 655.3h0M116.1 651.0h0M104.7 657.5h0M121.2 651.9h0M114.8 644.8h0M119.7 665.9h0M119.5 648.9h0M114.5 654.7h0M115.4 651.1h0M115.8 654.8h0M109.3 649.0h0M120.6 655.2h0M115.8 664.1h0M111.4 660.1h0M118.5 650.4h0M113.3 655.7h0M107.7 645.6h0M111.5 660.5h0M113.0 661.8h0M107.1 652.4h0M115.3 659.6h0M117.1 659.3h0M116.8 654.8h0M120.2 658.1h0M111.4 658.4h0M116.5 655.0h0M116.4 652.7h0M112.4 646.1h0M112.3 661.0h0M103.7 652.1h0M116.4 657.2h0M107.7 653.8h0M114.9 659.3h0M114.4 650.8h0M116.3 654.6h0M109.5 654.1h0M115.1 653.6h0M112.2 653.9h0M114.3 657.5h0M109.5 651.6h0M116.5 651.9h0M110.3 647.8h0M108.3 649.2h0M113.7 657.2h0M114.5 654.8h0M116.4 653.6h0M108.8 654.5h0M114.6 664.3h0M114.0 664.4h0M113.4 647.3h0M112.9 652.8h0M113.5 652.4h0M123.3 655.6h0M113.3 653.9h0M113.8 659.3h0M113.9 658.6h0M110.1 655.2h0M113.6 655.0h0M109.2 650.9h0M107.7 656.1h0M119.0 653.9h0M108.4 652.3h0M118.3 646.0h0M112.6 654.6h0M112.0 655.3h0M115.7 655.8h0M117.5 659.1h0M107.6 648.8h0M113.0 654.5h0M114.7 648.4h0M108.9 662.6h0M114.5 655.8h0M120.8 644.8h0M114.8 652.9h0M113.5 660.8h0M113.5 647.0h0M109.3 647.6h0M118.5 651.0h0M109.3 653.1h0M108.4 656.2h0M114.4 655.1h0M118.4 652.1h0M117.5 645.9h0M117.6 662.9h0M110.6 657.9h0M109.9 654.6h0M116.0 651.4h0M109.6 653.5h0M113.6 655.9h0M114.2 645.6h0M118.3 656.4h0M108.0 653.3h0M118.1 664.3h0M113.3 651.4h0M118.9 653.8h0M113.8 646.3h0M109.8 656.0h0M121.3 655.9h0M113.3 652.3h0M109.3 648.3h0M116.9 663.1h0M112.6 649.9h0M107.6 651.9h0M118.1 646.0h0M112.7 660.0h0M120.2 650.7h0M115.0 656.4h0M114.6 653.7h0M114.7 655.0h0M113.2 653.1h0M112.5 665.3h0M113.9 659.4h0M110.3 661.3h0M118.2 654.8h0M123.8 658.1h0M121.4 649.8h0M105.0 657.7h0M114.1 650.9h0M109.8 656.7h0M117.3 659.5h0M113.8 652.0h0M108.4 649.3h0M119.4 647.6h0M113.5 651.7h0M111.2 647.8h0M112.3 656.4h0M112.8 655.6h0M111.2 649.0h0M117.1 653.5h0M112.9 656.6h0M117.8 651.3h0M114.2 652.9h0M119.3 647.5h0M111.0 653.7h0M104.2 646.6h0M115.8 659.5h0M120.5 652.6h0M116.1 654.3h0M110.8 655.2h0M113.7 660.3h0M112.9 647.1h0M114.9 651.1h0M114.4 656.0h0M106.8 645.8h0M115.3 658.1h0M111.5 653.8h0M115.8 651.2h0M113.6 651.5h0M118.0 653.9h0M110.0 655.2h0M111.0 652.5h0M108.9 652.9h0M117.1 657.4h0M116.3 649.8h0M113.8 653.8h0M112.9 652.6h0M107.9 663.2h0M110.9 654.7h0M114.6 648.6h0M111.4 655.8h0M113.8 656.6h0M109.8 653.6h0M110.1 654.1h0M111.3 651.5h0M116.2 659.4h0M113.6 655.2h0M110.1 651.6h0M112.2 656.0h0M120.8 645.0h0M118.5 660.8h0M116.2 652.4h0M116.9 646.9h0M108.5 654.8h0M111.5 657.6h0M110.3 645.0h0M113.3 656.8h0M108.0 654.4h0M114.3 656.1h0M117.1 655.4h0M111.2 647.6h0M116.4 652.7h0M117.6 659.9h0M111.5 651.3h0M119.0 655.0h0M109.5 653.2h0M112.3 660.0h0M108.8 650.8h0M117.2 658.2h0M114.8 651.5h0M110.2 641.5h0M116.6 655.4h0M114.2 647.8h0M106.8 652.0h0M112.2 659.9h0M123.3 647.4h0M110.8 658.1h0M117.8 657.9h0M113.4 651.6h0M112.1 647.4h0M111.2 650.2h0M118.5 660.9h0M115.0 646.4h0M113.2 651.5h0M118.7 649.2h0M115.5 653.7h0M117.3 651.2h0M120.5 655.7h0M113.2 653.0h0M112.0 659.4h0M117.2 652.8h0M125.1 656.3h0M117.7 661.8h0M118.4 656.3h0M110.0 649.6h0M117.1 653.6h0M112.8 660.2h0M116.8 661.1h0M112.8 649.2h0M113.5 658.4h0M109.7 653.9h0" stroke="#4a62d6" stroke-width="0.9" stroke-linecap="round" stroke-opacity="0.55" fill="none"/><path d="M103.4 667.2h0M101.3 640.9h0M102.1 674.7h0M82.0 668.3h0M94.5 664.9h0M141.1 662.0h0M77.3 657.4h0M85.3 665.6h0M100.4 660.3h0M128.6 669.7h0M95.2 661.5h0M97.9 656.6h0M92.1 659.8h0M105.8 657.4h0M78.7 660.9h0M110.2 668.9h0M88.9 664.1h0M83.6 657.0h0M99.1 658.4h0M82.7 661.6h0M95.5 670.4h0M87.9 667.1h0M100.6 682.1h0M96.7 643.4h0M99.1 654.8h0M99.9 666.4h0M80.0 642.1h0M101.9 657.0h0M109.4 651.1h0M76.6 650.4h0M98.3 679.4h0M97.5 653.1h0M102.8 650.8h0M95.5 679.7h0M93.7 650.8h0M94.6 668.4h0M73.0 669.6h0M95.6 642.5h0M101.8 654.5h0M88.1 676.2h0M103.7 659.4h0M104.9 684.8h0M116.3 659.7h0M120.1 662.4h0M79.0 655.4h0M67.7 659.0h0M92.8 682.4h0M90.4 655.3h0M100.5 665.6h0M110.9 654.3h0M105.1 654.7h0M88.1 674.3h0M86.9 669.7h0M88.4 674.2h0M99.3 669.6h0M118.0 653.4h0M105.4 666.9h0M80.2 664.3h0M99.5 653.7h0M87.9 677.4h0M90.0 651.4h0M128.4 681.7h0M88.0 669.0h0M90.5 668.9h0M104.8 686.8h0M107.9 684.9h0M98.0 658.0h0M99.4 662.9h0M58.5 678.7h0M85.0 683.1h0M75.4 660.7h0M118.6 657.8h0M96.2 680.0h0M80.9 674.6h0M98.2 657.5h0M95.4 670.6h0M120.6 688.5h0M99.3 660.1h0M99.9 667.8h0M80.0 651.8h0M84.0 664.1h0M93.7 672.3h0M91.0 664.2h0M111.6 652.7h0M69.9 678.9h0M109.0 656.9h0M112.5 668.2h0M85.3 681.4h0M72.8 657.3h0M96.4 672.6h0M96.3 674.4h0M79.8 662.6h0M114.7 662.0h0M87.0 659.1h0M94.8 662.6h0M62.2 647.4h0M116.4 678.0h0M93.4 674.0h0M84.8 671.2h0M109.0 660.4h0M91.4 668.0h0M110.3 660.2h0M105.0 664.6h0M86.5 676.2h0M115.5 652.9h0M97.5 661.7h0M78.4 666.0h0M94.1 659.0h0M76.2 672.6h0M110.3 665.6h0M65.6 671.5h0M118.2 664.3h0M72.0 652.7h0M93.5 661.0h0M90.5 664.7h0M104.8 680.4h0M101.2 662.8h0M87.4 649.4h0M115.0 661.5h0M93.1 651.3h0" stroke="#a0aaee" stroke-width="0.9" stroke-linecap="round" stroke-opacity="0.45" fill="none"/><ellipse cx="82" cy="661" rx="5" ry="4" fill="#4a62d6" fill-opacity="0.25" filter="url(#f1_5)"/><polygon points="104,660 120,643 120,664" fill="#4a62d6" fill-opacity="0.4" filter="url(#f1_5)"/><ellipse cx="82" cy="680" rx="7.8" ry="5.85" fill="#4a62d6" fill-opacity="0.55" filter="url(#f1)"/><ellipse cx="82" cy="680" rx="5.98" ry="4.48" fill="#3aa2c6" fill-opacity="0.85" filter="url(#f0_8)"/><ellipse cx="82" cy="680" rx="4.42" ry="3.31" fill="#7cc63c" fill-opacity="0.95" filter="url(#f0_6)"/><ellipse cx="82" cy="680" rx="2.6" ry="1.95" fill="#e8e23a" fill-opacity="1" filter="url(#f0_5)"/></g>
<rect x="74" y="638.5" width="47.2" height="46.6" fill="none" stroke="#8a8a8a" stroke-width="0.7" />
<text x="72.8" y="684.1" font-size="2.6" text-anchor="end" fill="#888" style="stroke:none">10<tspan font-size="1.8" dy="-1">1</tspan></text>
<line x1="73.2" y1="683.1" x2="74" y2="683.1" stroke="#888" stroke-width="0.4"/>
<text x="72.8" y="674.19" font-size="2.6" text-anchor="end" fill="#888" style="stroke:none">10<tspan font-size="1.8" dy="-1">2</tspan></text>
<line x1="73.2" y1="673.19" x2="74" y2="673.19" stroke="#888" stroke-width="0.4"/>
<text x="72.8" y="664.29" font-size="2.6" text-anchor="end" fill="#888" style="stroke:none">10<tspan font-size="1.8" dy="-1">3</tspan></text>
<line x1="73.2" y1="663.29" x2="74" y2="663.29" stroke="#888" stroke-width="0.4"/>
<text x="72.8" y="654.38" font-size="2.6" text-anchor="end" fill="#888" style="stroke:none">10<tspan font-size="1.8" dy="-1">4</tspan></text>
<line x1="73.2" y1="653.38" x2="74" y2="653.38" stroke="#888" stroke-width="0.4"/>
<text x="72.8" y="644.47" font-size="2.6" text-anchor="end" fill="#888" style="stroke:none">10<tspan font-size="1.8" dy="-1">5</tspan></text>
<line x1="73.2" y1="643.47" x2="74" y2="643.47" stroke="#888" stroke-width="0.4"/>
<text x="77" y="688.5" font-size="2.6" text-anchor="middle" fill="#888" style="stroke:none">10<tspan font-size="1.8" dy="-1">1</tspan></text>
<line x1="77" y1="685.1" x2="77" y2="685.9" stroke="#888" stroke-width="0.4"/>
<text x="86.58" y="688.5" font-size="2.6" text-anchor="middle" fill="#888" style="stroke:none">10<tspan font-size="1.8" dy="-1">2</tspan></text>
<line x1="86.58" y1="685.1" x2="86.58" y2="685.9" stroke="#888" stroke-width="0.4"/>
<text x="96.16" y="688.5" font-size="2.6" text-anchor="middle" fill="#888" style="stroke:none">10<tspan font-size="1.8" dy="-1">3</tspan></text>
<line x1="96.16" y1="685.1" x2="96.16" y2="685.9" stroke="#888" stroke-width="0.4"/>
<text x="105.74" y="688.5" font-size="2.6" text-anchor="middle" fill="#888" style="stroke:none">10<tspan font-size="1.8" dy="-1">4</tspan></text>
<line x1="105.74" y1="685.1" x2="105.74" y2="685.9" stroke="#888" stroke-width="0.4"/>
<text x="115.33" y="688.5" font-size="2.6" text-anchor="middle" fill="#888" style="stroke:none">10<tspan font-size="1.8" dy="-1">5</tspan></text>
<line x1="115.33" y1="685.1" x2="115.33" y2="685.9" stroke="#888" stroke-width="0.4"/>
<line x1="97.2" y1="638.5" x2="97.2" y2="685.1" stroke="#444" stroke-width="0.75"/>
<line x1="74" y1="669.8" x2="121.2" y2="669.8" stroke="#444" stroke-width="0.75"/>
<text x="119.2" y="643.3" font-size="5" text-anchor="end" font-weight="normal" font-style="normal" fill="#222" >12.2%</text>
<g clip-path="url(#c23)"><ellipse cx="153.5" cy="676.5" rx="22" ry="7" fill="#aab4ee" fill-opacity="0.4" filter="url(#f2_5)"/><ellipse cx="141.5" cy="660.5" rx="9" ry="7" fill="#aab4ee" fill-opacity="0.35" filter="url(#f2_5)"/><ellipse cx="161.5" cy="663.5" rx="12" ry="9" fill="#c0c8f2" fill-opacity="0.3" filter="url(#f2_5)"/><path d="M142.0 661.7h0M136.0 663.8h0M151.7 660.9h0M139.0 664.3h0M136.5 660.8h0M147.6 661.0h0M140.8 658.4h0M133.6 660.8h0M139.3 657.3h0M137.3 663.4h0M141.0 668.7h0M136.2 657.3h0M142.1 660.5h0M143.0 659.0h0M130.7 669.2h0M137.6 664.4h0M147.8 660.2h0M132.9 663.0h0M143.3 664.0h0M131.4 660.8h0M150.9 657.1h0M146.4 656.1h0M136.8 657.0h0M145.5 665.9h0M142.7 658.7h0M142.4 663.8h0M147.9 657.0h0M139.3 664.4h0M139.2 658.0h0M138.0 670.4h0M144.2 666.5h0M142.3 661.6h0M138.3 661.1h0M138.5 660.9h0M133.8 660.2h0M140.5 658.0h0M147.2 668.3h0M135.4 657.3h0M128.5 662.0h0M136.4 661.3h0M132.1 663.0h0M134.8 662.8h0M138.4 665.0h0M137.0 664.8h0M137.7 657.0h0M144.7 662.2h0M147.9 662.0h0M139.2 669.8h0M135.7 657.2h0M141.6 656.8h0M139.3 655.0h0M146.8 664.6h0M142.1 659.4h0M132.7 667.5h0M143.3 660.7h0M134.2 662.1h0M137.0 660.7h0M132.7 667.3h0M140.7 669.9h0M142.0 661.7h0M143.3 660.3h0M144.1 665.1h0M146.7 662.0h0M139.1 667.2h0M139.2 659.6h0M145.2 660.4h0M144.4 666.6h0M135.9 661.9h0M140.7 661.5h0M138.6 667.4h0M140.6 662.7h0M140.2 659.8h0M141.8 665.7h0M134.9 664.0h0M147.5 665.2h0M147.1 662.5h0M137.4 660.0h0M139.4 671.1h0M139.5 658.8h0M146.6 666.3h0M142.2 663.8h0M137.8 657.1h0M139.3 660.3h0M132.6 671.9h0M138.5 658.4h0M139.0 663.6h0M140.4 667.5h0M139.3 668.2h0M139.8 662.3h0M141.2 662.3h0M135.7 655.3h0M131.9 659.7h0M137.2 661.2h0M140.6 665.8h0M131.5 659.0h0M142.6 658.6h0M141.9 658.9h0M133.4 658.9h0M137.6 655.9h0M138.9 659.1h0M145.0 656.8h0M142.1 659.2h0M136.4 664.3h0M143.3 657.9h0M133.4 656.0h0M135.9 665.6h0M135.7 662.2h0M133.3 661.7h0M145.7 664.6h0M138.0 664.1h0M135.4 655.2h0M136.3 655.0h0M142.3 665.7h0M140.2 663.5h0M138.6 660.1h0M143.0 657.9h0M130.8 664.8h0M135.8 669.5h0M138.2 656.3h0M142.3 657.6h0M134.7 666.5h0M143.8 667.7h0M148.8 667.7h0M143.9 660.8h0M136.1 667.2h0M145.5 660.6h0M134.3 663.6h0M147.6 666.9h0M135.2 656.8h0M141.3 660.2h0M137.9 667.9h0M142.8 666.5h0M135.8 661.7h0M145.7 664.5h0M146.4 666.2h0M141.8 660.4h0M136.1 657.6h0M136.6 660.0h0M140.2 671.6h0M140.3 660.1h0" stroke="#6f82e4" stroke-width="0.9" stroke-linecap="round" stroke-opacity="0.5" fill="none"/><path d="M155.8 677.6h0M147.3 673.2h0M167.8 666.3h0M148.5 677.5h0M157.3 675.9h0M153.3 684.5h0M148.5 671.4h0M161.4 668.8h0M172.4 674.3h0M152.7 661.3h0M172.2 680.5h0M161.3 679.4h0M171.7 671.3h0M139.7 677.6h0M135.8 670.9h0M129.0 665.8h0M153.3 666.0h0M153.3 662.9h0M152.3 681.2h0M146.3 670.4h0M139.1 669.1h0M131.0 670.7h0M145.1 659.8h0M165.0 682.4h0M154.0 671.4h0M131.0 677.4h0M147.6 685.7h0M173.6 676.1h0M169.4 671.1h0M138.1 671.7h0M144.9 675.3h0M151.4 666.0h0M149.9 670.8h0M185.2 671.2h0M149.9 681.8h0M133.3 669.1h0M160.3 682.7h0M136.7 673.5h0M151.0 670.7h0M133.9 671.2h0M160.3 677.3h0M145.2 671.2h0M154.8 667.5h0M137.9 673.4h0M164.1 681.2h0M160.0 672.0h0M155.8 663.4h0M147.5 659.7h0M146.4 661.9h0M161.0 685.8h0M150.0 666.4h0M155.4 667.7h0M160.5 663.5h0M168.5 681.5h0M151.0 665.4h0M156.9 665.5h0M155.8 671.0h0M169.1 676.3h0M138.7 672.1h0M145.7 680.2h0M166.4 671.5h0M155.2 666.0h0M138.8 673.5h0M158.6 667.3h0M172.9 674.9h0M173.5 662.3h0M148.4 674.9h0M161.1 674.1h0M143.2 670.2h0M136.3 675.9h0M141.8 673.1h0M164.8 681.8h0M167.4 673.1h0M126.4 671.2h0M140.3 678.0h0M131.5 671.1h0M124.1 669.9h0M147.2 671.0h0M157.9 671.0h0M164.0 673.7h0M143.6 665.1h0M167.2 676.4h0M147.4 663.2h0M143.8 669.1h0M158.4 673.3h0M162.1 677.1h0M143.8 666.1h0M147.9 667.1h0M159.3 679.3h0M158.4 666.9h0M167.7 683.1h0M166.5 677.6h0M142.9 675.9h0M159.5 669.4h0M163.6 659.7h0M171.3 656.8h0M154.1 669.6h0M150.7 674.4h0M149.9 678.5h0M131.3 679.0h0M171.1 669.2h0M129.0 670.4h0M156.1 672.8h0M164.2 667.2h0M164.4 665.0h0M141.7 670.3h0M152.1 657.6h0M144.3 671.2h0M144.7 674.8h0M158.5 667.3h0M141.4 670.2h0M176.9 678.1h0M143.3 663.6h0M140.2 685.4h0M141.2 673.2h0M170.4 674.8h0M142.9 665.0h0M162.1 676.7h0M150.3 672.4h0M167.4 673.3h0M167.0 677.7h0M156.6 682.6h0M148.0 677.1h0M141.1 679.6h0M132.9 664.9h0M142.7 684.0h0M157.2 683.4h0M161.7 663.7h0M153.5 674.5h0M146.7 677.8h0M161.8 671.2h0M147.5 666.2h0M183.0 681.2h0M153.6 674.9h0M155.3 673.4h0M151.5 671.4h0M152.4 667.9h0M146.1 683.0h0M166.2 680.2h0M175.3 670.6h0M151.2 675.6h0M155.5 670.0h0M141.6 678.1h0M159.9 664.8h0M142.6 672.2h0M147.4 662.7h0M158.1 666.0h0M154.1 666.0h0M162.2 678.8h0M159.5 673.1h0M164.2 671.9h0M182.0 666.9h0M140.6 682.8h0M172.6 667.1h0M149.5 678.4h0M144.8 663.5h0M164.3 668.6h0M152.3 670.0h0M159.3 668.0h0M152.6 671.0h0M141.7 675.9h0M138.5 672.7h0M176.1 671.2h0M150.0 673.5h0M159.2 682.6h0M149.7 664.8h0M152.4 667.9h0M139.7 673.0h0M146.2 677.9h0M164.1 677.5h0M143.9 666.0h0M158.2 660.6h0M144.7 666.9h0M145.7 676.1h0M157.0 671.0h0M160.4 676.6h0M159.9 680.0h0M170.7 670.0h0M139.2 669.9h0M142.4 676.7h0M150.4 666.8h0M155.0 675.8h0M168.3 673.3h0M149.8 668.5h0M141.0 668.9h0M157.2 674.5h0M156.2 658.6h0M148.7 679.7h0M139.6 675.0h0M146.5 678.5h0M158.2 675.8h0M160.2 678.3h0M141.3 666.8h0M146.5 679.9h0M127.9 677.8h0M149.0 674.6h0M143.6 674.1h0M162.0 663.3h0M166.1 670.0h0M154.6 663.3h0M157.3 673.3h0M175.8 663.3h0M149.9 673.5h0M158.7 682.9h0M139.9 679.2h0M150.1 667.3h0M159.6 674.0h0M152.3 676.5h0M134.7 672.4h0M143.6 671.6h0M155.1 671.3h0M157.1 666.0h0M153.0 671.5h0M182.3 674.8h0M139.1 673.0h0M176.5 675.7h0M136.2 683.2h0M162.0 675.5h0M169.3 661.6h0M156.1 670.6h0M156.7 660.6h0M166.4 665.2h0M159.0 678.4h0M154.7 673.1h0M138.0 668.1h0M156.3 670.3h0M160.7 666.1h0M152.5 667.1h0M133.8 672.9h0M151.3 673.4h0M147.0 680.6h0M187.0 680.5h0M138.1 671.2h0M170.3 677.4h0M141.9 669.5h0M153.7 668.8h0M155.5 684.3h0M166.0 685.1h0M168.5 655.5h0M159.2 664.3h0M158.4 682.4h0M158.4 657.7h0M152.8 669.9h0M163.7 664.0h0M149.4 671.3h0M153.9 674.2h0M165.9 673.1h0M171.4 673.6h0M180.4 677.3h0M154.6 665.8h0M148.7 669.2h0M168.6 670.3h0M152.4 674.7h0M152.2 676.5h0M145.9 667.6h0M149.7 678.0h0M140.9 659.6h0M153.9 668.8h0M157.5 670.7h0M171.4 674.0h0M147.1 670.5h0M172.2 668.3h0M156.8 682.0h0M161.8 677.8h0M140.5 673.2h0M170.0 676.4h0M131.4 679.2h0M163.0 673.1h0M161.6 666.3h0M171.1 680.3h0M162.5 677.8h0M138.4 671.1h0M152.9 676.4h0M137.7 672.8h0M167.6 666.7h0M172.7 675.3h0M146.8 666.8h0M172.1 669.1h0M144.0 671.4h0M166.1 679.5h0M148.9 660.1h0M170.4 672.6h0M149.2 672.5h0M133.3 681.5h0M158.5 684.5h0M136.3 666.7h0M134.6 679.9h0M145.3 673.2h0M143.4 665.0h0M144.7 673.8h0M147.2 669.3h0M153.9 668.7h0M152.2 665.2h0M134.6 664.1h0M139.8 676.4h0M134.3 664.3h0M183.5 669.4h0M166.3 666.4h0M148.1 670.5h0M147.3 674.9h0M154.1 678.6h0M149.5 673.7h0M142.5 678.9h0M137.5 663.6h0M144.0 668.0h0M132.9 661.4h0M140.8 672.8h0M171.7 667.7h0M141.5 672.5h0M162.7 680.0h0M161.6 667.9h0M162.4 658.5h0M156.2 681.8h0M163.2 685.8h0M147.2 672.8h0M151.1 676.9h0M166.6 671.7h0M160.5 674.4h0M155.0 663.9h0M155.4 677.2h0M146.1 662.4h0M164.8 681.8h0M150.2 678.2h0M136.5 679.7h0M149.4 679.1h0M138.9 673.8h0M144.9 660.7h0M133.5 675.3h0M146.0 676.6h0M157.7 676.7h0M148.6 668.2h0M149.9 674.5h0M143.2 675.2h0M153.0 672.1h0M169.1 677.7h0M131.2 665.2h0M178.7 681.3h0M155.5 666.6h0M142.5 673.9h0M167.7 669.0h0" stroke="#6f82e4" stroke-width="0.9" stroke-linecap="round" stroke-opacity="0.45" fill="none"/><path d="M174.6 656.6h0M169.2 658.7h0M164.3 653.1h0M169.8 662.4h0M170.1 647.6h0M169.2 644.6h0M173.7 647.5h0M173.7 654.9h0M172.9 654.6h0M173.7 658.5h0M167.5 656.6h0M166.1 652.5h0M167.3 660.3h0M173.5 651.7h0M170.8 648.8h0M174.6 649.7h0M174.3 660.4h0M163.9 662.9h0M175.5 660.6h0M168.4 645.7h0M170.5 652.3h0M172.4 648.0h0M181.5 657.2h0M173.6 655.1h0M164.2 657.7h0M169.5 645.6h0M168.0 652.5h0M177.5 661.8h0M168.1 658.4h0M172.0 657.8h0M172.0 651.1h0M166.6 656.5h0M168.5 650.0h0M174.8 664.9h0M178.6 651.2h0M179.2 645.2h0M174.7 655.2h0M171.0 655.6h0M167.1 649.5h0M165.4 648.3h0M167.0 650.7h0M172.2 645.4h0M173.1 653.6h0M169.8 652.1h0M175.0 645.6h0M172.1 652.5h0M173.5 656.5h0M179.9 653.1h0M175.3 647.2h0M166.4 649.5h0M163.5 657.3h0M170.6 649.3h0M172.2 660.7h0M168.8 654.5h0M177.4 662.2h0M175.3 652.5h0M173.7 654.1h0M168.7 648.5h0M172.7 645.9h0M167.6 648.9h0M175.4 649.4h0M169.9 649.3h0M172.3 658.0h0M181.3 659.8h0M172.9 648.4h0M176.9 641.8h0M178.4 654.0h0M168.4 657.4h0M174.1 656.5h0M170.6 645.3h0M176.2 655.8h0M169.2 654.7h0M178.2 654.5h0M164.4 651.2h0M176.2 659.1h0M169.5 655.1h0M169.4 656.3h0M172.6 657.6h0M172.3 653.3h0M172.1 656.3h0M175.2 643.8h0M170.4 658.7h0M168.7 656.2h0M173.7 656.9h0M174.0 651.8h0M177.0 647.9h0M176.1 650.1h0M171.1 658.7h0M170.6 654.1h0M172.7 649.4h0M172.1 643.2h0M169.2 652.5h0M174.6 652.5h0M166.6 652.8h0M178.5 654.3h0M173.6 653.9h0M171.5 649.7h0M171.9 654.5h0M168.0 658.5h0M172.6 661.3h0M172.2 658.2h0M166.8 656.5h0M171.3 652.4h0M167.4 659.3h0M172.8 659.0h0M176.3 649.4h0M164.6 654.1h0M170.7 648.0h0M171.0 651.7h0M168.6 653.9h0M169.6 653.9h0M176.8 657.7h0M173.5 660.5h0M172.3 654.6h0M172.0 645.7h0M172.1 647.7h0M178.2 655.4h0M168.9 658.6h0M172.2 649.6h0M176.3 657.4h0M174.5 660.4h0M166.3 648.8h0M170.7 654.5h0M168.1 651.2h0M174.1 665.7h0M174.6 646.9h0M176.2 656.0h0M173.3 651.0h0M168.0 649.2h0M179.5 658.7h0M167.8 653.8h0M167.1 650.8h0M172.8 663.2h0M165.8 661.7h0M175.6 647.4h0M168.4 660.3h0M180.1 658.1h0M173.0 656.8h0M169.3 651.0h0M168.2 652.9h0M170.1 654.6h0M170.1 659.8h0M167.1 658.4h0M172.8 659.9h0M171.6 662.7h0M170.3 662.8h0M168.1 657.2h0M173.2 652.9h0M173.1 653.5h0M173.4 655.7h0M166.6 654.0h0M174.7 649.0h0M173.9 656.7h0M175.8 654.2h0M168.3 651.1h0M169.7 659.1h0M176.6 656.3h0M169.8 659.5h0M167.1 660.2h0M170.5 654.7h0M167.8 658.7h0M174.2 660.5h0M170.3 665.0h0M162.2 654.7h0M173.7 657.7h0M169.3 655.1h0M169.7 657.1h0M172.7 649.9h0M175.6 645.8h0M170.5 657.0h0M163.9 648.2h0M178.9 659.2h0M167.6 653.9h0M173.1 668.3h0M172.5 657.5h0M173.1 651.5h0M171.7 653.4h0M170.9 654.0h0M169.1 649.4h0M172.7 657.3h0M178.5 665.0h0M170.9 654.0h0M173.3 656.9h0M170.1 651.7h0M183.5 654.0h0M165.4 651.0h0M174.0 654.1h0M168.0 650.5h0M181.2 647.7h0M176.5 654.8h0M177.3 655.3h0M175.7 653.0h0M170.7 659.6h0M167.9 645.7h0M174.3 655.3h0M169.9 656.2h0M172.0 649.2h0M170.9 658.2h0M168.0 666.1h0M171.2 648.5h0M177.1 654.8h0M173.4 662.8h0M172.1 653.7h0M179.8 654.6h0M169.5 653.3h0M174.5 660.6h0M169.6 650.8h0M173.3 656.8h0M171.1 651.9h0M166.1 658.0h0M171.4 646.3h0M175.6 654.3h0M167.4 658.0h0M176.6 657.4h0M182.3 652.0h0M168.1 656.0h0M173.3 659.4h0M171.6 649.1h0M168.5 660.4h0M172.0 653.8h0M175.9 650.1h0M174.6 646.4h0M172.2 651.5h0M175.3 658.3h0M172.1 654.4h0M165.3 651.4h0M174.1 666.1h0M178.9 662.7h0M171.7 649.7h0M167.2 652.6h0M167.2 660.0h0M170.4 645.7h0M167.7 662.5h0M175.2 656.0h0M168.6 650.2h0M177.7 658.7h0M174.0 647.6h0M174.6 662.5h0M169.5 645.0h0M167.4 653.2h0M166.2 655.6h0M170.9 656.7h0M170.1 654.5h0M174.5 662.4h0M179.4 655.3h0M168.5 644.4h0M170.0 648.0h0M172.9 656.6h0M176.6 646.7h0M174.7 666.4h0M168.3 646.5h0M172.3 649.5h0M169.5 656.3h0M174.8 659.5h0M166.8 660.7h0M171.3 656.2h0M176.5 655.5h0M180.2 652.6h0M168.2 646.9h0M178.8 655.4h0M169.7 652.0h0M177.9 655.6h0M176.3 656.5h0M177.6 655.3h0M181.7 656.9h0M172.1 652.4h0M181.9 654.8h0M175.3 646.3h0M164.8 655.2h0M171.5 644.7h0M171.7 656.0h0M166.7 655.2h0M176.2 650.6h0M172.2 655.2h0M176.6 664.7h0M177.8 654.2h0M176.2 651.7h0M175.7 648.8h0M168.8 656.7h0M174.6 655.2h0" stroke="#4a62d6" stroke-width="0.9" stroke-linecap="round" stroke-opacity="0.55" fill="none"/><path d="M169.6 671.1h0M149.8 664.8h0M146.4 666.3h0M140.3 659.7h0M143.3 661.6h0M167.8 657.6h0M149.3 646.0h0M145.9 666.3h0M133.1 658.9h0M150.3 652.2h0M140.8 664.0h0M152.7 669.2h0M137.2 678.4h0M164.0 669.2h0M145.1 662.4h0M181.6 683.0h0M151.0 659.7h0M165.1 663.9h0M158.8 684.4h0M142.0 669.7h0M113.0 661.4h0M150.3 678.5h0M147.0 664.5h0M159.6 670.2h0M150.9 649.5h0M166.0 673.0h0M152.9 659.3h0M131.8 664.3h0M142.0 661.1h0M143.4 653.0h0M159.5 663.6h0M151.6 670.2h0M142.6 656.1h0M129.6 661.0h0M160.7 677.1h0M166.6 674.8h0M155.4 660.3h0M143.5 662.1h0M147.7 654.7h0M154.9 673.4h0M143.0 647.4h0M144.9 679.6h0M135.1 674.6h0M140.5 664.4h0M151.2 666.3h0M160.0 662.0h0M136.7 647.1h0M131.5 676.1h0M152.2 679.7h0M136.2 657.7h0M152.5 660.9h0M132.7 675.0h0M147.3 660.6h0M147.5 666.8h0M146.2 665.1h0M166.9 657.7h0M153.5 661.5h0M143.1 668.0h0M135.3 673.0h0M168.1 641.3h0M136.0 679.8h0M165.3 645.7h0M150.2 682.3h0M167.1 670.2h0M159.2 661.0h0M138.9 675.9h0M138.3 677.1h0M154.7 667.8h0M158.5 667.5h0M140.1 663.1h0M132.6 682.0h0M144.7 642.8h0M160.4 660.9h0M158.8 676.4h0M152.6 659.1h0M145.9 667.9h0M155.3 657.5h0M129.2 670.2h0M164.2 668.4h0M135.2 682.9h0M168.7 671.4h0M140.2 662.7h0M168.3 645.4h0M129.2 687.4h0M130.5 658.4h0M141.7 668.7h0M170.0 668.5h0M135.1 668.1h0M123.7 669.5h0M160.6 682.8h0M136.6 664.9h0M130.9 676.0h0M136.3 662.3h0M150.6 676.1h0M138.0 659.8h0M136.5 672.2h0M128.2 666.6h0M147.1 674.2h0M149.7 668.9h0M152.8 655.7h0M173.6 678.2h0M150.0 670.4h0M129.3 648.6h0M143.4 666.2h0M149.0 655.8h0M152.1 647.1h0M163.1 665.1h0M159.4 648.2h0M148.5 684.7h0M141.8 676.3h0M139.6 664.6h0M140.0 664.4h0M136.6 697.1h0M132.8 675.4h0M143.7 675.8h0M144.8 663.4h0M141.4 655.3h0M149.0 660.8h0M149.6 671.0h0M140.1 684.1h0" stroke="#a0aaee" stroke-width="0.9" stroke-linecap="round" stroke-opacity="0.45" fill="none"/><ellipse cx="172" cy="653" rx="4" ry="5" fill="#4a62d6" fill-opacity="0.35" filter="url(#f1_5)"/><ellipse cx="145" cy="680" rx="10" ry="3" fill="#4a62d6" fill-opacity="0.3" filter="url(#f1_5)"/><ellipse cx="137.5" cy="680" rx="9.75" ry="5.4" fill="#4a62d6" fill-opacity="0.55" filter="url(#f1)"/><ellipse cx="137.5" cy="680" rx="7.47" ry="4.14" fill="#3aa2c6" fill-opacity="0.85" filter="url(#f0_8)"/><ellipse cx="137.5" cy="680" rx="5.52" ry="3.06" fill="#7cc63c" fill-opacity="0.95" filter="url(#f0_6)"/><ellipse cx="137.5" cy="680" rx="3.25" ry="1.8" fill="#e8e23a" fill-opacity="1" filter="url(#f0_5)"/><ellipse cx="137.5" cy="680" rx="1.62" ry="0.9" fill="#e2401c" fill-opacity="1" filter="url(#f0_4)"/></g>
<rect x="131.5" y="638.5" width="47.2" height="46.6" fill="none" stroke="#8a8a8a" stroke-width="0.7" />
<text x="130.3" y="684.1" font-size="2.6" text-anchor="end" fill="#888" style="stroke:none">10<tspan font-size="1.8" dy="-1">1</tspan></text>
<line x1="130.7" y1="683.1" x2="131.5" y2="683.1" stroke="#888" stroke-width="0.4"/>
<text x="130.3" y="674.19" font-size="2.6" text-anchor="end" fill="#888" style="stroke:none">10<tspan font-size="1.8" dy="-1">2</tspan></text>
<line x1="130.7" y1="673.19" x2="131.5" y2="673.19" stroke="#888" stroke-width="0.4"/>
<text x="130.3" y="664.29" font-size="2.6" text-anchor="end" fill="#888" style="stroke:none">10<tspan font-size="1.8" dy="-1">3</tspan></text>
<line x1="130.7" y1="663.29" x2="131.5" y2="663.29" stroke="#888" stroke-width="0.4"/>
<text x="130.3" y="654.38" font-size="2.6" text-anchor="end" fill="#888" style="stroke:none">10<tspan font-size="1.8" dy="-1">4</tspan></text>
<line x1="130.7" y1="653.38" x2="131.5" y2="653.38" stroke="#888" stroke-width="0.4"/>
<text x="130.3" y="644.47" font-size="2.6" text-anchor="end" fill="#888" style="stroke:none">10<tspan font-size="1.8" dy="-1">5</tspan></text>
<line x1="130.7" y1="643.47" x2="131.5" y2="643.47" stroke="#888" stroke-width="0.4"/>
<text x="134.5" y="688.5" font-size="2.6" text-anchor="middle" fill="#888" style="stroke:none">10<tspan font-size="1.8" dy="-1">1</tspan></text>
<line x1="134.5" y1="685.1" x2="134.5" y2="685.9" stroke="#888" stroke-width="0.4"/>
<text x="144.08" y="688.5" font-size="2.6" text-anchor="middle" fill="#888" style="stroke:none">10<tspan font-size="1.8" dy="-1">2</tspan></text>
<line x1="144.08" y1="685.1" x2="144.08" y2="685.9" stroke="#888" stroke-width="0.4"/>
<text x="153.66" y="688.5" font-size="2.6" text-anchor="middle" fill="#888" style="stroke:none">10<tspan font-size="1.8" dy="-1">3</tspan></text>
<line x1="153.66" y1="685.1" x2="153.66" y2="685.9" stroke="#888" stroke-width="0.4"/>
<text x="163.24" y="688.5" font-size="2.6" text-anchor="middle" fill="#888" style="stroke:none">10<tspan font-size="1.8" dy="-1">4</tspan></text>
<line x1="163.24" y1="685.1" x2="163.24" y2="685.9" stroke="#888" stroke-width="0.4"/>
<text x="172.83" y="688.5" font-size="2.6" text-anchor="middle" fill="#888" style="stroke:none">10<tspan font-size="1.8" dy="-1">5</tspan></text>
<line x1="172.83" y1="685.1" x2="172.83" y2="685.9" stroke="#888" stroke-width="0.4"/>
<line x1="153.8" y1="638.5" x2="153.8" y2="685.1" stroke="#444" stroke-width="0.75"/>
<line x1="131.5" y1="669.8" x2="178.7" y2="669.8" stroke="#444" stroke-width="0.75"/>
<text x="176.7" y="643.3" font-size="5" text-anchor="end" font-weight="normal" font-style="normal" fill="#222" >11.5%</text>
<g clip-path="url(#c24)"><ellipse cx="210.75" cy="676.5" rx="22" ry="7" fill="#aab4ee" fill-opacity="0.4" filter="url(#f2_5)"/><ellipse cx="198.75" cy="660.5" rx="9" ry="7" fill="#aab4ee" fill-opacity="0.35" filter="url(#f2_5)"/><ellipse cx="218.75" cy="663.5" rx="12" ry="9" fill="#c0c8f2" fill-opacity="0.3" filter="url(#f2_5)"/><path d="M197.9 658.2h0M195.8 663.9h0M197.7 660.3h0M192.2 652.1h0M193.7 667.2h0M195.0 664.0h0M195.8 663.2h0M196.4 661.2h0M201.4 655.3h0M199.8 658.9h0M195.8 660.8h0M205.5 671.6h0M196.7 667.5h0M198.9 658.4h0M199.8 655.3h0M198.6 658.9h0M187.3 658.3h0M199.8 659.1h0M197.9 661.2h0M197.4 665.1h0M195.9 652.4h0M195.4 666.2h0M188.6 662.7h0M197.3 666.6h0M192.7 655.2h0M198.3 654.0h0M200.7 664.5h0M197.6 665.4h0M203.3 665.2h0M195.3 666.1h0M194.6 654.7h0M195.1 660.1h0M194.8 669.0h0M189.4 654.3h0M191.9 663.4h0M203.6 664.3h0M202.4 657.6h0M199.2 662.0h0M186.0 659.0h0M198.1 664.3h0M197.7 656.2h0M200.2 660.5h0M194.8 653.3h0M190.1 663.8h0M196.7 662.9h0M190.7 663.0h0M200.1 653.1h0M200.0 654.5h0M200.6 658.6h0M198.3 654.7h0M199.9 663.6h0M201.3 667.2h0M199.7 660.6h0M196.6 660.7h0M193.4 660.8h0M194.4 657.7h0M198.7 663.8h0M199.4 658.5h0M199.5 659.2h0M198.3 660.4h0M190.4 667.1h0M198.2 668.5h0M202.4 661.3h0M196.7 659.7h0M203.2 654.9h0M194.6 657.1h0M195.8 657.0h0M196.4 661.7h0M192.8 664.6h0M195.8 660.5h0M193.6 665.1h0M203.8 660.8h0M197.7 654.0h0M204.7 660.6h0M199.1 660.8h0M188.9 657.1h0M193.6 659.3h0M205.8 663.6h0M196.5 656.9h0M200.1 658.1h0M190.9 661.8h0M198.7 661.1h0M193.4 661.3h0M198.4 652.6h0M202.9 662.3h0M199.2 658.7h0M191.6 661.9h0M202.6 660.3h0M191.0 662.6h0M199.4 661.6h0M196.6 664.6h0M196.5 667.8h0M195.2 653.0h0M197.7 663.1h0M205.2 655.3h0M196.2 662.9h0M192.1 659.5h0M192.1 669.8h0M192.5 656.7h0M196.4 656.9h0M198.1 662.1h0M201.1 662.7h0M197.4 660.9h0M192.1 659.3h0M191.9 661.1h0M200.6 664.1h0M203.1 661.2h0M195.8 665.7h0M191.2 663.5h0M194.7 659.7h0M199.8 665.5h0M191.9 658.8h0M199.3 653.8h0M194.2 661.5h0M193.6 669.8h0M204.6 664.3h0M192.7 661.0h0M192.9 660.7h0M194.1 658.5h0M197.0 663.6h0M193.6 667.1h0M195.2 661.3h0M194.2 654.4h0M200.1 664.4h0M196.7 660.4h0M198.3 658.3h0M190.9 667.7h0M199.4 663.7h0M199.5 660.2h0M190.8 660.1h0M198.2 658.2h0M201.0 663.6h0M199.4 663.0h0M194.7 660.7h0M198.5 652.4h0M199.8 667.1h0M198.2 657.7h0M196.5 666.5h0M199.7 661.3h0M205.5 665.1h0M195.4 667.1h0M195.8 662.8h0M193.7 657.7h0M200.7 661.4h0M197.4 656.5h0M195.0 659.7h0M199.6 655.2h0M195.6 664.3h0M198.6 658.5h0M199.2 660.9h0M195.8 666.5h0M190.6 657.5h0M201.6 665.1h0M198.8 658.3h0M197.9 663.3h0M199.5 667.0h0M190.3 661.2h0M202.3 661.4h0M200.9 663.6h0M203.4 664.8h0" stroke="#6f82e4" stroke-width="0.9" stroke-linecap="round" stroke-opacity="0.5" fill="none"/><path d="M225.3 667.2h0M195.5 677.8h0M206.5 680.4h0M213.3 671.5h0M213.9 672.2h0M203.2 677.9h0M217.7 683.3h0M217.3 677.5h0M214.5 673.7h0M218.6 663.5h0M220.9 689.0h0M226.8 669.8h0M221.6 678.0h0M231.4 675.3h0M200.3 667.8h0M222.6 685.8h0M199.9 676.4h0M246.9 674.4h0M214.8 682.9h0M196.9 676.0h0M198.7 674.1h0M217.6 668.1h0M215.9 682.9h0M213.5 676.0h0M201.6 674.8h0M225.7 678.8h0M233.4 669.5h0M204.1 677.2h0M217.1 672.2h0M207.0 672.6h0M219.1 672.7h0M202.7 683.5h0M219.1 671.6h0M183.5 673.9h0M202.0 670.6h0M220.3 670.8h0M217.8 670.9h0M220.4 672.3h0M234.3 673.5h0M210.0 679.7h0M213.7 673.1h0M205.1 674.3h0M193.5 674.8h0M222.7 677.5h0M211.2 687.0h0M209.8 671.4h0M209.0 674.2h0M229.1 679.2h0M200.8 676.4h0M212.1 683.9h0M220.2 673.8h0M225.2 681.2h0M219.5 678.0h0M216.5 676.9h0M211.8 672.1h0M220.8 673.6h0M201.1 683.9h0M211.6 672.9h0M205.3 675.8h0M212.5 672.4h0M230.0 672.8h0M202.3 685.7h0M222.2 678.5h0M215.4 675.8h0M209.4 671.0h0M194.1 682.0h0M203.1 666.7h0M210.7 660.4h0M203.4 681.4h0M206.8 672.5h0M237.1 680.4h0M221.5 675.4h0M212.2 686.9h0M217.7 678.0h0M213.8 681.5h0M218.9 676.7h0M204.5 672.8h0M218.5 677.9h0M220.3 670.6h0M182.7 667.8h0M206.1 673.8h0M196.6 679.2h0M211.3 670.6h0M223.3 676.4h0M208.7 674.7h0M209.0 679.9h0M186.9 680.5h0M221.3 677.7h0M242.8 677.2h0M218.3 679.7h0M222.1 667.5h0M194.3 669.9h0M228.3 678.6h0M182.8 682.3h0M229.0 681.1h0M194.8 677.1h0M222.0 683.1h0M203.0 685.5h0M224.1 674.8h0M205.1 674.4h0M213.6 668.2h0M218.7 681.0h0M220.8 678.3h0M247.5 678.0h0M209.3 682.6h0M214.0 676.9h0M236.5 688.8h0M201.6 684.2h0M206.9 686.0h0M204.7 691.5h0M204.1 673.1h0M211.4 678.9h0M212.3 685.1h0M226.2 672.0h0M219.9 674.0h0M199.9 670.6h0M210.6 680.5h0M211.4 677.1h0M202.9 663.1h0M223.2 688.6h0M198.9 670.1h0M223.4 680.2h0M224.5 682.6h0M197.6 674.2h0M210.2 683.1h0M205.7 664.2h0M228.6 672.3h0M206.6 672.1h0M200.5 680.7h0M214.4 676.7h0M218.0 671.2h0M199.7 684.5h0M209.5 671.8h0M197.5 672.7h0M185.6 681.0h0M207.8 684.3h0M217.8 674.9h0M199.9 674.9h0M177.7 681.8h0M208.8 672.5h0M235.3 672.1h0M231.0 681.3h0M208.8 676.1h0M232.7 660.7h0M223.5 671.6h0M225.6 677.7h0M196.1 674.5h0M195.9 661.3h0M193.3 673.1h0M187.7 669.9h0M221.0 686.5h0M226.6 687.7h0M207.8 681.0h0M194.9 675.2h0M175.2 670.3h0M211.5 681.3h0M197.0 684.6h0M222.1 679.0h0M207.3 677.2h0M214.1 684.7h0M201.0 674.2h0M195.9 679.2h0M214.7 671.3h0M229.8 683.6h0M221.6 680.2h0M230.5 686.4h0M218.3 672.2h0M204.1 671.3h0M217.4 678.0h0M210.2 672.1h0M209.2 682.6h0M198.9 675.9h0M218.2 672.2h0M207.5 678.5h0M218.6 683.7h0M207.9 681.4h0M219.5 677.5h0M188.9 666.2h0M203.8 671.4h0M220.5 672.7h0M214.6 674.7h0M183.1 674.3h0M202.0 680.9h0M207.8 677.8h0M199.7 676.1h0M214.2 672.3h0M237.1 680.3h0M230.3 685.8h0M198.4 673.1h0M218.4 681.8h0M210.6 675.4h0M212.3 667.8h0M219.0 670.2h0M228.8 669.8h0M199.8 686.2h0M208.0 681.8h0M214.5 682.4h0M227.0 677.1h0M213.8 678.1h0M206.9 668.7h0M204.3 675.3h0M213.6 675.1h0M222.0 679.5h0M212.3 682.1h0M237.1 668.8h0M213.5 680.1h0M206.6 680.3h0M227.1 681.2h0M222.0 679.6h0M229.5 683.2h0M208.8 678.6h0M210.4 671.9h0M209.8 681.7h0M209.7 682.8h0M217.8 679.9h0M201.1 672.5h0M225.0 681.0h0M203.1 668.8h0M199.0 679.5h0M200.2 687.3h0M193.6 678.5h0M207.2 670.0h0M218.6 681.0h0M209.7 670.4h0M219.9 681.1h0M206.4 661.7h0M212.8 672.3h0M212.7 684.9h0M210.0 681.3h0M232.9 663.0h0M224.9 668.1h0M203.8 675.0h0M205.6 679.6h0M204.7 674.3h0M221.1 672.3h0M182.7 676.2h0M204.1 667.6h0M238.3 679.5h0M209.3 676.3h0M179.2 681.9h0M199.8 680.9h0M183.2 683.2h0M213.8 668.8h0M213.1 679.9h0M207.3 689.0h0M203.5 685.5h0M225.2 670.2h0M190.2 676.9h0M228.0 672.3h0M205.8 665.2h0M223.0 677.3h0M213.2 669.3h0M202.5 675.9h0M219.4 666.5h0M221.0 677.9h0M200.8 679.3h0M216.3 665.6h0M214.5 672.9h0M215.4 681.0h0M213.0 673.4h0" stroke="#6f82e4" stroke-width="0.9" stroke-linecap="round" stroke-opacity="0.45" fill="none"/><path d="M232.6 652.9h0M232.1 658.4h0M234.2 653.0h0M231.6 656.9h0M230.5 653.1h0M237.2 662.9h0M228.4 649.9h0M229.8 643.5h0M237.9 657.6h0M239.1 658.4h0M222.2 648.6h0M234.9 653.8h0M233.2 656.1h0M227.4 646.3h0M233.3 654.0h0M235.2 656.2h0M224.2 650.9h0M229.1 655.2h0M225.2 642.3h0M233.5 647.0h0M232.7 659.4h0M234.7 658.3h0M235.4 646.5h0M228.5 656.8h0M237.0 651.8h0M225.2 652.4h0M237.4 656.3h0M224.6 650.7h0M233.3 659.1h0M233.8 662.2h0M231.8 656.7h0M232.3 659.3h0M231.0 658.8h0M234.0 651.4h0M233.1 654.3h0M231.5 653.6h0M231.9 655.4h0M225.7 649.4h0M231.2 650.0h0M224.5 664.6h0M230.3 647.3h0M234.5 655.2h0M232.8 654.3h0M229.7 656.1h0M225.2 655.9h0M234.8 658.3h0M233.8 654.6h0M235.8 658.2h0M222.9 651.1h0M225.4 651.5h0M238.4 650.6h0M234.5 648.6h0M224.5 648.7h0M230.1 650.7h0M221.6 650.2h0M231.0 651.9h0M225.8 645.9h0M228.0 657.9h0M235.4 665.5h0M230.5 650.7h0M226.6 657.8h0M228.7 651.9h0M225.5 653.6h0M233.4 649.5h0M232.6 652.3h0M233.0 649.1h0M228.1 649.5h0M230.8 651.2h0M225.7 653.1h0M234.6 657.8h0M231.0 652.7h0M236.1 648.9h0M240.7 658.6h0M232.5 655.9h0M238.0 646.6h0M227.5 654.5h0M229.9 657.7h0M232.4 649.6h0M226.1 662.2h0M227.5 647.9h0M227.6 651.6h0M233.3 653.2h0M224.7 662.1h0M237.2 654.2h0M224.2 656.2h0M232.7 653.2h0M235.0 662.6h0M230.2 653.3h0M231.9 655.1h0M230.3 662.0h0M235.3 660.3h0M225.7 656.9h0M229.6 645.4h0M237.0 646.5h0M226.2 642.7h0M226.2 655.9h0M236.9 659.0h0M232.3 658.7h0M229.5 653.7h0M230.4 649.5h0M236.4 646.4h0M231.8 654.7h0M224.6 647.4h0M232.6 649.8h0M231.6 651.8h0M231.0 651.5h0M230.1 658.4h0M224.6 649.0h0M232.7 656.1h0M233.9 655.2h0M221.5 659.3h0M228.0 653.5h0M225.6 657.7h0M231.6 648.1h0M233.2 659.3h0M233.6 644.1h0M234.0 657.0h0M240.6 657.7h0M238.3 655.2h0M223.7 644.3h0M235.9 657.0h0M231.8 661.1h0M230.7 654.8h0M232.3 654.3h0M229.0 653.9h0M232.9 660.6h0M231.1 656.1h0M233.3 649.5h0M227.0 654.6h0M229.7 649.0h0M228.7 645.4h0M235.5 656.5h0M235.9 642.3h0M230.8 655.3h0M228.0 658.4h0M230.9 656.2h0M230.8 652.6h0M229.1 654.2h0M236.4 653.4h0M228.0 650.7h0M234.5 661.3h0M233.6 656.2h0M234.0 648.7h0M229.2 656.6h0M232.5 663.9h0M229.0 658.5h0M237.5 649.4h0M230.5 657.4h0M232.7 655.8h0M237.2 660.3h0M227.1 650.4h0M227.4 652.9h0M234.1 655.0h0M234.8 657.1h0M228.7 644.0h0M228.9 647.8h0M225.7 652.2h0M238.8 651.4h0M234.1 657.3h0M231.2 649.5h0M238.6 654.0h0M239.1 655.5h0M230.6 654.1h0M229.1 650.6h0M233.5 650.0h0M233.9 648.5h0M223.8 652.6h0M235.5 650.2h0M238.9 660.2h0M230.5 660.2h0M229.9 653.8h0M232.8 653.7h0M236.0 648.3h0M226.8 645.9h0M229.8 652.8h0M226.5 657.1h0M225.3 649.0h0M237.2 650.9h0M231.9 639.7h0M231.2 654.3h0M230.4 657.3h0M230.1 654.2h0M228.1 653.1h0M230.9 658.8h0M228.3 648.6h0M229.5 651.0h0M229.9 660.4h0M229.2 663.2h0M235.9 654.1h0M230.6 654.6h0M227.6 656.8h0M233.1 652.5h0M229.1 656.6h0M225.7 651.1h0M227.1 645.3h0M227.0 656.9h0M236.1 649.3h0M228.8 656.9h0M231.7 650.5h0M228.4 659.4h0M223.8 646.9h0M231.0 655.6h0M227.5 649.1h0M235.6 654.8h0M226.2 655.8h0M230.0 659.9h0M234.7 649.3h0M228.1 653.8h0M229.1 656.7h0M229.9 662.8h0M226.9 646.7h0M228.8 651.3h0M228.9 650.8h0M227.4 656.2h0M230.7 652.3h0M225.2 656.7h0M236.6 653.1h0M231.0 659.8h0M230.7 658.2h0M229.3 650.0h0M236.7 647.0h0M233.9 660.3h0M231.7 654.2h0M235.1 648.9h0M230.6 655.7h0M231.6 645.7h0M232.0 651.7h0M236.5 664.3h0M225.2 655.5h0M229.5 641.9h0M233.5 666.0h0M229.2 662.6h0M237.0 656.6h0M231.8 662.9h0M223.9 653.0h0M227.1 656.4h0M231.4 655.7h0M233.1 664.8h0M237.0 654.6h0M230.0 660.7h0M232.6 659.2h0M220.4 659.9h0M235.4 641.1h0M231.4 656.0h0M224.1 660.0h0M232.5 649.1h0M227.6 653.7h0M231.3 651.6h0M232.3 660.6h0M231.6 653.7h0M238.8 659.7h0M229.5 654.0h0M228.7 653.3h0M229.5 649.7h0M233.8 652.1h0M227.6 651.3h0M226.9 653.4h0M230.2 649.6h0M234.8 655.2h0M234.4 654.6h0M233.5 646.4h0M229.8 658.9h0M228.9 655.8h0M225.1 645.2h0M225.1 663.9h0M233.4 649.8h0M232.6 653.4h0M232.5 651.8h0M230.8 659.3h0M234.2 654.9h0M233.5 654.7h0M232.3 649.2h0M230.3 661.2h0M231.6 656.3h0M237.4 659.8h0M238.4 659.4h0M237.9 648.7h0M233.1 654.5h0M224.6 655.7h0M232.1 654.9h0" stroke="#4a62d6" stroke-width="0.9" stroke-linecap="round" stroke-opacity="0.55" fill="none"/><path d="M214.8 665.6h0M232.3 661.5h0M209.5 648.6h0M205.8 670.8h0M214.9 671.9h0M210.4 667.6h0M201.4 681.4h0M194.2 663.2h0M189.7 675.1h0M204.0 664.7h0M189.4 681.1h0M199.8 676.3h0M208.9 665.2h0M206.2 658.1h0M215.7 672.2h0M242.1 649.5h0M205.4 656.3h0M201.9 652.1h0M194.5 673.0h0M200.6 662.3h0M220.7 667.7h0M213.0 664.1h0M210.0 660.7h0M227.4 663.9h0M199.8 661.7h0M212.1 659.2h0M230.8 669.4h0M217.5 666.8h0M193.9 660.6h0M216.3 666.9h0M201.2 651.7h0M196.7 670.6h0M177.9 683.1h0M172.8 657.2h0M228.4 662.7h0M203.6 646.7h0M202.3 668.8h0M197.5 666.8h0M199.8 659.8h0M201.7 679.2h0M226.1 678.3h0M192.7 653.7h0M194.4 662.6h0M220.1 680.1h0M187.8 674.1h0M201.6 660.7h0M220.9 648.6h0M221.3 685.6h0M225.1 656.8h0M212.9 670.5h0M194.3 681.0h0M207.2 676.2h0M206.4 660.2h0M202.3 671.7h0M215.7 677.8h0M185.8 648.1h0M219.4 663.2h0M226.2 671.2h0M205.5 667.7h0M203.1 656.0h0M211.6 660.5h0M207.0 663.2h0M189.7 663.8h0M212.9 655.7h0M218.1 659.4h0M239.0 641.4h0M225.0 681.7h0M212.0 655.8h0M207.0 684.6h0M205.4 669.7h0M209.1 661.5h0M213.2 679.3h0M233.1 652.2h0M203.9 662.2h0M223.7 659.8h0M198.5 660.0h0M209.3 671.0h0M214.8 654.4h0M190.5 693.7h0M208.4 655.9h0M226.3 655.1h0M203.8 676.6h0M216.5 682.3h0M210.6 672.6h0M197.7 664.1h0M230.2 669.7h0M208.1 655.3h0M221.9 685.1h0M214.1 680.9h0M215.5 657.3h0M218.7 659.6h0M212.4 678.3h0M210.7 666.7h0M190.8 659.4h0M208.8 650.4h0M219.9 673.0h0M211.5 658.1h0M193.1 656.3h0M210.6 661.4h0M186.9 665.1h0M195.6 652.3h0M204.3 664.3h0M215.3 649.3h0M208.2 671.1h0M216.1 657.3h0M196.6 663.9h0M207.1 670.2h0M183.9 659.7h0M207.7 667.8h0M219.2 646.1h0M204.4 659.1h0M202.4 655.7h0M205.4 671.4h0M210.8 666.7h0M200.7 685.4h0M187.4 669.8h0M212.5 672.8h0M201.0 669.9h0M194.8 662.9h0M224.8 665.0h0" stroke="#a0aaee" stroke-width="0.9" stroke-linecap="round" stroke-opacity="0.45" fill="none"/><ellipse cx="231" cy="653" rx="3.5" ry="5" fill="#4a62d6" fill-opacity="0.35" filter="url(#f1_5)"/><ellipse cx="197.5" cy="679.5" rx="7.8" ry="7.2" fill="#4a62d6" fill-opacity="0.55" filter="url(#f1)"/><ellipse cx="197.5" cy="679.5" rx="5.98" ry="5.52" fill="#3aa2c6" fill-opacity="0.85" filter="url(#f0_8)"/><ellipse cx="197.5" cy="679.5" rx="4.42" ry="4.08" fill="#7cc63c" fill-opacity="0.95" filter="url(#f0_6)"/><ellipse cx="197.5" cy="679.5" rx="2.6" ry="2.4" fill="#e8e23a" fill-opacity="1" filter="url(#f0_5)"/><ellipse cx="197.5" cy="679.5" rx="1.3" ry="1.2" fill="#e2401c" fill-opacity="1" filter="url(#f0_4)"/></g>
<rect x="188.75" y="638.5" width="47.2" height="46.6" fill="none" stroke="#8a8a8a" stroke-width="0.7" />
<text x="187.55" y="684.1" font-size="2.6" text-anchor="end" fill="#888" style="stroke:none">10<tspan font-size="1.8" dy="-1">1</tspan></text>
<line x1="187.95" y1="683.1" x2="188.75" y2="683.1" stroke="#888" stroke-width="0.4"/>
<text x="187.55" y="674.19" font-size="2.6" text-anchor="end" fill="#888" style="stroke:none">10<tspan font-size="1.8" dy="-1">2</tspan></text>
<line x1="187.95" y1="673.19" x2="188.75" y2="673.19" stroke="#888" stroke-width="0.4"/>
<text x="187.55" y="664.29" font-size="2.6" text-anchor="end" fill="#888" style="stroke:none">10<tspan font-size="1.8" dy="-1">3</tspan></text>
<line x1="187.95" y1="663.29" x2="188.75" y2="663.29" stroke="#888" stroke-width="0.4"/>
<text x="187.55" y="654.38" font-size="2.6" text-anchor="end" fill="#888" style="stroke:none">10<tspan font-size="1.8" dy="-1">4</tspan></text>
<line x1="187.95" y1="653.38" x2="188.75" y2="653.38" stroke="#888" stroke-width="0.4"/>
<text x="187.55" y="644.47" font-size="2.6" text-anchor="end" fill="#888" style="stroke:none">10<tspan font-size="1.8" dy="-1">5</tspan></text>
<line x1="187.95" y1="643.47" x2="188.75" y2="643.47" stroke="#888" stroke-width="0.4"/>
<text x="191.75" y="688.5" font-size="2.6" text-anchor="middle" fill="#888" style="stroke:none">10<tspan font-size="1.8" dy="-1">1</tspan></text>
<line x1="191.75" y1="685.1" x2="191.75" y2="685.9" stroke="#888" stroke-width="0.4"/>
<text x="201.33" y="688.5" font-size="2.6" text-anchor="middle" fill="#888" style="stroke:none">10<tspan font-size="1.8" dy="-1">2</tspan></text>
<line x1="201.33" y1="685.1" x2="201.33" y2="685.9" stroke="#888" stroke-width="0.4"/>
<text x="210.91" y="688.5" font-size="2.6" text-anchor="middle" fill="#888" style="stroke:none">10<tspan font-size="1.8" dy="-1">3</tspan></text>
<line x1="210.91" y1="685.1" x2="210.91" y2="685.9" stroke="#888" stroke-width="0.4"/>
<text x="220.49" y="688.5" font-size="2.6" text-anchor="middle" fill="#888" style="stroke:none">10<tspan font-size="1.8" dy="-1">4</tspan></text>
<line x1="220.49" y1="685.1" x2="220.49" y2="685.9" stroke="#888" stroke-width="0.4"/>
<text x="230.08" y="688.5" font-size="2.6" text-anchor="middle" fill="#888" style="stroke:none">10<tspan font-size="1.8" dy="-1">5</tspan></text>
<line x1="230.08" y1="685.1" x2="230.08" y2="685.9" stroke="#888" stroke-width="0.4"/>
<line x1="211.2" y1="638.5" x2="211.2" y2="685.1" stroke="#444" stroke-width="0.75"/>
<line x1="188.75" y1="669.8" x2="235.95" y2="669.8" stroke="#444" stroke-width="0.75"/>
<text x="233.95" y="643.3" font-size="5" text-anchor="end" font-weight="normal" font-style="normal" fill="#222" >8.5%</text>
<text x="0" y="0" font-size="7.8" text-anchor="middle" fill="#111" transform="translate(5.8,684.7) rotate(-90)">Gr1</text>
<line x1="8.75" y1="675.25" x2="8.75" y2="692.75" stroke="#111" stroke-width="0.9"/>
<line x1="8.75" y1="692.75" x2="27.9" y2="692.75" stroke="#111" stroke-width="0.9"/>
<path d="M7.45,675.75 L8.75,673.25 L10.05,675.75 Z" fill="#111"/>
<path d="M27.4,691.45 L29.9,692.75 L27.4,694.05 Z" fill="#111"/>
<text x="8.1" y="701.5" font-size="7.8" text-anchor="start" font-weight="normal" font-style="normal" fill="#111" >MAC1</text>
<text x="44.4" y="709.4" font-size="8" text-anchor="middle" font-weight="normal" font-style="normal" fill="#111" >WT</text>
<text x="93.5" y="700" font-size="8" text-anchor="middle" font-weight="normal" font-style="italic" fill="#111" >SclCre</text>
<text x="93.5" y="709" font-size="8" text-anchor="middle" font-style="italic" fill="#111">Stat3<tspan font-size="4.96" dy="-3.04">fl/fl</tspan></text>
<text x="151.3" y="700" font-size="8" text-anchor="middle" font-weight="normal" font-style="italic" fill="#111" >SclCre</text>
<text x="151.3" y="709" font-size="8" text-anchor="middle" font-weight="normal" font-style="italic" fill="#111" >V617F</text>
<text x="151.3" y="718" font-size="8" text-anchor="middle" font-style="italic" fill="#111">Stat3<tspan font-size="4.96" dy="-3.04">+/+</tspan></text>
<text x="209.4" y="700" font-size="8" text-anchor="middle" font-weight="normal" font-style="italic" fill="#111" >SclCre</text>
<text x="209.4" y="709" font-size="8" text-anchor="middle" font-weight="normal" font-style="italic" fill="#111" >V617F</text>
<text x="209.4" y="718" font-size="8" text-anchor="middle" font-style="italic" fill="#111">Stat3<tspan font-size="4.96" dy="-3.04">fl/fl</tspan></text>
<text x="241.4" y="507.5" font-size="12.5" text-anchor="start" font-weight="bold" font-style="normal" fill="#111" >H</text>
<text x="261.6" y="507.2" font-size="10.7" text-anchor="start" font-weight="normal" font-style="normal" fill="#111" >Quantification of granulo-</text>
<text x="261.6" y="520.7" font-size="10.7" text-anchor="start" font-weight="normal" font-style="normal" fill="#111" >/monocytes by flow cytometry</text>
<text x="244.2" y="530" font-size="8" text-anchor="start" font-weight="normal" font-style="normal" fill="#111" >%</text>
<text x="261.4" y="530.2" font-size="8.9" text-anchor="start" font-weight="normal" font-style="normal" fill="#111" >bone marrow</text>
<line x1="253.8" y1="534.6" x2="253.8" y2="601.3" stroke="#111" stroke-width="1.3"/>
<line x1="251.8" y1="538.3" x2="253.8" y2="538.3" stroke="#111" stroke-width="1"/>
<text x="250.6" y="540.8" font-size="7.8" text-anchor="end" font-weight="normal" font-style="normal" fill="#111" >80</text>
<line x1="251.8" y1="569.4" x2="253.8" y2="569.4" stroke="#111" stroke-width="1"/>
<text x="250.6" y="571.9" font-size="7.8" text-anchor="end" font-weight="normal" font-style="normal" fill="#111" >40</text>
<line x1="251.8" y1="600.8" x2="253.8" y2="600.8" stroke="#111" stroke-width="1"/>
<text x="250.6" y="603.3" font-size="7.8" text-anchor="end" font-weight="normal" font-style="normal" fill="#111" >0</text>
<line x1="253.8" y1="600.8" x2="390" y2="600.8" stroke="#111" stroke-width="1.2"/>
<line x1="271.5" y1="558.68" x2="271.5" y2="559.23" stroke="#222" stroke-width="1"/>
<line x1="266" y1="558.68" x2="277" y2="558.68" stroke="#222" stroke-width="1.1"/>
<rect x="260.4" y="559.63" width="22.2" height="41.17" fill="#050505" stroke="#050505" stroke-width="0.8" />
<line x1="304.7" y1="539.96" x2="304.7" y2="549.4" stroke="#222" stroke-width="1"/>
<line x1="299.2" y1="539.96" x2="310.2" y2="539.96" stroke="#222" stroke-width="1.1"/>
<rect x="293.6" y="549.8" width="22.2" height="51" fill="#4a7d27" stroke="#111" stroke-width="0.8" />
<line x1="338.5" y1="534.81" x2="338.5" y2="535.2" stroke="#222" stroke-width="1"/>
<line x1="333" y1="534.81" x2="344" y2="534.81" stroke="#222" stroke-width="1.1"/>
<rect x="327.4" y="535.6" width="22.2" height="65.2" fill="#e3050c" stroke="#111" stroke-width="0.8" />
<line x1="371.7" y1="541.36" x2="371.7" y2="546.98" stroke="#222" stroke-width="1"/>
<line x1="366.2" y1="541.36" x2="377.2" y2="541.36" stroke="#222" stroke-width="1.1"/>
<rect x="360.6" y="547.38" width="22.2" height="53.42" fill="#0b2cf0" stroke="#111" stroke-width="0.8" />
<text x="243" y="616" font-size="8" text-anchor="start" font-weight="normal" font-style="normal" fill="#111" >%</text>
<text x="262" y="629.8" font-size="8.9" text-anchor="start" font-weight="normal" font-style="normal" fill="#111" >spleen</text>
<line x1="253.8" y1="623" x2="253.8" y2="688.8" stroke="#111" stroke-width="1.3"/>
<line x1="251.8" y1="626" x2="253.8" y2="626" stroke="#111" stroke-width="1"/>
<text x="250.6" y="628.5" font-size="7.8" text-anchor="end" font-weight="normal" font-style="normal" fill="#111" >80</text>
<line x1="251.8" y1="657" x2="253.8" y2="657" stroke="#111" stroke-width="1"/>
<text x="250.6" y="659.5" font-size="7.8" text-anchor="end" font-weight="normal" font-style="normal" fill="#111" >40</text>
<line x1="251.8" y1="688.3" x2="253.8" y2="688.3" stroke="#111" stroke-width="1"/>
<text x="250.6" y="690.8" font-size="7.8" text-anchor="end" font-weight="normal" font-style="normal" fill="#111" >0</text>
<line x1="253.8" y1="688.3" x2="390" y2="688.3" stroke="#111" stroke-width="1.2"/>
<rect x="260.4" y="687.37" width="22.2" height="0.93" fill="#050505" stroke="#050505" stroke-width="0.8" />
<line x1="304.7" y1="676.29" x2="304.7" y2="680.03" stroke="#222" stroke-width="1"/>
<line x1="299.2" y1="676.29" x2="310.2" y2="676.29" stroke="#222" stroke-width="1.1"/>
<rect x="293.6" y="680.43" width="22.2" height="7.87" fill="#4a7d27" stroke="#111" stroke-width="0.8" />
<line x1="338.5" y1="673.79" x2="338.5" y2="676.99" stroke="#222" stroke-width="1"/>
<line x1="333" y1="673.79" x2="344" y2="673.79" stroke="#222" stroke-width="1.1"/>
<rect x="327.4" y="677.39" width="22.2" height="10.91" fill="#e3050c" stroke="#111" stroke-width="0.8" />
<line x1="371.7" y1="672.7" x2="371.7" y2="676.99" stroke="#222" stroke-width="1"/>
<line x1="366.2" y1="672.7" x2="377.2" y2="672.7" stroke="#222" stroke-width="1.1"/>
<rect x="360.6" y="677.39" width="22.2" height="10.91" fill="#0b2cf0" stroke="#111" stroke-width="0.8" />
<text x="269.5" y="700.5" font-size="7.9" text-anchor="middle" font-weight="normal" font-style="normal" fill="#111" >WT</text>
<text x="304" y="700.5" font-size="7.9" text-anchor="middle" font-weight="normal" font-style="italic" fill="#111" >SclCre</text>
<text x="304" y="709.5" font-size="7.9" text-anchor="middle" font-style="italic" fill="#111">Stat3<tspan font-size="4.9" dy="-3">fl/fl</tspan></text>
<text x="337.6" y="700.5" font-size="7.9" text-anchor="middle" font-weight="normal" font-style="italic" fill="#111" >SclCre</text>
<text x="337.6" y="709.5" font-size="7.9" text-anchor="middle" font-weight="normal" font-style="italic" fill="#111" >V617F</text>
<text x="337.6" y="718.5" font-size="7.9" text-anchor="middle" font-style="italic" fill="#111">Stat3<tspan font-size="4.9" dy="-3">+/+</tspan></text>
<text x="373" y="700.5" font-size="7.9" text-anchor="middle" font-weight="normal" font-style="italic" fill="#111" >SclCre</text>
<text x="373" y="709.5" font-size="7.9" text-anchor="middle" font-weight="normal" font-style="italic" fill="#111" >V617F</text>
<text x="373" y="718.5" font-size="7.9" text-anchor="middle" font-style="italic" fill="#111">Stat3<tspan font-size="4.9" dy="-3">fl/fl</tspan></text>
<text x="401.5" y="507.5" font-size="12.5" text-anchor="start" font-weight="bold" font-style="normal" fill="#111" >I</text>
<text x="415" y="507.2" font-size="10.7" text-anchor="start" font-weight="normal" font-style="normal" fill="#111" >Number of CFU-G</text>
<text x="415" y="520.7" font-size="10.7" text-anchor="start" font-weight="normal" font-style="normal" fill="#111" >per 1x10<tspan font-size="6.5" dy="-4">5</tspan><tspan dy="4"> cells</tspan></text>
<text x="424" y="530.5" font-size="8.9" text-anchor="start" font-weight="normal" font-style="normal" fill="#111" >bone marrow</text>
<line x1="415.2" y1="536" x2="415.2" y2="600.5" stroke="#111" stroke-width="1.3"/>
<line x1="413.2" y1="549.5" x2="415.2" y2="549.5" stroke="#111" stroke-width="1"/>
<text x="412" y="552" font-size="8.2" text-anchor="end" font-weight="normal" font-style="normal" fill="#111" >40</text>
<line x1="413.2" y1="575" x2="415.2" y2="575" stroke="#111" stroke-width="1"/>
<text x="412" y="577.5" font-size="8.2" text-anchor="end" font-weight="normal" font-style="normal" fill="#111" >20</text>
<line x1="413.2" y1="600" x2="415.2" y2="600" stroke="#111" stroke-width="1"/>
<text x="412" y="602.5" font-size="8.2" text-anchor="end" font-weight="normal" font-style="normal" fill="#111" >0</text>
<line x1="415.2" y1="600" x2="512.5" y2="600" stroke="#111" stroke-width="1.2"/>
<line x1="427.05" y1="570.77" x2="427.05" y2="572.53" stroke="#222" stroke-width="1"/>
<line x1="422.55" y1="570.77" x2="431.55" y2="570.77" stroke="#222" stroke-width="1.1"/>
<rect x="419.15" y="572.93" width="15.8" height="27.07" fill="#050505" stroke="#050505" stroke-width="0.8" />
<line x1="451.3" y1="563.21" x2="451.3" y2="569.51" stroke="#222" stroke-width="1"/>
<line x1="446.8" y1="563.21" x2="455.8" y2="563.21" stroke="#222" stroke-width="1.1"/>
<rect x="443.4" y="569.91" width="15.8" height="30.09" fill="#4a7d27" stroke="#111" stroke-width="0.8" />
<line x1="475.3" y1="548.34" x2="475.3" y2="555.02" stroke="#222" stroke-width="1"/>
<line x1="470.8" y1="548.34" x2="479.8" y2="548.34" stroke="#222" stroke-width="1.1"/>
<rect x="467.4" y="555.42" width="15.8" height="44.58" fill="#e3050c" stroke="#111" stroke-width="0.8" />
<line x1="499.55" y1="551.74" x2="499.55" y2="556.28" stroke="#222" stroke-width="1"/>
<line x1="495.05" y1="551.74" x2="504.05" y2="551.74" stroke="#222" stroke-width="1.1"/>
<rect x="491.65" y="556.68" width="15.8" height="43.32" fill="#0b2cf0" stroke="#111" stroke-width="0.8" />
<line x1="427" y1="538.5" x2="503.8" y2="538.5" stroke="#1a1a1a" stroke-width="1.1"/>
<circle cx="465" cy="534" r="1.3" fill="#111"/>
<line x1="427" y1="546.5" x2="474.5" y2="546.5" stroke="#1a1a1a" stroke-width="1.1"/>
<circle cx="451" cy="542" r="1.3" fill="#111"/>
<text x="424" y="629.5" font-size="8.9" text-anchor="start" font-weight="normal" font-style="normal" fill="#111" >spleen</text>
<line x1="415.2" y1="623" x2="415.2" y2="688.5" stroke="#111" stroke-width="1.3"/>
<line x1="413.2" y1="636.25" x2="415.2" y2="636.25" stroke="#111" stroke-width="1"/>
<text x="412" y="638.75" font-size="8.2" text-anchor="end" font-weight="normal" font-style="normal" fill="#111" >40</text>
<line x1="413.2" y1="662" x2="415.2" y2="662" stroke="#111" stroke-width="1"/>
<text x="412" y="664.5" font-size="8.2" text-anchor="end" font-weight="normal" font-style="normal" fill="#111" >20</text>
<line x1="413.2" y1="688" x2="415.2" y2="688" stroke="#111" stroke-width="1"/>
<text x="412" y="690.5" font-size="8.2" text-anchor="end" font-weight="normal" font-style="normal" fill="#111" >0</text>
<line x1="415.2" y1="688" x2="512.5" y2="688" stroke="#111" stroke-width="1.2"/>
<line x1="427.05" y1="669.54" x2="427.05" y2="671.75" stroke="#222" stroke-width="1"/>
<line x1="422.55" y1="669.54" x2="431.55" y2="669.54" stroke="#222" stroke-width="1.1"/>
<rect x="419.15" y="672.15" width="15.8" height="15.85" fill="#050505" stroke="#050505" stroke-width="0.8" />
<line x1="451.3" y1="663.69" x2="451.3" y2="666.94" stroke="#222" stroke-width="1"/>
<line x1="446.8" y1="663.69" x2="455.8" y2="663.69" stroke="#222" stroke-width="1.1"/>
<rect x="443.4" y="667.34" width="15.8" height="20.66" fill="#4a7d27" stroke="#111" stroke-width="0.8" />
<line x1="475.3" y1="664.47" x2="475.3" y2="667.46" stroke="#222" stroke-width="1"/>
<line x1="470.8" y1="664.47" x2="479.8" y2="664.47" stroke="#222" stroke-width="1.1"/>
<rect x="467.4" y="667.86" width="15.8" height="20.14" fill="#e3050c" stroke="#111" stroke-width="0.8" />
<line x1="499.55" y1="664.47" x2="499.55" y2="667.46" stroke="#222" stroke-width="1"/>
<line x1="495.05" y1="664.47" x2="504.05" y2="664.47" stroke="#222" stroke-width="1.1"/>
<rect x="491.65" y="667.86" width="15.8" height="20.14" fill="#0b2cf0" stroke="#111" stroke-width="0.8" />
<text x="419.3" y="700" font-size="8" text-anchor="middle" font-weight="normal" font-style="normal" fill="#111" >WT</text>
<text x="443.9" y="700" font-size="8" text-anchor="middle" font-weight="normal" font-style="italic" fill="#111" >SclCre</text>
<text x="443.9" y="709" font-size="8" text-anchor="middle" font-style="italic" fill="#111">Stat3<tspan font-size="4.96" dy="-3.04">fl/fl</tspan></text>
<text x="473.6" y="700" font-size="8" text-anchor="middle" font-weight="normal" font-style="italic" fill="#111" >SclCre</text>
<text x="473.6" y="709" font-size="8" text-anchor="middle" font-weight="normal" font-style="italic" fill="#111" >V617F</text>
<text x="473.6" y="718" font-size="8" text-anchor="middle" font-style="italic" fill="#111">Stat3<tspan font-size="4.96" dy="-3.04">+/+</tspan></text>
<text x="502.4" y="700" font-size="8" text-anchor="middle" font-weight="normal" font-style="italic" fill="#111" >SclCre</text>
<text x="502.4" y="709" font-size="8" text-anchor="middle" font-weight="normal" font-style="italic" fill="#111" >V617F</text>
<text x="502.4" y="718" font-size="8" text-anchor="middle" font-style="italic" fill="#111">Stat3<tspan font-size="4.96" dy="-3.04">fl/fl</tspan></text>
</svg></body></html>
